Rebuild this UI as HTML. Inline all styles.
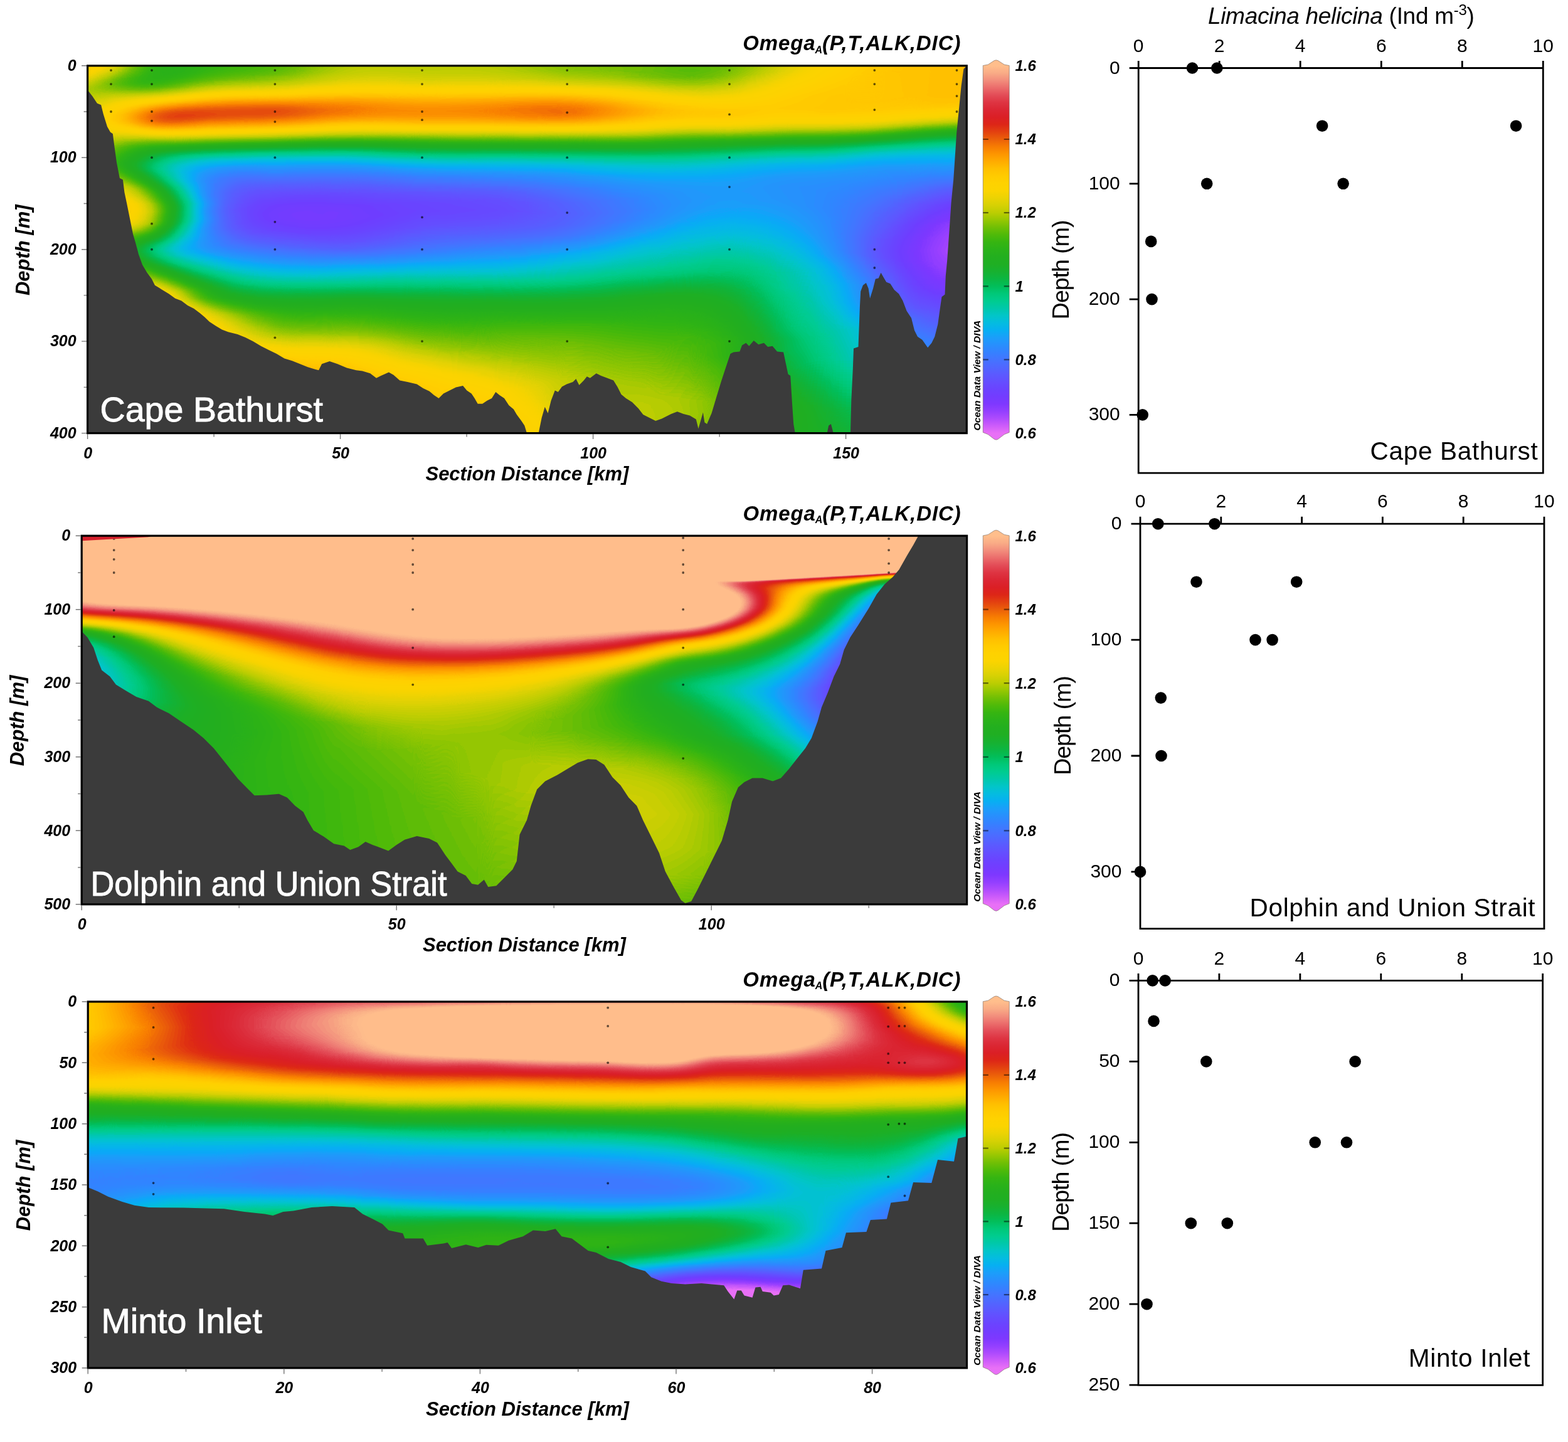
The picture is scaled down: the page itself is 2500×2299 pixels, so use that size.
<!DOCTYPE html>
<html lang="en"><head><meta charset="utf-8"><title>Aragonite saturation sections and Limacina helicina abundance</title>
<style>html,body{margin:0;padding:0;background:#fff}body{position:relative;width:2500px;height:2299px;overflow:hidden}.clip{position:absolute;overflow:hidden}.fld{position:absolute;display:flex;filter:url(#cm)}.fld i{display:block;flex:0 0 6px;height:100%}svg{position:absolute;left:0;top:0}text{font-family:'Liberation Sans', Arial, sans-serif}</style></head><body>
<svg width="0" height="0" style="position:absolute"><defs><filter id="cm" x="0" y="0" width="100%" height="100%" color-interpolation-filters="sRGB"><feGaussianBlur stdDeviation="5 1.2"/><feColorMatrix type="matrix" values=".93773 .058608 .003663 0 0 .93773 .058608 .003663 0 0 .93773 .058608 .003663 0 0 0 0 0 0 1"/><feComponentTransfer><feFuncR type="table" tableValues="0.910 0.910 0.910 0.910 0.910 0.910 0.857 0.804 0.742 0.681 0.620 0.578 0.536 0.494 0.473 0.452 0.431 0.418 0.405 0.392 0.374 0.356 0.337 0.314 0.290 0.267 0.238 0.209 0.180 0.158 0.136 0.106 0.049 0.028 0.022 0.017 0.012 0.008 0.004 0.000 0.000 0.000 0.000 0.000 0.004 0.008 0.028 0.049 0.069 0.088 0.108 0.122 0.129 0.137 0.149 0.163 0.178 0.211 0.256 0.308 0.374 0.439 0.514 0.588 0.663 0.737 0.789 0.841 0.889 0.923 0.957 0.982 0.989 0.995 1.000 1.000 1.000 1.000 1.000 1.000 0.997 0.991 0.984 0.971 0.946 0.922 0.905 0.890 0.877 0.868 0.862 0.857 0.856 0.859 0.862 0.869 0.880 0.891 0.905 0.921 0.936 0.950 0.963 0.976 0.988 1.000 1.000 1.000 1.000 1.000 1.000"/><feFuncG type="table" tableValues="0.439 0.439 0.439 0.439 0.439 0.439 0.400 0.361 0.327 0.293 0.259 0.246 0.233 0.220 0.227 0.235 0.243 0.264 0.285 0.306 0.329 0.353 0.376 0.403 0.429 0.455 0.481 0.507 0.533 0.561 0.589 0.619 0.656 0.685 0.712 0.738 0.757 0.773 0.778 0.784 0.793 0.799 0.791 0.784 0.765 0.745 0.729 0.714 0.703 0.696 0.690 0.686 0.686 0.686 0.690 0.696 0.703 0.711 0.720 0.729 0.739 0.749 0.765 0.780 0.792 0.804 0.811 0.818 0.824 0.827 0.829 0.831 0.828 0.825 0.817 0.797 0.777 0.749 0.710 0.671 0.629 0.583 0.537 0.487 0.430 0.373 0.315 0.255 0.190 0.150 0.137 0.123 0.129 0.149 0.169 0.205 0.252 0.300 0.359 0.425 0.490 0.551 0.610 0.669 0.710 0.745 0.745 0.745 0.745 0.745 0.745"/><feFuncB type="table" tableValues="0.965 0.965 0.965 0.965 0.965 0.965 0.973 0.980 0.987 0.993 1.000 1.000 1.000 1.000 1.000 1.000 1.000 1.000 1.000 1.000 1.000 1.000 1.000 1.000 1.000 1.000 1.000 1.000 1.000 0.993 0.986 0.979 0.974 0.949 0.914 0.880 0.834 0.784 0.725 0.667 0.612 0.560 0.515 0.471 0.412 0.353 0.306 0.259 0.220 0.188 0.157 0.137 0.129 0.122 0.111 0.097 0.084 0.068 0.050 0.036 0.028 0.020 0.014 0.008 0.008 0.008 0.012 0.016 0.018 0.011 0.005 0.000 0.000 0.000 0.000 0.000 0.000 0.000 0.000 0.000 0.000 0.000 0.000 0.007 0.023 0.039 0.051 0.062 0.073 0.092 0.119 0.146 0.173 0.199 0.225 0.260 0.300 0.341 0.380 0.420 0.459 0.484 0.504 0.524 0.537 0.549 0.549 0.549 0.549 0.549 0.549"/></feComponentTransfer></filter></defs></svg>
<div class="clip" style="left:139px;top:104px;width:1403px;height:587px">
<div class="fld" style="left:-26px;top:-5.2px;width:1458px;height:598px">
<i style="background:linear-gradient(#b50 0px,#b2a 8px,#ae7 16px,#9f5 34px,#9b2 40px,#997 44px,#987 50px,#99d 64px,#a0a 82px,#a2c 94px,#a21 110px,#9c7 144px,#9ce 158px,#a16 170px,#b00 192px,#b5a 202px,#bc9 220px,#be8 230px,#bdc 240px,#baa 252px,#b57 264px,#a7d 288px,#a50 298px,#a4f 306px,#a88 318px,#af3 330px,#b86 342px,#cef 366px,#d71 376px,#dfa 390px,#e54 404px,#ea4 426px,#f2e 494px,#ffe 572px,#fff 598px)"></i>
<i style="background:linear-gradient(#b39 0px,#b13 8px,#ae4 14px,#aa3 20px,#9b0 38px,#98f 42px,#97c 48px,#99d 64px,#a12 82px,#a33 94px,#a1e 110px,#9ae 144px,#9ae 158px,#9f5 170px,#ae6 192px,#b41 202px,#bb3 220px,#bd4 230px,#bc7 240px,#b88 254px,#b3d 264px,#a57 288px,#a26 298px,#a26 306px,#a61 318px,#acf 330px,#b65 342px,#cb8 364px,#d5a 376px,#de4 390px,#e3e 404px,#e8d 426px,#f19 494px,#ffe 578px,#fff 598px)"></i>
<i style="background:linear-gradient(#b20 0px,#afa 8px,#acb 14px,#a8a 20px,#9ae 36px,#97b 42px,#96f 46px,#99f 64px,#a1d 82px,#a3b 92px,#a24 108px,#98e 146px,#993 160px,#9e5 172px,#aca 192px,#b28 202px,#b9d 220px,#bc1 230px,#bb2 240px,#b71 254px,#b24 264px,#a65 282px,#a21 290px,#9fd 298px,#9fc 306px,#a39 318px,#aab 330px,#b43 342px,#c9f 364px,#d2b 374px,#dbd 388px,#e1d 402px,#e70 424px,#eff 492px,#ffe 584px,#fff 598px)"></i>
<i style="background:linear-gradient(#b06 0px,#ae1 8px,#ab0 14px,#a6f 20px,#9ab 34px,#974 40px,#962 44px,#96a 50px,#9a3 64px,#a2b 82px,#a47 92px,#a25 108px,#979 144px,#968 156px,#982 164px,#9af 170px,#ac4 194px,#b1d 204px,#b9c 224px,#bad 234px,#b83 246px,#b3f 258px,#af5 266px,#a40 282px,#9f9 290px,#9d2 298px,#9d2 306px,#a11 318px,#a86 330px,#b21 342px,#c86 364px,#d13 374px,#da6 388px,#e06 402px,#e59 424px,#edb 486px,#ffe 590px,#fff 598px)"></i>
<i style="background:linear-gradient(#aeb 0px,#ac5 8px,#a93 14px,#a50 20px,#9a6 32px,#96c 38px,#957 42px,#956 46px,#977 54px,#9b8 66px,#a3a 82px,#a55 92px,#a28 108px,#966 142px,#947 156px,#95e 164px,#98b 170px,#aa8 194px,#af4 202px,#b87 224px,#b99 234px,#b63 248px,#b28 258px,#adb 266px,#a06 284px,#9c2 292px,#9a7 298px,#9a7 306px,#9da 316px,#a62 330px,#aff 342px,#c6d 364px,#cfc 374px,#d7e 386px,#de4 400px,#e3c 422px,#ed0 490px,#fff 598px)"></i>
<i style="background:linear-gradient(#acf 0px,#a88 12px,#a47 18px,#988 32px,#94c 40px,#947 44px,#95f 50px,#9c6 66px,#a3f 80px,#a5d 86px,#a65 92px,#a2c 108px,#94b 142px,#92d 150px,#925 158px,#938 164px,#965 170px,#a8b 194px,#ad9 202px,#b72 224px,#b85 234px,#b43 250px,#b11 258px,#ac0 266px,#9df 284px,#998 292px,#97b 298px,#97b 306px,#9b1 316px,#a3d 330px,#add 342px,#c54 364px,#ce5 374px,#d67 386px,#dcc 400px,#e24 422px,#ebb 490px,#ff4 598px)"></i>
<i style="background:linear-gradient(#ab1 0px,#a97 6px,#a68 12px,#97e 30px,#949 36px,#939 40px,#93b 44px,#95b 50px,#a5f 82px,#a77 92px,#a3f 106px,#930 142px,#90d 150px,#901 158px,#912 164px,#93f 170px,#a6e 194px,#abe 202px,#b5d 224px,#b72 234px,#b2d 250px,#afa 258px,#aa6 266px,#9b8 284px,#96d 292px,#94f 298px,#94f 306px,#988 316px,#a18 330px,#abb 342px,#c3a 364px,#ccd 374px,#d50 386px,#db4 400px,#e06 420px,#ea0 488px,#fe5 598px)"></i>
<i style="background:linear-gradient(#a92 0px,#a78 6px,#a46 12px,#95c 30px,#928 38px,#929 42px,#949 48px,#a69 80px,#a86 86px,#a8b 92px,#a79 98px,#a47 106px,#980 128px,#915 142px,#8e7 152px,#8de 160px,#8f6 166px,#92c 172px,#a4f 194px,#aa3 202px,#b47 224px,#b5e 234px,#b0d 252px,#ae4 258px,#a8b 266px,#9c4 280px,#964 288px,#929 296px,#91e 304px,#94e 314px,#9dc 328px,#a99 342px,#bff 362px,#c9b 372px,#d25 384px,#d91 398px,#dee 420px,#e86 486px,#fd5 598px)"></i>
<i style="background:linear-gradient(#a70 0px,#a36 10px,#950 28px,#91d 34px,#912 38px,#91b 42px,#945 48px,#a80 80px,#aa2 88px,#a9d 94px,#a51 106px,#96f 128px,#907 140px,#8c5 152px,#8b7 160px,#8cd 166px,#903 172px,#a30 194px,#a86 202px,#ac9 212px,#b32 224px,#b46 228px,#b4b 234px,#af8 252px,#ace 258px,#a70 266px,#99f 280px,#93a 288px,#8fc 296px,#8f0 304px,#924 314px,#9b7 328px,#a76 342px,#be6 362px,#c83 372px,#d0d 384px,#d78 398px,#dd5 420px,#e6a 484px,#fc5 598px)"></i>
<i style="background:linear-gradient(#a4d 0px,#a32 6px,#9fd 12px,#919 30px,#900 34px,#8fc 38px,#92e 46px,#a8a 78px,#ab7 86px,#ab4 94px,#a92 100px,#a5c 106px,#973 126px,#8fc 138px,#8ad 150px,#890 160px,#8a3 166px,#8da 172px,#a0f 194px,#a6a 202px,#aab 212px,#b1c 224px,#b32 228px,#b37 234px,#ae3 252px,#ab8 258px,#a72 264px,#979 280px,#90f 288px,#8cd 296px,#8c2 304px,#8f9 314px,#992 328px,#a54 342px,#bcc 362px,#c6b 372px,#cf5 384px,#d5f 398px,#dbc 420px,#e4f 482px,#fb5 598px)"></i>
<i style="background:linear-gradient(#a28 0px,#a0c 6px,#9d6 12px,#90a 28px,#8e2 36px,#912 44px,#9f5 62px,#aa4 78px,#ad2 86px,#ad3 92px,#ab6 98px,#a7e 104px,#964 126px,#8e1 138px,#881 152px,#869 162px,#888 168px,#8c7 174px,#a38 200px,#a9f 214px,#b06 224px,#b1d 228px,#b22 234px,#acf 252px,#aa2 258px,#a58 264px,#953 280px,#8e4 288px,#89e 296px,#893 304px,#8ce 314px,#954 326px,#a32 342px,#bb2 362px,#c36 370px,#cc8 382px,#d39 396px,#d9c 418px,#e39 482px,#fa6 598px)"></i>
<i style="background:linear-gradient(#a00 0px,#9e2 6px,#9ac 12px,#8e9 28px,#8d0 32px,#8cc 36px,#908 44px,#a04 62px,#aac 76px,#ae7 84px,#aee 92px,#acd 98px,#a8d 104px,#955 126px,#8c7 138px,#85f 152px,#83f 162px,#85c 168px,#89c 174px,#9e6 196px,#a2d 202px,#a72 212px,#afc 226px,#b0d 234px,#abb 252px,#a8c 258px,#a3e 264px,#92d 280px,#8b8 288px,#86f 296px,#864 304px,#8a2 314px,#914 324px,#a10 342px,#b99 362px,#c1d 370px,#caf 382px,#d1f 396px,#d82 418px,#e1d 480px,#f96 598px)"></i>
<i style="background:linear-gradient(#9d7 0px,#994 10px,#8ca 28px,#8b5 32px,#8b6 36px,#8fe 44px,#a14 62px,#ac8 76px,#b05 84px,#b0a 92px,#af6 96px,#ab9 102px,#a29 112px,#946 126px,#8c2 136px,#83c 152px,#815 162px,#82f 168px,#86f 174px,#8de 182px,#9c1 196px,#a0c 202px,#a57 212px,#ae4 226px,#af6 234px,#a89 256px,#a23 264px,#907 280px,#872 290px,#835 298px,#833 304px,#853 310px,#8a1 318px,#9cf 340px,#a36 346px,#b7f 362px,#c20 372px,#ca8 384px,#d05 396px,#d68 418px,#e01 478px,#f87 598px)"></i>
<i style="background:linear-gradient(#9ac 0px,#955 12px,#8bb 26px,#89c 32px,#8a2 36px,#8f5 44px,#a23 62px,#ace 74px,#b24 84px,#b28 92px,#b12 96px,#acd 102px,#a30 112px,#938 126px,#8a9 136px,#858 144px,#80a 154px,#7ed 160px,#7ed 164px,#813 170px,#85a 176px,#8ce 184px,#9b9 198px,#9ea 202px,#a39 212px,#aca 226px,#add 234px,#a9d 250px,#a72 256px,#a07 264px,#8e0 280px,#844 290px,#804 298px,#803 304px,#825 310px,#877 318px,#9ae 340px,#a16 346px,#b65 362px,#c05 372px,#c8d 384px,#cea 396px,#d4d 418px,#de5 476px,#f77 598px)"></i>
<i style="background:linear-gradient(#981 0px,#929 12px,#89e 26px,#885 32px,#890 36px,#8ed 44px,#a54 64px,#aea 74px,#b3a 82px,#b4e 90px,#b30 96px,#ae4 102px,#a39 112px,#92b 126px,#891 136px,#83a 144px,#7e4 154px,#7c2 160px,#7bf 164px,#7e3 170px,#844 178px,#8be 186px,#990 198px,#9c5 202px,#a19 212px,#aad 226px,#abe 230px,#abf 236px,#a87 250px,#a5a 256px,#9ea 264px,#8dd 278px,#815 290px,#7d2 298px,#7d1 304px,#7f6 310px,#84c 318px,#9ac 342px,#b25 360px,#bcf 370px,#c5e 382px,#cc1 394px,#d2c 416px,#dc8 474px,#f68 598px)"></i>
<i style="background:linear-gradient(#956 0px,#883 26px,#870 32px,#87f 36px,#8e6 44px,#a65 64px,#b07 74px,#b5b 82px,#b70 90px,#b4f 96px,#afc 102px,#a43 112px,#920 126px,#879 136px,#81b 144px,#7be 154px,#796 160px,#791 164px,#7b1 170px,#82d 180px,#964 198px,#99b 202px,#9f5 212px,#a8c 226px,#aa1 236px,#a6e 250px,#a3f 256px,#9cb 264px,#8dd 276px,#7e6 290px,#79f 298px,#79f 304px,#7c7 310px,#821 318px,#98d 342px,#b0b 360px,#bb4 370px,#c41 382px,#ca4 394px,#d10 416px,#dab 472px,#f58 598px)"></i>
<i style="background:linear-gradient(#92c 0px,#86b 26px,#85e 32px,#871 36px,#8e1 44px,#a76 64px,#b24 74px,#b7e 82px,#b94 86px,#b94 90px,#b71 96px,#b17 102px,#a4e 112px,#916 126px,#881 134px,#7e7 146px,#76a 160px,#765 166px,#791 172px,#833 184px,#933 198px,#96d 202px,#9e1 214px,#a55 224px,#a71 228px,#a7f 234px,#a59 248px,#a20 256px,#9ed 260px,#987 266px,#8b8 276px,#7b7 290px,#776 296px,#766 302px,#776 306px,#7ab 312px,#832 322px,#993 344px,#af0 360px,#b98 370px,#c24 382px,#c87 394px,#cf4 416px,#d8e 470px,#f49 598px)"></i>
<i style="background:linear-gradient(#904 0px,#85e 24px,#84c 30px,#856 34px,#87c 38px,#8dd 44px,#ab0 66px,#b42 74px,#ba3 82px,#bb9 86px,#bba 90px,#b93 96px,#b33 102px,#a5b 112px,#90d 126px,#86f 134px,#7c6 146px,#76d 154px,#73d 160px,#733 166px,#75a 172px,#7fb 184px,#939 202px,#a3a 226px,#a58 236px,#a2b 250px,#9e6 258px,#93f 268px,#894 276px,#788 290px,#743 296px,#733 302px,#766 310px,#7e8 320px,#97a 344px,#ad4 360px,#b5e 368px,#bf1 380px,#c68 394px,#cd8 416px,#d70 468px,#e8d 546px,#f3a 598px)"></i>
<i style="background:linear-gradient(#8de 0px,#89f 8px,#849 24px,#83e 30px,#84c 34px,#876 38px,#8db 44px,#ac3 66px,#b61 74px,#bc8 82px,#bdf 86px,#be1 90px,#bb6 96px,#b50 102px,#a6a 112px,#906 126px,#83c 136px,#78b 148px,#710 160px,#700 166px,#721 172px,#7c0 184px,#8c0 198px,#919 204px,#a08 226px,#a25 232px,#a2b 238px,#a01 250px,#9bf 258px,#919 268px,#758 290px,#70f 296px,#6ff 302px,#735 310px,#7bd 320px,#8be 334px,#963 344px,#ab8 360px,#b40 368px,#bd1 380px,#c49 394px,#c90 406px,#cc3 418px,#d52 466px,#e75 544px,#f2b 598px)"></i>
<i style="background:linear-gradient(#8bb 0px,#87a 8px,#83d 22px,#831 28px,#844 34px,#871 38px,#8dc 44px,#b03 68px,#ba1 76px,#bed 82px,#c04 86px,#c06 90px,#bd8 96px,#b6c 102px,#a78 112px,#901 126px,#82b 136px,#74c 150px,#6e3 160px,#6cd 166px,#6e8 172px,#784 184px,#8a2 200px,#8f6 206px,#9d1 226px,#9fa 238px,#9cf 250px,#992 258px,#8f0 268px,#727 290px,#6db 296px,#6cb 302px,#704 310px,#791 320px,#89e 334px,#971 346px,#a9a 360px,#b03 366px,#baf 380px,#c29 394px,#c72 406px,#ca6 418px,#d33 464px,#e5d 542px,#f1b 598px)"></i>
<i style="background:linear-gradient(#89b 0px,#865 6px,#835 18px,#827 28px,#840 34px,#892 40px,#909 46px,#b18 68px,#bc0 76px,#c0f 82px,#c29 90px,#bf7 96px,#b87 102px,#a86 112px,#8fc 126px,#81b 136px,#727 150px,#6b7 160px,#69c 168px,#6c3 174px,#746 184px,#85e 200px,#8cf 208px,#994 226px,#9c1 238px,#98c 252px,#95e 258px,#89a 270px,#71b 288px,#6d4 292px,#69a 298px,#697 302px,#6d4 310px,#765 320px,#87d 334px,#97c 348px,#a7a 360px,#ae2 366px,#b8c 380px,#c08 394px,#c53 406px,#c89 418px,#d14 462px,#e45 540px,#f0c 598px)"></i>
<i style="background:linear-gradient(#87f 0px,#849 6px,#825 16px,#81e 26px,#83f 34px,#895 40px,#90f 46px,#b5d 70px,#bdd 76px,#c2f 82px,#c45 86px,#c47 90px,#c2e 94px,#c12 96px,#b9d 102px,#a93 112px,#8fa 126px,#7e3 138px,#703 150px,#6b4 156px,#67e 162px,#669 168px,#68a 174px,#707 184px,#838 202px,#88c 208px,#950 226px,#971 232px,#981 240px,#941 254px,#921 258px,#863 270px,#6e7 288px,#6a0 292px,#666 298px,#664 302px,#6a4 310px,#739 320px,#859 334px,#983 350px,#a58 360px,#ac0 366px,#b67 380px,#be5 394px,#c33 406px,#c6b 418px,#cf5 460px,#e2c 538px,#efd 598px)"></i>
<i style="background:linear-gradient(#867 0px,#833 6px,#815 16px,#819 26px,#843 34px,#89c 40px,#916 46px,#b72 70px,#bf6 76px,#c4a 82px,#c61 86px,#c61 90px,#c28 96px,#baf 102px,#ad7 110px,#8f8 126px,#85e 132px,#7a7 140px,#6c3 152px,#653 162px,#63b 170px,#667 176px,#6e4 186px,#7ee 202px,#843 208px,#907 226px,#938 238px,#903 252px,#8d9 258px,#81f 270px,#6b0 288px,#66b 292px,#633 298px,#633 302px,#676 310px,#70c 320px,#a33 360px,#a9b 366px,#b55 382px,#bc2 394px,#c13 406px,#c4d 418px,#cd5 458px,#e14 536px,#eef 598px)"></i>
<i style="background:linear-gradient(#854 0px,#822 6px,#809 16px,#817 26px,#84b 34px,#8a5 40px,#94e 48px,#b87 70px,#c0d 76px,#c61 82px,#c7a 88px,#c55 94px,#c13 98px,#bbb 102px,#ae0 110px,#8c0 128px,#73c 144px,#6a2 152px,#62b 162px,#60d 170px,#631 176px,#6be 188px,#7a2 202px,#80e 210px,#8b7 226px,#8da 232px,#8e8 238px,#8b3 252px,#889 258px,#7d3 270px,#636 292px,#601 298px,#603 302px,#649 310px,#6e0 320px,#a0b 360px,#a74 366px,#b42 384px,#bad 396px,#bfe 408px,#c37 420px,#cc4 460px,#e13 540px,#ee0 598px)"></i>
<i style="background:linear-gradient(#844 0px,#80d 8px,#802 16px,#819 26px,#855 34px,#8b1 40px,#95a 48px,#b9a 70px,#c21 76px,#c75 82px,#c8c 88px,#c62 94px,#bf3 100px,#ae6 110px,#8f7 126px,#786 140px,#6f9 146px,#683 152px,#605 162px,#5e1 170px,#60d 178px,#67b 188px,#78d 206px,#82a 220px,#87d 230px,#891 238px,#85d 252px,#832 258px,#781 270px,#61c 290px,#5da 296px,#5cf 300px,#606 308px,#6b4 320px,#9e0 360px,#a4b 366px,#b2e 386px,#b98 398px,#bde 408px,#c19 420px,#cac 460px,#df3 536px,#ed1 598px)"></i>
<i style="background:linear-gradient(#838 0px,#805 8px,#7fe 16px,#81d 26px,#862 34px,#8bf 40px,#968 48px,#bac 70px,#c33 76px,#c85 82px,#c9a 88px,#c6a 94px,#c24 98px,#bc8 102px,#aea 110px,#8bd 128px,#6e2 146px,#646 154px,#5d1 164px,#5b9 172px,#5e8 180px,#651 190px,#73b 206px,#7d4 220px,#825 230px,#835 238px,#80c 250px,#7d7 258px,#6d1 276px,#5e6 290px,#5ab 296px,#5a2 300px,#5dd 308px,#68a 320px,#9b4 360px,#a20 366px,#b04 386px,#b84 400px,#bf2 418px,#c8b 458px,#da1 520px,#ec2 598px)"></i>
<i style="background:linear-gradient(#830 0px,#801 8px,#7fe 16px,#824 26px,#870 34px,#8ce 40px,#976 48px,#b89 68px,#c1a 74px,#c63 78px,#c92 82px,#ca4 88px,#c6e 94px,#c27 98px,#bca 102px,#aaf 112px,#8bc 128px,#769 140px,#69f 148px,#60b 156px,#5ae 164px,#590 172px,#5c1 182px,#60d 190px,#6d0 204px,#768 218px,#7bd 228px,#7d6 236px,#7bf 246px,#77a 258px,#66a 278px,#5b0 290px,#57d 296px,#577 300px,#5b6 308px,#661 320px,#9f2 366px,#aee 388px,#b6f 402px,#bd3 418px,#c6a 456px,#d90 520px,#eb4 598px)"></i>
<i style="background:linear-gradient(#82a 0px,#800 8px,#805 18px,#82d 26px,#880 34px,#8de 40px,#986 48px,#b98 68px,#c28 74px,#c6f 78px,#c9c 82px,#caa 88px,#c6f 94px,#c26 98px,#bc8 102px,#aaf 112px,#87f 130px,#725 142px,#68b 148px,#5f0 156px,#58e 164px,#568 172px,#599 184px,#5cc 190px,#696 206px,#721 220px,#75f 228px,#774 236px,#75f 246px,#71b 258px,#623 278px,#57e 290px,#553 296px,#550 300px,#592 308px,#63b 320px,#9c0 366px,#ac0 388px,#b5c 404px,#bbd 420px,#c51 456px,#d76 518px,#ea5 598px)"></i>
<i style="background:linear-gradient(#827 0px,#801 8px,#804 16px,#829 24px,#875 32px,#8f0 40px,#997 48px,#ba6 68px,#c34 74px,#c78 78px,#ca2 82px,#cac 88px,#c89 92px,#c4b 96px,#b91 104px,#aad 112px,#78b 138px,#678 148px,#5d8 156px,#571 164px,#544 172px,#563 184px,#58e 190px,#643 206px,#6d7 222px,#707 230px,#70f 236px,#6fd 246px,#6cd 256px,#54e 290px,#52c 296px,#52d 300px,#571 308px,#618 320px,#741 336px,#922 360px,#98a 366px,#a0d 378px,#abf 392px,#b49 406px,#b9e 420px,#c2f 454px,#d65 518px,#e97 598px)"></i>
<i style="background:linear-gradient(#825 0px,#805 8px,#80b 16px,#833 24px,#885 32px,#901 40px,#9a8 48px,#bb4 68px,#c3d 74px,#c97 80px,#cb1 86px,#c86 92px,#c46 96px,#bf0 100px,#aa9 112px,#781 138px,#69b 146px,#60c 152px,#5c2 156px,#544 166px,#51f 174px,#539 186px,#565 192px,#5e0 204px,#67a 222px,#6a4 230px,#6a9 236px,#695 248px,#66f 256px,#532 288px,#50d 294px,#50d 300px,#553 308px,#61a 322px,#718 336px,#8ee 360px,#952 366px,#9d6 378px,#ac1 396px,#b26 406px,#b7e 420px,#c0d 452px,#d4c 516px,#de9 554px,#e88 598px)"></i>
<i style="background:linear-gradient(#826 0px,#80b 8px,#813 16px,#83e 24px,#894 32px,#913 40px,#98c 46px,#a4d 54px,#bc0 68px,#c45 74px,#c9a 80px,#cb0 86px,#c80 92px,#be9 100px,#aa5 112px,#73a 140px,#658 148px,#5ae 156px,#52a 166px,#4fa 176px,#507 186px,#52a 192px,#61e 222px,#63d 228px,#645 234px,#63a 246px,#61e 254px,#506 288px,#4e9 294px,#4e9 298px,#520 306px,#5db 320px,#6f0 336px,#8fd 364px,#99e 378px,#ab0 398px,#b13 408px,#b69 422px,#bea 450px,#d3b 516px,#dda 554px,#e7a 598px)"></i>
<i style="background:linear-gradient(#828 0px,#811 8px,#81c 16px,#84a 24px,#8a4 32px,#924 40px,#99d 46px,#a5d 54px,#bca 68px,#c4c 74px,#c9d 80px,#cad 86px,#c92 90px,#c5a 94px,#bb0 102px,#a64 114px,#730 140px,#64a 148px,#59b 156px,#513 166px,#4d8 176px,#4d7 186px,#4f2 192px,#5d0 224px,#5e2 230px,#5dc 244px,#5b8 256px,#4dd 288px,#4c8 294px,#4cc 298px,#507 306px,#5de 322px,#6a7 334px,#8c7 364px,#966 378px,#a89 398px,#af1 408px,#b4a 422px,#d21 514px,#dc3 552px,#e6c 598px)"></i>
<i style="background:linear-gradient(#82b 0px,#819 8px,#825 16px,#857 24px,#899 30px,#912 38px,#9ae 46px,#bd4 68px,#c52 74px,#c9e 80px,#caa 86px,#c8b 90px,#c51 94px,#ba7 102px,#a5f 114px,#727 140px,#63e 148px,#58b 156px,#4fd 166px,#4b9 176px,#4ae 188px,#57f 226px,#57f 246px,#56c 254px,#520 266px,#4b6 288px,#4ac 296px,#4db 304px,#589 318px,#684 334px,#875 362px,#913 376px,#a61 398px,#acf 408px,#b2b 422px,#d08 512px,#dac 550px,#e5e 598px)"></i>
<i style="background:linear-gradient(#82f 0px,#821 8px,#82f 16px,#863 24px,#8a8 30px,#923 38px,#9be 46px,#bae 66px,#c33 72px,#c75 76px,#c9e 80px,#ca5 86px,#c84 90px,#c23 96px,#b9e 102px,#b03 108px,#9df 118px,#6e0 142px,#5ff 150px,#559 158px,#4d5 168px,#494 178px,#482 188px,#4db 212px,#528 226px,#51d 238px,#528 248px,#519 254px,#4d9 266px,#497 286px,#491 296px,#4d9 306px,#58d 320px,#663 334px,#843 362px,#8dc 376px,#a3a 398px,#aac 408px,#b0b 422px,#cee 510px,#d95 548px,#e50 598px)"></i>
<i style="background:linear-gradient(#833 0px,#829 8px,#83a 16px,#86f 24px,#8b6 30px,#932 38px,#9cd 46px,#bb7 66px,#c38 72px,#c78 76px,#c9d 80px,#ca1 86px,#c7d 90px,#c19 96px,#b95 102px,#afb 108px,#a18 116px,#6d7 142px,#5f3 150px,#54b 158px,#4c3 168px,#478 178px,#45a 188px,#492 212px,#4cb 222px,#4d9 228px,#4c4 238px,#4d5 250px,#496 266px,#46f 288px,#472 294px,#4b0 304px,#590 322px,#644 334px,#7f6 360px,#845 366px,#8a8 376px,#a31 400px,#a9b 410px,#aec 422px,#cde 510px,#d86 548px,#e42 598px)"></i>
<i style="background:linear-gradient(#837 0px,#830 8px,#843 16px,#87b 24px,#8c3 30px,#940 38px,#9db 46px,#bbf 66px,#c3c 72px,#c8e 78px,#ca3 84px,#c8c 88px,#c59 92px,#b8e 102px,#a13 116px,#6cf 142px,#61e 148px,#5b9 152px,#53e 158px,#4b2 168px,#45e 178px,#434 190px,#450 212px,#48b 226px,#473 238px,#489 250px,#45a 264px,#454 292px,#46c 298px,#49c 304px,#57a 322px,#627 334px,#7ca 360px,#817 366px,#879 376px,#a0c 400px,#a79 410px,#acc 422px,#cc4 508px,#d6f 546px,#e34 598px)"></i>
<i style="background:linear-gradient(#83b 0px,#837 8px,#84c 16px,#873 22px,#8b3 28px,#92b 36px,#9bd 44px,#bc6 66px,#c40 72px,#c8e 78px,#c9f 84px,#c87 88px,#c53 92px,#b87 102px,#a0e 116px,#6c7 142px,#5e1 150px,#583 154px,#511 160px,#48d 170px,#43b 180px,#412 190px,#416 212px,#445 226px,#42c 238px,#442 252px,#420 264px,#435 290px,#44b 296px,#489 304px,#57e 324px,#7a1 360px,#86e 378px,#9e8 400px,#a57 410px,#c15 480px,#caa 506px,#d58 544px,#e26 598px)"></i>
<i style="background:linear-gradient(#83f 0px,#83d 8px,#854 16px,#87d 22px,#8be 28px,#936 36px,#9c9 44px,#bcd 66px,#c43 72px,#c8d 78px,#c9b 84px,#c81 88px,#c4d 92px,#b81 102px,#ab4 110px,#a08 116px,#6c0 142px,#5da 150px,#57b 154px,#507 160px,#47e 170px,#418 182px,#3ee 194px,#3e3 212px,#404 226px,#3ed 238px,#403 250px,#3ec 264px,#415 288px,#436 296px,#464 302px,#569 324px,#77a 360px,#84b 378px,#9c4 400px,#a46 412px,#bf6 478px,#c9b 506px,#d4a 544px,#e19 598px)"></i>
<i style="background:linear-gradient(#843 0px,#843 8px,#85c 16px,#886 22px,#8c8 28px,#940 36px,#9d3 44px,#ba6 64px,#c23 70px,#c63 74px,#c8c 78px,#c98 84px,#c7c 88px,#c48 92px,#bd7 98px,#b4c 104px,#a78 112px,#9c6 118px,#6f9 140px,#608 148px,#5a1 152px,#522 158px,#489 168px,#404 182px,#3cf 194px,#3b5 212px,#3ca 224px,#3b4 238px,#3c8 250px,#3bc 262px,#3c7 270px,#416 294px,#441 300px,#493 308px,#5a3 330px,#757 360px,#80e 376px,#9bd 402px,#a35 414px,#be5 478px,#c8b 506px,#d3b 544px,#e0b 598px)"></i>
<i style="background:linear-gradient(#846 0px,#848 8px,#863 16px,#88e 22px,#8d0 28px,#948 36px,#9dc 44px,#bac 64px,#c27 70px,#c64 74px,#c8b 78px,#c94 84px,#c78 88px,#c44 92px,#bd3 98px,#b48 104px,#a74 112px,#9c1 118px,#6f3 140px,#603 148px,#59b 152px,#51a 158px,#47e 168px,#425 176px,#3d7 186px,#397 206px,#395 226px,#381 238px,#395 266px,#3f6 292px,#46c 306px,#58f 330px,#737 360px,#7f2 376px,#99b 402px,#a15 414px,#bc6 476px,#c72 504px,#d25 542px,#dfe 598px)"></i>
<i style="background:linear-gradient(#84a 0px,#84d 8px,#86a 16px,#896 22px,#8d8 28px,#950 36px,#9e4 44px,#bb2 64px,#c2a 70px,#c65 74px,#c8a 78px,#c91 84px,#c74 88px,#c40 92px,#bd0 98px,#b45 104px,#a6f 112px,#9bd 118px,#6ee 140px,#5fd 148px,#514 158px,#475 168px,#419 176px,#3c6 186px,#370 208px,#353 238px,#370 266px,#3e3 292px,#420 300px,#473 308px,#562 328px,#71a 360px,#7d9 376px,#97b 402px,#9f5 414px,#b9a 472px,#c58 502px,#d0e 540px,#df0 598px)"></i>
<i style="background:linear-gradient(#84e 0px,#866 14px,#89d 22px,#8df 28px,#956 36px,#9eb 44px,#bb6 64px,#c2d 70px,#c67 74px,#c8a 78px,#c8f 84px,#c71 88px,#c3d 92px,#bcd 98px,#b42 104px,#aa4 110px,#9b9 118px,#6e8 140px,#5f8 148px,#50f 158px,#46e 168px,#40f 176px,#3b7 186px,#353 208px,#32a 238px,#348 264px,#3c3 290px,#400 298px,#465 308px,#56a 330px,#700 360px,#7c2 376px,#95c 402px,#9d6 414px,#b88 472px,#c4a 502px,#d00 540px,#de3 598px)"></i>
<i style="background:linear-gradient(#851 0px,#86b 14px,#8a3 22px,#8e6 28px,#95d 36px,#9f1 44px,#bbb 64px,#c2f 70px,#c68 74px,#c8a 78px,#c8d 84px,#c6f 88px,#c3a 92px,#bca 98px,#b3f 104px,#aa0 110px,#9b5 118px,#6e3 140px,#5f4 148px,#50a 158px,#468 168px,#407 176px,#3ab 186px,#339 208px,#305 238px,#323 262px,#349 272px,#3a4 288px,#3f2 298px,#457 308px,#559 330px,#7ae 376px,#93e 402px,#9b8 414px,#b69 470px,#c31 500px,#cea 538px,#dd6 598px)"></i>
<i style="background:linear-gradient(#855 0px,#870 14px,#8a9 22px,#8ec 28px,#962 36px,#9f6 44px,#bbe 64px,#c32 70px,#c69 74px,#c8a 78px,#c8b 84px,#c6c 88px,#c37 92px,#bc7 98px,#b3c 104px,#a9d 110px,#9b1 118px,#6de 140px,#5ef 148px,#506 158px,#463 168px,#401 176px,#3a1 186px,#35e 196px,#323 208px,#2e6 236px,#301 260px,#325 270px,#385 286px,#3d2 296px,#44b 308px,#563 332px,#781 374px,#922 402px,#99b 414px,#b4a 468px,#c23 500px,#cdc 538px,#dc9 598px)"></i>
<i style="background:linear-gradient(#859 0px,#875 14px,#8af 22px,#8f1 28px,#967 36px,#9fb 44px,#bc2 64px,#c34 70px,#c6b 74px,#c8a 78px,#c8a 84px,#c6a 88px,#c13 94px,#b39 104px,#a9a 110px,#9ad 118px,#6da 140px,#5eb 148px,#503 158px,#45f 168px,#3fc 176px,#39a 186px,#351 196px,#310 208px,#2ca 236px,#2e1 258px,#304 268px,#34a 280px,#400 302px,#4f5 324px,#5b9 340px,#78b 376px,#8b8 396px,#91f 404px,#96e 412px,#a28 436px,#b0b 462px,#bcb 488px,#c57 512px,#cf9 548px,#dbc 598px)"></i>
<i style="background:linear-gradient(#85e 0px,#87a 14px,#8a3 20px,#8f7 28px,#96b 36px,#9fe 44px,#bc5 64px,#c36 70px,#c6c 74px,#c8b 78px,#c89 84px,#c68 88px,#c11 94px,#b37 104px,#a97 110px,#9aa 118px,#6d5 140px,#61f 146px,#528 156px,#479 166px,#3f8 176px,#394 186px,#346 196px,#301 208px,#2b4 234px,#2c4 256px,#2e5 266px,#32b 278px,#385 290px,#3f5 302px,#4e9 324px,#5c4 342px,#77d 376px,#8a2 396px,#906 404px,#b0c 464px,#bcb 490px,#c4a 512px,#cec 548px,#daf 598px)"></i>
<i style="background:linear-gradient(#862 0px,#87f 14px,#8a8 20px,#8fc 28px,#970 36px,#a02 44px,#bc7 64px,#c39 70px,#c6e 74px,#c8c 78px,#c88 84px,#c67 88px,#c0e 94px,#b34 104px,#a94 110px,#9a6 118px,#6d1 140px,#61b 146px,#525 156px,#477 166px,#3f6 176px,#38f 186px,#33e 196px,#2f4 208px,#2c2 220px,#29e 234px,#2aa 254px,#2c9 264px,#300 274px,#368 288px,#3d7 300px,#4c7 322px,#5b6 342px,#771 376px,#8d8 402px,#93a 412px,#a0b 438px,#afd 464px,#bbe 490px,#c3d 512px,#cdf 548px,#da2 598px)"></i>
<i style="background:linear-gradient(#867 0px,#884 14px,#8ad 20px,#901 28px,#973 36px,#a04 44px,#bca 64px,#c3b 70px,#c70 74px,#c8d 78px,#c88 84px,#c65 88px,#c0c 94px,#b31 104px,#a91 110px,#9a3 118px,#6cd 140px,#617 146px,#523 156px,#476 166px,#3f4 176px,#38c 186px,#329 198px,#2e9 208px,#28f 232px,#286 242px,#296 254px,#2b8 264px,#2f1 274px,#34b 286px,#3ce 300px,#5aa 342px,#8c3 402px,#9e4 436px,#aff 466px,#bb2 490px,#c31 512px,#cd2 548px,#d95 598px)"></i>
<i style="background:linear-gradient(#86c 0px,#889 14px,#8b2 20px,#905 28px,#977 36px,#a07 44px,#bcc 64px,#c3d 70px,#c72 74px,#c8e 78px,#c87 84px,#c64 88px,#c09 94px,#b2d 104px,#a8e 110px,#99f 118px,#6c9 140px,#613 146px,#54a 154px,#494 164px,#425 172px,#3b2 182px,#344 194px,#2ec 206px,#2ae 218px,#284 230px,#276 242px,#281 252px,#29f 262px,#2d6 272px,#32f 284px,#3b1 298px,#487 318px,#59f 342px,#899 400px,#8fb 410px,#9cf 436px,#af2 466px,#ba7 490px,#c25 512px,#ccd 550px,#d89 598px)"></i>
<i style="background:linear-gradient(#872 0px,#88e 14px,#8b8 20px,#90a 28px,#97b 36px,#a09 44px,#bcd 64px,#c3f 70px,#c73 74px,#c8f 78px,#c87 84px,#c62 88px,#c29 92px,#bb6 98px,#b2a 104px,#a8a 110px,#99c 118px,#6c5 140px,#60f 146px,#548 154px,#493 164px,#3b2 182px,#330 196px,#2e6 206px,#29a 220px,#277 230px,#268 242px,#272 252px,#292 262px,#2ca 272px,#325 284px,#395 296px,#469 316px,#595 342px,#888 400px,#9bb 436px,#ae6 466px,#b9c 490px,#c0f 510px,#cb0 546px,#d7c 598px)"></i>
<i style="background:linear-gradient(#878 0px,#894 14px,#8bd 20px,#910 28px,#97f 36px,#a0c 44px,#a88 50px,#bcf 64px,#c40 70px,#c75 74px,#c91 78px,#c86 84px,#c60 88px,#c03 94px,#b86 100px,#af3 106px,#998 118px,#6c1 140px,#60b 146px,#545 154px,#4b2 162px,#426 172px,#3b2 182px,#32e 196px,#2e1 206px,#291 220px,#26c 230px,#25c 242px,#266 252px,#2b2 270px,#30a 282px,#37a 294px,#44b 314px,#58d 342px,#863 398px,#8b2 406px,#9a8 436px,#a6c 454px,#adb 466px,#b91 490px,#c04 510px,#ca4 546px,#d70 598px)"></i>
<i style="background:linear-gradient(#87f 0px,#89a 14px,#8c3 20px,#915 28px,#983 36px,#a0e 44px,#a89 50px,#bd0 64px,#c42 70px,#c76 74px,#c91 78px,#c85 84px,#c5e 88px,#bff 94px,#b82 100px,#aef 106px,#995 118px,#6be 140px,#608 146px,#543 154px,#4b2 162px,#3b2 182px,#2dd 206px,#28a 220px,#263 230px,#252 242px,#25b 252px,#27b 262px,#2a8 270px,#35e 292px,#444 314px,#585 342px,#714 372px,#840 396px,#8a2 406px,#997 436px,#a75 456px,#ae1 468px,#b87 490px,#bf9 510px,#d63 598px)"></i>
<i style="background:linear-gradient(#885 0px,#8a0 14px,#8ca 20px,#91b 28px,#988 36px,#a38 46px,#bd1 64px,#c42 70px,#c77 74px,#c92 78px,#c83 84px,#c5b 88px,#bfb 94px,#b7e 100px,#aeb 106px,#991 118px,#6ba 140px,#604 146px,#541 154px,#4b1 162px,#3b3 182px,#2da 206px,#284 220px,#25b 230px,#249 242px,#252 252px,#272 262px,#2a0 270px,#357 292px,#43e 314px,#57e 342px,#70f 372px,#835 396px,#893 406px,#975 434px,#a6b 456px,#ad8 468px,#b7e 490px,#bef 510px,#d57 598px)"></i>
<i style="background:linear-gradient(#88d 0px,#8a7 14px,#8d1 20px,#921 28px,#98d 36px,#a3b 46px,#bd2 64px,#c42 70px,#c77 74px,#c91 78px,#c80 84px,#c58 88px,#bf7 94px,#b79 100px,#ae6 106px,#98d 118px,#6b6 140px,#601 146px,#53f 154px,#4b1 162px,#3b4 182px,#2d8 206px,#25a 228px,#242 242px,#24a 252px,#28b 268px,#33c 290px,#422 312px,#579 342px,#60f 354px,#70c 372px,#816 394px,#876 404px,#8ec 420px,#967 434px,#a62 456px,#ad0 468px,#b68 488px,#bda 508px,#d4b 598px)"></i>
<i style="background:linear-gradient(#895 0px,#8af 14px,#8d9 20px,#928 28px,#992 36px,#a3f 46px,#bd2 64px,#c41 70px,#c75 74px,#c8e 78px,#c7d 84px,#c53 88px,#bf2 94px,#b74 100px,#ae1 106px,#988 118px,#6b3 140px,#5fe 146px,#53e 154px,#4b1 162px,#3b4 182px,#317 198px,#2c8 208px,#270 222px,#24f 230px,#23b 242px,#243 252px,#284 268px,#335 290px,#41d 312px,#58c 344px,#708 372px,#7f9 392px,#85b 402px,#8df 420px,#95b 434px,#a5a 456px,#ac8 468px,#b60 488px,#bd1 508px,#d3f 598px)"></i>
<i style="background:linear-gradient(#89e 0px,#8b9 14px,#8e1 20px,#930 28px,#999 36px,#a44 46px,#bd3 64px,#c40 70px,#c72 74px,#c8a 78px,#c78 84px,#c4e 88px,#bec 94px,#b6e 100px,#adc 106px,#983 118px,#6b0 140px,#5fc 146px,#53c 154px,#4b0 162px,#3b4 182px,#316 198px,#2c6 208px,#26c 222px,#24a 230px,#236 242px,#23d 252px,#27e 268px,#32f 290px,#418 312px,#588 344px,#705 372px,#7dd 390px,#852 402px,#8d5 420px,#951 434px,#a52 456px,#ac2 468px,#b59 488px,#bbd 506px,#d33 598px)"></i>
<i style="background:linear-gradient(#8a7 0px,#8c3 14px,#8eb 20px,#938 28px,#9a0 36px,#a24 44px,#a99 50px,#bd2 64px,#c3d 70px,#c6d 74px,#c84 78px,#c72 84px,#c48 88px,#be6 94px,#b69 100px,#ad6 106px,#97e 118px,#6ad 140px,#5fb 146px,#53c 154px,#4af 162px,#3b4 182px,#316 198px,#2c4 208px,#274 220px,#246 230px,#231 242px,#238 252px,#279 268px,#329 290px,#413 312px,#585 344px,#703 372px,#7c3 388px,#839 400px,#8cc 420px,#936 432px,#a4c 456px,#abd 468px,#b52 488px,#bb4 506px,#d27 598px)"></i>
<i style="background:linear-gradient(#8b0 0px,#8ce 14px,#8f4 20px,#940 28px,#9a7 36px,#a2b 44px,#a9f 50px,#bd2 64px,#c3a 70px,#c68 74px,#c7e 78px,#c6b 84px,#c04 92px,#b8f 98px,#b03 104px,#9b6 116px,#6ab 140px,#5f9 146px,#53b 154px,#4ae 162px,#3b4 182px,#315 198px,#2b4 210px,#266 222px,#243 230px,#22d 242px,#233 252px,#254 262px,#280 270px,#337 292px,#3f8 310px,#582 344px,#701 372px,#7bf 388px,#834 400px,#8c5 420px,#92f 432px,#a46 456px,#ac9 470px,#b4c 488px,#bab 506px,#d1c 598px)"></i>
<i style="background:linear-gradient(#8ba 0px,#8d9 14px,#8ff 20px,#949 28px,#9af 36px,#a31 44px,#bd2 64px,#c37 70px,#c63 74px,#c76 78px,#c63 84px,#bfd 92px,#b89 98px,#afd 104px,#9b0 116px,#6a8 140px,#5f8 146px,#53a 154px,#4ad 162px,#427 172px,#39e 184px,#302 200px,#2a4 212px,#263 222px,#23a 232px,#229 242px,#230 252px,#27c 270px,#331 292px,#3f3 310px,#581 344px,#6ff 372px,#7a7 386px,#82f 400px,#916 430px,#97e 440px,#a57 458px,#ac6 470px,#b3a 486px,#b9a 504px,#d10 598px)"></i>
<i style="background:linear-gradient(#8c4 0px,#8e4 14px,#909 20px,#953 28px,#9b7 36px,#a38 44px,#bd1 64px,#c33 70px,#c5d 74px,#c6f 78px,#c5b 84px,#c32 88px,#bd2 94px,#af6 104px,#9aa 116px,#62e 144px,#564 152px,#4ac 162px,#425 172px,#39d 184px,#301 200px,#2a2 212px,#261 222px,#237 232px,#226 242px,#22c 252px,#278 270px,#32b 292px,#3d8 308px,#57f 344px,#6fe 372px,#7a6 386px,#82b 400px,#912 430px,#97b 440px,#a54 458px,#ac3 470px,#b35 486px,#b89 502px,#d05 598px)"></i>
<i style="background:linear-gradient(#8cf 0px,#8f0 14px,#914 20px,#95c 28px,#9a4 34px,#a1d 42px,#bd1 64px,#c2f 70px,#c57 74px,#c68 78px,#c53 84px,#c2a 88px,#bcb 94px,#af0 104px,#9a4 116px,#62c 144px,#563 152px,#4ab 162px,#424 172px,#39c 184px,#300 200px,#2a0 212px,#260 222px,#235 232px,#224 242px,#22a 252px,#24a 262px,#282 272px,#33a 294px,#57f 344px,#6fe 372px,#78f 384px,#818 398px,#90f 430px,#a51 458px,#ac0 470px,#b24 484px,#b78 500px,#cf9 598px)"></i>
<i style="background:linear-gradient(#8da 0px,#8fc 14px,#966 28px,#9ad 34px,#a24 42px,#bab 62px,#c11 68px,#c41 72px,#c5c 76px,#c5f 80px,#c4b 84px,#c22 88px,#bc3 94px,#ae9 104px,#99e 116px,#62a 144px,#562 152px,#4aa 162px,#422 172px,#39a 184px,#2ff 200px,#29f 212px,#25e 222px,#234 232px,#222 242px,#228 252px,#248 262px,#27f 272px,#335 294px,#57e 344px,#6fd 372px,#78f 384px,#816 398px,#90c 430px,#a4f 458px,#abf 470px,#b21 484px,#b71 500px,#cee 598px)"></i>
<i style="background:linear-gradient(#8e5 0px,#912 16px,#96f 28px,#9b5 34px,#a2c 42px,#bac 62px,#c0e 68px,#c55 76px,#c57 80px,#c43 84px,#c1a 88px,#bbb 94px,#ae2 104px,#998 116px,#628 144px,#561 152px,#4a9 162px,#421 172px,#399 184px,#2fe 200px,#29e 212px,#25d 222px,#233 232px,#220 242px,#227 252px,#246 262px,#27c 272px,#330 294px,#57e 344px,#6fe 372px,#78f 384px,#815 398px,#90b 430px,#a4d 458px,#abd 470px,#b1d 484px,#b62 498px,#ce3 598px)"></i>
<i style="background:linear-gradient(#8f0 0px,#91e 16px,#979 28px,#9be 34px,#a33 42px,#bac 62px,#c0b 68px,#c4f 76px,#c50 80px,#c3b 84px,#c11 88px,#bb3 94px,#ada 104px,#992 116px,#6d7 138px,#626 144px,#560 152px,#4a8 162px,#41f 172px,#398 184px,#30f 198px,#29d 212px,#25d 222px,#232 232px,#220 242px,#226 252px,#245 262px,#27a 272px,#32b 294px,#3b0 306px,#598 346px,#6ff 372px,#790 384px,#815 398px,#90a 430px,#a4c 458px,#abc 470px,#b0f 482px,#b54 496px,#cd8 598px)"></i>
<i style="background:linear-gradient(#8fb 0px,#929 16px,#982 28px,#9c6 34px,#a3a 42px,#bad 62px,#c09 68px,#c49 76px,#c49 80px,#c33 84px,#c09 88px,#bab 94px,#ad3 104px,#98c 116px,#6d5 138px,#624 144px,#55f 152px,#4a7 162px,#41e 172px,#397 184px,#30e 198px,#29c 212px,#25c 222px,#231 232px,#223 250px,#23d 260px,#26d 270px,#2bf 282px,#327 294px,#394 304px,#599 346px,#700 372px,#791 384px,#815 398px,#909 430px,#a4b 458px,#abb 470px,#b0c 482px,#b46 494px,#ccd 598px)"></i>
<i style="background:linear-gradient(#906 0px,#934 16px,#98b 28px,#9cf 34px,#a41 42px,#bad 62px,#c06 68px,#c43 76px,#c42 80px,#c2b 84px,#c01 88px,#ba3 94px,#acc 104px,#986 116px,#6d2 138px,#622 144px,#55e 152px,#4a6 162px,#41d 172px,#396 184px,#30e 198px,#29c 212px,#25c 222px,#232 232px,#223 250px,#23d 260px,#278 272px,#2cc 284px,#337 296px,#59a 346px,#701 372px,#792 384px,#805 396px,#909 430px,#a4a 458px,#ab9 470px,#afe 480px,#b38 492px,#cc2 598px)"></i>
<i style="background:linear-gradient(#911 0px,#93f 16px,#994 28px,#9d7 34px,#a47 42px,#bad 62px,#c04 68px,#c3e 76px,#c32 82px,#c11 86px,#bbe 92px,#b4c 98px,#ac5 104px,#981 116px,#6cf 138px,#620 144px,#55c 152px,#4a6 162px,#41d 172px,#396 184px,#30e 198px,#29c 212px,#25d 222px,#232 232px,#224 250px,#23d 260px,#278 272px,#2ca 284px,#333 296px,#5b4 348px,#703 372px,#793 384px,#806 396px,#909 430px,#a49 458px,#ab8 470px,#afc 480px,#b34 492px,#cb8 598px)"></i>
<i style="background:linear-gradient(#91b 0px,#94a 16px,#99d 28px,#9de 34px,#a4d 42px,#bad 62px,#c02 68px,#c39 76px,#c2c 82px,#c0a 86px,#bb6 92px,#b45 98px,#abe 104px,#97c 116px,#61e 144px,#55c 152px,#4a5 162px,#41c 172px,#395 184px,#30d 198px,#29c 212px,#25d 222px,#233 232px,#225 250px,#23e 260px,#278 272px,#2c9 284px,#330 296px,#5b5 348px,#704 372px,#795 384px,#807 396px,#909 430px,#a49 458px,#ab7 470px,#af9 480px,#b27 490px,#bd7 542px,#cad 598px)"></i>
<i style="background:linear-gradient(#925 0px,#954 16px,#9a5 28px,#9e5 34px,#a53 42px,#b8c 60px,#bff 68px,#c34 76px,#c26 82px,#c03 86px,#bae 92px,#ab8 104px,#977 116px,#61d 144px,#55b 152px,#4a5 162px,#41c 172px,#395 184px,#2ab 210px,#23a 230px,#224 240px,#226 250px,#240 260px,#279 272px,#2c8 284px,#32e 296px,#5b7 348px,#706 372px,#797 384px,#809 396px,#909 430px,#970 440px,#a48 458px,#ab5 470px,#af7 480px,#b23 490px,#bcd 542px,#ca2 598px)"></i>
<i style="background:linear-gradient(#92f 0px,#95d 16px,#9ad 28px,#9ec 34px,#a58 42px,#b8d 60px,#bfd 68px,#c30 76px,#c20 82px,#bfc 86px,#ba7 92px,#ab2 104px,#973 116px,#61b 144px,#55a 152px,#4a6 162px,#41d 172px,#395 184px,#2ac 210px,#23b 230px,#225 240px,#228 250px,#242 260px,#27a 272px,#2c8 284px,#32c 296px,#386 304px,#496 324px,#5b8 348px,#708 372px,#798 384px,#80a 396px,#909 430px,#96f 440px,#a46 458px,#ab3 470px,#b17 488px,#bc4 542px,#c98 598px)"></i>
<i style="background:linear-gradient(#938 0px,#966 16px,#9b4 28px,#a5d 42px,#b8d 60px,#bfb 68px,#c2c 76px,#c1a 82px,#bf6 86px,#ba0 92px,#aac 104px,#96f 116px,#61a 144px,#55a 152px,#4a6 162px,#41d 172px,#395 184px,#2ac 210px,#23d 230px,#227 240px,#22b 250px,#244 260px,#27c 272px,#32a 296px,#385 304px,#498 324px,#5d3 350px,#6ef 370px,#79a 384px,#80b 396px,#91b 432px,#a45 458px,#ab0 470px,#ae6 478px,#b12 488px,#bba 542px,#c8e 598px)"></i>
<i style="background:linear-gradient(#941 0px,#96e 16px,#9ba 28px,#a61 42px,#b8d 60px,#be2 66px,#c23 74px,#c27 78px,#c15 82px,#bf0 86px,#b99 92px,#aa7 104px,#96b 116px,#61a 144px,#55b 152px,#4a8 162px,#41e 172px,#396 184px,#2ad 210px,#23f 230px,#22a 240px,#22e 250px,#247 260px,#27f 272px,#2d9 286px,#33d 298px,#49a 324px,#5ef 352px,#70c 372px,#79b 384px,#7fc 394px,#91b 432px,#a42 458px,#aac 470px,#ae2 478px,#b0d 488px,#bb1 542px,#c84 598px)"></i>
<i style="background:linear-gradient(#949 0px,#97e 18px,#9c0 28px,#a65 42px,#b8c 60px,#be0 66px,#c1f 74px,#c22 78px,#c10 82px,#bea 86px,#b93 92px,#aa3 104px,#968 116px,#61a 144px,#55c 152px,#4a9 162px,#420 172px,#397 184px,#2af 210px,#241 230px,#22c 240px,#231 250px,#24a 260px,#281 272px,#2da 286px,#33d 298px,#482 322px,#5f1 352px,#70d 372px,#79c 384px,#7fd 394px,#91a 432px,#a3f 458px,#aa7 470px,#b00 486px,#ba7 542px,#c79 598px)"></i>
<i style="background:linear-gradient(#94f 0px,#984 18px,#9c5 28px,#a68 42px,#b8b 60px,#bde 66px,#c1b 74px,#c1d 78px,#c0a 82px,#be5 86px,#b8e 92px,#a9f 104px,#965 116px,#61c 144px,#55f 152px,#4ab 162px,#421 172px,#398 184px,#311 198px,#2b0 210px,#243 230px,#231 238px,#231 248px,#24e 260px,#285 272px,#2dd 286px,#33f 298px,#484 322px,#5f3 352px,#70e 372px,#79c 384px,#7fd 394px,#918 432px,#a3a 458px,#aa2 470px,#ad8 478px,#b02 488px,#b9e 542px,#c70 598px)"></i>
<i style="background:linear-gradient(#955 0px,#989 18px,#9ca 28px,#a6b 42px,#b8a 60px,#bdb 66px,#c16 74px,#c18 78px,#c05 82px,#be0 86px,#b8a 92px,#a9b 104px,#963 116px,#61f 144px,#539 154px,#490 164px,#40b 174px,#385 186px,#2b1 210px,#246 230px,#235 248px,#252 260px,#289 272px,#2df 286px,#341 298px,#4a0 324px,#5f5 352px,#70f 372px,#79c 384px,#7fc 394px,#916 432px,#a34 458px,#a9b 470px,#ad1 478px,#afc 488px,#b95 542px,#c66 598px)"></i>
<i style="background:linear-gradient(#95a 0px,#98e 18px,#9cd 28px,#a52 40px,#b89 60px,#bd7 66px,#c11 74px,#c00 82px,#bdc 86px,#b87 92px,#a99 104px,#961 116px,#623 144px,#53d 154px,#493 164px,#40d 174px,#387 186px,#2b3 210px,#273 220px,#248 230px,#239 248px,#250 258px,#282 270px,#2d5 284px,#331 296px,#38b 304px,#4a2 324px,#5dd 350px,#70f 372px,#79c 384px,#80b 396px,#913 432px,#a2c 458px,#a93 470px,#ac9 478px,#afc 490px,#b8c 542px,#c5c 598px)"></i>
<i style="background:linear-gradient(#95d 0px,#992 18px,#9d0 28px,#a54 40px,#b87 60px,#bd4 66px,#c0c 74px,#bfc 82px,#bd8 86px,#b85 92px,#a97 104px,#95f 116px,#627 144px,#542 154px,#496 164px,#40f 174px,#39e 184px,#316 198px,#2b5 210px,#275 220px,#24b 230px,#23e 248px,#255 258px,#287 270px,#2d9 284px,#336 296px,#38f 304px,#4bd 326px,#5df 350px,#70e 372px,#79b 384px,#809 396px,#910 432px,#a24 458px,#a8b 470px,#acb 480px,#af5 490px,#b83 542px,#c52 598px)"></i>
<i style="background:linear-gradient(#960 0px,#995 18px,#9d3 28px,#a56 40px,#b85 60px,#bd0 66px,#c07 74px,#bf7 82px,#bd4 86px,#b83 92px,#a96 104px,#95e 116px,#62d 144px,#547 154px,#49a 164px,#412 174px,#3a0 184px,#318 198px,#2b7 210px,#278 220px,#24e 230px,#242 248px,#261 260px,#297 272px,#2eb 286px,#33b 296px,#393 304px,#4a5 324px,#5c8 348px,#70e 372px,#79a 384px,#807 396px,#90d 432px,#a1a 458px,#a90 472px,#af6 492px,#b7b 542px,#c49 598px)"></i>
<i style="background:linear-gradient(#963 0px,#997 18px,#9d5 28px,#a57 40px,#b83 60px,#bcc 66px,#c02 74px,#bf3 82px,#bd1 86px,#b81 92px,#b16 98px,#a95 104px,#95d 116px,#632 144px,#54c 154px,#49e 164px,#415 174px,#3a3 184px,#31a 198px,#2b9 210px,#257 228px,#244 246px,#25f 258px,#292 270px,#2e3 284px,#340 296px,#398 304px,#4a7 324px,#5e3 350px,#70d 372px,#798 384px,#805 396px,#909 432px,#a23 460px,#a86 472px,#ac3 482px,#af6 494px,#b72 542px,#c3f 598px)"></i>
<i style="background:linear-gradient(#965 0px,#998 18px,#9e7 30px,#a58 40px,#b81 60px,#bdb 68px,#c00 76px,#be1 84px,#bb8 88px,#b5f 94px,#a95 104px,#994 114px,#638 144px,#552 154px,#4a2 164px,#419 174px,#3a6 184px,#31c 198px,#2bb 210px,#25a 228px,#249 246px,#265 258px,#298 270px,#2e8 284px,#345 296px,#39d 304px,#4a9 324px,#5ff 352px,#70c 372px,#796 384px,#803 396px,#905 432px,#a19 460px,#a7b 472px,#ac4 484px,#af6 496px,#b6a 542px,#c36 598px)"></i>
<i style="background:linear-gradient(#967 0px,#999 18px,#9e8 30px,#a58 40px,#b7e 60px,#bd7 68px,#bfc 76px,#bde 84px,#bb6 88px,#b5f 94px,#a95 104px,#994 114px,#718 136px,#60c 146px,#531 156px,#489 166px,#404 176px,#394 186px,#2bd 210px,#25d 228px,#24e 246px,#26b 258px,#29e 270px,#2fc 286px,#34b 296px,#3a2 304px,#70b 372px,#795 384px,#800 396px,#900 432px,#a0e 460px,#a70 472px,#aba 484px,#af6 498px,#b61 542px,#c2d 598px)"></i>
<i style="background:linear-gradient(#968 0px,#99a 18px,#9e7 30px,#a58 40px,#b7c 60px,#bd4 68px,#bf8 76px,#bdc 84px,#bb5 88px,#b5f 94px,#a96 104px,#994 114px,#71c 136px,#612 146px,#537 156px,#48d 166px,#408 176px,#397 186px,#2bf 210px,#261 228px,#253 246px,#271 258px,#2a4 270px,#302 286px,#351 296px,#3a8 304px,#70a 372px,#793 384px,#7fd 396px,#8fb 432px,#a02 460px,#a72 474px,#abb 486px,#af7 500px,#b59 542px,#c23 598px)"></i>
<i style="background:linear-gradient(#969 0px,#99a 18px,#9e7 30px,#a57 40px,#b7a 60px,#bd0 68px,#bf5 76px,#bda 84px,#b80 92px,#ac4 102px,#9cb 112px,#721 136px,#619 146px,#53d 156px,#492 166px,#40c 176px,#39b 186px,#2c1 210px,#264 228px,#256 244px,#270 256px,#2a1 268px,#2fb 284px,#345 294px,#3ad 304px,#709 372px,#790 384px,#7fa 396px,#906 434px,#9f6 460px,#a66 474px,#abd 488px,#af1 500px,#b51 542px,#c1a 598px)"></i>
<i style="background:linear-gradient(#969 0px,#999 18px,#9e6 30px,#a56 40px,#b77 60px,#bcd 68px,#bf2 76px,#bd9 84px,#b80 92px,#ac6 102px,#9cc 112px,#75d 134px,#61f 146px,#543 156px,#497 166px,#410 176px,#39f 186px,#2c4 210px,#267 228px,#25b 244px,#276 256px,#2a7 268px,#302 284px,#34c 294px,#3cb 306px,#707 372px,#78e 384px,#806 398px,#900 434px,#9fc 462px,#a68 476px,#abe 490px,#af2 502px,#b49 542px,#c11 598px)"></i>
<i style="background:linear-gradient(#96a 0px,#998 18px,#9e4 30px,#a55 40px,#b75 60px,#bc9 68px,#bef 76px,#bd7 84px,#b81 92px,#ac7 102px,#a03 110px,#761 134px,#626 146px,#548 156px,#49c 166px,#414 176px,#3a2 186px,#2c6 210px,#26a 228px,#260 244px,#27c 256px,#2ae 268px,#308 284px,#352 294px,#3d0 306px,#706 372px,#78c 384px,#802 398px,#8fa 434px,#9ef 462px,#a6a 478px,#ab6 490px,#aec 502px,#b41 542px,#c08 598px)"></i>
<i style="background:linear-gradient(#96a 0px,#990 16px,#9c3 26px,#a39 38px,#b59 58px,#bb5 66px,#bec 76px,#bd7 84px,#b82 92px,#ac9 102px,#a04 110px,#79c 132px,#62c 146px,#54e 156px,#4a1 166px,#3bc 184px,#2d8 208px,#273 226px,#262 242px,#27b 254px,#2ab 266px,#303 282px,#358 294px,#3d5 306px,#705 372px,#78a 384px,#7ff 398px,#8f4 434px,#a6d 480px,#ab8 492px,#aed 504px,#b3a 542px,#bff 598px)"></i>
<i style="background:linear-gradient(#96a 0px,#98e 16px,#9d0 28px,#a36 38px,#b57 58px,#bb3 66px,#bea 76px,#bd6 84px,#b84 92px,#acb 102px,#a05 110px,#7d5 130px,#633 146px,#554 156px,#4a5 166px,#3c0 184px,#2da 208px,#298 218px,#276 226px,#267 242px,#281 254px,#2b2 266px,#316 284px,#35e 294px,#3db 306px,#703 372px,#788 384px,#7fb 398px,#8fc 436px,#9f7 466px,#a7d 484px,#ac6 496px,#aee 506px,#b32 542px,#bf6 598px)"></i>
<i style="background:linear-gradient(#96a 0px,#995 18px,#9de 30px,#a4f 40px,#b6f 60px,#bd0 70px,#bea 78px,#bc8 86px,#b67 94px,#ace 102px,#a07 110px,#80e 128px,#639 146px,#559 156px,#4aa 166px,#3c4 184px,#334 198px,#2cd 210px,#279 226px,#26b 242px,#2af 264px,#311 282px,#365 294px,#3c8 304px,#702 372px,#798 386px,#7f8 398px,#8f6 436px,#a8e 488px,#ae8 506px,#b2b 542px,#bee 598px)"></i>
<i style="background:linear-gradient(#96a 0px,#993 18px,#9db 30px,#a31 38px,#b6d 60px,#bce 70px,#be9 78px,#bc8 86px,#b69 94px,#ad0 102px,#a3e 108px,#810 128px,#63f 146px,#55e 156px,#4af 166px,#3c8 184px,#2df 208px,#282 224px,#26d 240px,#286 252px,#2b5 264px,#36b 294px,#3ce 304px,#701 372px,#796 386px,#7f5 398px,#8fe 438px,#a93 490px,#ae9 508px,#b24 542px,#b9d 574px,#be5 598px)"></i>
<i style="background:linear-gradient(#969 0px,#991 18px,#9d9 30px,#a2f 38px,#b6b 60px,#bcc 70px,#be8 78px,#bc9 86px,#b6b 94px,#ad3 102px,#a0a 110px,#812 128px,#644 146px,#563 156px,#4b3 166px,#3cc 184px,#2e1 208px,#285 224px,#271 240px,#28c 252px,#2bb 264px,#370 294px,#3d3 304px,#717 374px,#794 386px,#7f2 398px,#905 440px,#a98 492px,#ae3 508px,#b18 540px,#b96 574px,#bdc 598px)"></i>
<i style="background:linear-gradient(#969 0px,#990 18px,#9d6 30px,#a2c 38px,#b6a 60px,#bca 70px,#be7 78px,#bca 86px,#b6d 94px,#ad5 102px,#a0c 110px,#814 128px,#619 148px,#567 156px,#4b8 166px,#3e6 182px,#2e4 208px,#287 224px,#275 240px,#2c1 264px,#376 294px,#3d8 304px,#716 374px,#792 386px,#7ef 398px,#90c 442px,#a90 492px,#ae4 510px,#b11 540px,#b8f 574px,#bd4 598px)"></i>
<i style="background:linear-gradient(#969 0px,#98e 18px,#9d4 30px,#a2a 38px,#b50 58px,#bc9 70px,#be7 78px,#bcb 86px,#b6f 94px,#ad7 102px,#a0e 110px,#84a 126px,#61d 148px,#56c 156px,#4bc 166px,#3e9 182px,#2e6 208px,#289 224px,#277 238px,#2bc 262px,#37c 294px,#3dd 304px,#5f0 350px,#714 374px,#790 386px,#7ec 398px,#913 444px,#a95 494px,#ade 510px,#b0b 540px,#b82 572px,#bcb 598px)"></i>
<i style="background:linear-gradient(#969 0px,#98d 18px,#9e3 32px,#a28 38px,#b4e 58px,#bc8 70px,#be7 78px,#bcb 86px,#b71 94px,#ad9 102px,#a46 108px,#84b 126px,#621 148px,#570 156px,#4c0 166px,#3ed 182px,#2e8 208px,#28c 224px,#27a 238px,#2c2 262px,#382 294px,#3e2 304px,#5d8 348px,#713 374px,#78f 386px,#7e9 398px,#91a 446px,#a8d 494px,#ade 512px,#b06 540px,#b7b 572px,#bc2 598px)"></i>
<i style="background:linear-gradient(#968 0px,#985 16px,#9c2 28px,#a0c 36px,#b33 56px,#ba6 66px,#be3 76px,#be5 80px,#bcc 86px,#b72 94px,#ada 102px,#a47 108px,#84d 126px,#625 148px,#573 156px,#4c3 166px,#3f0 182px,#2ea 208px,#28e 224px,#27d 238px,#2c6 262px,#387 294px,#3e7 304px,#5d9 348px,#712 374px,#78d 386px,#7e7 398px,#912 446px,#a92 496px,#ad9 512px,#b01 540px,#b75 572px,#bba 598px)"></i>
<i style="background:linear-gradient(#968 0px,#984 16px,#9c1 28px,#a0c 36px,#b33 56px,#ba6 66px,#be3 76px,#be5 80px,#bcc 86px,#b73 94px,#adb 102px,#a48 108px,#84f 126px,#629 148px,#577 156px,#4c7 166px,#3f3 182px,#2ec 208px,#290 224px,#280 238px,#2cb 262px,#38d 294px,#3ec 304px,#5d9 348px,#711 374px,#78b 386px,#7e5 398px,#91a 448px,#a8a 496px,#ad8 514px,#afd 540px,#b6f 572px,#bb1 598px)"></i>
<i style="background:linear-gradient(#967 0px,#984 16px,#9c1 28px,#a0d 36px,#b32 56px,#ba6 66px,#be3 76px,#be1 82px,#bcc 86px,#b73 94px,#adc 102px,#a49 108px,#852 126px,#62c 148px,#57a 156px,#4ca 166px,#3f5 182px,#2ee 208px,#292 224px,#282 238px,#2cf 262px,#392 294px,#3f0 304px,#5d9 348px,#710 374px,#78a 386px,#7f0 400px,#922 450px,#a81 496px,#ad2 514px,#afb 540px,#b68 572px,#ba9 598px)"></i>
<i style="background:linear-gradient(#967 0px,#984 16px,#9c1 28px,#a0e 36px,#b32 56px,#ba6 66px,#be3 76px,#be0 82px,#bcc 86px,#b73 94px,#adc 102px,#a13 110px,#855 126px,#62f 148px,#57e 156px,#4cc 166px,#3f8 182px,#2f0 208px,#294 224px,#285 238px,#2d2 262px,#398 294px,#40b 306px,#5c2 346px,#70f 374px,#788 386px,#7ef 400px,#929 452px,#a78 496px,#acc 514px,#af8 540px,#b62 572px,#ba0 598px)"></i>
<i style="background:linear-gradient(#967 0px,#984 16px,#9c1 28px,#a28 38px,#b31 56px,#ba6 66px,#be3 76px,#be0 82px,#bcc 86px,#b72 94px,#adc 102px,#a14 110px,#858 126px,#661 146px,#580 156px,#4cf 166px,#3e3 184px,#2f2 208px,#296 224px,#287 238px,#2d6 262px,#39d 294px,#3fa 304px,#580 340px,#70e 374px,#787 386px,#7fb 402px,#94c 458px,#a7c 498px,#acc 516px,#af6 540px,#b57 570px,#b97 598px)"></i>
<i style="background:linear-gradient(#966 0px,#98b 18px,#9d2 30px,#a29 38px,#b65 60px,#bc7 70px,#be6 78px,#bcc 86px,#b72 94px,#adc 102px,#a15 110px,#826 128px,#663 146px,#583 156px,#4d1 166px,#3e5 184px,#2f4 208px,#298 224px,#289 238px,#2a0 248px,#2d9 262px,#392 292px,#3ff 304px,#56b 338px,#70d 374px,#786 386px,#807 404px,#953 460px,#a73 498px,#ac6 516px,#af4 540px,#b51 570px,#b8f 598px)"></i>
<i style="background:linear-gradient(#966 0px,#98b 18px,#9d3 30px,#a2a 38px,#b66 60px,#bc8 70px,#be6 78px,#bcc 86px,#b72 94px,#adb 102px,#a15 110px,#828 128px,#664 146px,#585 156px,#4d3 166px,#3e7 184px,#2f5 208px,#299 224px,#28b 238px,#2a2 248px,#2dc 262px,#397 292px,#403 304px,#556 336px,#70d 374px,#796 388px,#812 406px,#94c 460px,#a6a 498px,#ac6 518px,#b86 598px)"></i>
<i style="background:linear-gradient(#966 0px,#98b 18px,#9d4 30px,#a2c 38px,#b66 60px,#bc9 70px,#be7 78px,#bcc 86px,#b72 94px,#adb 102px,#a15 110px,#82a 128px,#665 146px,#586 156px,#4d5 166px,#3e9 184px,#2f7 208px,#29b 224px,#28d 238px,#2a4 248px,#2df 262px,#39c 292px,#407 304px,#556 336px,#70c 374px,#795 388px,#81e 408px,#954 462px,#a6e 500px,#ac6 520px,#b7d 598px)"></i>
<i style="background:linear-gradient(#965 0px,#98b 18px,#9d5 30px,#a47 40px,#b67 60px,#bca 70px,#be8 78px,#bcd 86px,#b72 94px,#adb 102px,#a16 110px,#7f7 130px,#666 146px,#588 156px,#4d7 166px,#3ea 184px,#2f9 208px,#29d 224px,#28f 238px,#2a6 248px,#2e1 262px,#391 290px,#40c 304px,#556 336px,#70c 374px,#795 388px,#81e 408px,#94e 462px,#a65 500px,#ac1 520px,#b3f 570px,#b75 598px)"></i>
<i style="background:linear-gradient(#965 0px,#98b 18px,#9d5 30px,#a48 40px,#b68 60px,#bcb 70px,#be9 78px,#bce 86px,#b72 94px,#adb 102px,#a16 110px,#7f8 130px,#666 146px,#589 156px,#4d8 166px,#3ec 184px,#30b 206px,#2a6 222px,#28f 236px,#2a8 248px,#2e4 262px,#340 278px,#3b5 294px,#56b 338px,#74b 380px,#7a5 390px,#7f9 402px,#93c 460px,#a4f 498px,#a9d 512px,#b30 566px,#b6c 598px)"></i>
<i style="background:linear-gradient(#965 0px,#98b 18px,#9d6 30px,#a49 40px,#b69 60px,#bcd 70px,#beb 78px,#bcf 86px,#b73 94px,#adb 102px,#a16 110px,#7f9 130px,#666 146px,#589 156px,#4d9 166px,#3ee 184px,#30d 206px,#2a8 222px,#291 236px,#2aa 248px,#2e6 262px,#343 278px,#3b9 294px,#56b 338px,#74b 380px,#7a5 390px,#805 404px,#944 462px,#a46 498px,#a96 512px,#ac2 524px,#b26 564px,#b63 598px)"></i>
<i style="background:linear-gradient(#964 0px,#98b 18px,#9d6 30px,#a49 40px,#b6b 60px,#bcf 70px,#bed 78px,#bd0 86px,#b73 94px,#adb 102px,#a16 110px,#7fa 130px,#666 146px,#589 156px,#4da 166px,#3f0 184px,#30f 206px,#2a9 222px,#293 236px,#2ac 248px,#2e8 262px,#345 278px,#3ad 292px,#56b 338px,#74b 380px,#7a5 390px,#805 404px,#93f 462px,#a4b 500px,#a98 514px,#b20 564px,#b5a 598px)"></i>
<i style="background:linear-gradient(#964 0px,#98b 18px,#9d6 30px,#a4a 40px,#b6c 60px,#bd1 70px,#bef 78px,#bd2 86px,#b74 94px,#adc 102px,#a17 110px,#7fa 130px,#666 146px,#589 156px,#4fb 164px,#408 182px,#311 206px,#2ab 222px,#294 236px,#2ae 248px,#2eb 262px,#348 278px,#3b1 292px,#56b 338px,#74b 380px,#7a5 390px,#806 404px,#946 464px,#a42 500px,#a9a 516px,#b16 562px,#b51 598px)"></i>
<i style="background:linear-gradient(#964 0px,#98a 18px,#9d6 30px,#a4a 40px,#b6e 60px,#bd4 70px,#bf2 78px,#bd4 86px,#b76 94px,#add 102px,#a17 110px,#7fb 130px,#666 146px,#589 156px,#4fb 164px,#40a 182px,#313 206px,#2ad 222px,#296 236px,#2b1 248px,#2ed 262px,#33d 276px,#3a4 290px,#556 336px,#75f 382px,#7b5 392px,#812 406px,#942 464px,#a46 502px,#a9b 518px,#b10 562px,#b47 598px)"></i>
<i style="background:linear-gradient(#963 0px,#98a 18px,#9d5 30px,#a4a 40px,#b70 60px,#bd6 70px,#bf4 78px,#bd6 86px,#b77 94px,#add 102px,#a17 110px,#7fb 130px,#665 146px,#5b1 154px,#4fc 164px,#40c 182px,#315 206px,#2b0 222px,#298 236px,#2ac 246px,#2ef 262px,#33f 276px,#3a7 290px,#556 336px,#75f 382px,#7b5 392px,#813 406px,#949 466px,#a3d 502px,#a95 518px,#acf 536px,#b0a 562px,#b3e 598px)"></i>
<i style="background:linear-gradient(#962 0px,#989 18px,#9d4 30px,#a4a 40px,#b72 60px,#bd9 70px,#bf7 78px,#bd9 86px,#b79 94px,#adf 102px,#a4c 108px,#82f 128px,#665 146px,#5b0 154px,#4fc 164px,#40e 182px,#317 206px,#2b2 222px,#29a 236px,#2ae 246px,#2f1 262px,#341 276px,#39a 288px,#556 336px,#760 382px,#7b6 392px,#81f 408px,#945 466px,#a41 504px,#a96 520px,#acf 538px,#b03 562px,#b35 598px)"></i>
<i style="background:linear-gradient(#961 0px,#987 18px,#9d3 30px,#a4a 40px,#b74 60px,#bdc 70px,#bfb 78px,#bdb 86px,#b7b 94px,#ae0 102px,#a4c 108px,#82f 128px,#665 146px,#5af 154px,#4fd 164px,#410 182px,#31a 206px,#2bd 220px,#29d 236px,#2b1 246px,#2f4 262px,#38d 286px,#556 336px,#760 382px,#7b6 392px,#820 408px,#884 426px,#940 466px,#a38 504px,#a8f 520px,#ac9 538px,#afc 562px,#b2b 598px)"></i>
<i style="background:linear-gradient(#960 0px,#986 18px,#9d2 30px,#a4a 40px,#b77 60px,#bdf 70px,#bfe 78px,#bde 86px,#b7d 94px,#ae1 102px,#a4d 108px,#82f 128px,#664 146px,#5ae 154px,#4fd 164px,#412 182px,#31d 206px,#2c0 220px,#29f 236px,#2b4 246px,#2f6 262px,#338 274px,#390 286px,#557 336px,#774 384px,#7c5 394px,#82c 410px,#947 468px,#a3c 506px,#a8f 522px,#ac8 540px,#af8 564px,#b21 598px)"></i>
<i style="background:linear-gradient(#95e 0px,#984 18px,#9d0 30px,#a2d 38px,#b79 60px,#be2 70px,#c02 78px,#be2 86px,#b80 94px,#ae3 102px,#a4e 108px,#863 126px,#664 146px,#5ad 154px,#51d 162px,#42b 180px,#320 206px,#2c4 220px,#2a2 236px,#2b7 246px,#2f9 262px,#383 284px,#558 336px,#774 384px,#7c6 394px,#839 412px,#943 468px,#a3f 508px,#a87 522px,#ac0 540px,#af0 564px,#b17 598px)"></i>
<i style="background:linear-gradient(#95c 0px,#982 18px,#9cf 30px,#a2d 38px,#b7b 60px,#be6 70px,#c06 78px,#be5 86px,#b82 94px,#ae4 102px,#a4e 108px,#863 126px,#664 146px,#5ac 154px,#51e 162px,#42d 180px,#324 206px,#2c8 220px,#2a5 236px,#2ba 246px,#2fb 262px,#386 284px,#559 336px,#775 384px,#7c6 394px,#83a 412px,#899 430px,#93f 468px,#a36 508px,#a7e 522px,#ab8 540px,#ae7 564px,#b0d 598px)"></i>
<i style="background:linear-gradient(#959 0px,#978 16px,#9bb 28px,#a2c 38px,#b45 56px,#bc6 66px,#c07 76px,#bf7 84px,#ba4 92px,#b62 96px,#ae6 102px,#a4f 108px,#863 126px,#663 146px,#5ac 154px,#51e 162px,#42f 180px,#328 206px,#2cc 220px,#2a9 236px,#2bd 246px,#2f5 260px,#379 282px,#55a 336px,#775 384px,#7d4 396px,#846 414px,#8a3 432px,#93b 468px,#a74 522px,#aae 540px,#add 564px,#b03 598px)"></i>
<i style="background:linear-gradient(#956 0px,#975 16px,#9b9 28px,#a2b 38px,#b47 56px,#bc9 66px,#c0b 76px,#bfb 84px,#ba6 92px,#b64 96px,#ae7 102px,#863 126px,#664 146px,#5ad 154px,#51f 162px,#431 180px,#32c 206px,#2d1 220px,#2ad 236px,#2c1 246px,#2f8 260px,#37c 282px,#570 338px,#775 384px,#7d5 396px,#847 414px,#8a3 432px,#942 470px,#a6a 522px,#aa3 540px,#ad3 564px,#af9 598px)"></i>
<i style="background:linear-gradient(#952 0px,#972 16px,#9b8 28px,#a2b 38px,#b67 58px,#bcc 66px,#c0f 76px,#bfe 84px,#ba9 92px,#b66 96px,#ae8 102px,#863 126px,#664 146px,#5ae 154px,#520 162px,#433 180px,#320 208px,#2c7 224px,#2b4 238px,#303 262px,#37f 282px,#572 338px,#775 384px,#7d5 396px,#847 414px,#8ad 434px,#93f 470px,#a5e 522px,#a96 540px,#ac8 564px,#aef 598px)"></i>
<i style="background:linear-gradient(#94d 0px,#96e 16px,#9a5 26px,#a0e 36px,#b69 58px,#bd0 66px,#c13 76px,#c02 84px,#bac 92px,#b17 100px,#a87 106px,#863 126px,#664 146px,#5af 154px,#521 162px,#435 180px,#336 206px,#2d4 222px,#2b9 238px,#306 262px,#383 282px,#574 338px,#774 384px,#7d5 396px,#848 414px,#8ad 434px,#945 472px,#a52 522px,#abc 564px,#ae4 598px)"></i>
<i style="background:linear-gradient(#948 0px,#96a 16px,#9a2 26px,#a0d 36px,#b6b 58px,#bd3 66px,#c06 72px,#c16 76px,#c05 84px,#bae 92px,#b18 100px,#a52 108px,#82f 128px,#665 146px,#5b1 154px,#523 162px,#4b0 170px,#438 180px,#33b 206px,#2da 222px,#2bf 238px,#2d4 248px,#30a 262px,#387 282px,#58a 340px,#786 386px,#7e3 398px,#854 416px,#8b6 436px,#941 472px,#a46 522px,#ab0 564px,#ada 598px)"></i>
<i style="background:linear-gradient(#943 0px,#966 16px,#99f 26px,#a0c 36px,#b6e 58px,#bd6 66px,#c0a 72px,#c1a 76px,#c09 84px,#bb1 92px,#b1a 100px,#a53 108px,#82f 128px,#665 146px,#5b3 154px,#505 164px,#424 182px,#341 206px,#2e1 222px,#2c5 238px,#304 260px,#37a 280px,#58c 340px,#786 386px,#7e3 398px,#854 416px,#8b6 436px,#93e 472px,#a32 520px,#aa3 564px,#acf 598px)"></i>
<i style="background:linear-gradient(#93e 0px,#961 16px,#99c 26px,#a28 38px,#b70 58px,#bda 66px,#c0d 72px,#c1e 76px,#c0d 84px,#bb4 92px,#b1c 100px,#a54 108px,#82f 128px,#697 144px,#5b5 154px,#507 164px,#427 182px,#347 206px,#2e8 222px,#2cc 238px,#308 260px,#37e 280px,#58f 340px,#785 386px,#7e3 398px,#854 416px,#8b7 436px,#944 474px,#a25 520px,#a9a 566px,#ac5 598px)"></i>
<i style="background:linear-gradient(#939 0px,#95c 16px,#999 26px,#a26 38px,#b71 58px,#bdd 66px,#c11 72px,#c22 76px,#c10 84px,#bb7 92px,#b1d 100px,#a55 108px,#82f 128px,#697 144px,#5b7 154px,#509 164px,#42a 182px,#34d 206px,#2ef 222px,#2d3 238px,#30c 260px,#382 280px,#592 340px,#785 386px,#7e3 398px,#860 418px,#8bf 438px,#940 474px,#a12 518px,#a8d 566px,#aba 598px)"></i>
<i style="background:linear-gradient(#933 0px,#94f 14px,#995 26px,#a25 38px,#b73 58px,#bdf 66px,#c14 72px,#c26 76px,#c14 84px,#bb9 92px,#b1f 100px,#a56 108px,#82f 128px,#698 144px,#5b8 154px,#50b 164px,#42d 182px,#353 206px,#2f0 224px,#2db 240px,#319 262px,#386 280px,#488 308px,#5a8 342px,#785 386px,#7f1 400px,#860 418px,#8bf 438px,#93d 474px,#a05 518px,#a85 568px,#aaf 598px)"></i>
<i style="background:linear-gradient(#92e 0px,#949 14px,#991 26px,#a22 38px,#b75 58px,#be2 66px,#c18 72px,#c29 76px,#c18 84px,#bbc 92px,#b20 100px,#a56 108px,#82f 128px,#699 144px,#5ba 154px,#50d 164px,#4a0 172px,#430 182px,#35a 206px,#2f7 224px,#2e2 240px,#31d 262px,#38b 280px,#48d 308px,#5ab 342px,#785 386px,#7f1 400px,#860 418px,#8b7 436px,#932 472px,#9f3 516px,#a78 568px,#aa4 598px)"></i>
<i style="background:linear-gradient(#928 0px,#944 14px,#98d 26px,#a20 38px,#b76 58px,#be4 66px,#c1b 72px,#c2d 76px,#c1b 84px,#bbe 92px,#b21 100px,#a57 108px,#82f 128px,#699 144px,#5bc 154px,#50f 164px,#4a3 172px,#433 182px,#361 206px,#300 224px,#2ea 240px,#31a 260px,#37f 278px,#494 308px,#5ae 342px,#785 386px,#7f1 400px,#860 418px,#8bf 438px,#92f 472px,#9e1 514px,#a6f 570px,#a99 598px)"></i>
<i style="background:linear-gradient(#923 0px,#93e 14px,#989 26px,#a1d 38px,#b77 58px,#be6 66px,#c1e 72px,#c30 76px,#c1e 84px,#bc1 92px,#b22 100px,#a57 108px,#82f 128px,#69a 144px,#5bd 154px,#511 164px,#4a5 172px,#437 182px,#368 206px,#308 224px,#2f1 240px,#31f 260px,#384 278px,#49a 308px,#5c4 344px,#785 386px,#7f1 400px,#86b 420px,#8c7 440px,#92c 472px,#9d6 514px,#a09 540px,#a63 570px,#a8e 598px)"></i>
<i style="background:linear-gradient(#91e 0px,#938 14px,#984 26px,#a1a 38px,#b77 58px,#be8 66px,#c20 72px,#c33 76px,#c21 84px,#bc3 92px,#b23 100px,#a57 108px,#864 126px,#6cc 142px,#5bf 154px,#513 164px,#44f 180px,#37d 204px,#318 222px,#2f9 240px,#325 260px,#389 278px,#4a1 308px,#5c7 344px,#785 386px,#7f1 400px,#86b 420px,#8c7 440px,#92a 472px,#9c6 512px,#9f8 540px,#a5b 572px,#a83 598px)"></i>
<i style="background:linear-gradient(#919 0px,#933 14px,#980 26px,#9f8 36px,#b77 58px,#be9 66px,#c22 72px,#c35 76px,#c24 84px,#be3 90px,#b51 98px,#a8d 106px,#82f 128px,#69d 144px,#5c0 154px,#515 164px,#4ab 172px,#43f 182px,#377 206px,#319 224px,#302 242px,#333 262px,#38f 278px,#4a8 308px,#5ca 344px,#786 386px,#7f1 400px,#86b 420px,#8ce 442px,#927 472px,#9b6 510px,#9e4 538px,#a4a 570px,#a78 598px)"></i>
<i style="background:linear-gradient(#914 0px,#92d 14px,#97b 26px,#9f4 36px,#b55 56px,#be9 66px,#c23 72px,#c37 76px,#c39 80px,#c26 84px,#be5 90px,#b52 98px,#a8d 106px,#82f 128px,#69e 144px,#5c1 154px,#518 164px,#4ae 172px,#443 182px,#37e 206px,#322 224px,#30a 242px,#332 260px,#395 278px,#4af 308px,#5ce 344px,#798 388px,#7fe 402px,#876 422px,#8ce 442px,#924 472px,#9ad 510px,#9d8 540px,#a38 568px,#a6d 598px)"></i>
<i style="background:linear-gradient(#90f 0px,#928 14px,#977 26px,#9f0 36px,#b54 56px,#be9 66px,#c23 72px,#c38 76px,#c3a 80px,#c28 84px,#be5 90px,#b52 98px,#a8c 106px,#82f 128px,#69f 144px,#5c3 154px,#51a 164px,#4b1 172px,#447 182px,#393 204px,#32b 224px,#313 242px,#339 260px,#39b 278px,#4b6 308px,#5e4 346px,#798 388px,#7fe 402px,#875 422px,#8d5 444px,#921 472px,#99f 508px,#9c9 540px,#a2c 568px,#a62 598px)"></i>
<i style="background:linear-gradient(#90b 0px,#923 14px,#972 26px,#9eb 36px,#b52 56px,#be8 66px,#c23 72px,#c38 76px,#c3b 80px,#c28 84px,#be5 90px,#b51 98px,#a8c 106px,#864 126px,#6a1 144px,#5c4 154px,#51d 164px,#4b4 172px,#44b 182px,#39a 204px,#334 224px,#31b 242px,#340 260px,#3a2 278px,#4bd 308px,#5e8 346px,#799 388px,#875 422px,#8d4 444px,#91f 472px,#997 508px,#9bb 540px,#a20 568px,#a57 598px)"></i>
<i style="background:linear-gradient(#907 0px,#91e 14px,#94c 22px,#982 28px,#a07 38px,#b50 56px,#be6 66px,#c2e 74px,#c34 82px,#be5 90px,#b50 98px,#a8b 106px,#864 126px,#6a2 144px,#5c6 154px,#520 164px,#4b8 172px,#450 182px,#3a2 204px,#33d 224px,#324 242px,#348 260px,#3a9 278px,#4c4 308px,#5ec 346px,#789 386px,#7f1 400px,#874 422px,#8d3 444px,#98a 506px,#9a1 518px,#9ae 540px,#a15 568px,#a4d 598px)"></i>
<i style="background:linear-gradient(#903 0px,#919 14px,#948 22px,#97e 28px,#9e3 36px,#b4d 56px,#be3 66px,#c2b 74px,#c32 82px,#be3 90px,#b4f 98px,#a8a 106px,#864 126px,#6a4 144px,#5c8 154px,#523 164px,#4bc 172px,#454 182px,#3a9 204px,#346 224px,#32d 242px,#350 260px,#3b1 278px,#4cc 308px,#5f0 346px,#78a 386px,#7f1 400px,#873 422px,#8d2 444px,#983 506px,#999 518px,#9a2 540px,#a0a 568px,#a42 598px)"></i>
<i style="background:linear-gradient(#900 0px,#916 14px,#944 22px,#97a 28px,#9e0 36px,#b49 56px,#bdf 66px,#c27 74px,#c2f 82px,#bdf 90px,#b4c 98px,#a89 106px,#865 126px,#6a5 144px,#5ca 154px,#526 164px,#4bf 172px,#459 182px,#3b1 204px,#34f 224px,#336 242px,#359 260px,#3bb 278px,#4d3 308px,#5f5 346px,#78c 386px,#7f1 400px,#873 422px,#8d7 446px,#978 504px,#991 518px,#998 540px,#9ff 568px,#a37 598px)"></i>
<i style="background:linear-gradient(#8fd 0px,#912 14px,#963 26px,#9dd 36px,#b44 56px,#bda 66px,#c22 74px,#c29 82px,#bdb 90px,#b49 98px,#a87 106px,#832 128px,#6a7 144px,#5cd 154px,#529 164px,#470 180px,#3c5 202px,#358 224px,#33f 242px,#363 260px,#3b6 276px,#4db 308px,#5fa 346px,#78d 386px,#7f1 400px,#871 422px,#8d5 446px,#972 504px,#989 518px,#990 540px,#9f5 568px,#a2c 598px)"></i>
<i style="background:linear-gradient(#8fa 0px,#910 14px,#960 26px,#9da 36px,#b3f 56px,#bd5 66px,#c0f 72px,#c24 76px,#c28 80px,#c16 84px,#bd5 90px,#b45 98px,#a85 106px,#833 128px,#6a9 144px,#5d0 154px,#52d 164px,#475 180px,#3cc 202px,#361 224px,#348 242px,#36c 260px,#3c1 276px,#4d2 306px,#5ff 346px,#78e 386px,#7f2 400px,#870 422px,#8d3 446px,#96c 504px,#983 518px,#98a 540px,#9f0 570px,#a22 598px)"></i>
<i style="background:linear-gradient(#8f8 0px,#90d 14px,#95d 26px,#9d7 36px,#b3a 56px,#bce 66px,#c08 72px,#c1c 76px,#c1f 80px,#c0e 84px,#bb0 92px,#b15 100px,#a4e 108px,#834 128px,#6aa 144px,#5d4 154px,#530 164px,#47a 180px,#3d3 202px,#36a 224px,#352 242px,#377 260px,#3cd 276px,#4da 306px,#5f3 344px,#78f 386px,#7f2 400px,#86f 422px,#8d0 446px,#962 502px,#97b 516px,#984 540px,#9e7 570px,#a18 598px)"></i>
<i style="background:linear-gradient(#8f6 0px,#90b 14px,#95a 26px,#9d4 36px,#b33 56px,#bc6 66px,#c00 72px,#c14 76px,#c05 84px,#ba9 92px,#b10 100px,#a4d 108px,#835 128px,#6ac 144px,#5d7 154px,#534 164px,#47f 180px,#3da 202px,#373 224px,#35b 242px,#381 260px,#3d9 276px,#4e2 306px,#5f8 344px,#791 386px,#7f3 400px,#86d 422px,#8ce 446px,#95d 502px,#976 516px,#980 540px,#9de 570px,#a0d 598px)"></i>
<i style="background:linear-gradient(#8f5 0px,#909 14px,#957 26px,#9d1 36px,#b2d 56px,#bbe 66px,#bf7 72px,#c0a 76px,#bfb 84px,#ba2 92px,#b0b 100px,#a4b 108px,#803 130px,#6ad 144px,#5da 154px,#538 164px,#484 180px,#3e1 202px,#37c 224px,#365 242px,#38c 260px,#3e6 276px,#4e9 306px,#5fe 344px,#793 386px,#7f3 400px,#86c 422px,#8cb 446px,#959 502px,#971 516px,#97c 540px,#9d5 570px,#a03 598px)"></i>
<i style="background:linear-gradient(#8f3 0px,#907 14px,#954 26px,#9ce 36px,#b46 58px,#bb6 66px,#bed 72px,#c00 76px,#bf1 84px,#b9a 92px,#b06 100px,#a49 108px,#804 130px,#6af 144px,#5dd 154px,#53b 164px,#489 180px,#3e8 202px,#385 224px,#36f 242px,#390 258px,#3e4 274px,#4f1 306px,#5f3 342px,#794 386px,#7f3 400px,#86a 422px,#8ce 448px,#955 502px,#979 540px,#9cc 570px,#9f9 598px)"></i>
<i style="background:linear-gradient(#8f2 0px,#905 14px,#951 26px,#9cb 36px,#b3e 58px,#bac 66px,#be3 72px,#bf5 76px,#be7 84px,#b91 92px,#b01 100px,#a46 108px,#805 130px,#6b0 144px,#5e0 154px,#53f 164px,#48d 180px,#3ef 202px,#38e 224px,#378 242px,#39b 258px,#3f1 274px,#4ea 304px,#5f8 342px,#796 386px,#7f4 400px,#868 422px,#8cb 448px,#951 502px,#977 540px,#9c5 570px,#9ef 598px)"></i>
<i style="background:linear-gradient(#8f1 0px,#903 14px,#94d 26px,#9c7 36px,#b36 58px,#ba3 66px,#bd8 72px,#beb 76px,#bdc 84px,#b88 92px,#afb 100px,#a43 108px,#806 130px,#6b2 144px,#5e2 154px,#542 164px,#492 180px,#402 200px,#39d 222px,#382 240px,#3a6 258px,#3fe 274px,#4f3 304px,#5ee 340px,#798 386px,#7f4 400px,#866 422px,#8ce 450px,#951 504px,#975 540px,#9bd 570px,#9e6 598px)"></i>
<i style="background:linear-gradient(#8f0 0px,#900 14px,#938 24px,#9c2 36px,#b2d 58px,#b99 66px,#bce 72px,#bdf 76px,#bd1 84px,#b7f 92px,#acb 102px,#a0f 110px,#7d4 132px,#6b3 144px,#5e5 154px,#546 164px,#497 180px,#408 200px,#3a6 222px,#38c 240px,#3aa 256px,#3fd 272px,#4ed 302px,#5f4 340px,#79b 386px,#7f5 400px,#865 422px,#8d1 452px,#94e 504px,#974 540px,#9b6 570px,#9dc 598px)"></i>
<i style="background:linear-gradient(#8ef 0px,#8fe 14px,#935 24px,#9be 36px,#b24 58px,#b8e 66px,#bc3 72px,#bd4 76px,#bc6 84px,#b75 92px,#ac5 102px,#a0c 110px,#7d4 132px,#6b4 144px,#5e7 154px,#549 164px,#49c 180px,#40f 200px,#3ae 222px,#395 240px,#3b6 256px,#40a 272px,#4f6 302px,#5e9 338px,#79d 386px,#7f5 400px,#863 422px,#8d4 454px,#94f 506px,#973 540px,#9b3 572px,#9d3 598px)"></i>
<i style="background:linear-gradient(#8ef 0px,#8fc 14px,#931 24px,#9b9 36px,#b1b 58px,#b84 66px,#bb8 72px,#bc9 76px,#bbb 84px,#b6c 92px,#abf 102px,#a09 110px,#7d4 132px,#6b5 144px,#5e9 154px,#54c 164px,#4a1 180px,#415 200px,#3b7 222px,#3a0 240px,#3ba 254px,#40a 270px,#4f0 300px,#5ef 338px,#791 384px,#7eb 398px,#858 420px,#8d1 454px,#94c 506px,#9ca 598px)"></i>
<i style="background:linear-gradient(#8ee 0px,#8f9 14px,#92c 24px,#9b4 36px,#b11 58px,#b79 66px,#bac 72px,#bbd 76px,#baf 84px,#b62 92px,#ab9 102px,#a06 110px,#7d4 132px,#6b6 144px,#5ea 154px,#54f 164px,#4a5 180px,#41c 200px,#3c0 222px,#3aa 240px,#3c5 254px,#417 270px,#4fa 300px,#5f5 338px,#794 384px,#7ec 398px,#856 420px,#8da 458px,#94d 508px,#9c1 598px)"></i>
<i style="background:linear-gradient(#8ed 0px,#8f6 14px,#928 24px,#9ae 36px,#b07 58px,#b6f 66px,#bb2 76px,#ba4 84px,#b58 92px,#ab2 102px,#9d2 112px,#7d4 132px,#6b6 144px,#5ec 154px,#551 164px,#4a9 180px,#422 200px,#3ce 220px,#3b4 240px,#3d1 254px,#424 270px,#503 300px,#5eb 336px,#797 384px,#7ec 398px,#855 420px,#8dd 460px,#94a 508px,#9b8 598px)"></i>
<i style="background:linear-gradient(#8ed 0px,#8f3 14px,#923 24px,#9a9 36px,#afd 58px,#b64 66px,#ba7 76px,#b99 84px,#b4e 92px,#aac 102px,#9ce 112px,#7d3 132px,#6b7 144px,#5ed 154px,#554 164px,#4ae 180px,#428 200px,#3d7 220px,#3bd 238px,#3d6 252px,#423 268px,#4ff 298px,#5f0 336px,#73a 372px,#79a 384px,#7e3 396px,#84b 418px,#8da 460px,#94c 510px,#9af 598px)"></i>
<i style="background:linear-gradient(#8ec 0px,#8ef 14px,#91d 24px,#9a3 36px,#af3 58px,#b59 66px,#b9b 76px,#b8e 84px,#b2a 94px,#a7e 104px,#9cb 112px,#7d2 132px,#6b7 144px,#5ed 154px,#556 164px,#4b2 180px,#42e 200px,#3df 220px,#3c7 238px,#3e1 252px,#430 268px,#508 298px,#5e6 334px,#73f 372px,#79d 384px,#7e4 396px,#849 418px,#8dd 462px,#94e 512px,#9a7 598px)"></i>
<i style="background:linear-gradient(#8eb 0px,#8ec 14px,#918 24px,#99c 36px,#ae9 58px,#b4e 66px,#b90 76px,#b83 84px,#b20 94px,#a77 104px,#9c6 112px,#7d1 132px,#68b 146px,#5ee 154px,#558 164px,#4b5 180px,#434 200px,#3e7 220px,#3d2 238px,#3ed 252px,#43c 268px,#512 298px,#5eb 334px,#792 382px,#7db 394px,#83f 416px,#8da 462px,#94b 512px,#98f 570px,#99f 598px)"></i>
<i style="background:linear-gradient(#8ea 0px,#8eb 16px,#912 24px,#996 36px,#adf 58px,#b43 66px,#b85 76px,#b79 84px,#b17 94px,#a71 104px,#9c2 112px,#7cf 132px,#68b 146px,#5ee 154px,#55a 164px,#4b9 180px,#43a 200px,#3f0 220px,#3dc 238px,#3f9 252px,#43c 266px,#51a 298px,#5f1 334px,#737 370px,#795 382px,#7dd 394px,#836 414px,#8d8 462px,#94d 514px,#974 544px,#998 598px)"></i>
<i style="background:linear-gradient(#8e8 0px,#8e6 16px,#90c 24px,#98f 36px,#ad5 58px,#b38 66px,#b7b 76px,#b6e 84px,#b0d 94px,#a6a 104px,#9bd 112px,#7cd 132px,#68b 146px,#5ee 154px,#55c 164px,#4bc 180px,#43f 200px,#3f8 220px,#3e6 238px,#3fe 250px,#431 262px,#523 298px,#5bf 326px,#636 342px,#72a 368px,#78b 380px,#7de 394px,#835 414px,#8d5 462px,#94b 514px,#972 542px,#991 598px)"></i>
<i style="background:linear-gradient(#8e5 0px,#8e1 16px,#906 24px,#988 36px,#aca 58px,#b2d 66px,#b70 76px,#b64 84px,#b04 94px,#a63 104px,#9b7 112px,#7ca 132px,#68a 146px,#5ef 154px,#55d 164px,#4be 180px,#44e 198px,#404 218px,#3f0 236px,#403 248px,#43d 262px,#52b 298px,#5b8 324px,#62a 340px,#780 378px,#7d6 392px,#82d 412px,#8d2 462px,#94d 516px,#973 544px,#98a 598px)"></i>
<i style="background:linear-gradient(#8e2 0px,#8db 16px,#900 24px,#981 36px,#ac0 58px,#b23 66px,#b65 76px,#b5a 84px,#afb 94px,#a5b 104px,#9b0 112px,#7c8 132px,#68a 146px,#5ef 154px,#55f 164px,#4c1 180px,#452 198px,#40c 218px,#3fa 236px,#409 246px,#43f 260px,#532 298px,#5bd 324px,#62f 340px,#722 366px,#783 378px,#7d7 392px,#82c 412px,#8cf 462px,#94a 516px,#972 544px,#983 598px)"></i>
<i style="background:linear-gradient(#8df 0px,#8d6 16px,#8fa 24px,#979 36px,#ab6 58px,#b18 66px,#b5a 76px,#b50 84px,#af3 94px,#a53 104px,#9a9 112px,#7c4 132px,#689 146px,#5f0 154px,#560 164px,#4d3 178px,#460 196px,#41d 214px,#404 234px,#415 246px,#44b 260px,#52d 296px,#5c3 324px,#633 340px,#726 366px,#786 378px,#7d9 392px,#824 410px,#8cc 462px,#94e 520px,#971 544px,#97d 598px)"></i>
<i style="background:linear-gradient(#8db 0px,#8d1 16px,#8f4 24px,#972 36px,#aac 58px,#b0e 66px,#b50 76px,#b46 84px,#aeb 94px,#a4b 104px,#9a2 112px,#7c1 132px,#688 146px,#5f0 154px,#560 164px,#4d4 178px,#463 196px,#423 214px,#40e 234px,#420 246px,#457 260px,#533 296px,#5c8 324px,#638 340px,#77b 376px,#7d1 390px,#81c 408px,#8c8 462px,#953 524px,#970 546px,#978 598px)"></i>
<i style="background:linear-gradient(#8d7 0px,#8c9 14px,#8ee 24px,#96b 36px,#aa2 58px,#b03 66px,#b46 76px,#b3d 84px,#ae3 94px,#a43 104px,#99a 112px,#7bd 132px,#687 146px,#5f0 154px,#561 164px,#4d5 178px,#470 194px,#42f 212px,#418 232px,#427 244px,#459 258px,#5cd 324px,#63c 340px,#77e 376px,#7c8 388px,#80d 404px,#8c4 462px,#957 528px,#96f 548px,#972 598px)"></i>
<i style="background:linear-gradient(#8d3 0px,#8c4 14px,#8e8 24px,#964 36px,#a99 58px,#afa 66px,#b3c 76px,#b35 84px,#adc 94px,#a3b 104px,#993 112px,#7b9 132px,#686 146px,#5f0 154px,#561 164px,#4d6 178px,#472 194px,#434 212px,#421 232px,#437 246px,#46e 260px,#5de 326px,#640 340px,#772 374px,#7c9 388px,#806 402px,#8bb 460px,#95c 532px,#96d 550px,#96c 598px)"></i>
<i style="background:linear-gradient(#8cf 0px,#8bf 14px,#8e2 24px,#95d 36px,#a90 58px,#af0 66px,#b33 76px,#b2c 84px,#aec 92px,#a59 102px,#9b8 110px,#7b5 132px,#684 146px,#5f0 154px,#561 164px,#4d7 178px,#474 194px,#43a 212px,#42a 230px,#43d 244px,#470 258px,#5e3 326px,#644 340px,#774 374px,#7ca 388px,#806 402px,#8b2 458px,#95c 534px,#96b 550px,#967 598px)"></i>
<i style="background:linear-gradient(#8cb 0px,#8ba 14px,#8dd 24px,#957 36px,#a87 58px,#ae7 66px,#b2b 76px,#b25 84px,#ae6 92px,#a52 102px,#9b0 110px,#7de 130px,#6ab 144px,#5ef 154px,#561 164px,#4d7 178px,#47f 192px,#444 210px,#432 228px,#443 242px,#47b 258px,#5dc 324px,#648 340px,#776 374px,#7ca 388px,#805 402px,#8a4 454px,#959 534px,#968 552px,#961 598px)"></i>
<i style="background:linear-gradient(#8c8 0px,#8b5 14px,#8d8 24px,#951 36px,#adf 66px,#b23 76px,#b1e 84px,#adf 92px,#a4b 102px,#9a9 110px,#7d9 130px,#6a9 144px,#5ee 154px,#560 164px,#4d7 178px,#480 192px,#449 210px,#43a 228px,#44d 242px,#486 258px,#5ec 326px,#64c 340px,#777 374px,#7ca 388px,#805 402px,#896 450px,#958 536px,#964 556px,#95b 598px)"></i>
<i style="background:linear-gradient(#8c5 0px,#8b1 14px,#8d4 24px,#94d 36px,#a91 60px,#aea 68px,#b20 78px,#b0d 86px,#ac2 94px,#a45 102px,#9a2 110px,#7d5 130px,#6a7 144px,#5ec 154px,#578 162px,#4e7 176px,#48b 190px,#451 208px,#441 226px,#453 240px,#488 256px,#5f1 326px,#64f 340px,#76a 372px,#7c0 386px,#803 402px,#87f 442px,#954 536px,#960 556px,#954 598px)"></i>
<i style="background:linear-gradient(#8c2 0px,#8ae 14px,#8d0 24px,#949 36px,#a8a 60px,#ae3 68px,#b19 78px,#b08 86px,#abd 94px,#a40 102px,#99c 110px,#7d0 130px,#6a4 144px,#5ea 154px,#576 162px,#4e6 176px,#48b 190px,#459 206px,#447 224px,#457 238px,#481 252px,#56b 300px,#634 336px,#72d 364px,#786 376px,#802 402px,#877 440px,#952 538px,#95a 560px,#94d 598px)"></i>
<i style="background:linear-gradient(#8c0 0px,#8ab 14px,#8cd 24px,#946 36px,#a84 60px,#adc 68px,#b13 78px,#b03 86px,#ab9 94px,#a3b 102px,#997 110px,#7f7 128px,#6a1 144px,#5e8 154px,#574 162px,#4e6 176px,#48c 190px,#45d 206px,#44e 224px,#45c 236px,#48b 252px,#564 298px,#629 334px,#778 374px,#7c7 388px,#7ff 402px,#874 440px,#94c 538px,#954 560px,#946 598px)"></i>
<i style="background:linear-gradient(#8bf 0px,#8a9 14px,#8cb 24px,#944 36px,#a7e 60px,#ad6 68px,#b0e 78px,#aff 86px,#ab5 94px,#a37 102px,#992 110px,#7f3 128px,#69e 144px,#5e5 154px,#572 162px,#4f5 174px,#495 188px,#463 204px,#453 222px,#45f 234px,#48c 250px,#569 298px,#62d 334px,#72f 364px,#777 374px,#7c5 388px,#7fc 402px,#871 440px,#945 538px,#94e 560px,#93d 598px)"></i>
<i style="background:linear-gradient(#8bf 0px,#8a9 14px,#8be 22px,#943 36px,#a79 60px,#ad1 68px,#b0a 78px,#afb 86px,#ab2 94px,#a34 102px,#98e 110px,#7c2 130px,#69a 144px,#5e2 154px,#56f 162px,#4f4 174px,#495 188px,#466 204px,#459 222px,#466 234px,#494 250px,#56d 298px,#631 334px,#72f 364px,#775 374px,#7c1 388px,#7f8 402px,#86d 440px,#940 540px,#934 598px)"></i>
<i style="background:linear-gradient(#8bf 0px,#8aa 14px,#8c0 22px,#943 36px,#a75 60px,#acc 68px,#b05 78px,#af8 86px,#ab0 94px,#a32 102px,#98c 110px,#7be 130px,#696 144px,#5de 154px,#56c 162px,#4f2 174px,#495 188px,#46c 202px,#45d 220px,#46d 234px,#49c 250px,#572 298px,#643 336px,#766 372px,#7b4 386px,#7ed 400px,#868 440px,#898 468px,#937 540px,#93d 562px,#92b 598px)"></i>
<i style="background:linear-gradient(#8c0 0px,#8ac 14px,#8d0 24px,#944 36px,#a71 60px,#ac7 68px,#b02 78px,#af6 86px,#aae 94px,#a31 102px,#98a 110px,#7ba 130px,#692 144px,#5da 154px,#568 162px,#4f0 174px,#495 188px,#46e 202px,#461 220px,#46e 232px,#49b 248px,#56d 296px,#647 336px,#763 372px,#7e8 400px,#864 440px,#88f 468px,#92d 540px,#934 560px,#920 598px)"></i>
<i style="background:linear-gradient(#8c1 0px,#8af 14px,#8d5 24px,#947 36px,#ac4 68px,#aff 78px,#af4 86px,#aad 94px,#a30 102px,#98a 110px,#7e3 128px,#6b6 142px,#5f6 152px,#57e 160px,#4fe 172px,#49e 186px,#473 200px,#464 218px,#470 230px,#494 244px,#52d 282px,#63e 334px,#72a 364px,#78c 380px,#7d4 396px,#842 430px,#922 540px,#929 560px,#915 598px)"></i>
<i style="background:linear-gradient(#8c4 0px,#8b4 14px,#8db 24px,#94b 36px,#ac0 68px,#afc 78px,#af2 86px,#aad 94px,#a30 102px,#989 110px,#7e0 128px,#6b2 142px,#5f1 152px,#579 160px,#4fb 172px,#49e 186px,#478 198px,#467 216px,#471 228px,#493 242px,#532 282px,#64e 336px,#727 364px,#785 380px,#7c6 394px,#841 432px,#868 448px,#87e 470px,#8b4 490px,#919 542px,#91e 560px,#908 598px)"></i>
<i style="background:linear-gradient(#8c7 0px,#8ba 14px,#8e2 24px,#950 36px,#abe 68px,#afa 78px,#af1 86px,#aac 94px,#a30 102px,#98a 110px,#7dc 128px,#6ad 142px,#5ec 152px,#575 160px,#4f8 172px,#49d 186px,#479 198px,#46a 216px,#491 240px,#52c 280px,#651 336px,#722 364px,#77e 380px,#7be 394px,#83a 432px,#861 448px,#873 470px,#8a8 490px,#90c 542px,#912 560px,#8fb 598px)"></i>
<i style="background:linear-gradient(#8cb 0px,#8c1 14px,#8eb 24px,#956 36px,#abc 68px,#af8 78px,#af1 86px,#aac 94px,#a31 102px,#98a 110px,#7d9 128px,#6a8 142px,#5e6 152px,#570 160px,#4f4 172px,#4a5 184px,#47e 196px,#46c 214px,#474 226px,#495 240px,#530 280px,#653 336px,#71d 364px,#775 380px,#7b5 394px,#831 432px,#858 448px,#866 470px,#89c 490px,#8ff 542px,#905 560px,#8ee 598px)"></i>
<i style="background:linear-gradient(#8d1 0px,#8c5 12px,#8e7 22px,#94a 34px,#a6c 60px,#aca 70px,#af6 78px,#af0 86px,#aac 94px,#a31 102px,#98a 110px,#7d5 128px,#6a3 142px,#5e0 152px,#56a 160px,#4f1 172px,#4a3 184px,#47e 196px,#46e 214px,#492 238px,#52a 278px,#660 338px,#70b 362px,#76c 380px,#7a3 392px,#821 430px,#84f 448px,#858 470px,#88f 490px,#8f1 542px,#8f8 560px,#8df 598px)"></i>
<i style="background:linear-gradient(#8d7 0px,#8ce 12px,#8f2 22px,#953 34px,#a6e 60px,#ac9 70px,#af5 78px,#aef 86px,#aac 94px,#a0b 104px,#95c 112px,#7d1 128px,#6c9 140px,#5fe 150px,#57f 158px,#4fe 170px,#4ab 182px,#481 194px,#46f 212px,#494 238px,#523 276px,#65f 338px,#704 362px,#76b 382px,#815 430px,#844 448px,#84a 470px,#880 490px,#8e5 544px,#8ea 560px,#8d0 598px)"></i>
<i style="background:linear-gradient(#8de 0px,#8d7 12px,#8fe 22px,#95d 34px,#a70 60px,#ac8 70px,#af4 78px,#aef 86px,#ad4 90px,#a91 96px,#a0a 104px,#95b 112px,#7cd 128px,#6c4 140px,#5f8 150px,#579 158px,#4f9 170px,#4a9 182px,#480 194px,#46f 212px,#491 236px,#51d 274px,#65e 338px,#6fc 362px,#771 386px,#82b 442px,#83a 470px,#871 490px,#8d6 544px,#8db 560px,#8c1 598px)"></i>
<i style="background:linear-gradient(#8e6 0px,#8e2 12px,#90a 22px,#968 34px,#a5f 58px,#ac8 70px,#af3 78px,#aed 86px,#a90 96px,#a09 104px,#95a 112px,#7c9 128px,#6bf 140px,#5f2 150px,#574 158px,#4f5 170px,#4a6 182px,#47f 194px,#46f 212px,#492 236px,#51e 274px,#666 340px,#6f3 362px,#76c 388px,#81c 442px,#829 448px,#829 470px,#860 490px,#8c9 546px,#8b1 598px)"></i>
<i style="background:linear-gradient(#8ef 0px,#8ed 12px,#917 22px,#974 34px,#a64 58px,#ac9 70px,#af1 78px,#aeb 86px,#a8e 96px,#a07 104px,#958 112px,#7c5 128px,#6b9 140px,#5ec 150px,#56e 158px,#4f1 170px,#4a3 182px,#47d 194px,#46f 210px,#48e 234px,#50e 270px,#662 340px,#6e7 362px,#75d 388px,#80b 442px,#818 448px,#817 470px,#84e 490px,#8b9 546px,#8a0 598px)"></i>
<i style="background:linear-gradient(#8f9 0px,#8f7 10px,#91a 20px,#970 32px,#abc 68px,#af0 78px,#ae8 86px,#a8b 96px,#a05 104px,#954 112px,#7c0 128px,#6b3 140px,#5e6 150px,#569 158px,#4fd 168px,#4a9 180px,#47f 192px,#46e 208px,#48e 234px,#506 268px,#667 342px,#6ed 366px,#75b 392px,#7f8 442px,#804 470px,#83a 490px,#8a9 546px,#8ab 562px,#88f 598px)"></i>
<i style="background:linear-gradient(#904 0px,#904 10px,#929 20px,#97f 32px,#a70 58px,#abe 68px,#aee 78px,#ae5 86px,#aa1 94px,#a01 104px,#950 112px,#7bc 128px,#6ad 140px,#5e1 150px,#564 158px,#4f8 168px,#4a6 180px,#47c 192px,#46d 208px,#484 230px,#4d7 256px,#549 284px,#6de 366px,#748 392px,#7e3 442px,#7f3 472px,#898 546px,#89b 562px,#87d 598px)"></i>
<i style="background:linear-gradient(#910 0px,#912 10px,#939 20px,#97e 30px,#a66 56px,#ac1 68px,#aed 78px,#ae1 86px,#a9d 94px,#9fd 104px,#94b 112px,#7e8 126px,#6ff 136px,#601 148px,#57a 156px,#505 166px,#4ac 178px,#47d 190px,#46b 206px,#47f 228px,#4ce 254px,#53d 282px,#6ce 366px,#72c 390px,#7cd 442px,#7df 472px,#887 546px,#88a 562px,#86b 598px)"></i>
<i style="background:linear-gradient(#91c 0px,#926 12px,#955 22px,#a7e 58px,#acf 70px,#aeb 78px,#ade 86px,#a99 94px,#9f8 104px,#946 112px,#7b2 128px,#6cc 138px,#5fb 148px,#575 156px,#500 166px,#4a8 178px,#47a 190px,#469 204px,#47a 226px,#4c5 252px,#531 280px,#607 324px,#6c5 368px,#7b1 440px,#7c9 472px,#876 546px,#87a 562px,#859 598px)"></i>
<i style="background:linear-gradient(#929 0px,#931 10px,#95a 20px,#a86 58px,#ad1 70px,#ae9 78px,#ada 86px,#a95 94px,#9f3 104px,#941 112px,#7ad 128px,#6c5 138px,#5f5 148px,#570 156px,#4fb 166px,#4af 176px,#47b 188px,#467 202px,#475 224px,#4bb 250px,#525 278px,#600 324px,#6b3 368px,#799 440px,#7b3 472px,#865 546px,#869 562px,#846 598px)"></i>
<i style="background:linear-gradient(#937 0px,#941 10px,#96b 20px,#a71 54px,#aca 68px,#ae8 78px,#ad6 86px,#a90 94px,#9ee 104px,#93b 112px,#7a8 128px,#6bf 138px,#5f0 148px,#56b 156px,#4f6 166px,#4ab 176px,#478 188px,#463 202px,#473 224px,#4b9 250px,#52a 280px,#5ff 326px,#6a8 370px,#780 440px,#79c 472px,#853 546px,#857 562px,#834 598px)"></i>
<i style="background:linear-gradient(#945 0px,#951 10px,#97d 20px,#a7b 54px,#acd 68px,#ae6 78px,#ad2 86px,#a8b 94px,#9e9 104px,#936 112px,#7a2 128px,#6b9 138px,#5ea 148px,#566 156px,#4f2 166px,#4a7 176px,#474 188px,#460 200px,#46d 222px,#4af 248px,#51c 278px,#60c 332px,#6b0 378px,#766 440px,#789 474px,#841 546px,#846 562px,#822 598px)"></i>
<i style="background:linear-gradient(#953 0px,#962 10px,#983 18px,#a78 52px,#ac8 66px,#ae5 76px,#ace 86px,#a87 94px,#9e4 104px,#930 112px,#79d 128px,#6b3 138px,#5e5 148px,#561 156px,#4ed 166px,#4a3 176px,#470 188px,#45c 200px,#46b 222px,#4ab 248px,#517 278px,#602 332px,#69b 378px,#74d 440px,#776 476px,#82f 546px,#835 562px,#810 598px)"></i>
<i style="background:linear-gradient(#962 0px,#973 10px,#995 18px,#a76 50px,#acd 66px,#ae4 76px,#acb 86px,#a83 94px,#9de 104px,#92a 112px,#797 128px,#6ad 138px,#5df 148px,#55c 156px,#4e9 166px,#49f 176px,#46c 188px,#458 200px,#468 222px,#4a1 246px,#508 276px,#5f6 332px,#733 440px,#748 464px,#76c 482px,#7f6 528px,#81d 546px,#824 562px,#7fe 598px)"></i>
<i style="background:linear-gradient(#972 0px,#984 10px,#9a7 18px,#a76 48px,#aca 64px,#ae4 76px,#ac8 86px,#a7f 94px,#9da 104px,#925 112px,#6d5 136px,#600 146px,#574 154px,#4f8 164px,#4a7 174px,#46f 186px,#456 198px,#45e 218px,#491 242px,#4fa 274px,#5af 316px,#5fd 338px,#719 440px,#72d 462px,#762 488px,#7f8 536px,#813 560px,#7ea 590px,#7ed 598px)"></i>
<i style="background:linear-gradient(#981 0px,#9ae 16px,#a76 46px,#ac7 62px,#ae4 76px,#ac5 86px,#a61 96px,#9d5 104px,#920 112px,#6cf 136px,#5fb 146px,#570 154px,#4f4 164px,#4a3 174px,#46b 186px,#451 198px,#45b 218px,#48c 242px,#4f2 274px,#5a3 316px,#5f0 338px,#6ca 424px,#700 440px,#714 462px,#749 488px,#7e9 538px,#802 560px,#7d8 590px,#7dc 598px)"></i>
<i style="background:linear-gradient(#991 0px,#9c0 16px,#a83 46px,#acd 62px,#ae4 76px,#ac2 86px,#a5d 96px,#9d1 104px,#91b 112px,#6cb 136px,#5f6 146px,#56b 154px,#4f0 164px,#4a0 174px,#468 186px,#44d 198px,#45a 220px,#48c 244px,#4ea 274px,#5dd 336px,#6b0 424px,#6e7 440px,#6f8 460px,#732 488px,#7db 540px,#7f0 562px,#7c6 590px,#7cc 598px)"></i>
<i style="background:linear-gradient(#9a1 0px,#9d2 16px,#a78 42px,#acc 60px,#ae6 74px,#ac0 86px,#a5b 96px,#9ce 104px,#916 112px,#6c6 136px,#5f2 146px,#567 154px,#4ec 164px,#49d 174px,#464 186px,#44a 198px,#456 220px,#48b 246px,#4e8 276px,#5cf 336px,#5fb 360px,#630 376px,#697 424px,#6d3 442px,#6e0 460px,#71b 488px,#7c8 540px,#7e0 562px,#7b6 590px,#7bd 598px)"></i>
<i style="background:linear-gradient(#9b2 0px,#9e3 16px,#a85 42px,#ad2 60px,#ae7 74px,#abf 86px,#a58 96px,#9ca 104px,#6c2 136px,#5ee 146px,#563 154px,#4fe 162px,#4a7 172px,#469 184px,#446 198px,#451 220px,#485 246px,#4de 276px,#5c1 336px,#5e8 360px,#61d 376px,#67f 424px,#6bb 442px,#6c5 458px,#704 488px,#774 518px,#7ba 542px,#7cf 562px,#7a7 590px,#7af 598px)"></i>
<i style="background:linear-gradient(#9c2 0px,#9f5 16px,#a7c 38px,#ad2 58px,#ae9 74px,#abe 86px,#a71 94px,#9f0 102px,#940 110px,#7ac 126px,#692 138px,#5eb 146px,#560 154px,#4fb 162px,#4a4 172px,#466 184px,#443 198px,#44f 222px,#487 250px,#4da 278px,#5b3 336px,#5d7 360px,#60a 376px,#669 424px,#6a5 442px,#6af 458px,#6ef 488px,#759 516px,#7a8 542px,#7bf 562px,#79a 590px,#7a3 598px)"></i>
<i style="background:linear-gradient(#9d3 0px,#9fd 14px,#a88 38px,#ad2 56px,#aea 74px,#abd 86px,#a70 94px,#9ee 102px,#93d 110px,#6bc 136px,#5e8 146px,#55d 154px,#4f9 162px,#4a2 172px,#464 184px,#440 198px,#44a 222px,#484 252px,#4d5 280px,#5a4 336px,#5c8 360px,#5f7 376px,#655 424px,#68f 442px,#69b 458px,#6dc 488px,#753 520px,#79a 544px,#7ae 564px,#78e 590px,#797 598px)"></i>
<i style="background:linear-gradient(#9e4 0px,#a0e 14px,#a93 38px,#ad7 56px,#aeb 74px,#abe 86px,#a6f 94px,#9ed 102px,#93c 110px,#6ba 136px,#5e6 146px,#55b 154px,#4f6 162px,#4a0 172px,#462 184px,#43e 198px,#447 224px,#48a 258px,#4cf 282px,#590 334px,#642 424px,#67a 442px,#68c 460px,#6c9 488px,#753 526px,#78c 546px,#79f 564px,#785 590px,#78d 598px)"></i>
<i style="background:linear-gradient(#9f5 0px,#a1f 14px,#a9d 38px,#adc 56px,#aed 74px,#abe 86px,#a6f 94px,#9eb 102px,#93a 110px,#6b8 136px,#5e3 146px,#559 154px,#4e0 164px,#491 174px,#458 186px,#43c 198px,#444 226px,#489 262px,#4c8 284px,#580 334px,#631 424px,#666 442px,#67a 460px,#6b3 486px,#77a 546px,#78f 564px,#77d 590px,#784 598px)"></i>
<i style="background:linear-gradient(#a06 0px,#a2f 14px,#aa6 38px,#adc 54px,#aee 74px,#abf 86px,#a6e 94px,#9ea 102px,#939 110px,#6b6 136px,#5e1 146px,#558 154px,#4de 164px,#490 174px,#457 186px,#438 200px,#442 230px,#48c 268px,#4c6 288px,#56b 332px,#620 424px,#652 442px,#698 482px,#76d 548px,#780 564px,#77c 598px)"></i>
<i style="background:linear-gradient(#a16 0px,#a3f 14px,#aaf 38px,#ae0 54px,#af0 74px,#ac0 86px,#a6e 94px,#9ea 102px,#938 110px,#6b3 136px,#5df 146px,#556 154px,#4dc 164px,#48e 174px,#455 186px,#436 200px,#43b 230px,#488 272px,#4e5 302px,#55a 332px,#60c 422px,#640 442px,#67c 478px,#75c 548px,#771 564px,#774 598px)"></i>
<i style="background:linear-gradient(#a26 0px,#a56 16px,#abe 40px,#ae4 54px,#af1 74px,#ac2 86px,#a6f 94px,#9e9 102px,#937 110px,#6b1 136px,#5dd 146px,#553 154px,#4da 164px,#48d 174px,#453 186px,#434 200px,#434 230px,#475 270px,#4d9 304px,#549 332px,#62e 442px,#665 476px,#74b 548px,#762 564px,#76d 598px)"></i>
<i style="background:linear-gradient(#a36 0px,#a64 16px,#ac5 40px,#ae7 54px,#af3 74px,#ac3 86px,#a6f 94px,#9e9 102px,#936 110px,#6af 136px,#5da 146px,#551 154px,#4d8 164px,#48b 174px,#451 186px,#42f 202px,#42c 230px,#46e 274px,#4cb 306px,#531 330px,#618 440px,#653 476px,#73a 548px,#753 564px,#765 598px)"></i>
<i style="background:linear-gradient(#a45 0px,#acb 40px,#aea 54px,#af4 74px,#ae6 80px,#ac4 86px,#a6f 94px,#9e8 102px,#935 110px,#6ac 136px,#5d6 146px,#54e 154px,#4d6 164px,#47d 176px,#449 188px,#429 204px,#425 232px,#466 278px,#4b5 306px,#51e 330px,#579 378px,#603 438px,#63d 474px,#72e 550px,#75e 598px)"></i>
<i style="background:linear-gradient(#a54 0px,#ad1 40px,#aed 54px,#af5 74px,#ae7 80px,#ac5 86px,#a6f 94px,#9e7 102px,#933 110px,#6a8 136px,#5d2 146px,#54b 154px,#4d3 164px,#47b 176px,#447 188px,#426 204px,#41d 232px,#458 280px,#49d 306px,#508 330px,#54d 360px,#565 378px,#5ee 436px,#62b 474px,#71d 550px,#756 598px)"></i>
<i style="background:linear-gradient(#a62 0px,#ad1 38px,#af0 54px,#af6 74px,#ae8 80px,#ac6 86px,#a6f 94px,#9e6 102px,#931 110px,#6a3 136px,#5cd 146px,#547 154px,#4d0 164px,#479 176px,#445 188px,#420 206px,#415 234px,#448 282px,#485 306px,#4eb 328px,#535 358px,#54f 378px,#5da 434px,#61d 476px,#712 552px,#74e 598px)"></i>
<i style="background:linear-gradient(#a6f 0px,#ad6 38px,#af2 54px,#af7 74px,#ae9 80px,#ac6 86px,#a6e 94px,#9e5 102px,#92f 110px,#69c 136px,#5c8 146px,#542 154px,#4cc 164px,#476 176px,#43d 190px,#419 208px,#40c 236px,#43b 286px,#472 308px,#4d1 328px,#520 358px,#53d 380px,#5c6 432px,#60b 476px,#707 554px,#745 598px)"></i>
<i style="background:linear-gradient(#a7b 0px,#adb 38px,#af6 56px,#af5 76px,#ac6 86px,#a6e 94px,#9e3 102px,#92c 110px,#695 136px,#5c1 146px,#53c 154px,#4c8 164px,#473 176px,#43a 190px,#412 210px,#402 232px,#412 270px,#441 300px,#45f 310px,#4b6 328px,#509 358px,#526 380px,#5b2 430px,#5f4 474px,#6f2 552px,#73b 598px)"></i>
<i style="background:linear-gradient(#a87 0px,#adf 38px,#af8 56px,#af9 74px,#ae9 80px,#ac5 86px,#a6c 94px,#9e1 102px,#929 110px,#750 128px,#68d 136px,#5ba 146px,#536 154px,#4c3 164px,#465 178px,#432 192px,#409 212px,#3f8 234px,#400 272px,#426 300px,#443 310px,#4a0 330px,#4eb 356px,#512 382px,#5a2 430px,#5e1 474px,#6e2 552px,#732 598px)"></i>
<i style="background:linear-gradient(#a92 0px,#ae0 36px,#afb 58px,#af6 76px,#ac4 86px,#a6b 94px,#9de 102px,#925 110px,#749 128px,#685 136px,#5b2 146px,#530 154px,#4be 164px,#462 178px,#42e 192px,#401 214px,#3ee 234px,#3ed 274px,#40e 302px,#483 330px,#4d2 356px,#4f8 382px,#58d 428px,#5ce 474px,#6d3 552px,#727 598px)"></i>
<i style="background:linear-gradient(#a9c 0px,#ae4 36px,#afd 60px,#af6 76px,#ac4 86px,#a69 94px,#9db 102px,#921 110px,#741 128px,#64e 138px,#586 148px,#50f 156px,#4a8 166px,#455 180px,#420 196px,#3f4 218px,#3d8 274px,#3f1 302px,#464 330px,#4ab 352px,#4e3 384px,#51f 404px,#577 426px,#5bb 474px,#6c3 552px,#71d 598px)"></i>
<i style="background:linear-gradient(#aa6 0px,#ae8 36px,#aff 62px,#af6 76px,#ac2 86px,#a67 94px,#9d8 102px,#91c 110px,#738 128px,#644 138px,#57e 148px,#508 156px,#4a3 166px,#452 180px,#417 198px,#3e6 222px,#3c2 276px,#3d3 302px,#496 354px,#4be 380px,#4f1 398px,#566 426px,#5a8 474px,#6ba 554px,#712 598px)"></i>
<i style="background:linear-gradient(#aaf 0px,#ae4 30px,#b01 62px,#af5 76px,#ac1 86px,#a65 94px,#9d4 102px,#917 110px,#72f 128px,#63a 138px,#598 146px,#501 156px,#49e 166px,#44e 180px,#40d 200px,#3d7 226px,#3aa 278px,#3b9 304px,#479 354px,#4a1 380px,#4cf 396px,#554 426px,#594 474px,#6ab 554px,#706 598px)"></i>
<i style="background:linear-gradient(#ab8 0px,#adf 22px,#b02 62px,#afa 74px,#acf 84px,#a62 94px,#9d0 102px,#911 110px,#726 128px,#65d 136px,#58e 146px,#4fa 156px,#499 166px,#44b 180px,#3fd 204px,#3c6 230px,#391 280px,#39b 304px,#462 356px,#484 380px,#4ab 394px,#542 426px,#581 474px,#69c 554px,#6fb 598px)"></i>
<i style="background:linear-gradient(#ac1 0px,#ae3 20px,#b03 62px,#af9 74px,#acd 84px,#a7c 92px,#9f5 100px,#93e 108px,#71c 128px,#653 136px,#585 146px,#4f3 156px,#494 166px,#447 180px,#3f2 206px,#3b4 234px,#377 282px,#381 306px,#444 356px,#467 380px,#48e 394px,#52f 426px,#56d 474px,#68d 554px,#6ef 598px)"></i>
<i style="background:linear-gradient(#ac8 0px,#ae8 18px,#b03 64px,#af3 76px,#acb 84px,#a79 92px,#9f0 100px,#937 108px,#711 128px,#648 136px,#57b 146px,#4ed 156px,#48f 166px,#444 180px,#3ec 206px,#3a4 236px,#35e 282px,#362 306px,#426 356px,#469 392px,#51b 426px,#559 474px,#67e 554px,#6c5 580px,#6e4 598px)"></i>
<i style="background:linear-gradient(#ad0 0px,#aed 18px,#b04 64px,#af2 76px,#ac9 84px,#a75 92px,#9c0 102px,#8fb 110px,#6d2 130px,#5bc 142px,#534 150px,#4bc 160px,#47d 168px,#452 176px,#3eb 204px,#39f 232px,#34e 276px,#33a 298px,#34e 310px,#40d 358px,#42a 380px,#44b 392px,#482 404px,#506 426px,#545 474px,#670 554px,#6b8 580px,#6d8 598px)"></i>
<i style="background:linear-gradient(#ad7 0px,#af3 18px,#b05 64px,#af1 76px,#ac6 84px,#a71 92px,#9e4 100px,#928 108px,#6fc 128px,#606 138px,#54a 148px,#4cb 158px,#462 172px,#3eb 202px,#392 232px,#332 278px,#31d 298px,#32f 310px,#3ed 358px,#40c 380px,#42c 392px,#467 404px,#4f0 426px,#531 474px,#661 554px,#6a6 578px,#6cc 598px)"></i>
<i style="background:linear-gradient(#ade 0px,#af7 16px,#b06 62px,#af6 74px,#ad2 82px,#a6d 92px,#9dd 100px,#91f 108px,#6f1 128px,#62a 136px,#561 146px,#4c6 158px,#45f 172px,#3e5 202px,#37f 234px,#316 280px,#300 300px,#316 312px,#3cc 358px,#40e 392px,#44b 404px,#4d7 426px,#51d 474px,#653 554px,#699 578px,#6c0 598px)"></i>
<i style="background:linear-gradient(#ae4 0px,#afc 16px,#b06 62px,#af5 74px,#acf 82px,#a82 90px,#9fe 98px,#949 106px,#6e6 128px,#620 136px,#55a 146px,#4c2 158px,#45c 172px,#3cf 206px,#370 234px,#2fa 282px,#2e5 300px,#2fe 314px,#3ab 358px,#3f0 392px,#4bc 426px,#509 474px,#644 554px,#68c 578px,#6b3 598px)"></i>
<i style="background:linear-gradient(#aea 0px,#b00 16px,#b07 62px,#af4 74px,#acc 82px,#a7d 90px,#9f6 98px,#93e 106px,#711 126px,#617 136px,#554 146px,#4be 158px,#459 172px,#3b8 210px,#35b 236px,#2e2 282px,#2ca 300px,#2e0 314px,#388 358px,#3d2 392px,#49e 426px,#4f6 474px,#636 554px,#67f 578px,#6a7 598px)"></i>
<i style="background:linear-gradient(#af0 0px,#b04 16px,#b08 62px,#af3 74px,#ac9 82px,#a76 90px,#9ed 98px,#932 106px,#706 126px,#60f 136px,#54f 146px,#4cf 156px,#488 164px,#457 172px,#396 216px,#33f 240px,#2c5 284px,#2b0 300px,#2be 312px,#360 356px,#3a7 388px,#3d3 398px,#47f 426px,#4e2 474px,#628 554px,#671 578px,#69b 598px)"></i>
<i style="background:linear-gradient(#af5 0px,#b08 16px,#b0a 60px,#af9 72px,#ac6 82px,#a70 90px,#9e3 98px,#925 106px,#731 124px,#634 134px,#56a 144px,#4cc 156px,#486 164px,#455 172px,#371 222px,#321 244px,#2ad 284px,#297 300px,#2a3 312px,#332 352px,#38a 388px,#3ac 396px,#468 428px,#497 444px,#4cf 474px,#612 552px,#65f 576px,#68e 598px)"></i>
<i style="background:linear-gradient(#afa 0px,#b0c 16px,#b0c 60px,#af8 72px,#ac2 82px,#a4a 92px,#9ad 100px,#8e3 108px,#6f0 126px,#5d5 138px,#546 146px,#4c9 156px,#453 172px,#35b 224px,#2c6 266px,#295 284px,#27f 300px,#28c 314px,#305 348px,#36e 388px,#391 396px,#41a 418px,#462 434px,#4bc 474px,#604 552px,#651 576px,#682 598px)"></i>
<i style="background:linear-gradient(#aff 0px,#b10 16px,#b0f 58px,#afd 70px,#acf 80px,#a7e 88px,#9f9 96px,#940 104px,#719 124px,#623 134px,#561 144px,#4db 154px,#45d 170px,#34d 224px,#2b6 264px,#27d 284px,#266 302px,#271 314px,#2e0 346px,#35a 390px,#3e9 414px,#451 436px,#4aa 474px,#5f6 552px,#644 576px,#675 598px)"></i>
<i style="background:linear-gradient(#b03 0px,#b13 16px,#b10 58px,#af6 72px,#acc 80px,#a78 88px,#9ef 96px,#934 104px,#70e 124px,#61b 134px,#55c 144px,#4d9 154px,#45c 170px,#33f 224px,#2a6 262px,#266 284px,#24e 302px,#25c 316px,#341 390px,#3cf 414px,#44a 440px,#498 474px,#5e0 550px,#637 576px,#669 598px)"></i>
<i style="background:linear-gradient(#b08 0px,#b17 16px,#b12 58px,#af6 72px,#ac9 80px,#a72 88px,#9e5 96px,#927 104px,#737 122px,#63f 132px,#579 142px,#4d7 154px,#45b 170px,#326 226px,#297 260px,#24f 284px,#237 302px,#247 318px,#32a 390px,#3ae 412px,#435 440px,#486 474px,#5d2 550px,#629 576px,#65c 598px)"></i>
<i style="background:linear-gradient(#b0c 0px,#b1a 16px,#b16 56px,#afc 70px,#ac6 80px,#a6c 88px,#9db 96px,#91a 104px,#72b 122px,#637 132px,#574 142px,#4eb 152px,#466 168px,#316 226px,#281 260px,#238 284px,#221 302px,#227 314px,#2ac 360px,#31c 392px,#38d 410px,#3c7 424px,#429 442px,#476 474px,#516 508px,#5c4 550px,#61c 576px,#64f 598px)"></i>
<i style="background:linear-gradient(#b10 0px,#b1d 16px,#b19 56px,#afc 70px,#ac3 80px,#a65 88px,#9fb 94px,#943 102px,#754 120px,#65c 130px,#570 142px,#4e9 152px,#466 168px,#307 226px,#26b 260px,#222 284px,#20a 302px,#214 316px,#293 360px,#30a 392px,#37a 410px,#3b1 424px,#416 442px,#466 474px,#508 508px,#5af 548px,#609 574px,#643 598px)"></i>
<i style="background:linear-gradient(#b14 0px,#b1b 56px,#afc 70px,#ad0 78px,#a7c 86px,#9f2 94px,#937 102px,#748 120px,#653 130px,#56c 142px,#4e8 152px,#472 166px,#2f7 226px,#255 260px,#20c 284px,#1f5 302px,#1fe 316px,#27d 360px,#2fb 392px,#368 410px,#39f 424px,#40d 444px,#458 474px,#4fa 508px,#5a1 548px,#5fb 574px,#636 598px)"></i>
<i style="background:linear-gradient(#b18 0px,#b1e 56px,#b04 68px,#ace 78px,#a76 86px,#9e9 94px,#92b 102px,#771 118px,#677 128px,#588 140px,#4fc 150px,#480 164px,#2e7 226px,#23f 260px,#1f6 284px,#1e1 300px,#1e9 316px,#268 360px,#2ee 392px,#34e 408px,#390 424px,#3fc 444px,#452 476px,#4fd 512px,#5b9 558px,#629 598px)"></i>
<i style="background:linear-gradient(#b1c 0px,#b20 56px,#b05 68px,#acb 78px,#a71 86px,#9e1 94px,#954 100px,#766 118px,#66f 128px,#584 140px,#4fb 150px,#480 164px,#2cb 228px,#221 262px,#1e2 284px,#1cc 300px,#1d5 316px,#24f 358px,#2e2 392px,#340 408px,#382 424px,#3ed 444px,#445 476px,#4f0 512px,#5a4 556px,#61c 598px)"></i>
<i style="background:linear-gradient(#b1f 0px,#b22 56px,#b06 68px,#ac9 78px,#a6b 86px,#9d8 94px,#915 102px,#727 120px,#611 132px,#580 140px,#4f9 150px,#48e 162px,#2bb 228px,#20c 262px,#1cd 284px,#1b8 300px,#1c6 318px,#23e 358px,#3de 444px,#438 476px,#4eb 514px,#597 556px,#610 598px)"></i>
<i style="background:linear-gradient(#b22 0px,#b26 54px,#b0e 66px,#ad8 76px,#a83 84px,#9fa 92px,#940 100px,#751 118px,#65e 128px,#57c 140px,#4f8 150px,#49d 160px,#2ab 228px,#1f8 262px,#1ba 284px,#1a5 300px,#1b4 318px,#22f 358px,#3d0 444px,#42c 476px,#4dd 514px,#589 556px,#603 598px)"></i>
<i style="background:linear-gradient(#b25 0px,#b28 54px,#b0f 66px,#ad6 76px,#a7e 84px,#9f3 92px,#936 100px,#77c 116px,#683 126px,#598 138px,#50d 148px,#49d 160px,#29c 228px,#1e4 262px,#1ac 282px,#194 296px,#1a1 316px,#1bb 328px,#222 358px,#3bb 442px,#420 476px,#4d9 516px,#57c 556px,#5f6 598px)"></i>
<i style="background:linear-gradient(#b28 0px,#b2a 54px,#b0f 66px,#ad3 76px,#a79 84px,#9eb 92px,#92d 100px,#773 116px,#67c 126px,#594 138px,#50b 148px,#4ac 158px,#3fd 182px,#33e 204px,#28d 228px,#1d2 262px,#19a 282px,#183 302px,#1ac 328px,#21e 360px,#316 408px,#3b0 442px,#414 476px,#56f 556px,#5ea 598px)"></i>
<i style="background:linear-gradient(#b2a 0px,#b2b 54px,#b0f 66px,#ad1 76px,#a74 84px,#9e4 92px,#958 98px,#76b 116px,#676 126px,#5b2 136px,#521 146px,#4bd 156px,#3fb 182px,#335 204px,#27f 228px,#1ca 260px,#18d 280px,#172 300px,#19f 328px,#215 360px,#305 406px,#39d 440px,#409 476px,#569 558px,#5dd 598px)"></i>
<i style="background:linear-gradient(#b2c 0px,#b2c 54px,#b0f 66px,#ace 76px,#a6f 84px,#9dd 92px,#950 98px,#798 114px,#69d 124px,#5ae 136px,#51f 146px,#4bc 156px,#3f8 182px,#32c 204px,#272 228px,#1bb 260px,#17d 280px,#164 302px,#19b 330px,#20d 360px,#2e1 400px,#383 436px,#3fe 476px,#55b 558px,#5d0 598px)"></i>
<i style="background:linear-gradient(#b2e 0px,#b2d 54px,#b0e 66px,#acb 76px,#a6a 84px,#9ff 90px,#948 98px,#791 114px,#697 124px,#5ab 136px,#51e 146px,#4bc 156px,#3e4 184px,#313 206px,#265 228px,#1b6 258px,#172 278px,#157 302px,#190 330px,#207 360px,#2bf 394px,#35b 428px,#3f3 476px,#54e 558px,#5c4 598px)"></i>
<i style="background:linear-gradient(#b2f 0px,#b2d 54px,#b0d 66px,#ac7 76px,#a64 84px,#9a2 94px,#723 118px,#63c 128px,#588 138px,#51d 146px,#4bb 156px,#3f3 182px,#30b 206px,#259 228px,#1a7 258px,#163 278px,#14b 292px,#14b 304px,#18d 332px,#201 360px,#2bc 394px,#34e 426px,#3e8 476px,#548 560px,#5b7 598px)"></i>
<i style="background:linear-gradient(#b31 0px,#b2f 52px,#b13 64px,#ad5 74px,#a7c 82px,#9f1 90px,#939 98px,#785 114px,#68e 124px,#5c8 134px,#534 144px,#4cc 154px,#3f0 182px,#303 206px,#24e 228px,#19a 258px,#155 278px,#13e 292px,#13f 304px,#158 318px,#18a 334px,#1de 354px,#2b8 394px,#34a 426px,#3d7 474px,#51e 552px,#5aa 598px)"></i>
<i style="background:linear-gradient(#b32 0px,#b2e 52px,#b11 64px,#ad0 74px,#a75 82px,#9ea 90px,#931 98px,#780 114px,#68b 124px,#5c6 134px,#533 144px,#4ba 156px,#3ed 182px,#2fb 206px,#243 228px,#197 256px,#148 278px,#132 292px,#133 304px,#181 334px,#1cd 352px,#2aa 392px,#33d 424px,#3cc 474px,#511 552px,#59e 598px)"></i>
<i style="background:linear-gradient(#b33 0px,#b3a 26px,#b2d 52px,#b0e 64px,#aca 74px,#a6e 82px,#9e2 90px,#92a 98px,#77b 114px,#688 124px,#5c5 134px,#532 144px,#4cb 154px,#3ea 182px,#2f4 206px,#248 226px,#195 254px,#140 276px,#128 290px,#128 304px,#179 334px,#222 370px,#2b0 394px,#338 424px,#3c2 474px,#504 552px,#591 598px)"></i>
<i style="background:linear-gradient(#b33 0px,#b3a 28px,#b2b 52px,#b09 64px,#ac4 74px,#a66 82px,#9d9 90px,#921 98px,#777 114px,#686 124px,#5c4 134px,#532 144px,#4ca 154px,#3e6 182px,#2ed 206px,#23e 226px,#18a 254px,#134 276px,#11c 290px,#11e 304px,#170 334px,#21c 370px,#2ab 394px,#332 424px,#3b8 474px,#4ff 554px,#585 598px)"></i>
<i style="background:linear-gradient(#b34 0px,#b3b 26px,#b2c 50px,#b04 64px,#abd 74px,#a5d 82px,#9d0 90px,#919 98px,#773 114px,#685 124px,#5c4 134px,#532 144px,#4ca 154px,#3e1 182px,#2d3 208px,#235 226px,#17f 254px,#129 276px,#110 300px,#13e 322px,#19a 346px,#29b 392px,#32b 424px,#3ae 474px,#4f3 554px,#578 598px)"></i>
<i style="background:linear-gradient(#b34 0px,#b3a 28px,#b2a 50px,#aff 64px,#ab5 74px,#a53 82px,#9c6 90px,#911 98px,#770 114px,#684 124px,#5c4 134px,#533 144px,#4c9 154px,#3dc 182px,#2cc 208px,#22c 226px,#17f 252px,#11e 276px,#106 300px,#136 322px,#193 346px,#29f 394px,#324 424px,#3a4 474px,#4e6 554px,#56c 598px)"></i>
<i style="background:linear-gradient(#b34 0px,#b3a 26px,#b2a 48px,#b02 62px,#abf 72px,#a49 82px,#9bc 90px,#908 98px,#76d 114px,#683 124px,#5c5 134px,#533 144px,#4c9 154px,#3d7 182px,#2c6 208px,#223 226px,#175 252px,#114 276px,#0fd 300px,#12d 322px,#18c 346px,#299 394px,#314 422px,#39b 474px,#4d9 554px,#55f 598px)"></i>
<i style="background:linear-gradient(#b34 0px,#b39 26px,#b27 48px,#afc 62px,#ab7 72px,#a3f 82px,#9b1 90px,#8ff 98px,#76a 114px,#683 124px,#5c5 134px,#534 144px,#4c8 154px,#3d2 182px,#2bf 208px,#21b 226px,#16b 252px,#10a 276px,#0f4 300px,#125 322px,#185 346px,#292 394px,#30d 422px,#391 474px,#4d4 556px,#553 598px)"></i>
</div></div>
<div class="clip" style="left:130px;top:854px;width:1412px;height:588px">
<div class="fld" style="left:-27px;top:-5.8px;width:1470px;height:600px">
<i style="background:linear-gradient(#fd6 0px,#fc6 80px,#f94 94px,#f66 100px,#f21 106px,#e90 114px,#e28 118px,#da9 122px,#c6b 130px,#997 146px,#83f 154px,#75c 160px,#6a6 166px,#5ec 174px,#546 184px,#4c9 196px,#485 208px,#460 228px,#47f 246px,#4d0 262px,#5c6 296px,#615 310px,#660 332px,#6ae 370px,#6e7 412px,#710 472px,#727 538px,#726 600px)"></i>
<i style="background:linear-gradient(#fd7 0px,#fd0 80px,#fa4 94px,#f79 100px,#f36 106px,#eaa 114px,#e44 118px,#dc4 122px,#c83 130px,#9a9 146px,#84f 154px,#76b 160px,#6b5 166px,#5d7 176px,#540 186px,#4cf 198px,#492 210px,#473 228px,#490 246px,#4df 262px,#5d6 296px,#624 310px,#66c 332px,#6b4 368px,#6ed 410px,#715 470px,#72d 538px,#72c 600px)"></i>
<i style="background:linear-gradient(#fd9 0px,#fd7 82px,#fa7 96px,#f4b 106px,#ec2 114px,#e5e 118px,#dde 122px,#c9a 130px,#9bd 146px,#861 154px,#77c 160px,#6c7 166px,#5eb 176px,#555 186px,#4e5 198px,#4a8 210px,#488 228px,#4a2 246px,#4f0 262px,#5e5 296px,#632 310px,#677 332px,#6bd 368px,#6f5 410px,#71c 470px,#733 538px,#731 600px)"></i>
<i style="background:linear-gradient(#fda 0px,#fde 84px,#fa9 98px,#f43 108px,#f02 112px,#eab 116px,#e3a 120px,#dac 124px,#cb0 130px,#a2b 144px,#875 154px,#78e 160px,#6db 166px,#602 176px,#56c 186px,#4fc 198px,#4bf 210px,#49d 228px,#4b4 246px,#50d 264px,#5f5 296px,#638 308px,#67f 330px,#6c7 368px,#6fd 410px,#722 470px,#739 538px,#736 600px)"></i>
<i style="background:linear-gradient(#fdc 0px,#fe7 84px,#fb6 98px,#f56 108px,#f16 112px,#ec2 116px,#e0e 122px,#d1e 128px,#a40 144px,#88b 154px,#7a4 160px,#6f2 166px,#61a 176px,#585 186px,#524 196px,#4d8 210px,#4b2 228px,#4c7 246px,#51d 264px,#604 296px,#647 308px,#68a 330px,#6d0 368px,#705 410px,#72a 472px,#73e 538px,#73b 600px)"></i>
<i style="background:linear-gradient(#fdd 0px,#fef 84px,#fc3 98px,#f66 108px,#f28 112px,#ed5 116px,#e22 122px,#d33 128px,#a55 144px,#8a3 154px,#7be 160px,#70c 166px,#634 176px,#59f 186px,#53e 196px,#4f1 210px,#4c9 228px,#4da 246px,#52e 264px,#614 296px,#656 308px,#696 330px,#6dc 370px,#70d 410px,#732 476px,#744 540px,#741 600px)"></i>
<i style="background:linear-gradient(#fde 0px,#ff6 84px,#fcf 98px,#f76 108px,#f39 112px,#ee7 116px,#e35 122px,#d46 128px,#a6b 144px,#8be 154px,#7db 160px,#729 166px,#651 176px,#5bc 186px,#54c 198px,#504 212px,#4de 232px,#4f3 248px,#53f 264px,#623 296px,#664 308px,#69d 328px,#6e2 368px,#713 408px,#737 474px,#74a 540px,#746 600px)"></i>
<i style="background:linear-gradient(#fdf 0px,#fdd 28px,#ffb 86px,#fd9 98px,#f83 108px,#f48 112px,#ef6 116px,#e46 122px,#d58 128px,#a82 144px,#92b 152px,#7fb 160px,#748 166px,#66f 176px,#5da 186px,#569 198px,#520 212px,#4f5 232px,#507 248px,#551 264px,#632 296px,#672 308px,#6a9 328px,#6ee 370px,#71c 410px,#73f 478px,#74b 600px)"></i>
<i style="background:linear-gradient(#fdf 0px,#fde 28px,#fff 88px,#fd7 100px,#f8f 108px,#f55 112px,#f04 116px,#e55 122px,#d69 128px,#a99 144px,#8f8 154px,#7dc 162px,#737 168px,#66e 178px,#5e3 188px,#57b 200px,#535 214px,#50e 232px,#51b 248px,#56e 266px,#641 296px,#680 308px,#6b4 328px,#6f7 370px,#722 408px,#746 478px,#750 600px)"></i>
<i style="background:linear-gradient(#fe0 0px,#ffe 92px,#fdf 100px,#f9a 108px,#f60 112px,#f10 116px,#e63 122px,#d79 128px,#ab0 144px,#964 152px,#840 160px,#75c 168px,#691 178px,#605 188px,#59b 200px,#552 214px,#527 232px,#530 248px,#580 266px,#65d 298px,#68e 308px,#6bf 328px,#705 374px,#72d 412px,#74e 484px,#755 600px)"></i>
<i style="background:linear-gradient(#fe1 0px,#fff 94px,#fda 102px,#fa3 108px,#f6a 112px,#f1b 116px,#e6f 122px,#d88 128px,#ac8 144px,#982 152px,#864 160px,#781 168px,#6b6 178px,#629 188px,#5bc 200px,#569 216px,#53e 234px,#54b 250px,#59e 268px,#65f 296px,#694 306px,#6c6 326px,#70e 374px,#733 410px,#755 486px,#75a 600px)"></i>
<i style="background:linear-gradient(#fe1 0px,#ffe 96px,#fe1 102px,#fab 108px,#f73 112px,#f24 116px,#e7a 122px,#d96 128px,#adf 144px,#9a0 152px,#888 160px,#7a9 168px,#6dd 178px,#638 190px,#5d1 202px,#580 218px,#556 236px,#561 250px,#5b0 268px,#679 298px,#6a1 306px,#6d1 326px,#716 374px,#73a 410px,#75b 488px,#760 600px)"></i>
<i style="background:linear-gradient(#fe1 0px,#fff 96px,#fe7 102px,#fb2 108px,#f7a 112px,#f2d 116px,#e85 122px,#da4 128px,#af7 144px,#9be 152px,#871 162px,#7a2 170px,#6e4 180px,#649 192px,#5e6 204px,#597 220px,#570 236px,#577 250px,#5c2 268px,#687 298px,#6ad 306px,#6dc 326px,#721 376px,#742 412px,#762 490px,#765 600px)"></i>
<i style="background:linear-gradient(#fe2 0px,#fff 98px,#fb8 108px,#f81 112px,#f34 116px,#e8f 122px,#db2 128px,#b0f 144px,#9dd 152px,#898 162px,#7cc 170px,#70d 180px,#66f 192px,#5fd 206px,#5af 222px,#588 238px,#593 252px,#5d4 268px,#693 298px,#6bf 308px,#6e6 326px,#729 376px,#749 412px,#768 492px,#76a 600px)"></i>
<i style="background:linear-gradient(#fe2 0px,#fe2 28px,#fff 62px,#fff 98px,#ff0 102px,#fbd 108px,#f87 112px,#f3b 116px,#e98 122px,#dbf 128px,#b28 144px,#9fb 152px,#8bf 162px,#7f6 170px,#737 180px,#697 192px,#620 206px,#5c7 224px,#5a1 240px,#5aa 252px,#5f1 270px,#6a0 298px,#6cb 308px,#733 378px,#750 412px,#76f 494px,#76f 600px)"></i>
<i style="background:linear-gradient(#fe2 0px,#fe2 28px,#fff 62px,#fff 98px,#ff3 102px,#fc1 108px,#f8c 112px,#f41 116px,#ea1 122px,#dcb 128px,#b40 144px,#a1a 152px,#8e6 162px,#820 170px,#742 182px,#6aa 194px,#637 208px,#5df 226px,#5bc 240px,#5c6 254px,#604 270px,#6ab 298px,#6d6 308px,#73b 378px,#758 414px,#775 496px,#774 600px)"></i>
<i style="background:linear-gradient(#fe2 0px,#fe2 28px,#fff 62px,#fff 100px,#fc5 108px,#f91 112px,#f47 116px,#eaa 122px,#dd8 128px,#b58 144px,#a38 152px,#90c 162px,#820 172px,#74f 184px,#6be 196px,#64e 210px,#5f7 228px,#5d6 242px,#5dd 254px,#61f 272px,#6b7 298px,#6e0 308px,#745 380px,#77b 498px,#779 600px)"></i>
<i style="background:linear-gradient(#fe2 0px,#fe2 28px,#fff 62px,#fff 100px,#fc8 108px,#f4d 116px,#eb3 122px,#de5 128px,#b70 144px,#a56 152px,#932 162px,#84b 172px,#77a 184px,#6e6 196px,#666 212px,#60f 230px,#5f0 244px,#5fa 256px,#631 272px,#6c2 298px,#6f0 310px,#74d 380px,#781 498px,#77e 600px)"></i>
<i style="background:linear-gradient(#fe2 0px,#fe2 28px,#fff 62px,#fff 100px,#fcb 108px,#f52 116px,#ebb 122px,#df2 128px,#b89 144px,#a74 152px,#957 162px,#874 172px,#7a5 184px,#6fa 198px,#67d 214px,#62e 230px,#60c 244px,#612 256px,#643 272px,#6cd 298px,#6fa 310px,#758 384px,#787 502px,#782 600px)"></i>
<i style="background:linear-gradient(#fe2 0px,#fe2 30px,#fff 62px,#fff 100px,#fce 108px,#f57 116px,#ec4 122px,#dff 128px,#ba2 144px,#a92 152px,#97b 162px,#89e 172px,#7cf 184px,#722 198px,#6a0 214px,#646 232px,#627 246px,#62e 258px,#65d 274px,#6d8 298px,#703 310px,#75f 384px,#78d 502px,#787 600px)"></i>
<i style="background:linear-gradient(#fe2 0px,#fe2 30px,#fff 62px,#fff 100px,#fd0 108px,#f5c 116px,#ecd 122px,#e0c 128px,#bbb 144px,#ab0 152px,#99f 162px,#8c6 172px,#7dd 186px,#736 200px,#6b7 216px,#65e 234px,#641 248px,#649 260px,#677 276px,#6e3 298px,#70d 310px,#768 386px,#792 504px,#78c 600px)"></i>
<i style="background:linear-gradient(#fe2 0px,#fe2 30px,#fff 64px,#fff 100px,#fd2 108px,#f61 116px,#ed6 122px,#e1a 128px,#bd4 144px,#ace 152px,#9c2 162px,#8ee 172px,#806 186px,#75e 200px,#6da 216px,#67d 234px,#65d 248px,#663 262px,#688 276px,#6f7 300px,#71a 312px,#771 388px,#798 506px,#791 600px)"></i>
<i style="background:linear-gradient(#fe2 0px,#fe2 30px,#fff 64px,#fff 100px,#fd4 108px,#f66 116px,#edf 122px,#e28 128px,#bed 144px,#aec 152px,#9e5 162px,#915 172px,#830 186px,#771 202px,#6f0 218px,#695 236px,#677 250px,#67c 264px,#69f 278px,#701 300px,#723 312px,#777 388px,#79e 506px,#796 600px)"></i>
<i style="background:linear-gradient(#fe2 0px,#fe1 30px,#fff 64px,#fff 102px,#fd5 108px,#f6b 116px,#ee8 122px,#e37 128px,#c07 144px,#b09 152px,#a06 162px,#93a 172px,#858 186px,#798 202px,#712 218px,#6b4 236px,#692 250px,#694 266px,#6b0 278px,#70c 300px,#72c 312px,#780 390px,#7a3 508px,#79b 600px)"></i>
<i style="background:linear-gradient(#fe2 0px,#fe1 30px,#fff 66px,#fff 102px,#fd7 108px,#f70 116px,#ef2 122px,#e45 128px,#c20 144px,#b27 152px,#a27 162px,#95e 172px,#87f 186px,#7be 202px,#727 220px,#6cb 238px,#6ab 252px,#6ab 268px,#6c6 280px,#716 300px,#735 312px,#787 392px,#7a9 510px,#79f 600px)"></i>
<i style="background:linear-gradient(#fe1 0px,#fe0 30px,#fff 66px,#fff 102px,#fc6 110px,#f52 118px,#ec8 124px,#e15 130px,#c3a 144px,#b44 152px,#a48 162px,#982 172px,#88a 188px,#7cf 204px,#73b 222px,#6e9 238px,#6c4 254px,#6c2 270px,#73d 312px,#78f 394px,#7ae 510px,#7a4 600px)"></i>
<i style="background:linear-gradient(#fe1 0px,#fe0 30px,#fff 66px,#fff 102px,#fc8 110px,#f58 118px,#ed3 124px,#e25 130px,#c54 144px,#b61 152px,#a67 162px,#9a4 172px,#8af 188px,#7df 206px,#74e 224px,#6ff 240px,#6db 256px,#6d7 272px,#746 312px,#796 396px,#7b3 510px,#7a9 600px)"></i>
<i style="background:linear-gradient(#fe1 0px,#fde 26px,#fff 68px,#fff 102px,#fca 110px,#f5e 118px,#ede 124px,#e36 130px,#c6d 144px,#b7d 152px,#a86 162px,#9c5 172px,#8d4 188px,#803 206px,#76e 224px,#71c 240px,#6f1 258px,#6ea 272px,#74e 312px,#79d 398px,#7b8 512px,#7ad 600px)"></i>
<i style="background:linear-gradient(#fe1 0px,#fdd 26px,#fff 68px,#fff 102px,#fcc 110px,#f65 118px,#ee9 124px,#e46 130px,#c48 146px,#b64 154px,#a7b 164px,#9c4 174px,#8dd 190px,#811 208px,#780 226px,#731 242px,#709 258px,#6fd 272px,#754 310px,#79d 384px,#7bd 508px,#7b2 600px)"></i>
<i style="background:linear-gradient(#fe0 0px,#fde 28px,#ffe 68px,#fff 102px,#fce 110px,#f6b 118px,#ef4 124px,#e56 130px,#c62 146px,#b80 154px,#a99 164px,#9e3 174px,#8ff 190px,#833 208px,#79e 226px,#74d 242px,#71c 260px,#710 274px,#75a 308px,#7a5 386px,#7c2 508px,#7b7 600px)"></i>
<i style="background:linear-gradient(#fe0 0px,#fdd 28px,#fff 70px,#fff 102px,#fd1 110px,#f71 118px,#eff 124px,#e66 130px,#c7b 146px,#b9c 154px,#ab6 164px,#a02 174px,#907 192px,#840 210px,#7ae 228px,#760 244px,#72e 262px,#722 274px,#763 308px,#7ab 386px,#7c7 508px,#7bb 600px)"></i>
<i style="background:linear-gradient(#fe0 0px,#fdd 28px,#fff 70px,#fff 102px,#fd3 110px,#f77 118px,#edc 126px,#e3d 132px,#c95 146px,#bb7 154px,#ad3 164px,#a20 174px,#926 192px,#84c 212px,#7be 230px,#773 246px,#73f 264px,#734 276px,#769 306px,#7b1 386px,#7cc 508px,#7c0 600px)"></i>
<i style="background:linear-gradient(#fe0 0px,#fdc 28px,#fff 72px,#fff 102px,#fc4 112px,#f5e 120px,#ee8 126px,#e4e 132px,#c74 148px,#ba1 156px,#ac9 166px,#a1d 176px,#92d 194px,#858 214px,#7da 230px,#784 248px,#753 264px,#745 278px,#770 304px,#7b8 386px,#7d1 510px,#7c4 600px)"></i>
<i style="background:linear-gradient(#fe0 0px,#fdc 30px,#fff 72px,#fff 102px,#fc6 112px,#f65 120px,#ef3 126px,#e5f 132px,#c8d 148px,#bbc 156px,#ae5 166px,#a1c 178px,#91c 198px,#840 220px,#7d1 236px,#778 258px,#75a 270px,#755 280px,#779 304px,#7be 386px,#7d6 510px,#7c9 600px)"></i>
<i style="background:linear-gradient(#fdf 0px,#fdc 30px,#fff 72px,#fff 102px,#fc9 112px,#f6c 120px,#eff 126px,#e6f 132px,#ca6 148px,#ba8 158px,#adb 168px,#a1a 180px,#90c 202px,#84b 222px,#7df 238px,#785 260px,#764 280px,#7c4 386px,#7da 510px,#7cd 600px)"></i>
<i style="background:linear-gradient(#fdf 0px,#fdb 30px,#fff 74px,#fff 102px,#fcc 112px,#f72 120px,#f09 126px,#e7e 132px,#cbe 148px,#bc2 158px,#af7 168px,#a36 180px,#93f 200px,#866 222px,#7f7 238px,#799 260px,#779 272px,#772 282px,#7ca 386px,#7df 510px,#7d2 600px)"></i>
<i style="background:linear-gradient(#fdf 0px,#fdc 32px,#fff 74px,#fff 102px,#fce 112px,#f78 120px,#f14 126px,#e5a 134px,#ca1 150px,#bdd 158px,#aee 170px,#a34 182px,#944 202px,#870 224px,#804 240px,#7a4 262px,#780 282px,#7d0 386px,#7e4 510px,#7d6 600px)"></i>
<i style="background:linear-gradient(#fdf 0px,#fdb 32px,#fff 74px,#fff 102px,#fd1 112px,#f7f 120px,#ef6 128px,#e6b 134px,#cba 150px,#bf7 158px,#b09 170px,#a4e 182px,#95e 202px,#88a 224px,#81b 240px,#7af 264px,#78e 284px,#7d6 386px,#7e8 510px,#7db 600px)"></i>
<i style="background:linear-gradient(#fdf 0px,#fdb 32px,#fff 76px,#fff 102px,#fec 108px,#fc4 114px,#f69 122px,#f02 128px,#e7b 134px,#cd3 150px,#be6 160px,#b01 172px,#a4c 184px,#962 204px,#892 226px,#825 242px,#7b9 266px,#79a 286px,#7ac 330px,#7d0 360px,#7dc 386px,#7ed 510px,#7df 600px)"></i>
<i style="background:linear-gradient(#fde 0px,#fdb 34px,#fff 76px,#fff 102px,#fc7 114px,#f70 122px,#f0d 128px,#e8a 134px,#ceb 150px,#c00 160px,#b1b 172px,#a65 184px,#97a 204px,#8aa 226px,#82f 244px,#7c9 266px,#7af 276px,#7a7 288px,#7b3 330px,#7d7 360px,#7e2 386px,#7f2 510px,#7e3 600px)"></i>
<i style="background:linear-gradient(#fde 0px,#fda 34px,#fff 76px,#fff 102px,#fca 114px,#f77 122px,#f17 128px,#e9a 134px,#cd1 152px,#bf0 162px,#b13 174px,#a63 186px,#97d 206px,#8b2 228px,#838 246px,#7d2 268px,#7b2 290px,#7ba 330px,#7dc 358px,#7e8 386px,#7f6 510px,#7e8 600px)"></i>
<i style="background:linear-gradient(#fde 0px,#fdb 36px,#ffe 76px,#fff 104px,#fcd 114px,#f7d 122px,#efc 130px,#e7a 136px,#cba 154px,#c0a 162px,#b2d 174px,#a7b 186px,#994 206px,#8c9 228px,#84c 246px,#7e1 268px,#7bd 290px,#7c2 330px,#7e3 358px,#7ee 384px,#7fb 510px,#7ec 600px)"></i>
<i style="background:linear-gradient(#fde 0px,#fda 36px,#fff 78px,#fff 104px,#fcf 114px,#f83 122px,#f07 130px,#e5b 138px,#cd2 154px,#bfb 164px,#b25 176px,#a78 188px,#997 208px,#8cf 230px,#848 250px,#7e9 270px,#7ca 286px,#7c7 320px,#7f3 382px,#7ff 508px,#7f0 600px)"></i>
<i style="background:linear-gradient(#fde 0px,#fda 36px,#fff 78px,#fff 104px,#fc3 116px,#f70 124px,#f12 130px,#e99 136px,#cea 154px,#c15 164px,#b3e 176px,#a76 190px,#998 210px,#8d5 232px,#844 254px,#7f1 272px,#7d6 286px,#7cf 320px,#7f8 380px,#803 508px,#7f4 600px)"></i>
<i style="background:linear-gradient(#fde 0px,#fda 38px,#fff 78px,#fff 104px,#fc7 116px,#f77 124px,#f1d 130px,#e7c 138px,#d02 154px,#c2e 164px,#b57 176px,#a8c 190px,#9c2 208px,#8fa 230px,#861 252px,#7ff 272px,#7df 288px,#7d7 320px,#7fe 378px,#808 508px,#7f9 600px)"></i>
<i style="background:linear-gradient(#fde 0px,#fda 38px,#ffe 78px,#fff 104px,#fca 116px,#f7d 124px,#f04 132px,#e5f 140px,#ced 156px,#c21 166px,#b4f 178px,#a89 192px,#9c2 210px,#8ff 232px,#85b 256px,#806 274px,#7ea 288px,#7df 320px,#803 376px,#80c 508px,#7fd 600px)"></i>
<i style="background:linear-gradient(#fde 0px,#fda 40px,#fff 80px,#fff 104px,#fcd 116px,#f83 124px,#f0f 132px,#e9b 138px,#d04 156px,#c3a 166px,#b68 178px,#a9f 192px,#9d7 210px,#913 232px,#860 258px,#813 274px,#7f5 288px,#7e7 320px,#809 372px,#810 508px,#801 600px)"></i>
<i style="background:linear-gradient(#fdd 0px,#fd9 40px,#fff 80px,#fff 104px,#ff0 110px,#fc1 118px,#f72 126px,#f1a 132px,#eaa 138px,#d1b 156px,#c2d 168px,#b60 180px,#a9c 194px,#9d7 212px,#917 234px,#865 260px,#81a 276px,#7fd 290px,#7ef 320px,#80e 370px,#814 508px,#805 600px)"></i>
<i style="background:linear-gradient(#fdd 0px,#fd9 40px,#fff 80px,#fff 106px,#fc5 118px,#f78 126px,#f02 134px,#e8f 140px,#d08 158px,#c45 168px,#b59 182px,#a98 196px,#9ea 212px,#92b 234px,#875 260px,#827 276px,#808 290px,#7f8 320px,#814 368px,#818 508px,#809 600px)"></i>
<i style="background:linear-gradient(#fdd 0px,#fd9 42px,#ffe 80px,#fff 106px,#fc8 118px,#f7f 126px,#f0e 134px,#e75 142px,#cf6 160px,#c39 170px,#b52 184px,#a95 198px,#9ea 214px,#92e 236px,#879 262px,#82d 278px,#810 292px,#800 320px,#81a 366px,#80d 600px)"></i>
<i style="background:linear-gradient(#fdd 0px,#fd9 42px,#ffe 80px,#fff 106px,#fcb 118px,#f85 126px,#f18 134px,#e85 142px,#d0d 160px,#c2d 172px,#b4b 186px,#a91 200px,#9e9 216px,#932 238px,#87c 264px,#832 280px,#819 292px,#808 320px,#820 366px,#811 600px)"></i>
<i style="background:linear-gradient(#fdd 0px,#fd9 44px,#fff 82px,#fff 106px,#fc0 120px,#f75 128px,#f02 136px,#d23 160px,#c45 172px,#b62 186px,#aa5 200px,#9fc 216px,#944 238px,#88c 264px,#83f 280px,#821 294px,#810 320px,#825 364px,#815 600px)"></i>
<i style="background:linear-gradient(#fdd 0px,#fd9 44px,#fff 82px,#fff 106px,#fc4 120px,#f7b 128px,#f0e 136px,#e7c 144px,#d12 162px,#c3a 174px,#b5b 188px,#aa1 202px,#9fb 218px,#946 240px,#88f 266px,#844 282px,#82a 294px,#817 320px,#82b 362px,#819 600px)"></i>
<i style="background:linear-gradient(#fdd 0px,#fd9 44px,#fff 82px,#fff 106px,#fc7 120px,#f82 128px,#f18 136px,#e8c 144px,#d02 164px,#c2f 176px,#b54 190px,#a9d 204px,#9fa 220px,#949 242px,#89f 266px,#850 282px,#830 296px,#81f 320px,#830 362px,#81d 600px)"></i>
<i style="background:linear-gradient(#fdd 0px,#fd8 44px,#fff 82px,#fff 108px,#fcb 120px,#f72 130px,#f04 138px,#d18 164px,#c46 176px,#b6a 190px,#ab0 204px,#a0c 220px,#95a 242px,#8af 266px,#855 284px,#837 298px,#827 320px,#836 360px,#821 600px)"></i>
<i style="background:linear-gradient(#fdd 0px,#fd8 44px,#fff 82px,#fff 108px,#fc1 122px,#f79 130px,#f0f 138px,#e86 146px,#d2d 164px,#c3c 178px,#b63 192px,#aac 206px,#a0b 222px,#93d 248px,#8a6 270px,#85a 286px,#83d 300px,#82f 320px,#83c 360px,#82a 430px,#833 506px,#825 600px)"></i>
<i style="background:linear-gradient(#fdd 0px,#fd8 46px,#ffe 82px,#fff 108px,#fc5 122px,#f80 130px,#f1a 138px,#c52 178px,#b5c 194px,#aa7 208px,#9f9 226px,#922 254px,#8a9 272px,#860 288px,#845 300px,#837 318px,#841 360px,#82e 430px,#836 506px,#829 600px)"></i>
<i style="background:linear-gradient(#fdd 0px,#fd8 46px,#fff 84px,#fff 108px,#fc8 122px,#f71 132px,#f08 140px,#d33 166px,#c48 180px,#b55 196px,#aa3 210px,#a09 226px,#923 256px,#8ad 274px,#864 290px,#83f 318px,#82c 600px)"></i>
<i style="background:linear-gradient(#fdd 0px,#fd8 46px,#fff 84px,#fff 110px,#fcc 122px,#f78 132px,#f13 140px,#c5e 180px,#b6a 196px,#ab5 210px,#a19 226px,#941 254px,#8bc 274px,#870 290px,#853 302px,#847 318px,#830 600px)"></i>
<i style="background:linear-gradient(#fdd 0px,#fd8 46px,#fff 84px,#fff 110px,#fc2 124px,#f6a 134px,#f01 142px,#c54 182px,#b62 198px,#ab0 212px,#a18 228px,#943 256px,#8c0 276px,#874 292px,#858 304px,#84f 318px,#839 432px,#834 600px)"></i>
<i style="background:linear-gradient(#fdd 0px,#fd7 46px,#fff 84px,#fff 110px,#fc6 124px,#f72 134px,#f0d 142px,#d2c 170px,#c2a 186px,#b3f 202px,#aab 214px,#a17 230px,#944 258px,#8c4 278px,#878 294px,#858 314px,#83f 418px,#838 600px)"></i>
<i style="background:linear-gradient(#fdd 0px,#fd7 46px,#fff 84px,#fff 110px,#fca 124px,#f79 134px,#efc 144px,#d40 170px,#c40 186px,#b52 202px,#abc 214px,#a26 230px,#953 258px,#8d3 278px,#87d 296px,#860 314px,#843 418px,#83b 600px)"></i>
<i style="background:linear-gradient(#fdd 0px,#fd7 46px,#fff 84px,#fff 112px,#fc1 126px,#f6c 136px,#f08 144px,#d32 172px,#c17 190px,#b4a 204px,#ab6 216px,#a25 232px,#954 260px,#8cc 282px,#881 298px,#868 314px,#847 418px,#83f 600px)"></i>
<i style="background:linear-gradient(#fdd 0px,#fd7 48px,#fff 84px,#fff 112px,#fc6 126px,#f74 136px,#ef8 146px,#d46 172px,#c0d 192px,#b41 206px,#ac7 216px,#a43 230px,#971 258px,#8f1 278px,#88b 298px,#870 314px,#84b 414px,#843 600px)"></i>
<i style="background:linear-gradient(#fdd 0px,#fd7 48px,#fff 84px,#fff 112px,#fca 126px,#f7b 136px,#f04 146px,#d39 174px,#be4 196px,#b38 208px,#ac1 218px,#a41 232px,#97f 258px,#900 278px,#890 300px,#877 316px,#84f 414px,#846 600px)"></i>
<i style="background:linear-gradient(#fdd 0px,#fd7 48px,#fff 84px,#fff 114px,#fc2 128px,#f6f 138px,#ef4 148px,#d4c 174px,#bda 198px,#b4a 208px,#ad0 218px,#a4f 232px,#98d 258px,#8ca 290px,#894 302px,#87f 316px,#853 414px,#84a 600px)"></i>
<i style="background:linear-gradient(#fdd 0px,#fd7 48px,#fff 84px,#fff 114px,#fc6 128px,#f77 138px,#f01 148px,#bce 200px,#b40 210px,#aca 220px,#a4c 234px,#99a 258px,#928 276px,#89e 302px,#887 316px,#857 412px,#84d 600px)"></i>
<i style="background:linear-gradient(#fdd 0px,#fd7 48px,#ffe 84px,#fff 114px,#fcb 128px,#f6b 140px,#ef1 150px,#bc2 202px,#b36 212px,#ac3 222px,#a48 236px,#99a 260px,#8ce 294px,#8a2 304px,#88f 316px,#85b 414px,#851 600px)"></i>
<i style="background:linear-gradient(#fdd 0px,#fd7 48px,#ffe 84px,#fff 116px,#fc3 130px,#f73 140px,#efe 150px,#bb6 204px,#ad1 222px,#a54 236px,#9a6 260px,#8ac 304px,#897 316px,#85f 412px,#854 600px)"></i>
<i style="background:linear-gradient(#fdd 0px,#fd6 48px,#ffe 84px,#fff 116px,#fc8 130px,#f68 142px,#eef 152px,#ba9 206px,#b23 216px,#aca 224px,#a50 238px,#9a4 262px,#8dc 296px,#8b0 306px,#863 412px,#858 600px)"></i>
<i style="background:linear-gradient(#fdd 0px,#fd6 48px,#ffe 84px,#fff 118px,#fcd 130px,#f70 142px,#efc 152px,#bb9 206px,#b31 216px,#ad6 224px,#a5a 238px,#9bc 260px,#8ba 306px,#8a5 318px,#867 412px,#85b 600px)"></i>
<i style="background:linear-gradient(#fdd 0px,#fd6 48px,#ffe 84px,#fff 118px,#fc6 132px,#f65 144px,#eee 154px,#bab 208px,#b26 218px,#ace 226px,#a54 240px,#9b9 262px,#8e9 298px,#8be 308px,#86b 412px,#85e 600px)"></i>
<i style="background:linear-gradient(#fdd 0px,#fd6 48px,#ffe 84px,#fff 120px,#fcb 132px,#f6e 144px,#efb 154px,#bba 208px,#b33 218px,#ad9 226px,#a6d 238px,#9d0 260px,#8f4 298px,#8c8 308px,#89d 344px,#86f 412px,#862 600px)"></i>
<i style="background:linear-gradient(#fdd 0px,#fd6 48px,#ffe 84px,#fff 120px,#fd0 132px,#f77 144px,#eee 156px,#bab 210px,#b3f 218px,#acf 228px,#a66 240px,#9d8 260px,#8d2 308px,#8a2 344px,#873 410px,#865 600px)"></i>
<i style="background:linear-gradient(#fdd 0px,#fd6 48px,#fff 86px,#fff 122px,#fca 134px,#f6d 146px,#ee0 158px,#bb9 210px,#b4b 218px,#ad9 228px,#a5f 242px,#9d4 262px,#8ff 300px,#8d5 310px,#8a4 348px,#877 412px,#868 600px)"></i>
<i style="background:linear-gradient(#fdd 0px,#fd6 48px,#fff 86px,#fff 122px,#fd0 134px,#f76 146px,#eee 158px,#ba9 212px,#ace 230px,#a57 244px,#9db 262px,#909 300px,#8df 310px,#8ab 346px,#87b 410px,#86b 600px)"></i>
<i style="background:linear-gradient(#fdd 0px,#fd6 48px,#fff 86px,#fff 124px,#fc9 136px,#f6c 148px,#ee0 160px,#bb5 212px,#ad7 230px,#a5e 244px,#9e2 262px,#8e8 310px,#8b0 346px,#87f 410px,#86f 600px)"></i>
<i style="background:linear-gradient(#fdd 0px,#fd6 48px,#fff 86px,#fff 124px,#fcf 136px,#f75 148px,#eee 160px,#e3e 172px,#bc1 212px,#adf 230px,#a73 242px,#9f5 260px,#8f0 310px,#8b5 346px,#883 410px,#872 600px)"></i>
<i style="background:linear-gradient(#fdd 0px,#fd5 48px,#fff 86px,#fff 126px,#fd5 136px,#f6c 150px,#ee1 162px,#e2f 174px,#bcc 212px,#b43 222px,#ad2 232px,#a69 244px,#9ee 262px,#924 300px,#8f2 312px,#8b8 348px,#888 410px,#875 600px)"></i>
<i style="background:linear-gradient(#fdd 0px,#fd6 50px,#fff 86px,#fff 126px,#fcf 138px,#f62 152px,#ed4 164px,#bb9 214px,#ad9 232px,#a5f 246px,#9f3 262px,#8fa 312px,#8bc 348px,#88c 410px,#878 600px)"></i>
<i style="background:linear-gradient(#fdd 0px,#fd6 50px,#fff 86px,#fff 128px,#fd5 138px,#f6c 152px,#ee1 164px,#e2e 176px,#bc3 214px,#b3b 224px,#acc 234px,#a55 248px,#9ec 264px,#901 312px,#8c3 346px,#890 410px,#87b 600px)"></i>
<i style="background:linear-gradient(#fdd 0px,#fd6 50px,#fff 86px,#fff 128px,#fda 138px,#f75 152px,#eee 164px,#e3e 176px,#bcc 214px,#b42 224px,#ad1 234px,#a59 248px,#9f0 264px,#956 294px,#902 314px,#8c6 348px,#894 410px,#87e 600px)"></i>
<i style="background:linear-gradient(#fdd 0px,#fd6 50px,#fff 86px,#fff 130px,#fd5 140px,#f6b 154px,#ee1 166px,#e2c 178px,#bd6 214px,#b49 224px,#ad7 234px,#a5d 248px,#9f4 264px,#96e 290px,#908 314px,#8ca 348px,#898 410px,#880 600px)"></i>
<i style="background:linear-gradient(#fdd 0px,#fd5 50px,#fff 86px,#fff 130px,#fda 140px,#f74 154px,#eed 166px,#e3a 178px,#bbf 216px,#b36 226px,#ac8 236px,#a51 250px,#9eb 266px,#969 292px,#90e 314px,#8cf 348px,#89d 410px,#883 600px)"></i>
<i style="background:linear-gradient(#fdd 0px,#fd5 50px,#fff 86px,#fff 132px,#fd4 142px,#f6a 156px,#edf 168px,#e48 178px,#bc7 216px,#b3c 226px,#acc 236px,#a54 250px,#9ee 266px,#976 290px,#914 314px,#8d4 348px,#8a0 412px,#886 600px)"></i>
<i style="background:linear-gradient(#fdd 0px,#fd5 50px,#ffe 84px,#fff 132px,#fda 142px,#f73 156px,#eea 168px,#e34 180px,#bce 216px,#b41 226px,#ad0 236px,#a57 250px,#9f0 266px,#983 288px,#919 314px,#8d8 348px,#8a4 412px,#889 600px)"></i>
<i style="background:linear-gradient(#fdd 0px,#fd6 52px,#fff 86px,#fff 134px,#fdf 142px,#f7b 156px,#eda 170px,#e40 180px,#bd4 216px,#b46 226px,#ad3 236px,#a59 250px,#9f2 266px,#986 288px,#91e 314px,#8df 346px,#8a9 412px,#88b 600px)"></i>
<i style="background:linear-gradient(#fdc 0px,#fd5 50px,#ffe 84px,#fff 134px,#fd9 144px,#f71 158px,#ee5 170px,#e4c 180px,#bda 216px,#b4a 226px,#ad6 236px,#a5b 250px,#9f4 266px,#988 288px,#922 314px,#8e3 346px,#8ac 414px,#88e 600px)"></i>
<i style="background:linear-gradient(#fdc 0px,#fd6 54px,#fff 86px,#fff 136px,#fde 144px,#f78 158px,#eef 170px,#e57 180px,#bc0 218px,#b35 228px,#ac5 238px,#a4e 252px,#9ea 268px,#982 290px,#926 314px,#8e7 346px,#8b0 414px,#890 600px)"></i>
<i style="background:linear-gradient(#fdc 0px,#fd6 54px,#fff 86px,#fff 136px,#fe2 144px,#f80 158px,#edd 172px,#e3f 182px,#bc5 218px,#b38 228px,#ac7 238px,#a4f 252px,#9eb 268px,#98c 288px,#92a 314px,#8eb 346px,#8b4 416px,#893 600px)"></i>
<i style="background:linear-gradient(#fdc 0px,#fd5 50px,#ffe 84px,#fff 138px,#fdc 146px,#f74 160px,#ee6 172px,#e49 182px,#bc8 218px,#b3a 228px,#ac9 238px,#a50 252px,#9eb 268px,#98e 288px,#92d 314px,#8ef 346px,#8b7 418px,#895 600px)"></i>
<i style="background:linear-gradient(#fdc 0px,#fd6 54px,#fff 86px,#fff 138px,#fe0 146px,#f7a 160px,#eef 172px,#e52 182px,#bcc 218px,#b3d 228px,#aca 238px,#a51 252px,#9ec 268px,#98f 288px,#936 312px,#8f6 344px,#8bc 418px,#898 600px)"></i>
<i style="background:linear-gradient(#fdc 0px,#fd6 54px,#fff 86px,#fff 140px,#fe4 146px,#f80 160px,#ef6 172px,#e5a 182px,#bcf 218px,#b3f 228px,#acb 238px,#a51 252px,#9ec 268px,#997 286px,#939 312px,#8f7 346px,#8bd 424px,#89a 600px)"></i>
<i style="background:linear-gradient(#fdc 0px,#fd4 50px,#ffe 84px,#fff 140px,#fdc 148px,#f73 162px,#ee1 174px,#e3e 184px,#bd1 218px,#b40 228px,#acc 238px,#a51 252px,#9ec 268px,#998 286px,#941 310px,#8fd 344px,#8bf 428px,#89c 600px)"></i>
<i style="background:linear-gradient(#fdc 0px,#fd6 54px,#fff 86px,#fff 140px,#fe0 148px,#f78 162px,#ee8 174px,#e45 184px,#bd3 218px,#b41 228px,#acc 238px,#a51 252px,#9eb 268px,#998 286px,#943 310px,#900 344px,#8bf 436px,#89f 600px)"></i>
<i style="background:linear-gradient(#fdc 0px,#fd6 54px,#fff 86px,#fff 142px,#fe3 148px,#f7d 162px,#eee 174px,#e4b 184px,#bd4 218px,#b42 228px,#acc 238px,#a51 252px,#9eb 268px,#998 286px,#94a 308px,#904 344px,#8c2 438px,#8a1 600px)"></i>
<i style="background:linear-gradient(#fdc 0px,#fd5 54px,#fff 86px,#fff 142px,#fe6 148px,#f81 162px,#ef3 174px,#e51 184px,#bd5 218px,#b42 228px,#acc 238px,#a50 252px,#9f5 266px,#99f 284px,#951 306px,#909 342px,#8c4 442px,#8a3 600px)"></i>
<i style="background:linear-gradient(#fdc 0px,#fd5 54px,#fff 86px,#fff 142px,#fdd 150px,#f72 164px,#edb 176px,#e56 184px,#bf8 216px,#b5d 226px,#ae1 236px,#a5e 250px,#9f4 266px,#99e 284px,#951 306px,#90e 340px,#8c7 444px,#8a5 600px)"></i>
<i style="background:linear-gradient(#fdc 0px,#fd5 54px,#fff 86px,#fff 142px,#fe0 150px,#f75 164px,#edf 176px,#e5a 184px,#bf8 216px,#b5c 226px,#ae0 236px,#a6d 248px,#9fe 264px,#9a5 282px,#958 304px,#911 340px,#8ca 446px,#8a7 600px)"></i>
<i style="background:linear-gradient(#fdc 0px,#fd5 54px,#fff 86px,#fff 144px,#fe2 150px,#f78 164px,#ee3 176px,#e38 186px,#bf8 216px,#b5b 226px,#adf 236px,#a6c 248px,#9fc 264px,#9ac 280px,#95e 302px,#915 338px,#8ce 446px,#8a9 600px)"></i>
<i style="background:linear-gradient(#fdc 0px,#fd5 54px,#fff 84px,#fff 144px,#fe3 150px,#f7b 164px,#ee7 176px,#e3c 186px,#bf8 216px,#b5a 226px,#add 236px,#a6a 248px,#9fa 264px,#9ab 280px,#963 300px,#919 336px,#8d2 446px,#8ab 600px)"></i>
<i style="background:linear-gradient(#fdc 0px,#fd5 54px,#fff 84px,#fff 144px,#fe5 150px,#f7e 164px,#ee9 176px,#e3e 186px,#bf7 216px,#b59 226px,#adb 236px,#a68 248px,#9f8 264px,#9a9 280px,#962 300px,#91d 334px,#8d5 448px,#8ac 600px)"></i>
<i style="background:linear-gradient(#fdc 0px,#fd5 54px,#fff 84px,#fff 144px,#fe6 150px,#f80 164px,#eec 176px,#e40 186px,#bf5 216px,#b57 226px,#ad9 236px,#a66 248px,#9f6 264px,#9a7 280px,#967 298px,#931 320px,#91a 340px,#8d6 456px,#8ae 600px)"></i>
<i style="background:linear-gradient(#fdc 0px,#fd5 54px,#fff 84px,#fff 144px,#fe8 150px,#f81 164px,#eee 176px,#e42 186px,#bf4 216px,#b54 226px,#ad7 236px,#a63 248px,#a00 262px,#9ad 278px,#96b 296px,#935 318px,#91d 338px,#8da 456px,#8b0 600px)"></i>
<i style="background:linear-gradient(#fdc 0px,#fd5 54px,#fff 84px,#fff 144px,#fdd 152px,#f6f 166px,#ed1 178px,#e43 186px,#bf2 216px,#b6f 224px,#aea 234px,#a71 246px,#9fd 262px,#9ab 278px,#969 296px,#938 316px,#920 336px,#911 384px,#8de 458px,#8b1 600px)"></i>
<i style="background:linear-gradient(#fdc 0px,#fd5 54px,#fff 84px,#fff 144px,#fde 152px,#f70 166px,#ed2 178px,#e44 186px,#bef 216px,#b6c 224px,#ae7 234px,#a6e 246px,#9fa 262px,#9a8 278px,#967 296px,#937 316px,#922 334px,#915 384px,#8e2 458px,#8b3 600px)"></i>
<i style="background:linear-gradient(#fdc 0px,#fd5 54px,#fff 84px,#fff 144px,#fdf 152px,#f70 166px,#ed2 178px,#e44 186px,#bec 216px,#b69 224px,#ae4 234px,#a6b 246px,#a03 260px,#9ae 276px,#96b 294px,#93a 314px,#924 332px,#91b 382px,#8e8 456px,#8b4 600px)"></i>
<i style="background:linear-gradient(#fdc 0px,#fd5 54px,#fff 84px,#fff 144px,#fdf 152px,#f71 166px,#ed2 178px,#e44 186px,#be9 216px,#b65 224px,#ae0 234px,#a67 246px,#a00 260px,#9ab 276px,#969 294px,#93c 312px,#925 330px,#91f 384px,#8ec 456px,#8b6 600px)"></i>
<i style="background:linear-gradient(#fdc 0px,#fd5 54px,#fff 84px,#fff 144px,#fdf 152px,#f71 166px,#ed2 178px,#e43 186px,#be5 216px,#b61 224px,#adb 234px,#a63 246px,#9fc 260px,#9b0 274px,#96c 292px,#93f 310px,#926 328px,#922 386px,#8f1 456px,#8b7 600px)"></i>
<i style="background:linear-gradient(#fdc 0px,#fd5 54px,#fff 84px,#fff 144px,#fdf 152px,#f71 166px,#ed1 178px,#e41 186px,#be0 216px,#b5c 224px,#ad7 234px,#a5f 246px,#9f8 260px,#9a4 276px,#969 292px,#939 312px,#926 328px,#926 388px,#8f6 456px,#8b9 600px)"></i>
<i style="background:linear-gradient(#fdb 0px,#fd5 54px,#fff 84px,#fff 144px,#fdf 152px,#f70 166px,#ed0 178px,#e3f 186px,#bdb 216px,#b57 224px,#ad2 234px,#a5a 246px,#9f4 260px,#9a0 276px,#966 292px,#926 326px,#92a 390px,#8fb 456px,#8ba 600px)"></i>
<i style="background:linear-gradient(#fdb 0px,#fd5 54px,#fff 84px,#fff 144px,#fdf 152px,#f84 164px,#eee 176px,#e3d 186px,#bd6 216px,#b52 224px,#acd 234px,#a55 246px,#9fc 258px,#9a5 274px,#968 290px,#938 310px,#925 326px,#92e 392px,#900 456px,#8bc 600px)"></i>
<i style="background:linear-gradient(#fdb 0px,#fd5 54px,#fff 84px,#fff 144px,#fde 152px,#f6f 166px,#ecc 178px,#e3a 186px,#bf6 214px,#b6b 222px,#adf 232px,#a61 244px,#9f8 258px,#9a1 274px,#965 290px,#925 324px,#932 394px,#906 454px,#8bd 600px)"></i>
<i style="background:linear-gradient(#fdb 0px,#fd5 54px,#fff 84px,#fff 144px,#fdd 152px,#f82 164px,#eea 176px,#e36 186px,#bef 214px,#b65 222px,#ad9 232px,#a5c 244px,#9f3 258px,#99d 274px,#961 290px,#923 324px,#936 396px,#8bf 600px)"></i>
<i style="background:linear-gradient(#fdb 0px,#fd4 52px,#fff 84px,#fff 144px,#fdc 152px,#f81 164px,#ee7 176px,#e32 186px,#be9 214px,#b5e 222px,#ad3 232px,#a56 244px,#9ee 258px,#998 274px,#95d 290px,#922 322px,#93b 396px,#8c0 600px)"></i>
<i style="background:linear-gradient(#fdb 0px,#fd4 52px,#fff 82px,#fff 144px,#fdb 152px,#f7f 164px,#ee4 176px,#e2d 186px,#be2 214px,#b58 222px,#acc 232px,#a50 244px,#9f5 256px,#99c 272px,#95e 288px,#91f 322px,#93e 368px,#93f 398px,#8c2 600px)"></i>
<i style="background:linear-gradient(#fdb 0px,#fd3 48px,#fe0 66px,#fff 82px,#fff 144px,#fda 152px,#f7d 164px,#ee1 176px,#e28 186px,#bda 214px,#b50 222px,#ac5 232px,#a49 244px,#9ef 256px,#997 272px,#959 288px,#91e 320px,#942 370px,#943 400px,#8c3 600px)"></i>
<i style="background:linear-gradient(#fdb 0px,#fd3 48px,#fe0 66px,#fff 82px,#fff 144px,#fd9 152px,#f7b 164px,#edd 176px,#e22 186px,#bd2 214px,#b48 222px,#abe 232px,#a43 244px,#9e9 256px,#992 272px,#954 288px,#91b 320px,#945 370px,#948 400px,#8c5 600px)"></i>
<i style="background:linear-gradient(#fdb 0px,#fd3 48px,#fff 82px,#fff 144px,#fd8 152px,#f78 164px,#ed8 176px,#e45 184px,#bca 214px,#b40 222px,#ab6 232px,#a3c 244px,#9e3 256px,#98c 272px,#94f 288px,#924 308px,#917 324px,#948 370px,#94a 408px,#8c6 600px)"></i>
<i style="background:linear-gradient(#fdb 0px,#fd3 48px,#fff 82px,#fff 144px,#fd6 152px,#f76 164px,#ed3 176px,#e3f 184px,#bc1 214px,#b38 222px,#aae 232px,#a34 244px,#9dc 256px,#987 272px,#94a 288px,#91f 308px,#914 322px,#94a 370px,#94e 408px,#8c8 600px)"></i>
<i style="background:linear-gradient(#fdb 0px,#fd5 52px,#fff 82px,#fff 144px,#fe0 150px,#f87 162px,#eef 174px,#e38 184px,#c83 204px,#bb8 214px,#b2f 222px,#aa5 232px,#a2d 244px,#9d5 256px,#980 272px,#944 288px,#91e 306px,#910 322px,#94d 370px,#953 408px,#8c9 600px)"></i>
<i style="background:linear-gradient(#fda 0px,#fd5 52px,#fff 82px,#fff 142px,#fdf 150px,#f84 162px,#eea 174px,#e30 184px,#bd4 212px,#b25 222px,#ab5 230px,#a36 242px,#9db 254px,#983 270px,#93e 288px,#918 306px,#90d 322px,#951 372px,#957 410px,#8cb 600px)"></i>
<i style="background:linear-gradient(#fda 0px,#fd5 52px,#fff 80px,#fff 142px,#fdd 150px,#f81 162px,#ee4 174px,#e28 184px,#bca 212px,#b1c 222px,#aab 230px,#a2d 242px,#9d3 254px,#97c 270px,#93d 286px,#913 306px,#909 322px,#951 370px,#95c 410px,#8cc 600px)"></i>
<i style="background:linear-gradient(#fda 0px,#fd6 52px,#fff 80px,#fff 142px,#fdc 150px,#f7e 162px,#ede 174px,#e1f 184px,#bbf 212px,#b11 222px,#aa1 230px,#a24 242px,#9cb 254px,#975 270px,#936 286px,#90e 306px,#905 322px,#954 370px,#961 410px,#8ce 600px)"></i>
<i style="background:linear-gradient(#fda 0px,#fd4 48px,#fff 80px,#fff 142px,#fda 150px,#f7b 162px,#ed8 174px,#e40 182px,#bb4 212px,#b07 222px,#a97 230px,#a1a 242px,#9c2 254px,#977 268px,#92f 286px,#90b 304px,#901 320px,#955 370px,#966 410px,#8cf 600px)"></i>
<i style="background:linear-gradient(#fda 0px,#fd4 46px,#fff 80px,#fff 142px,#fd8 150px,#f77 162px,#ed1 174px,#e37 182px,#bd0 210px,#b1b 220px,#a8c 230px,#a10 242px,#9b9 254px,#96f 268px,#928 286px,#905 304px,#8fd 320px,#95a 372px,#96a 412px,#924 512px,#8d1 600px)"></i>
<i style="background:linear-gradient(#fda 0px,#fd4 46px,#fe2 64px,#fff 78px,#fff 142px,#fd7 150px,#f74 162px,#eca 174px,#e2e 182px,#bc4 210px,#b0f 220px,#a81 230px,#a06 242px,#9af 254px,#966 268px,#921 286px,#8ff 304px,#8f9 320px,#95c 372px,#96e 412px,#92a 510px,#8d2 600px)"></i>
<i style="background:linear-gradient(#fda 0px,#fd5 46px,#fff 78px,#fff 142px,#fd5 150px,#f70 162px,#f24 168px,#ec3 174px,#e24 182px,#bb7 210px,#b03 220px,#a8f 228px,#a1f 238px,#9be 250px,#96f 264px,#91f 284px,#8fe 300px,#8f5 320px,#95d 372px,#972 412px,#931 508px,#8d4 600px)"></i>
<i style="background:linear-gradient(#fda 0px,#fd7 50px,#fff 78px,#fff 142px,#fe0 148px,#f82 160px,#f3b 166px,#edf 172px,#e1a 182px,#bab 210px,#af7 220px,#a82 228px,#a12 238px,#9b3 250px,#966 264px,#916 284px,#8f7 300px,#8ef 318px,#95f 372px,#976 414px,#936 508px,#8d5 600px)"></i>
<i style="background:linear-gradient(#fda 0px,#fd7 50px,#fff 78px,#fff 142px,#fde 148px,#f7e 160px,#f36 166px,#ed8 172px,#e3c 180px,#b9e 210px,#aea 220px,#a75 228px,#a06 238px,#9a7 250px,#95b 264px,#90e 284px,#8f1 300px,#8eb 318px,#960 372px,#97a 414px,#93b 508px,#8d6 600px)"></i>
<i style="background:linear-gradient(#fd9 0px,#fd8 50px,#fff 78px,#fff 142px,#fdd 148px,#f7b 160px,#f30 166px,#ed1 172px,#e32 180px,#bb9 208px,#afd 218px,#a68 228px,#9f8 238px,#99a 250px,#950 264px,#90b 282px,#8ec 298px,#8e7 318px,#961 372px,#97f 414px,#941 506px,#8d7 600px)"></i>
<i style="background:linear-gradient(#fd9 0px,#fd8 50px,#fff 76px,#fff 142px,#fdc 148px,#f77 160px,#f2b 166px,#ec9 172px,#e28 180px,#bab 208px,#aef 218px,#a5a 228px,#9ea 238px,#98d 250px,#944 264px,#902 282px,#8e5 298px,#8e3 318px,#965 374px,#982 416px,#946 506px,#8d9 600px)"></i>
<i style="background:linear-gradient(#fd9 0px,#fd9 50px,#fff 76px,#fff 142px,#fdb 148px,#f73 160px,#f25 166px,#ec2 172px,#e1e 180px,#b9d 208px,#ae1 218px,#a4b 228px,#9db 238px,#97f 250px,#940 262px,#8fe 280px,#8e0 296px,#8df 318px,#966 374px,#986 416px,#94b 506px,#8da 600px)"></i>
<i style="background:linear-gradient(#fd9 0px,#fd8 48px,#fff 76px,#fff 142px,#fe7 146px,#f86 158px,#f3d 164px,#ede 170px,#e14 180px,#b8e 208px,#ad2 218px,#a3b 228px,#9cb 238px,#97c 248px,#93c 260px,#8fa 278px,#8d9 296px,#8da 318px,#967 374px,#983 396px,#98a 418px,#94d 508px,#8db 600px)"></i>
<i style="background:linear-gradient(#fd9 0px,#fd9 48px,#fff 74px,#fff 142px,#fe7 146px,#f83 158px,#f37 164px,#ed7 170px,#e09 180px,#b7f 208px,#ac2 218px,#a46 226px,#9ce 236px,#96c 248px,#92d 260px,#8f5 276px,#8d3 294px,#8d3 316px,#967 374px,#985 396px,#98d 418px,#954 506px,#8db 600px)"></i>
<i style="background:linear-gradient(#fd9 0px,#fda 48px,#fff 74px,#fff 142px,#fe6 146px,#f7f 158px,#f32 164px,#ecf 170px,#e2b 178px,#c20 200px,#b6f 208px,#ab1 218px,#a35 226px,#9bc 236px,#968 246px,#930 256px,#8f5 272px,#8cd 292px,#8ce 316px,#96c 376px,#989 398px,#991 420px,#956 508px,#8dc 600px)"></i>
<i style="background:linear-gradient(#fd9 0px,#fda 48px,#fff 74px,#fff 142px,#fe6 146px,#f7c 158px,#f2c 164px,#ec7 170px,#e20 178px,#b89 206px,#ac3 216px,#a23 226px,#9aa 236px,#956 246px,#91f 256px,#8ed 270px,#8c6 290px,#8c7 314px,#8e6 330px,#96c 376px,#98b 398px,#994 420px,#95a 508px,#8dd 600px)"></i>
<i style="background:linear-gradient(#fd9 0px,#fdb 48px,#fff 74px,#fff 142px,#ff3 144px,#f78 158px,#f26 164px,#ebf 170px,#e15 178px,#b78 206px,#ab1 216px,#a2d 224px,#9c3 232px,#961 242px,#920 252px,#8eb 266px,#8bf 288px,#8c1 314px,#8e1 330px,#96c 376px,#98c 398px,#997 422px,#95e 508px,#8de 600px)"></i>
<i style="background:linear-gradient(#fd8 0px,#fdc 48px,#fff 72px,#fff 142px,#ff3 144px,#f8b 156px,#f3f 162px,#edc 168px,#e09 178px,#b66 206px,#a9f 216px,#a1a 224px,#9af 232px,#94d 242px,#90e 252px,#8e1 264px,#8b7 286px,#8b9 312px,#8d8 328px,#970 378px,#990 400px,#99a 422px,#962 508px,#8de 600px)"></i>
<i style="background:linear-gradient(#fd8 0px,#fdc 46px,#fff 72px,#fff 142px,#ff4 144px,#f88 156px,#f39 162px,#ed4 168px,#e2b 176px,#b53 206px,#a8b 216px,#a05 224px,#983 234px,#938 242px,#8fa 252px,#8d6 262px,#8ae 284px,#8b3 312px,#8d3 328px,#96f 378px,#991 400px,#99d 424px,#963 510px,#8df 600px)"></i>
<i style="background:linear-gradient(#fd8 0px,#fdc 46px,#fff 72px,#fff 142px,#ff4 144px,#f85 156px,#f33 162px,#ecb 168px,#e1e 176px,#b6c 204px,#a9c 214px,#a0f 222px,#984 232px,#932 240px,#8fa 248px,#8d0 258px,#8a3 282px,#8ac 312px,#8ce 328px,#96f 378px,#993 400px,#9a0 424px,#967 510px,#8df 600px)"></i>
<i style="background:linear-gradient(#fd8 0px,#fdd 46px,#fff 72px,#fff 142px,#ff4 144px,#f81 156px,#f2c 162px,#ec1 168px,#e10 176px,#b57 204px,#a86 214px,#9f9 222px,#96d 232px,#91c 240px,#8e4 248px,#8bd 258px,#897 282px,#8a5 312px,#8c9 328px,#96e 378px,#993 400px,#9a2 424px,#997 458px,#96a 510px,#937 550px,#8df 600px)"></i>
<i style="background:linear-gradient(#fd8 0px,#fde 46px,#fff 70px,#ff5 144px,#f7d 156px,#f25 162px,#eb6 168px,#e02 176px,#b70 202px,#a97 212px,#a03 220px,#96f 230px,#916 238px,#8d9 246px,#8ae 256px,#88b 280px,#89b 310px,#8c3 328px,#939 360px,#971 380px,#996 402px,#9a5 426px,#99a 458px,#96b 512px,#939 550px,#8df 600px)"></i>
<i style="background:linear-gradient(#fd8 0px,#fde 44px,#fff 70px,#ff6 144px,#f79 156px,#f1d 162px,#eab 168px,#df2 176px,#b59 202px,#a7f 212px,#9eb 220px,#971 228px,#911 236px,#8ce 244px,#89f 254px,#87d 278px,#893 310px,#8bd 328px,#936 360px,#970 380px,#997 402px,#9a6 426px,#99e 458px,#96d 512px,#93c 550px,#8df 600px)"></i>
<i style="background:linear-gradient(#fd8 0px,#fdf 44px,#fff 70px,#ff6 144px,#f74 156px,#ec9 166px,#e13 174px,#b41 202px,#a67 212px,#9d2 220px,#957 228px,#8f7 236px,#8b5 244px,#889 254px,#86f 278px,#88b 310px,#8b7 328px,#96a 378px,#997 402px,#9a8 426px,#9a2 456px,#972 510px,#93e 550px,#8df 600px)"></i>
<i style="background:linear-gradient(#fd8 0px,#fe0 44px,#fff 70px,#ff7 144px,#f6f 156px,#ebd 166px,#e02 174px,#b58 200px,#a76 210px,#9db 218px,#93d 228px,#8dd 236px,#89c 244px,#878 252px,#860 276px,#883 310px,#8b1 328px,#968 378px,#997 402px,#9a9 426px,#9a4 456px,#974 510px,#940 550px,#8df 600px)"></i>
<i style="background:linear-gradient(#fd8 0px,#fe1 44px,#fff 68px,#ff8 144px,#f6a 156px,#eb1 166px,#df0 174px,#b3e 200px,#a5b 210px,#9c0 218px,#922 228px,#8c2 236px,#882 244px,#860 252px,#850 276px,#87a 310px,#8aa 328px,#965 378px,#996 402px,#9aa 426px,#9a8 454px,#976 510px,#941 550px,#8de 600px)"></i>
<i style="background:linear-gradient(#fd7 0px,#fe1 42px,#fff 68px,#ffa 144px,#fba 150px,#f65 156px,#ea3 166px,#ddc 174px,#b53 198px,#a69 208px,#9c8 216px,#922 226px,#8bb 234px,#874 242px,#84d 250px,#83f 274px,#871 310px,#8a3 328px,#963 378px,#995 402px,#9aa 426px,#9a9 454px,#978 510px,#942 550px,#8de 600px)"></i>
<i style="background:linear-gradient(#fd7 0px,#fe2 42px,#fff 68px,#ffb 144px,#f80 154px,#ec3 164px,#dfd 172px,#b37 198px,#a4c 208px,#9ab 216px,#905 226px,#89e 234px,#858 242px,#833 250px,#82e 274px,#868 310px,#89b 328px,#960 378px,#994 402px,#9ab 426px,#9ab 454px,#979 510px,#943 550px,#8dd 600px)"></i>
<i style="background:linear-gradient(#fd7 0px,#fe1 40px,#fff 68px,#ffd 144px,#f7b 154px,#eb5 164px,#de8 172px,#b4b 196px,#a59 206px,#9b2 214px,#905 224px,#897 232px,#849 240px,#81f 248px,#812 256px,#819 270px,#85f 310px,#893 328px,#95d 378px,#993 402px,#9aa 426px,#9ac 454px,#97a 510px,#944 550px,#8dc 600px)"></i>
<i style="background:linear-gradient(#fd7 0px,#fe1 38px,#fff 68px,#fff 144px,#f77 154px,#ed6 162px,#e0a 170px,#b2c 196px,#a67 204px,#9b9 212px,#905 222px,#879 232px,#82c 240px,#804 248px,#804 268px,#855 310px,#88b 328px,#959 378px,#98d 400px,#9a8 424px,#9ac 454px,#97d 508px,#943 550px,#8db 600px)"></i>
<i style="background:linear-gradient(#fd7 0px,#fe1 36px,#fff 68px,#fff 144px,#f95 152px,#ec9 162px,#e2c 168px,#b3f 194px,#a45 204px,#998 212px,#8e5 222px,#872 230px,#81d 238px,#7ee 246px,#7e1 254px,#7eb 264px,#84b 310px,#883 328px,#914 360px,#955 378px,#98b 400px,#9a7 424px,#9ac 454px,#97d 508px,#943 550px,#8da 600px)"></i>
<i style="background:linear-gradient(#fd7 0px,#fff 68px,#fff 144px,#f92 152px,#ebc 162px,#b52 192px,#a51 202px,#99e 210px,#8e5 220px,#852 230px,#7ff 238px,#7d1 246px,#7d3 262px,#840 310px,#87a 328px,#90e 360px,#951 378px,#988 400px,#9a5 424px,#9ac 452px,#97d 508px,#942 550px,#8d9 600px)"></i>
<i style="background:linear-gradient(#fd7 0px,#fff 68px,#fff 144px,#f90 152px,#ee1 160px,#e3d 166px,#c4d 182px,#b66 190px,#a5e 200px,#97a 210px,#8c3 220px,#832 230px,#7df 238px,#7b4 246px,#7b9 260px,#83b 312px,#879 330px,#908 360px,#94c 378px,#985 400px,#9a1 422px,#9ab 452px,#97f 506px,#941 550px,#8d7 600px)"></i>
<i style="background:linear-gradient(#fd7 0px,#fff 68px,#fff 144px,#fee 146px,#f65 154px,#ed5 160px,#e27 166px,#c66 180px,#b79 188px,#a6b 198px,#97e 208px,#8c1 218px,#82c 228px,#7d1 236px,#79d 244px,#792 250px,#79d 258px,#830 312px,#867 328px,#901 360px,#947 378px,#981 400px,#99e 422px,#9aa 452px,#97e 506px,#943 548px,#8d5 600px)"></i>
<i style="background:linear-gradient(#fd7 0px,#fff 68px,#fff 144px,#ff0 146px,#f60 154px,#ec9 160px,#b8c 186px,#a79 196px,#984 206px,#8c0 216px,#827 226px,#7b1 236px,#77f 244px,#780 256px,#82b 314px,#866 330px,#93a 376px,#978 398px,#999 420px,#9a7 452px,#97f 504px,#941 548px,#8d4 600px)"></i>
<i style="background:linear-gradient(#fd7 0px,#fff 70px,#fff 144px,#ff2 146px,#f88 152px,#ef6 158px,#e3e 164px,#c5c 178px,#b9f 184px,#a52 196px,#95d 206px,#8be 214px,#807 226px,#791 236px,#761 244px,#768 256px,#833 320px,#8fc 362px,#948 382px,#978 400px,#993 418px,#9a5 450px,#97d 504px,#93f 548px,#8d2 600px)"></i>
<i style="background:linear-gradient(#fd7 0px,#fff 70px,#fff 144px,#ff3 146px,#f86 152px,#eec 158px,#e29 164px,#c36 178px,#b77 184px,#a2c 196px,#936 206px,#899 214px,#7e7 226px,#772 236px,#743 244px,#74a 254px,#828 320px,#8eb 360px,#93b 380px,#96e 398px,#98c 416px,#9a2 450px,#97b 504px,#93d 548px,#8d0 600px)"></i>
<i style="background:linear-gradient(#fd7 0px,#fff 72px,#ff5 146px,#f84 152px,#f1d 156px,#e5b 162px,#c56 176px,#b8b 182px,#a6f 192px,#93c 204px,#896 212px,#81a 220px,#768 234px,#72b 242px,#724 248px,#731 254px,#7ae 286px,#81c 320px,#8e3 360px,#934 380px,#969 398px,#987 416px,#99e 450px,#979 504px,#93a 548px,#8cd 600px)"></i>
<i style="background:linear-gradient(#fd7 0px,#fff 74px,#ff5 146px,#f81 152px,#f15 156px,#e49 162px,#c30 176px,#b63 182px,#a49 192px,#916 204px,#870 212px,#7fa 220px,#74b 234px,#70d 242px,#712 252px,#79e 286px,#810 320px,#8db 360px,#926 378px,#962 398px,#97e 414px,#99a 450px,#978 502px,#93b 546px,#8cb 600px)"></i>
<i style="background:linear-gradient(#fd7 0px,#fff 76px,#ff6 146px,#f7e 152px,#f0d 156px,#e35 162px,#c0a 176px,#b3b 182px,#a24 192px,#8f0 204px,#86e 210px,#7f6 218px,#72f 234px,#6f1 242px,#6fa 252px,#787 284px,#80b 322px,#8c8 358px,#916 376px,#956 396px,#978 414px,#994 450px,#974 502px,#937 546px,#8c8 600px)"></i>
<i style="background:linear-gradient(#fd7 0px,#fff 78px,#fff 144px,#ff4 146px,#f78 152px,#f03 156px,#e20 162px,#be5 176px,#b14 182px,#8cd 204px,#84a 210px,#7f2 216px,#714 234px,#6d5 242px,#6e2 252px,#776 284px,#7fe 322px,#906 374px,#949 394px,#96e 412px,#98f 450px,#970 502px,#934 546px,#8c5 600px)"></i>
<i style="background:linear-gradient(#fd7 0px,#ff4 44px,#fec 70px,#fff 80px,#fff 144px,#ff2 146px,#f71 152px,#ef6 156px,#e09 162px,#c10 174px,#af0 182px,#8ab 204px,#84e 208px,#7ee 214px,#6e6 236px,#6bc 242px,#6cb 252px,#765 284px,#7f0 322px,#8b5 358px,#8fc 374px,#941 394px,#966 412px,#988 450px,#96c 502px,#930 546px,#8c2 600px)"></i>
<i style="background:linear-gradient(#fd7 0px,#ff5 44px,#fe5 70px,#fff 82px,#fff 144px,#fed 146px,#f65 152px,#ee4 156px,#bef 174px,#b11 180px,#a95 184px,#88d 204px,#830 208px,#7d3 214px,#6cf 236px,#6a6 242px,#6b5 252px,#753 284px,#7e2 322px,#8ea 372px,#938 394px,#95b 410px,#981 450px,#967 502px,#92c 546px,#8bf 600px)"></i>
<i style="background:linear-gradient(#fd7 0px,#ff7 44px,#fde 72px,#fff 84px,#fff 144px,#fbc 148px,#f16 154px,#e2b 160px,#bcf 174px,#af3 180px,#a7a 184px,#872 204px,#817 208px,#7ba 214px,#6ba 236px,#693 242px,#69f 252px,#74a 286px,#7d3 322px,#895 356px,#8e0 372px,#92e 394px,#952 410px,#979 450px,#95f 504px,#928 546px,#8bb 600px)"></i>
<i style="background:linear-gradient(#fd8 0px,#ff9 46px,#fd5 74px,#fff 86px,#fff 144px,#f7c 150px,#eff 154px,#e63 158px,#bb0 174px,#ad8 180px,#a60 184px,#88b 202px,#801 208px,#7a3 214px,#6a6 236px,#681 242px,#67f 248px,#692 254px,#738 286px,#7c4 322px,#889 356px,#8d5 372px,#924 394px,#948 410px,#970 450px,#959 504px,#923 546px,#8b8 600px)"></i>
<i style="background:linear-gradient(#fd8 0px,#ffa 46px,#fc9 74px,#fd6 80px,#ffe 86px,#fff 142px,#ff3 144px,#f66 150px,#ee2 154px,#dee 160px,#be2 172px,#b00 178px,#a49 184px,#874 202px,#7ed 208px,#78f 214px,#6a9 234px,#66f 242px,#66b 248px,#67d 254px,#726 286px,#7b4 322px,#872 354px,#8c0 370px,#913 392px,#93e 410px,#967 450px,#953 504px,#91e 546px,#8b4 600px)"></i>
<i style="background:linear-gradient(#fd8 0px,#ffb 46px,#fbc 76px,#fcf 82px,#fff 88px,#fff 142px,#fb6 146px,#f08 152px,#e1f 158px,#bc2 172px,#ae6 178px,#a33 184px,#85f 202px,#7da 208px,#77c 214px,#698 234px,#65e 242px,#658 248px,#668 254px,#713 286px,#7a4 322px,#865 354px,#8b4 370px,#908 392px,#933 410px,#95d 450px,#94c 504px,#919 546px,#8b0 600px)"></i>
<i style="background:linear-gradient(#fd8 0px,#ffd 46px,#fec 56px,#fab 76px,#fbb 82px,#fff 90px,#fff 140px,#ff3 142px,#f66 148px,#ee3 152px,#df6 158px,#ba1 172px,#acb 178px,#a1c 184px,#87c 200px,#7c9 208px,#76a 214px,#688 234px,#64e 242px,#645 248px,#65c 256px,#700 286px,#7a7 326px,#84c 352px,#895 366px,#8f5 390px,#928 410px,#953 450px,#944 506px,#913 546px,#8ac 600px)"></i>
<i style="background:linear-gradient(#fd8 0px,#fff 46px,#feb 56px,#fa3 72px,#f98 78px,#fb3 84px,#fff 92px,#fff 140px,#f7b 146px,#f01 150px,#e1b 156px,#bcd 170px,#af0 176px,#a06 184px,#837 202px,#7b8 208px,#73f 216px,#665 236px,#637 244px,#646 256px,#6ec 286px,#782 322px,#84a 354px,#899 370px,#8ef 392px,#91b 410px,#947 450px,#93c 506px,#90e 546px,#8a8 600px)"></i>
<i style="background:linear-gradient(#fd9 0px,#ffe 48px,#fe1 58px,#f92 72px,#f81 78px,#f99 84px,#ff8 92px,#fff 94px,#fff 138px,#fe4 140px,#f8b 144px,#ed2 150px,#de8 156px,#ba6 170px,#ad2 176px,#a23 182px,#852 200px,#7a7 208px,#72e 216px,#669 234px,#627 244px,#622 250px,#631 256px,#708 296px,#770 322px,#83b 354px,#88a 370px,#8e1 392px,#90f 410px,#93c 450px,#934 506px,#908 546px,#8a3 600px)"></i>
<i style="background:linear-gradient(#fd9 0px,#fff 34px,#fff 48px,#fe8 56px,#f79 74px,#f68 80px,#f90 86px,#ffc 94px,#fff 136px,#fe9 138px,#f96 142px,#ee5 148px,#e01 154px,#bc8 168px,#ab2 176px,#a08 182px,#83d 200px,#796 208px,#71e 216px,#659 234px,#616 244px,#60e 250px,#625 258px,#6f5 296px,#773 326px,#81f 352px,#85f 364px,#8cc 390px,#901 410px,#92e 448px,#92b 508px,#8fe 548px,#89f 600px)"></i>
<i style="background:linear-gradient(#fd9 0px,#fff 32px,#ffd 50px,#fc5 62px,#f49 80px,#f70 86px,#ffd 96px,#fff 134px,#fe9 136px,#f9a 140px,#ef3 146px,#e15 152px,#be4 166px,#a91 176px,#827 200px,#784 208px,#70e 216px,#64a 234px,#605 244px,#5fb 250px,#60f 258px,#6e1 296px,#760 326px,#80e 352px,#84f 364px,#8bd 390px,#8f3 410px,#921 448px,#922 508px,#8f8 548px,#89a 600px)"></i>
<i style="background:linear-gradient(#fda 0px,#fff 30px,#ffe 50px,#fc2 62px,#f55 78px,#f28 80px,#f4c 86px,#ffb 98px,#fff 132px,#f98 138px,#efa 144px,#e25 150px,#bb3 166px,#aaa 174px,#9cf 182px,#810 200px,#772 208px,#6e5 218px,#628 236px,#5ed 246px,#5e9 252px,#5fa 258px,#6cc 296px,#738 322px,#7fd 352px,#851 368px,#8b5 392px,#8e4 410px,#914 448px,#919 508px,#8f1 548px,#895 600px)"></i>
<i style="background:linear-gradient(#fda 0px,#fff 28px,#fff 50px,#fc1 62px,#f51 78px,#f0a 80px,#f03 82px,#f24 86px,#fda 98px,#fff 102px,#fff 128px,#ff3 130px,#f90 136px,#efc 142px,#e2e 148px,#bc9 164px,#afe 170px,#a17 178px,#825 198px,#782 206px,#6ed 216px,#62a 234px,#5dc 246px,#5d5 252px,#5ed 260px,#6b7 296px,#73a 326px,#7eb 352px,#82d 364px,#89d 390px,#8d5 410px,#905 448px,#90f 510px,#8ea 548px,#890 600px)"></i>
<i style="background:linear-gradient(#fda 0px,#ffe 26px,#ff9 52px,#f52 78px,#eef 80px,#ed8 82px,#ef7 86px,#fb3 98px,#ff9 104px,#fff 124px,#ff3 126px,#f83 134px,#ef5 140px,#e31 146px,#b94 164px,#ad3 170px,#9c1 180px,#80b 198px,#76e 206px,#6dc 216px,#619 234px,#5c9 246px,#5c0 252px,#5d7 260px,#6a2 296px,#725 326px,#7d8 352px,#81a 364px,#88c 390px,#8c5 410px,#8f7 448px,#905 510px,#8e3 548px,#88a 600px)"></i>
<i style="background:linear-gradient(#fdb 0px,#fff 26px,#ffa 52px,#f59 78px,#ecf 80px,#eaa 82px,#ec5 86px,#fa3 100px,#feb 108px,#ffb 112px,#ff8 118px,#fc2 126px,#f6f 132px,#ee7 138px,#e2f 144px,#ba3 162px,#ae2 168px,#99d 180px,#7f0 198px,#739 208px,#6b2 218px,#5f7 236px,#5b1 248px,#5ad 254px,#5c0 260px,#696 298px,#6fb 322px,#7c5 352px,#825 370px,#882 392px,#8b5 410px,#8e6 446px,#8fc 510px,#8dc 548px,#885 600px)"></i>
<i style="background:linear-gradient(#fdb 0px,#fff 24px,#ffb 52px,#f68 78px,#e99 80px,#e7a 82px,#e8e 86px,#f72 100px,#fad 106px,#fcc 114px,#fbd 120px,#fa0 124px,#f2e 132px,#e9d 138px,#de2 144px,#bae 160px,#aed 166px,#9a9 178px,#7fd 196px,#743 206px,#6a0 218px,#5e5 236px,#59d 248px,#598 254px,#5aa 260px,#67f 298px,#6e5 322px,#7b1 352px,#81b 372px,#870 392px,#8a8 412px,#8d8 448px,#8f1 512px,#8d2 550px,#87f 600px)"></i>
<i style="background:linear-gradient(#fdc 0px,#fff 22px,#fff 50px,#fb0 68px,#f7b 78px,#e5d 80px,#e46 84px,#e71 88px,#f3b 100px,#f74 106px,#f93 114px,#f81 120px,#f61 124px,#f09 130px,#e85 136px,#dd5 142px,#bf6 156px,#abc 166px,#91f 182px,#7de 196px,#72d 206px,#68d 218px,#5d4 236px,#58a 248px,#583 254px,#59d 262px,#668 298px,#6da 324px,#79b 352px,#7e9 366px,#856 390px,#897 412px,#8c7 446px,#8e7 512px,#8ca 550px,#879 600px)"></i>
<i style="background:linear-gradient(#fdc 0px,#fff 22px,#ffe 52px,#fdf 56px,#fa2 76px,#f77 78px,#e36 80px,#e15 84px,#e35 88px,#efc 100px,#f42 108px,#f53 112px,#f4d 116px,#f1a 124px,#eb9 130px,#e30 136px,#d43 144px,#bb4 156px,#a8a 166px,#8f6 182px,#7e7 194px,#715 206px,#678 218px,#5d3 234px,#577 248px,#56e 254px,#586 262px,#64f 298px,#6c3 324px,#785 352px,#7d4 366px,#843 390px,#885 412px,#8b6 446px,#8dd 512px,#8c2 550px,#874 600px)"></i>
<i style="background:linear-gradient(#fdd 0px,#fff 20px,#fff 52px,#fd9 58px,#fc3 76px,#f6c 78px,#e11 80px,#de8 84px,#dfa 88px,#eb3 100px,#ef9 108px,#f07 114px,#ee0 122px,#e88 128px,#e0a 134px,#d2e 142px,#bb1 154px,#a8d 164px,#8cb 182px,#7c6 194px,#6fd 206px,#636 222px,#59f 238px,#55d 250px,#55b 256px,#56f 262px,#636 298px,#6a0 322px,#77b 354px,#7f0 376px,#83f 394px,#873 412px,#8a4 444px,#8d2 512px,#8ba 550px,#86d 600px)"></i>
<i style="background:linear-gradient(#fdd 0px,#fff 20px,#fff 52px,#fda 58px,#fda 76px,#f4b 78px,#ded 80px,#dbb 84px,#db7 86px,#dd4 90px,#e66 100px,#ea9 108px,#eb4 114px,#e87 122px,#e2d 128px,#dae 134px,#cd9 142px,#b35 156px,#a59 164px,#89f 182px,#7a5 194px,#6e4 206px,#621 222px,#58c 238px,#549 250px,#546 256px,#560 264px,#61c 298px,#693 324px,#756 352px,#7c6 372px,#823 392px,#861 412px,#893 444px,#8c7 514px,#8af 552px,#867 600px)"></i>
<i style="background:linear-gradient(#fde 0px,#fff 18px,#fff 52px,#fda 58px,#fda 76px,#f12 78px,#dcb 80px,#d90 84px,#d86 86px,#d97 90px,#e15 100px,#e52 108px,#e59 114px,#e29 122px,#dce 128px,#d50 134px,#c4e 144px,#af7 156px,#9f2 166px,#873 182px,#784 194px,#6c9 206px,#60a 222px,#578 238px,#535 250px,#533 258px,#551 266px,#601 298px,#679 324px,#74b 354px,#7ba 374px,#816 394px,#852 414px,#881 444px,#8bc 514px,#8a7 552px,#861 600px)"></i>
<i style="background:linear-gradient(#fde 0px,#fff 18px,#fff 52px,#fda 58px,#fda 76px,#ed2 78px,#da9 80px,#d82 82px,#d66 84px,#d53 88px,#d6d 92px,#dd6 102px,#dfa 110px,#df4 116px,#dc8 122px,#d6c 128px,#cf2 134px,#bfd 144px,#ab9 156px,#9be 166px,#846 182px,#784 192px,#6c9 204px,#5f3 222px,#563 238px,#520 250px,#51c 258px,#542 268px,#5e6 298px,#65f 324px,#731 354px,#7ae 376px,#801 394px,#83f 414px,#86e 442px,#8b1 514px,#89e 552px,#85a 600px)"></i>
<i style="background:linear-gradient(#fdf 0px,#fff 16px,#fff 52px,#fda 58px,#fda 76px,#e8e 78px,#d88 80px,#d5d 82px,#d3e 84px,#d21 88px,#d30 92px,#d82 102px,#d9a 108px,#d92 116px,#d65 122px,#d0b 128px,#c96 134px,#bae 144px,#a18 160px,#89c 176px,#7f1 184px,#761 192px,#6ac 204px,#5db 222px,#55d 236px,#50a 250px,#505 258px,#527 268px,#645 324px,#718 354px,#7a1 378px,#7f3 396px,#82b 414px,#859 440px,#8a6 514px,#895 552px,#853 600px)"></i>
<i style="background:linear-gradient(#fe0 0px,#fff 16px,#fff 52px,#fda 58px,#fda 76px,#e45 78px,#d69 80px,#d17 84px,#d00 86px,#cf0 90px,#d2e 102px,#d3d 108px,#d30 116px,#d03 122px,#cab 128px,#c3b 134px,#b61 144px,#86a 176px,#7ec 182px,#73d 192px,#68f 204px,#5c1 222px,#537 238px,#4f4 250px,#4ed 258px,#516 270px,#629 324px,#6fd 354px,#794 380px,#7e5 398px,#81c 416px,#884 488px,#89a 516px,#88b 554px,#84c 600px)"></i>
<i style="background:linear-gradient(#fe1 0px,#fff 14px,#fff 54px,#fda 58px,#fda 76px,#de4 78px,#d4d 80px,#cf3 84px,#cbd 90px,#ce1 104px,#cd5 114px,#cb5 120px,#c89 124px,#c08 132px,#b16 144px,#80d 178px,#719 192px,#671 204px,#5a7 222px,#520 238px,#4dd 250px,#4d7 260px,#4fa 270px,#601 322px,#6e2 354px,#787 382px,#7cf 398px,#808 416px,#876 488px,#88f 516px,#881 554px,#845 600px)"></i>
<i style="background:linear-gradient(#fe1 0px,#fff 14px,#fff 54px,#fda 58px,#fd0 76px,#d75 78px,#cfd 82px,#cd1 84px,#c8c 90px,#c88 108px,#c64 118px,#c2b 124px,#bb0 132px,#af5 142px,#805 176px,#713 190px,#652 204px,#58d 222px,#508 238px,#4c4 250px,#4bc 260px,#4e7 272px,#5e4 322px,#6ba 352px,#76f 382px,#7b9 398px,#7f3 416px,#868 488px,#883 516px,#878 554px,#83e 600px)"></i>
<i style="background:linear-gradient(#fe2 0px,#fff 14px,#fff 54px,#fda 58px,#fda 74px,#f70 76px,#d60 78px,#ce0 82px,#c8b 86px,#c50 92px,#c37 106px,#c19 114px,#bf7 120px,#bce 124px,#b59 132px,#aaa 142px,#7fc 174px,#76a 182px,#6ec 190px,#632 204px,#571 222px,#4ef 238px,#4ab 250px,#4a5 262px,#4fa 282px,#5d2 324px,#69e 352px,#756 382px,#7aa 400px,#7e4 418px,#85a 488px,#877 516px,#86f 554px,#837 600px)"></i>
<i style="background:linear-gradient(#fe3 0px,#fff 12px,#fff 54px,#fda 58px,#fda 74px,#f0b 76px,#d4c 78px,#cc4 82px,#c66 86px,#c1b 92px,#bb6 116px,#b5c 126px,#a5f 142px,#7f0 172px,#760 180px,#6c6 190px,#611 204px,#554 222px,#4d5 238px,#491 250px,#484 256px,#48d 264px,#4e4 284px,#5b4 324px,#681 352px,#749 384px,#794 400px,#7cf 418px,#84c 488px,#86b 516px,#865 554px,#82f 600px)"></i>
<i style="background:linear-gradient(#fe4 0px,#fff 12px,#fff 54px,#fda 58px,#fda 74px,#ea1 76px,#d39 78px,#ca7 82px,#c6e 84px,#c1c 88px,#bc8 96px,#b42 120px,#ad1 130px,#9f1 144px,#82f 166px,#776 176px,#6ba 188px,#61e 200px,#514 226px,#49f 242px,#46f 252px,#474 266px,#4cc 286px,#595 324px,#664 352px,#72f 384px,#77c 400px,#7ba 418px,#83a 486px,#85e 516px,#85b 554px,#828 600px)"></i>
<i style="background:linear-gradient(#fe4 0px,#fff 12px,#fff 54px,#ff9 56px,#fda 58px,#fda 74px,#e31 76px,#d24 78px,#c89 82px,#c4b 84px,#bf1 88px,#b8b 96px,#aec 120px,#a80 130px,#9a8 144px,#7f7 166px,#747 176px,#6ad 186px,#611 198px,#564 214px,#4f6 226px,#483 242px,#452 252px,#455 266px,#4b4 288px,#576 324px,#638 350px,#716 384px,#765 400px,#7a4 418px,#82c 486px,#852 516px,#851 554px,#820 600px)"></i>
<i style="background:linear-gradient(#fe5 0px,#fff 10px,#fff 54px,#ffd 56px,#fda 58px,#fda 74px,#dbb 76px,#d0f 78px,#c69 82px,#c28 84px,#ba0 90px,#b66 94px,#b2a 100px,#a75 124px,#9fd 134px,#91b 148px,#7e4 164px,#738 174px,#682 186px,#5ea 198px,#4e7 224px,#466 242px,#435 252px,#434 266px,#490 288px,#556 324px,#619 350px,#6fc 384px,#756 402px,#795 420px,#81d 486px,#845 516px,#847 554px,#818 600px)"></i>
<i style="background:linear-gradient(#fe6 0px,#fff 10px,#fff 56px,#fdd 58px,#fda 72px,#fc5 74px,#d57 76px,#c9c 80px,#c03 84px,#b98 88px,#b4d 92px,#ae7 100px,#a37 122px,#9b2 134px,#8d6 148px,#7ac 164px,#726 172px,#672 184px,#5d9 196px,#559 208px,#4c6 224px,#447 242px,#416 252px,#413 266px,#476 290px,#535 324px,#5fa 350px,#6ed 386px,#73e 402px,#77f 420px,#80e 486px,#838 516px,#83d 554px,#810 600px)"></i>
<i style="background:linear-gradient(#fe7 0px,#fff 10px,#fff 56px,#fe0 58px,#fda 60px,#fda 72px,#f64 74px,#d44 76px,#c80 80px,#bde 84px,#b6b 88px,#b18 92px,#a8e 102px,#9d7 124px,#969 134px,#892 148px,#712 170px,#643 184px,#5af 196px,#4b4 222px,#426 242px,#3f6 252px,#3f1 266px,#451 290px,#507 322px,#6d3 386px,#726 402px,#769 420px,#7fb 484px,#82b 516px,#832 554px,#808 600px)"></i>
<i style="background:linear-gradient(#fe8 0px,#fff 10px,#fff 56px,#fda 60px,#fda 72px,#efe 74px,#d2f 76px,#c62 80px,#bb8 84px,#b3e 88px,#abf 94px,#a34 104px,#98c 124px,#91f 134px,#84e 148px,#6dc 170px,#613 184px,#59a 194px,#49f 220px,#41e 238px,#3db 250px,#3c9 258px,#3ce 266px,#42c 290px,#4e6 322px,#6b8 386px,#717 404px,#75a 422px,#7eb 484px,#81e 516px,#828 554px,#800 600px)"></i>
<i style="background:linear-gradient(#fe9 0px,#fff 8px,#fff 56px,#fda 60px,#fda 72px,#e92 74px,#d1a 76px,#be4 82px,#b4d 86px,#adc 90px,#a62 96px,#9d9 106px,#941 124px,#8d6 134px,#80a 148px,#6a5 170px,#5e1 184px,#56c 194px,#477 220px,#3ed 240px,#3b8 250px,#3a5 258px,#3aa 266px,#410 292px,#4c5 322px,#69e 386px,#6ff 404px,#744 422px,#7dc 484px,#811 516px,#81d 554px,#7f7 600px)"></i>
<i style="background:linear-gradient(#fea 0px,#fff 8px,#fff 56px,#fda 60px,#fda 72px,#e1e 74px,#d03 76px,#bc2 82px,#b23 86px,#a7a 92px,#a02 98px,#994 106px,#8e6 126px,#88d 134px,#7c6 148px,#650 172px,#5ae 184px,#53c 194px,#44e 220px,#3ba 242px,#393 250px,#381 258px,#385 266px,#3e9 292px,#4a3 322px,#690 388px,#6f0 406px,#735 424px,#7cc 484px,#805 518px,#812 556px,#7ef 600px)"></i>
<i style="background:linear-gradient(#feb 0px,#fff 8px,#fff 56px,#fda 60px,#fda 72px,#da4 74px,#ceb 76px,#b9f 82px,#af8 86px,#a44 92px,#9c4 98px,#982 102px,#93b 108px,#89e 126px,#844 134px,#763 150px,#632 170px,#534 190px,#4a9 204px,#432 218px,#373 248px,#35b 258px,#360 266px,#384 278px,#3cd 294px,#482 322px,#675 388px,#6d8 406px,#71f 424px,#7bd 484px,#7f6 516px,#807 554px,#7e6 600px)"></i>
<i style="background:linear-gradient(#fec 0px,#fff 8px,#fff 56px,#fda 60px,#fda 70px,#fb7 72px,#d4d 74px,#be3 80px,#b1f 84px,#a86 88px,#9dd 94px,#962 100px,#8f7 108px,#856 126px,#7fc 134px,#5da 172px,#4fe 190px,#405 218px,#34a 248px,#335 258px,#33a 266px,#3a7 294px,#461 322px,#65b 388px,#6c0 406px,#710 426px,#7ad 484px,#7eb 518px,#7fc 556px,#7dd 600px)"></i>
<i style="background:linear-gradient(#fed 0px,#ffe 6px,#fff 56px,#fda 60px,#fda 70px,#f57 72px,#d39 74px,#bc1 80px,#af7 84px,#a57 88px,#9a4 94px,#924 100px,#8b4 108px,#7cc 132px,#5b7 170px,#4db 188px,#3d5 218px,#31e 248px,#30d 258px,#313 266px,#380 294px,#430 320px,#640 388px,#6a8 406px,#6fa 426px,#79d 484px,#7dd 518px,#7f1 556px,#7d5 600px)"></i>
<i style="background:linear-gradient(#fee 0px,#fff 6px,#fff 56px,#ff9 58px,#fda 60px,#fda 70px,#ef2 72px,#d23 74px,#b9d 80px,#acd 84px,#9e1 90px,#96b 94px,#8e5 100px,#872 108px,#783 132px,#577 170px,#4a2 188px,#394 220px,#2f1 248px,#2ec 266px,#35a 294px,#40f 320px,#625 388px,#68f 406px,#6e4 426px,#788 482px,#7cf 518px,#7e5 556px,#7cc 600px)"></i>
<i style="background:linear-gradient(#fef 0px,#fff 6px,#fff 56px,#ffc 58px,#fda 60px,#fda 70px,#e86 72px,#d0b 74px,#b78 80px,#aa2 84px,#9ad 90px,#932 94px,#8a7 100px,#830 108px,#739 132px,#535 170px,#468 188px,#360 220px,#2ca 246px,#2bc 256px,#2c5 266px,#334 294px,#3ee 320px,#60a 388px,#681 408px,#6d6 428px,#778 482px,#7c1 518px,#7da 556px,#7c3 600px)"></i>
<i style="background:linear-gradient(#ff0 0px,#fff 6px,#fff 56px,#ffe 58px,#fda 60px,#fda 70px,#e12 72px,#cf1 74px,#b50 80px,#a75 84px,#978 90px,#8f8 94px,#868 100px,#7ed 108px,#707 130px,#4f2 170px,#42d 188px,#32a 220px,#29b 246px,#292 256px,#29e 266px,#2ce 280px,#31b 296px,#3cd 320px,#5f0 388px,#669 408px,#6c0 428px,#768 482px,#7b4 518px,#7cf 556px,#7b9 600px)"></i>
<i style="background:linear-gradient(#ff1 0px,#fff 6px,#fff 58px,#fda 60px,#fda 70px,#d95 72px,#cd4 74px,#bab 78px,#b26 80px,#a44 84px,#941 90px,#8bd 94px,#828 100px,#7ab 108px,#6bb 130px,#510 162px,#3f2 188px,#2f3 220px,#2a0 234px,#26d 246px,#268 256px,#278 266px,#2eb 294px,#38c 316px,#5d5 388px,#651 408px,#6ab 428px,#757 482px,#7a6 518px,#7c3 556px,#7b0 600px)"></i>
<i style="background:linear-gradient(#ff2 0px,#fff 6px,#fff 58px,#fda 60px,#fda 68px,#fa8 70px,#d4e 72px,#b82 78px,#af9 80px,#a10 84px,#907 90px,#87f 94px,#7e7 100px,#767 108px,#66d 130px,#4e0 160px,#3b6 188px,#2ba 220px,#247 244px,#23c 252px,#251 266px,#2c8 294px,#36b 316px,#5bb 388px,#639 408px,#69d 430px,#747 482px,#797 518px,#7b7 556px,#7a7 600px)"></i>
<i style="background:linear-gradient(#ff3 0px,#fff 4px,#fff 58px,#fda 60px,#fda 68px,#f4b 70px,#d34 72px,#bf1 76px,#ac9 80px,#9d9 84px,#8ca 90px,#840 94px,#7a5 100px,#722 108px,#669 124px,#4af 158px,#42c 170px,#354 192px,#2d7 208px,#278 222px,#235 236px,#213 248px,#21c 260px,#246 274px,#299 292px,#329 312px,#5af 390px,#62b 410px,#697 434px,#73c 484px,#78c 520px,#7ac 558px,#79d 600px)"></i>
<i style="background:linear-gradient(#ff4 0px,#fff 58px,#fda 60px,#fda 68px,#ee6 70px,#d18 72px,#bc7 76px,#a95 80px,#99d 84px,#8db 88px,#7fe 94px,#761 100px,#6da 108px,#4df 148px,#43d 162px,#306 194px,#24e 220px,#205 236px,#1e8 248px,#1f5 260px,#221 274px,#277 292px,#308 312px,#594 390px,#613 410px,#682 434px,#726 482px,#77b 518px,#7a0 556px,#794 600px)"></i>
<i style="background:linear-gradient(#ff5 0px,#fff 56px,#ffc 58px,#fda 60px,#fda 68px,#e7a 70px,#cfa 72px,#b9a 76px,#a5c 80px,#95d 84px,#896 88px,#7b9 94px,#71b 100px,#691 108px,#4c4 144px,#40d 160px,#2bb 196px,#21a 220px,#1dd 234px,#1c0 246px,#1c9 258px,#1fc 274px,#254 292px,#2e8 312px,#57a 390px,#606 412px,#675 436px,#71b 484px,#770 520px,#794 558px,#78a 600px)"></i>
<i style="background:linear-gradient(#ff6 0px,#fff 56px,#ff8 58px,#fda 60px,#fda 68px,#e03 70px,#cd8 72px,#b67 76px,#a1e 80px,#917 84px,#84d 88px,#76f 94px,#6d2 100px,#662 106px,#5db 116px,#4c1 138px,#3dd 158px,#280 196px,#1e7 220px,#1b6 232px,#199 244px,#19e 256px,#1d0 272px,#227 290px,#2b7 310px,#560 390px,#5ef 412px,#668 438px,#70b 484px,#762 520px,#788 558px,#780 600px)"></i>
<i style="background:linear-gradient(#ff7 0px,#fff 56px,#fda 60px,#fda 68px,#d80 70px,#b2f 76px,#9d9 80px,#8cb 84px,#7fe 88px,#7aa 90px,#722 94px,#688 100px,#615 106px,#58a 116px,#48d 136px,#3af 156px,#2e2 180px,#248 196px,#1ec 210px,#195 228px,#171 242px,#174 254px,#1a3 270px,#1fa 288px,#297 310px,#555 392px,#5e2 414px,#65c 440px,#6fa 484px,#753 520px,#77c 558px,#776 600px)"></i>
<i style="background:linear-gradient(#ff8 0px,#fff 56px,#fda 60px,#fda 66px,#f99 68px,#d45 70px,#a34 78px,#8f9 82px,#80a 86px,#757 90px,#6d2 94px,#63b 100px,#5c7 106px,#539 116px,#443 136px,#381 154px,#213 196px,#1b9 210px,#175 224px,#14a 240px,#14a 252px,#177 268px,#1cd 286px,#277 310px,#53c 392px,#5d6 416px,#658 444px,#6f0 486px,#749 522px,#770 558px,#76c 600px)"></i>
<i style="background:linear-gradient(#ff9 0px,#fff 56px,#fdf 58px,#fda 66px,#f3b 68px,#d1e 70px,#aa7 76px,#9e4 78px,#938 80px,#8a2 82px,#821 84px,#752 88px,#6ba 92px,#61b 98px,#59c 104px,#504 114px,#3fc 136px,#355 152px,#1df 196px,#187 210px,#147 224px,#123 238px,#124 252px,#154 268px,#1ac 286px,#258 310px,#522 392px,#5bf 416px,#644 444px,#6df 486px,#73a 522px,#764 558px,#762 600px)"></i>
<i style="background:linear-gradient(#ffa 0px,#fff 56px,#fda 58px,#fda 66px,#ed0 68px,#cf1 70px,#a57 76px,#98d 78px,#8dc 80px,#845 82px,#7c5 84px,#6f8 88px,#665 92px,#5f9 96px,#54e 104px,#4b7 114px,#426 126px,#33d 148px,#1ac 196px,#156 210px,#121 222px,#0fa 238px,#0ff 252px,#131 268px,#18b 286px,#239 310px,#475 374px,#518 394px,#5b3 418px,#639 446px,#6d5 488px,#72c 522px,#758 558px,#758 600px)"></i>
<i style="background:linear-gradient(#ffb 0px,#ffe 56px,#fda 58px,#fda 66px,#e55 68px,#cbc 70px,#9fe 76px,#92f 78px,#87b 80px,#7e4 82px,#6fa 86px,#651 90px,#5d9 94px,#529 102px,#4a5 110px,#3f8 124px,#33b 142px,#2b9 156px,#17b 196px,#0fb 220px,#0d4 236px,#0d6 250px,#106 266px,#15f 284px,#20a 308px,#45a 374px,#4ff 394px,#59c 418px,#62e 448px,#6c4 488px,#721 524px,#74d 560px,#74e 600px)"></i>
<i style="background:linear-gradient(#ffc 0px,#fff 54px,#fda 58px,#fda 66px,#dc9 68px,#c81 70px,#9a1 76px,#8ce 78px,#819 80px,#784 82px,#709 84px,#648 88px,#5fd 90px,#58c 94px,#4bb 104px,#45f 110px,#3b8 124px,#313 140px,#281 156px,#14b 196px,#0d7 218px,#0af 234px,#0b2 250px,#0e3 266px,#13f 284px,#1fd 310px,#42e 372px,#4e6 394px,#591 420px,#623 450px,#6ba 490px,#713 524px,#740 560px,#744 600px)"></i>
<i style="background:linear-gradient(#ffd 0px,#fff 54px,#fdc 56px,#fda 66px,#d29 68px,#c43 70px,#a37 74px,#945 76px,#871 78px,#7bd 80px,#72b 82px,#6b6 84px,#5fa 88px,#578 92px,#4c7 100px,#43b 108px,#3bd 118px,#300 136px,#25c 154px,#12b 194px,#0b4 216px,#08a 232px,#08b 248px,#0b9 264px,#113 282px,#1ce 308px,#426 374px,#4dc 396px,#586 422px,#618 452px,#6b0 492px,#708 526px,#735 562px,#739 600px)"></i>
<i style="background:linear-gradient(#ffe 0px,#fff 54px,#fda 56px,#fda 64px,#f80 66px,#ced 68px,#c01 70px,#9e4 74px,#8f2 76px,#822 78px,#76f 80px,#6e3 82px,#671 84px,#5bb 88px,#53b 92px,#48c 100px,#402 108px,#385 118px,#2dd 134px,#228 154px,#0fe 194px,#092 214px,#066 230px,#065 246px,#090 262px,#0f4 282px,#1b1 308px,#3fa 372px,#4c3 396px,#56f 422px,#60e 454px,#6a0 492px,#6fa 526px,#729 562px,#72f 600px)"></i>
<i style="background:linear-gradient(#fff 0px,#fff 52px,#fda 56px,#fda 64px,#f11 66px,#cbb 68px,#bc3 70px,#99d 74px,#8b0 76px,#7e7 78px,#73b 80px,#6b1 82px,#640 84px,#58c 88px,#50b 92px,#45a 100px,#3d0 108px,#351 118px,#2a9 134px,#1f7 154px,#0e1 192px,#069 214px,#041 230px,#042 246px,#06f 262px,#0c9 280px,#194 308px,#3e1 372px,#4ab 396px,#559 422px,#5fb 454px,#68f 492px,#6eb 526px,#71c 562px,#724 600px)"></i>
<i style="background:linear-gradient(#fff 0px,#fff 52px,#fdc 54px,#fda 64px,#e94 66px,#c8c 68px,#b91 70px,#971 74px,#88a 76px,#7c7 78px,#720 80px,#695 82px,#5c0 86px,#56c 88px,#4e8 92px,#430 100px,#3a4 108px,#322 118px,#28d 132px,#19b 160px,#09b 196px,#049 212px,#01e 228px,#01d 244px,#047 260px,#0aa 280px,#177 308px,#3c7 372px,#492 396px,#54f 424px,#5f0 456px,#67f 492px,#6dd 526px,#710 562px,#71a 600px)"></i>
<i style="background:linear-gradient(#fff 0px,#fff 50px,#ffe 52px,#fda 54px,#fda 64px,#e09 66px,#c61 68px,#b6e 70px,#965 74px,#881 76px,#7bf 78px,#718 80px,#68b 82px,#615 84px,#55a 88px,#498 94px,#3e7 102px,#361 110px,#2ca 122px,#239 136px,#18c 156px,#09a 190px,#022 212px,#000 224px,#003 248px,#02f 262px,#08c 280px,#15b 308px,#3ae 372px,#47a 396px,#539 424px,#5de 456px,#66e 492px,#6ce 526px,#703 562px,#70f 600px)"></i>
<i style="background:linear-gradient(#fff 0px,#fff 50px,#fda 54px,#fda 64px,#d80 66px,#c41 68px,#b5a 70px,#96c 74px,#88d 76px,#7c9 78px,#721 80px,#692 82px,#5ae 86px,#506 90px,#488 94px,#3cc 102px,#340 110px,#2bb 120px,#223 134px,#1a2 148px,#136 162px,#057 194px,#004 210px,#000 258px,#063 278px,#0bf 292px,#13f 308px,#395 372px,#472 398px,#52f 426px,#5d4 458px,#665 494px,#6c4 528px,#6f7 562px,#705 600px)"></i>
<i style="background:linear-gradient(#fff 0px,#fff 50px,#fdd 52px,#fda 64px,#cfa 66px,#b51 70px,#8a4 76px,#7e2 78px,#738 80px,#6a5 82px,#5b9 86px,#508 90px,#481 94px,#3e5 100px,#346 108px,#2b3 118px,#226 130px,#139 156px,#003 202px,#000 264px,#02e 274px,#095 290px,#113 306px,#38e 374px,#469 400px,#531 430px,#5dc 464px,#662 498px,#6b9 530px,#6ec 564px,#6fa 600px)"></i>
<i style="background:linear-gradient(#fff 0px,#fff 48px,#ffc 50px,#fda 52px,#fda 62px,#f89 64px,#cdc 66px,#c1f 68px,#8c3 76px,#803 78px,#759 80px,#6c3 82px,#5ce 86px,#513 90px,#445 96px,#3ac 102px,#310 110px,#297 118px,#205 130px,#18b 142px,#113 156px,#000 196px,#006 272px,#06b 288px,#0f8 306px,#363 372px,#422 394px,#4c4 416px,#554 440px,#617 482px,#693 520px,#6d9 558px,#6ef 600px)"></i>
<i style="background:linear-gradient(#fff 0px,#fff 48px,#fda 52px,#fda 62px,#f2a 64px,#cd0 66px,#b56 70px,#8e7 76px,#82b 78px,#6e8 82px,#5eb 86px,#526 90px,#44a 96px,#3a7 102px,#300 110px,#280 118px,#1fe 128px,#10f 152px,#000 190px,#001 276px,#06c 292px,#0ee 308px,#338 370px,#40b 394px,#4ae 416px,#540 440px,#5fd 480px,#684 520px,#6cc 558px,#6e4 600px)"></i>
<i style="background:linear-gradient(#fff 0px,#fff 48px,#fe2 50px,#fda 52px,#fda 62px,#ec9 64px,#ccb 66px,#b61 70px,#857 78px,#713 82px,#60f 86px,#540 90px,#456 96px,#3a7 102px,#2f5 110px,#26d 118px,#1e4 128px,#15e 140px,#0ee 152px,#005 184px,#000 280px,#061 294px,#0e6 310px,#31f 370px,#3f3 394px,#4a6 418px,#536 442px,#5f4 482px,#675 520px,#6bf 558px,#6d9 600px)"></i>
<i style="background:linear-gradient(#fff 0px,#fff 48px,#fda 50px,#fda 62px,#e69 64px,#ccc 66px,#b72 70px,#885 78px,#742 82px,#638 86px,#560 90px,#468 96px,#3ad 102px,#31a 108px,#27f 116px,#1e8 126px,#157 138px,#0e1 150px,#000 180px,#000 284px,#0de 312px,#3cb 392px,#482 416px,#523 442px,#5e3 482px,#666 520px,#6b2 558px,#6ce 600px)"></i>
<i style="background:linear-gradient(#fff 0px,#fff 46px,#fda 50px,#fda 62px,#e0a 64px,#cd2 66px,#b88 70px,#8b6 78px,#774 82px,#664 86px,#585 90px,#47f 96px,#3b7 102px,#31b 108px,#276 116px,#1f3 124px,#16e 134px,#0eb 146px,#007 174px,#000 288px,#0d7 314px,#3b4 392px,#47a 418px,#51a 444px,#5da 484px,#65c 522px,#6a7 560px,#6c3 600px)"></i>
<i style="background:linear-gradient(#fff 0px,#fff 46px,#fda 50px,#fda 62px,#daf 64px,#cdc 66px,#ba1 70px,#843 80px,#718 84px,#61b 88px,#549 92px,#44d 98px,#38b 104px,#2f0 110px,#24b 118px,#1c8 126px,#141 136px,#0d2 146px,#005 170px,#004 292px,#0d0 316px,#2d7 370px,#3ad 394px,#472 420px,#511 446px,#5c9 484px,#64d 522px,#69a 560px,#6b8 600px)"></i>
<i style="background:linear-gradient(#fff 0px,#fff 46px,#fb9 50px,#f4a 54px,#f03 56px,#e52 60px,#de6 62px,#d6e 64px,#c59 68px,#b19 72px,#877 80px,#74c 84px,#6c5 86px,#570 92px,#4b8 96px,#41e 100px,#35f 106px,#2c6 112px,#247 118px,#1bc 126px,#149 134px,#0d1 144px,#007 166px,#000 294px,#0b7 316px,#2bf 370px,#396 394px,#45d 420px,#4fe 446px,#5b8 484px,#63e 522px,#68d 560px,#6ad 600px)"></i>
<i style="background:linear-gradient(#fff 0px,#ffb 46px,#f7f 52px,#efe 56px,#eae 58px,#deb 62px,#d78 64px,#cf9 66px,#bdb 70px,#8ab 80px,#6f8 86px,#605 90px,#535 94px,#486 98px,#3f0 102px,#36f 106px,#2cc 112px,#246 118px,#1b3 126px,#13a 134px,#0bd 144px,#000 164px,#002 298px,#0b2 318px,#2a8 370px,#380 394px,#447 420px,#4f6 448px,#5b0 486px,#62f 522px,#680 560px,#6a2 600px)"></i>
<i style="background:linear-gradient(#fff 0px,#fff 44px,#ff4 46px,#fd2 48px,#f78 52px,#ead 58px,#e54 60px,#d82 64px,#bfa 70px,#845 82px,#6aa 88px,#55d 94px,#4a6 98px,#409 102px,#381 106px,#2d6 112px,#248 118px,#1ad 126px,#0c4 142px,#007 160px,#000 300px,#087 316px,#2a4 372px,#37a 396px,#440 422px,#4ee 450px,#5a7 488px,#626 524px,#673 560px,#696 600px)"></i>
<i style="background:linear-gradient(#fff 0px,#fff 44px,#fcb 48px,#f73 52px,#ef8 56px,#e57 60px,#d1b 66px,#b87 72px,#878 82px,#6da 88px,#585 94px,#4c8 98px,#424 102px,#396 106px,#2e2 112px,#24d 118px,#1cf 124px,#144 132px,#0cf 140px,#005 158px,#005 304px,#353 394px,#42b 422px,#4db 450px,#596 488px,#617 524px,#666 560px,#68b 600px)"></i>
<i style="background:linear-gradient(#fff 0px,#fff 44px,#fc5 48px,#f6e 52px,#ef7 56px,#e5b 60px,#d2b 66px,#ba7 72px,#8a9 82px,#70a 88px,#61b 92px,#549 96px,#493 100px,#3f4 104px,#36a 108px,#2b9 114px,#225 120px,#1a9 126px,#0c4 140px,#006 156px,#000 306px,#34d 396px,#424 424px,#4d3 452px,#586 488px,#608 524px,#658 560px,#680 600px)"></i>
<i style="background:linear-gradient(#fff 0px,#ffa 44px,#fbf 48px,#f69 52px,#ef6 56px,#e60 60px,#d3b 66px,#bc3 72px,#848 84px,#6bc 90px,#570 96px,#4b4 100px,#40f 104px,#37f 108px,#2c7 114px,#22c 120px,#1aa 126px,#0bb 140px,#038 150px,#000 156px,#000 308px,#338 396px,#410 424px,#4c0 452px,#575 488px,#5f9 524px,#64b 560px,#674 600px)"></i>
<i style="background:linear-gradient(#fff 0px,#fff 42px,#ff4 44px,#fb9 48px,#f31 54px,#eb0 58px,#e0f 62px,#cda 68px,#bde 72px,#876 84px,#6e9 90px,#597 96px,#4d6 100px,#42c 104px,#397 108px,#2d6 114px,#235 120px,#1ad 126px,#0b4 140px,#000 154px,#000 310px,#03e 318px,#249 372px,#333 398px,#409 426px,#4b9 454px,#56d 490px,#5f0 526px,#641 562px,#669 600px)"></i>
<i style="background:linear-gradient(#fff 0px,#fff 42px,#fb3 48px,#f2e 54px,#eb2 58px,#e16 62px,#cec 68px,#b70 74px,#8a1 84px,#714 90px,#62a 94px,#558 98px,#49e 102px,#3fa 106px,#369 110px,#2ac 116px,#1b2 126px,#0ce 138px,#008 152px,#004 314px,#246 374px,#31d 398px,#3f5 426px,#4b2 456px,#565 492px,#5e1 526px,#634 562px,#65d 600px)"></i>
<i style="background:linear-gradient(#fff 0px,#ffc 42px,#fad 48px,#f2b 54px,#eb3 58px,#e1c 62px,#cfc 68px,#b8c 74px,#842 86px,#6c5 92px,#57d 98px,#4bf 102px,#416 106px,#380 110px,#2bd 116px,#1b8 126px,#0cc 138px,#000 152px,#000 316px,#230 374px,#308 398px,#3e1 426px,#49f 456px,#554 492px,#5d2 526px,#627 562px,#652 600px)"></i>
<i style="background:linear-gradient(#fff 0px,#fff 40px,#fc6 46px,#f83 50px,#f28 54px,#eb3 58px,#e21 62px,#d0b 68px,#ba6 74px,#869 86px,#6ec 92px,#609 96px,#53d 100px,#3e2 108px,#351 112px,#292 118px,#192 128px,#0a8 140px,#02c 148px,#000 152px,#000 318px,#21b 374px,#304 400px,#3db 428px,#498 458px,#54c 494px,#5c9 528px,#61a 562px,#646 600px)"></i>
<i style="background:linear-gradient(#fff 0px,#fff 40px,#fa1 48px,#f54 52px,#eef 56px,#e70 60px,#dd4 64px,#cae 70px,#bbe 74px,#88f 86px,#712 92px,#62e 96px,#55f 100px,#3fd 108px,#367 112px,#2a3 118px,#19a 128px,#118 134px,#085 142px,#00a 150px,#000 152px,#000 320px,#218 376px,#2ff 402px,#3d5 430px,#492 460px,#53c 494px,#5ba 528px,#60c 562px,#63b 600px)"></i>
<i style="background:linear-gradient(#fff 0px,#ffa 40px,#f9b 48px,#f4f 52px,#eec 56px,#e71 60px,#dda 64px,#cbe 70px,#bd4 74px,#82f 88px,#6c1 94px,#580 100px,#418 108px,#2f4 116px,#1d4 126px,#0cd 138px,#005 150px,#000 322px,#216 378px,#2eb 402px,#3c2 430px,#480 460px,#52c 494px,#5ab 528px,#5ff 562px,#62f 600px)"></i>
<i style="background:linear-gradient(#fff 0px,#fff 38px,#fe1 42px,#f94 48px,#f49 52px,#ee9 56px,#e70 60px,#ddd 64px,#ccb 70px,#be7 74px,#850 88px,#6e4 94px,#5a0 100px,#432 108px,#308 116px,#1e0 126px,#0d0 138px,#002 150px,#000 324px,#213 380px,#2e7 404px,#3bc 432px,#479 462px,#524 496px,#5a3 530px,#5f5 564px,#624 600px)"></i>
<i style="background:linear-gradient(#fff 0px,#ffb 38px,#fc4 44px,#f8d 48px,#f43 52px,#ee4 56px,#e6e 60px,#ddf 64px,#cd5 70px,#b7b 76px,#86f 88px,#704 94px,#55c 102px,#3fb 110px,#2da 118px,#1b8 128px,#0d5 138px,#000 150px,#000 326px,#1ff 380px,#2d3 404px,#3a9 432px,#467 462px,#514 496px,#594 530px,#5e8 564px,#618 600px)"></i>
<i style="background:linear-gradient(#fff 0px,#fff 36px,#fd2 42px,#fa3 46px,#f3c 52px,#ede 56px,#e6b 60px,#ddf 64px,#cdb 70px,#b8a 76px,#88b 88px,#6b2 96px,#579 102px,#414 110px,#2ed 118px,#1c4 128px,#0da 138px,#000 150px,#000 328px,#1fd 382px,#2cf 406px,#3a4 434px,#461 464px,#50c 498px,#585 530px,#5db 564px,#60c 600px)"></i>
<i style="background:linear-gradient(#fff 0px,#ff9 36px,#fca 42px,#f7c 48px,#f08 54px,#ea1 58px,#e24 62px,#d8f 66px,#c78 72px,#b1b 78px,#82b 90px,#6cf 96px,#595 102px,#42d 110px,#301 118px,#1d1 128px,#0e1 138px,#000 150px,#000 330px,#008 332px,#1fb 384px,#2cc 408px,#39f 436px,#45b 466px,#505 500px,#57d 532px,#5ce 564px,#601 600px)"></i>
</div></div>
<div class="clip" style="left:140px;top:1597px;width:1402px;height:584px">
<div class="fld" style="left:-27px;top:-6px;width:1458px;height:596px">
<i style="background:linear-gradient(#aa5 0px,#abb 46px,#b2e 78px,#b4d 92px,#b47 106px,#b13 120px,#abf 130px,#a3d 140px,#9b3 148px,#855 166px,#7d6 174px,#594 220px,#51c 232px,#4b1 246px,#451 262px,#40c 278px,#3ea 296px,#3fe 312px,#433 326px,#4fc 360px,#55c 382px,#596 408px,#596 434px,#555 464px,#4d6 496px,#40e 534px,#29c 596px)"></i>
<i style="background:linear-gradient(#ab5 0px,#ac7 46px,#b3a 78px,#b58 92px,#b50 106px,#b1c 120px,#ac7 130px,#a44 140px,#9b8 148px,#855 166px,#7d5 174px,#6e6 194px,#593 220px,#51a 232px,#4b0 246px,#451 262px,#40b 278px,#3eb 294px,#3fc 310px,#42e 324px,#505 360px,#565 382px,#59f 408px,#59d 434px,#55a 464px,#4d9 496px,#40f 534px,#299 596px)"></i>
<i style="background:linear-gradient(#ac6 0px,#ad7 48px,#b47 78px,#b63 92px,#b59 106px,#b23 120px,#ace 130px,#a4b 140px,#9bd 148px,#855 166px,#7f1 172px,#6ce 196px,#5a9 218px,#52b 230px,#4ca 242px,#45b 260px,#412 276px,#3eb 294px,#3ff 310px,#433 324px,#503 358px,#56f 382px,#5a7 408px,#5a4 434px,#55f 464px,#4dc 496px,#40f 534px,#296 596px)"></i>
<i style="background:linear-gradient(#ad7 0px,#ae4 48px,#b53 78px,#b6d 92px,#b61 106px,#b2a 120px,#ad4 130px,#a51 140px,#9c2 148px,#855 166px,#7f1 172px,#6d0 196px,#5a8 218px,#529 230px,#4c9 242px,#45a 260px,#412 276px,#3ed 292px,#3fd 308px,#439 324px,#50c 358px,#578 382px,#5b0 408px,#5ab 434px,#564 464px,#4df 496px,#41b 532px,#293 596px)"></i>
<i style="background:linear-gradient(#aea 0px,#af2 48px,#b60 78px,#b78 92px,#b69 106px,#b2f 120px,#ad8 130px,#a55 140px,#9c6 148px,#856 166px,#7f1 172px,#6ea 194px,#5a7 218px,#528 230px,#4c9 242px,#45a 260px,#411 276px,#3ee 292px,#400 308px,#43f 324px,#50b 356px,#57b 380px,#5b7 406px,#5b5 432px,#570 462px,#4eb 494px,#41b 532px,#290 596px)"></i>
<i style="background:linear-gradient(#afc 0px,#b09 16px,#b01 48px,#b67 76px,#b82 90px,#b70 106px,#b34 120px,#adc 130px,#a59 140px,#9a2 150px,#858 166px,#7f3 172px,#6eb 194px,#58f 220px,#527 230px,#4ba 244px,#44f 262px,#411 276px,#3ee 292px,#3fe 306px,#446 324px,#515 356px,#584 380px,#5c0 406px,#5bc 432px,#576 462px,#4ee 494px,#427 530px,#28d 596px)"></i>
<i style="background:linear-gradient(#b10 0px,#b1c 16px,#b10 48px,#b74 76px,#b8d 90px,#b77 106px,#b37 120px,#ade 130px,#a5b 140px,#9a6 150px,#85b 166px,#7f5 172px,#6d1 196px,#58e 220px,#515 232px,#4b9 244px,#44e 262px,#411 276px,#3ef 292px,#401 306px,#443 322px,#51f 356px,#587 378px,#5c6 404px,#5c6 430px,#582 460px,#4fb 492px,#427 530px,#289 596px)"></i>
<i style="background:linear-gradient(#b24 0px,#b30 16px,#b20 48px,#b81 76px,#b98 90px,#b7e 106px,#b39 120px,#adf 130px,#a5d 140px,#9a9 150px,#85e 166px,#7da 174px,#6d1 196px,#5a6 218px,#526 230px,#4c7 242px,#463 258px,#418 274px,#3f1 290px,#3ff 304px,#44b 322px,#51e 354px,#591 378px,#5d0 404px,#5ce 430px,#587 460px,#4fe 492px,#433 528px,#286 596px)"></i>
<i style="background:linear-gradient(#b38 0px,#b44 16px,#b31 48px,#b8f 76px,#ba2 88px,#b91 102px,#b48 118px,#af4 128px,#a7b 138px,#9d2 148px,#889 164px,#7fb 172px,#6d0 196px,#58e 220px,#526 230px,#4c6 242px,#463 258px,#417 274px,#3f1 290px,#402 304px,#449 320px,#528 354px,#59b 378px,#5d9 404px,#5d5 430px,#58c 460px,#501 492px,#434 528px,#283 596px)"></i>
<i style="background:linear-gradient(#b4d 0px,#b59 16px,#b3f 46px,#b9c 76px,#bae 88px,#b98 102px,#b49 118px,#af4 128px,#a7b 138px,#9d4 148px,#88d 164px,#7fe 172px,#58e 220px,#526 230px,#4c6 242px,#463 258px,#417 274px,#3f3 288px,#400 302px,#446 318px,#533 354px,#59e 376px,#5e0 402px,#5dd 430px,#592 460px,#504 492px,#434 528px,#27f 596px)"></i>
<i style="background:linear-gradient(#b62 0px,#b6f 14px,#b51 46px,#baa 76px,#bb9 88px,#b9f 102px,#b57 116px,#af2 128px,#a7a 138px,#9d7 148px,#891 164px,#801 172px,#58e 220px,#526 230px,#4c6 242px,#463 258px,#417 274px,#3f3 288px,#403 302px,#45a 320px,#549 356px,#5a9 376px,#5e9 402px,#5e7 428px,#59e 458px,#511 490px,#441 526px,#27c 596px)"></i>
<i style="background:linear-gradient(#b77 0px,#b84 14px,#b62 46px,#bb9 76px,#bc5 88px,#ba6 102px,#b59 116px,#af0 128px,#a5d 140px,#9d9 148px,#86e 166px,#7e5 174px,#58d 220px,#525 230px,#4c5 242px,#462 258px,#417 274px,#3f4 288px,#3ff 300px,#43e 314px,#53d 352px,#5ac 374px,#5f0 400px,#5ef 428px,#5a4 458px,#514 490px,#441 526px,#278 596px)"></i>
<i style="background:linear-gradient(#b8d 0px,#b9a 14px,#b74 46px,#bc7 76px,#bd1 86px,#bb5 100px,#b68 114px,#aee 128px,#a5d 140px,#9db 148px,#872 166px,#7e8 174px,#58d 220px,#525 230px,#4c5 242px,#462 258px,#416 274px,#3f3 290px,#410 304px,#45e 318px,#554 354px,#5d3 382px,#5fe 404px,#5f7 428px,#5aa 458px,#517 490px,#441 526px,#274 596px)"></i>
<i style="background:linear-gradient(#ba2 0px,#bb0 14px,#b86 46px,#bd5 76px,#bde 86px,#bc4 98px,#b78 112px,#b00 126px,#a5c 140px,#9b8 150px,#876 166px,#7ea 174px,#58d 220px,#525 230px,#4c5 242px,#41e 272px,#3f4 288px,#404 300px,#44c 314px,#548 350px,#5b9 372px,#601 398px,#602 426px,#5b6 456px,#524 488px,#44e 524px,#271 596px)"></i>
<i style="background:linear-gradient(#bb8 0px,#bc6 14px,#b98 46px,#be0 74px,#beb 84px,#bd4 96px,#b89 110px,#b11 124px,#a5c 140px,#9bb 150px,#879 166px,#7ed 174px,#58d 220px,#525 230px,#4c5 242px,#41e 272px,#3f6 286px,#400 298px,#446 312px,#553 350px,#5c4 372px,#60b 398px,#60a 426px,#5bc 456px,#527 488px,#44e 524px,#26d 596px)"></i>
<i style="background:linear-gradient(#bcd 0px,#bdc 14px,#baa 46px,#bef 74px,#bf8 84px,#bdd 96px,#b9a 108px,#b0f 124px,#a40 142px,#9be 150px,#87c 166px,#7ef 174px,#58d 220px,#525 230px,#4c5 242px,#41e 272px,#3f6 286px,#401 298px,#43f 310px,#552 348px,#5cf 372px,#614 398px,#612 426px,#5c2 456px,#52a 488px,#45b 522px,#269 596px)"></i>
<i style="background:linear-gradient(#be2 0px,#bf4 12px,#bbc 46px,#bfe 74px,#c05 84px,#be6 96px,#b9f 108px,#b21 122px,#a40 142px,#9c1 150px,#880 166px,#7f1 174px,#58d 220px,#525 230px,#4c5 242px,#41e 272px,#3f6 286px,#403 298px,#445 310px,#551 346px,#5d2 370px,#61c 396px,#61c 424px,#5cf 454px,#538 486px,#45b 522px,#265 596px)"></i>
<i style="background:linear-gradient(#bf7 0px,#c0a 12px,#bce 46px,#c14 82px,#bf8 94px,#bb3 106px,#b35 120px,#a41 142px,#99f 152px,#85c 168px,#7f2 174px,#58d 220px,#525 230px,#4c5 242px,#41e 272px,#3f4 288px,#40d 300px,#44b 310px,#55d 346px,#5b8 362px,#5fb 378px,#62a 400px,#625 424px,#5d5 454px,#53b 486px,#469 520px,#261 596px)"></i>
<i style="background:linear-gradient(#c0b 0px,#c1f 12px,#be1 46px,#c22 82px,#c0b 92px,#bc7 104px,#b4a 118px,#a27 144px,#9a2 152px,#85e 168px,#7f4 174px,#58d 220px,#525 230px,#4c6 242px,#41d 272px,#3f4 288px,#40f 300px,#450 310px,#55b 344px,#5ba 360px,#5ff 376px,#634 400px,#62d 424px,#5da 454px,#53e 486px,#469 520px,#25d 596px)"></i>
<i style="background:linear-gradient(#c1e 0px,#c34 12px,#bf3 46px,#c30 82px,#c16 92px,#bce 104px,#b4b 118px,#a28 144px,#9a6 152px,#861 168px,#7f6 174px,#5a4 218px,#538 228px,#4d4 240px,#426 270px,#3f9 284px,#3ff 296px,#446 308px,#559 342px,#5e2 366px,#617 380px,#637 394px,#638 422px,#5e8 452px,#54d 484px,#477 518px,#259 596px)"></i>
<i style="background:linear-gradient(#c31 0px,#c48 12px,#c05 46px,#c3d 82px,#c21 92px,#be5 102px,#b77 114px,#a2a 144px,#9a9 152px,#863 168px,#7f8 174px,#5a4 218px,#538 228px,#4d4 240px,#425 270px,#3f9 284px,#400 296px,#44a 308px,#557 340px,#5ed 366px,#622 380px,#641 394px,#640 422px,#5ee 452px,#550 484px,#477 518px,#255 596px)"></i>
<i style="background:linear-gradient(#c43 0px,#c5a 6px,#c5b 12px,#c18 46px,#c4d 80px,#c35 90px,#bed 102px,#b7b 114px,#a10 146px,#986 154px,#866 168px,#7fa 174px,#5a4 218px,#538 228px,#4d4 240px,#425 270px,#3f8 284px,#401 296px,#43e 306px,#553 338px,#5f0 364px,#627 378px,#648 392px,#654 406px,#648 422px,#5f4 452px,#553 484px,#485 516px,#251 596px)"></i>
<i style="background:linear-gradient(#c53 0px,#c6b 6px,#c6d 12px,#c2b 46px,#c5b 80px,#c40 90px,#c05 100px,#b96 112px,#a11 146px,#988 154px,#7fd 174px,#5a4 218px,#538 228px,#4d4 240px,#424 270px,#3f8 284px,#402 296px,#441 306px,#55e 338px,#5fb 364px,#632 378px,#652 392px,#653 420px,#601 450px,#562 482px,#485 516px,#24c 596px)"></i>
<i style="background:linear-gradient(#c63 0px,#c7b 6px,#c7f 12px,#c3f 48px,#c68 80px,#c4c 90px,#c0e 100px,#b9c 112px,#a12 146px,#98a 154px,#801 174px,#5a4 218px,#538 228px,#4d5 240px,#424 270px,#3f8 284px,#404 296px,#444 306px,#568 338px,#5fc 362px,#636 376px,#659 390px,#666 404px,#65c 420px,#607 450px,#565 482px,#493 514px,#248 596px)"></i>
<i style="background:linear-gradient(#c72 0px,#c8f 12px,#c52 48px,#c75 80px,#c58 90px,#c18 100px,#ba2 112px,#a12 146px,#98c 154px,#871 168px,#7e5 176px,#5a4 218px,#539 228px,#4d5 240px,#423 270px,#3f6 286px,#40f 298px,#458 308px,#51c 328px,#581 340px,#5dd 354px,#62b 370px,#669 394px,#664 420px,#615 448px,#573 480px,#4a1 512px,#243 596px)"></i>
<i style="background:linear-gradient(#c7f 0px,#c9f 12px,#c66 46px,#c85 78px,#c6c 88px,#c22 100px,#baa 112px,#a13 146px,#98d 154px,#875 168px,#7e8 176px,#5a4 218px,#539 228px,#4d5 240px,#422 270px,#3f6 286px,#411 298px,#45b 308px,#536 330px,#58b 340px,#5e8 354px,#636 370px,#673 394px,#66f 418px,#61b 448px,#577 480px,#4a2 512px,#23f 596px)"></i>
<i style="background:linear-gradient(#c8d 0px,#cae 12px,#c7a 46px,#c92 78px,#c79 88px,#c3c 98px,#bc8 110px,#a14 146px,#98f 154px,#87a 168px,#7ec 176px,#5a5 218px,#539 228px,#4e4 238px,#421 270px,#3f6 286px,#412 298px,#45d 308px,#53d 330px,#594 340px,#5f3 354px,#639 368px,#67a 392px,#677 418px,#629 446px,#586 478px,#4b0 510px,#23a 596px)"></i>
<i style="background:linear-gradient(#c99 0px,#cb2 6px,#cbc 14px,#c8d 46px,#c9f 78px,#c85 88px,#c47 98px,#bd1 110px,#a15 146px,#991 154px,#7f0 176px,#5a5 218px,#539 228px,#4e4 238px,#420 270px,#3f6 286px,#414 298px,#45f 308px,#544 330px,#59d 340px,#5fe 354px,#644 368px,#684 392px,#680 418px,#62f 446px,#589 478px,#4b0 510px,#235 596px)"></i>
<i style="background:linear-gradient(#ca5 0px,#ccb 14px,#ca1 46px,#caf 76px,#c91 88px,#c52 98px,#bda 110px,#a16 146px,#993 154px,#85c 170px,#7d3 178px,#5bd 216px,#54d 226px,#4e4 238px,#41f 270px,#3f5 286px,#415 298px,#461 308px,#5a6 340px,#608 354px,#64e 368px,#68e 392px,#688 418px,#635 446px,#58c 478px,#4bf 508px,#230 596px)"></i>
<i style="background:linear-gradient(#cb0 0px,#cd9 14px,#cb4 46px,#cbc 76px,#c9d 88px,#c5d 98px,#bcb 112px,#a18 146px,#995 154px,#860 170px,#7d6 178px,#5bd 216px,#54d 226px,#4e4 238px,#41e 270px,#3f5 286px,#415 298px,#476 310px,#551 330px,#5af 340px,#606 352px,#650 366px,#695 390px,#693 416px,#644 444px,#59b 476px,#4ce 506px,#22b 596px)"></i>
<i style="background:linear-gradient(#cbb 0px,#cdc 8px,#ce7 16px,#cc7 46px,#ccc 74px,#cb1 86px,#c69 98px,#bd5 112px,#a1b 146px,#998 154px,#864 170px,#7d9 178px,#5bd 216px,#54d 226px,#4e4 238px,#41c 270px,#3f4 286px,#416 298px,#477 310px,#5b7 340px,#610 352px,#65b 366px,#69e 390px,#69b 416px,#64a 444px,#59e 476px,#4ce 506px,#227 596px)"></i>
<i style="background:linear-gradient(#cc6 0px,#ce8 8px,#cf5 16px,#cd9 46px,#cda 74px,#cbe 86px,#c74 98px,#bde 112px,#a1d 146px,#99a 154px,#7dc 178px,#5bd 216px,#54d 226px,#4e4 238px,#41b 270px,#3f3 286px,#416 298px,#478 310px,#5c0 340px,#61a 352px,#665 366px,#6a8 390px,#6a4 416px,#650 444px,#5a1 476px,#4ce 506px,#221 596px)"></i>
<i style="background:linear-gradient(#cd0 0px,#cf3 8px,#d03 18px,#ce9 72px,#cca 86px,#c80 98px,#be8 112px,#a20 146px,#99e 154px,#7df 178px,#5bd 216px,#54d 226px,#4e4 238px,#419 270px,#3f2 286px,#402 294px,#422 300px,#479 310px,#5c8 340px,#624 352px,#666 364px,#6af 388px,#6af 414px,#65e 442px,#5b1 474px,#4de 504px,#21c 596px)"></i>
<i style="background:linear-gradient(#cda 0px,#cfe 8px,#d11 18px,#cf7 72px,#cd6 86px,#c8b 98px,#bf2 112px,#a24 146px,#9a1 154px,#7e2 178px,#660 204px,#5bd 216px,#54d 226px,#4e4 238px,#418 270px,#3fa 278px,#3f0 286px,#402 294px,#422 300px,#479 310px,#5cf 340px,#62d 352px,#670 364px,#6b8 388px,#6b7 414px,#664 442px,#5b4 474px,#4ed 502px,#217 596px)"></i>
<i style="background:linear-gradient(#ce3 0px,#d10 10px,#d1f 20px,#d06 70px,#ce1 86px,#c97 98px,#bfd 112px,#a28 146px,#9a5 154px,#7e4 178px,#5d6 214px,#561 224px,#4f4 236px,#416 270px,#3f8 278px,#3ef 286px,#401 294px,#421 300px,#48f 312px,#56c 330px,#5d7 340px,#636 352px,#679 364px,#6c1 388px,#6bf 414px,#66a 442px,#5b7 474px,#4ed 502px,#212 596px)"></i>
<i style="background:linear-gradient(#ced 0px,#d1b 10px,#d2d 20px,#d17 66px,#cf5 84px,#ca2 98px,#c07 112px,#a2c 146px,#985 156px,#7e7 178px,#5d6 214px,#561 224px,#4f3 236px,#414 270px,#3f6 278px,#3ed 286px,#3ff 294px,#420 300px,#490 312px,#589 332px,#5de 340px,#63e 352px,#683 364px,#6cb 388px,#6c7 414px,#670 442px,#5c7 472px,#4fd 500px,#20c 596px)"></i>
<i style="background:linear-gradient(#cf6 0px,#d26 10px,#d3a 20px,#d27 64px,#d00 84px,#cad 98px,#c11 112px,#a31 146px,#989 156px,#7e9 178px,#5d5 214px,#561 224px,#4f3 236px,#412 270px,#3f3 278px,#3eb 286px,#3fe 294px,#41f 300px,#48f 312px,#58e 332px,#5e5 340px,#647 352px,#68c 364px,#6d4 388px,#6cf 414px,#675 442px,#5ca 472px,#4fd 500px,#207 596px)"></i>
<i style="background:linear-gradient(#cff 0px,#d30 10px,#d47 20px,#d3b 58px,#d13 82px,#cb8 98px,#c1c 112px,#a35 146px,#98d 156px,#7ec 178px,#5d5 214px,#560 224px,#4f3 236px,#407 272px,#3e9 286px,#3f4 292px,#41e 300px,#48f 312px,#593 332px,#5eb 340px,#640 350px,#68a 362px,#6d9 386px,#6e4 398px,#6da 412px,#684 440px,#5da 470px,#50d 498px,#201 596px)"></i>
<i style="background:linear-gradient(#d07 0px,#d3b 10px,#d54 20px,#d52 48px,#d2a 78px,#d04 88px,#cc3 98px,#c26 112px,#a3a 146px,#992 156px,#7ee 178px,#5d5 214px,#560 224px,#4f2 236px,#404 272px,#3e6 286px,#3f2 292px,#41c 300px,#48f 312px,#5dd 338px,#648 350px,#693 362px,#6c5 374px,#6e2 386px,#6ec 398px,#6e2 412px,#6c0 426px,#68a 440px,#5dd 470px,#51d 496px,#1fc 596px)"></i>
<i style="background:linear-gradient(#d10 0px,#d45 10px,#d61 20px,#d63 46px,#d35 78px,#d0e 88px,#cce 98px,#c30 112px,#a40 146px,#996 156px,#7f1 178px,#5d4 214px,#560 224px,#4f2 236px,#402 272px,#3e4 286px,#3f0 292px,#41a 300px,#48e 312px,#5e3 338px,#64f 350px,#69b 362px,#6cd 374px,#6eb 386px,#6f5 398px,#6e9 412px,#6c7 426px,#690 440px,#5e0 470px,#51d 496px,#30e 560px,#1f6 596px)"></i>
<i style="background:linear-gradient(#d18 0px,#d50 10px,#d6d 20px,#d73 46px,#d40 78px,#d18 88px,#cd7 98px,#c3a 112px,#a45 146px,#99b 156px,#7f4 178px,#5d4 214px,#55f 224px,#4f1 236px,#3ff 272px,#3e1 286px,#3ed 292px,#418 300px,#48d 312px,#5e7 338px,#655 350px,#6a3 362px,#6d6 374px,#6f3 386px,#6fd 398px,#6f1 412px,#6ce 426px,#695 440px,#5e3 470px,#52d 494px,#309 560px,#1f0 596px)"></i>
<i style="background:linear-gradient(#d21 0px,#d5a 10px,#d7a 20px,#d83 46px,#d4a 78px,#d16 90px,#ce0 98px,#c44 112px,#a4a 146px,#99f 156px,#7f7 178px,#5d4 214px,#55f 224px,#4f0 236px,#3fd 272px,#3de 286px,#3ea 292px,#416 300px,#48d 312px,#5ec 338px,#64b 348px,#69f 360px,#6d7 372px,#6f8 384px,#705 396px,#6fc 410px,#6db 424px,#6a4 438px,#5f3 468px,#53d 492px,#305 560px,#1ea 596px)"></i>
<i style="background:linear-gradient(#d29 0px,#d64 10px,#d86 20px,#d92 46px,#d5b 76px,#d2a 88px,#ce8 98px,#c4d 112px,#a4f 146px,#9a2 156px,#7fa 178px,#5d4 214px,#55f 224px,#4f0 236px,#3fa 272px,#3db 286px,#3e8 292px,#414 300px,#48c 312px,#5ef 338px,#651 348px,#6a6 360px,#6df 372px,#700 384px,#70d 396px,#703 410px,#6e1 424px,#6aa 438px,#5f6 468px,#53e 492px,#310 558px,#1e4 596px)"></i>
<i style="background:linear-gradient(#d31 0px,#d6e 10px,#d92 20px,#da1 46px,#d65 76px,#d32 88px,#cf0 98px,#ca1 106px,#c3b 114px,#a53 146px,#9a6 156px,#7fd 178px,#664 204px,#5d5 214px,#55e 224px,#4ef 236px,#3f8 272px,#3d8 286px,#3e5 292px,#412 300px,#48c 312px,#5a7 332px,#609 340px,#667 350px,#6ad 360px,#6e6 372px,#708 384px,#714 396px,#70a 410px,#6b8 436px,#607 466px,#54e 490px,#30c 558px,#1de 596px)"></i>
<i style="background:linear-gradient(#d39 0px,#d78 10px,#d9e 20px,#db2 34px,#daf 48px,#d93 64px,#d67 78px,#d2e 90px,#ce6 100px,#c44 114px,#a78 144px,#9aa 156px,#801 178px,#664 204px,#5d5 214px,#55e 224px,#4ee 236px,#3f5 272px,#3d5 286px,#3e2 292px,#410 300px,#48b 312px,#60c 340px,#66c 350px,#6bf 362px,#6f5 374px,#713 386px,#712 410px,#6be 436px,#609 466px,#54e 490px,#307 558px,#1d8 596px)"></i>
<i style="background:linear-gradient(#d41 0px,#d82 10px,#da9 20px,#dbe 32px,#dbf 46px,#da9 60px,#d78 76px,#d35 90px,#ced 100px,#c9b 108px,#c31 116px,#a7e 144px,#9d2 154px,#7e2 180px,#5d5 214px,#55e 224px,#4ed 236px,#3f2 272px,#3d1 286px,#3de 292px,#40d 300px,#48b 312px,#60f 340px,#671 350px,#6c5 362px,#6fc 374px,#71a 386px,#719 410px,#6c3 436px,#60c 466px,#53e 492px,#2e1 562px,#1d1 596px)"></i>
<i style="background:linear-gradient(#d49 0px,#d8c 10px,#db5 20px,#dcb 32px,#dcd 46px,#db6 60px,#d82 76px,#d3c 90px,#cf4 100px,#ca3 108px,#c3b 116px,#aa3 142px,#9d6 154px,#7e5 180px,#666 204px,#5d5 214px,#55e 224px,#4ec 236px,#3f0 272px,#3ce 286px,#3db 292px,#40b 300px,#48a 312px,#612 340px,#676 350px,#6cb 362px,#703 374px,#722 386px,#720 410px,#6c9 436px,#60e 466px,#53d 492px,#2ec 560px,#1cb 596px)"></i>
<i style="background:linear-gradient(#d50 0px,#d96 10px,#dc0 20px,#dd8 32px,#ddc 46px,#dc3 60px,#d93 74px,#d4e 88px,#cfb 100px,#c7a 112px,#b8b 128px,#9fe 152px,#7e8 180px,#667 204px,#5d5 214px,#55e 224px,#4ec 236px,#437 260px,#3ed 272px,#3ca 286px,#3d7 292px,#408 300px,#489 312px,#615 340px,#67a 350px,#6d1 362px,#709 374px,#729 386px,#732 398px,#726 410px,#6ce 436px,#61f 464px,#54e 490px,#2e7 560px,#1c4 596px)"></i>
<i style="background:linear-gradient(#d58 0px,#d9f 10px,#dcc 20px,#de7 34px,#de8 48px,#dc9 62px,#d94 76px,#d3c 92px,#cf0 102px,#c69 114px,#b74 130px,#a03 152px,#7ec 180px,#668 204px,#5d6 214px,#55d 224px,#4eb 236px,#443 258px,#3ea 272px,#3c7 286px,#3d4 292px,#405 300px,#488 312px,#5c9 334px,#62e 342px,#68f 352px,#6d6 362px,#710 374px,#730 386px,#739 398px,#72d 410px,#70e 422px,#6d3 436px,#622 464px,#54e 490px,#2f2 558px,#1be 596px)"></i>
<i style="background:linear-gradient(#d5f 0px,#da9 10px,#dd7 20px,#df4 34px,#df6 48px,#ddc 60px,#d9d 76px,#d42 92px,#cf7 102px,#c72 114px,#b9e 128px,#a07 152px,#7ef 180px,#669 204px,#5d6 214px,#55d 224px,#4ea 236px,#441 258px,#3e8 272px,#3c4 286px,#3d1 292px,#403 300px,#487 312px,#5ca 334px,#631 342px,#693 352px,#6db 362px,#716 374px,#737 386px,#740 398px,#734 410px,#714 422px,#6d8 436px,#624 464px,#54d 490px,#2ed 558px,#1b7 596px)"></i>
<i style="background:linear-gradient(#d66 0px,#db2 10px,#de2 20px,#e01 34px,#e04 48px,#de8 60px,#daf 74px,#d54 90px,#cfe 102px,#c7b 114px,#ba7 128px,#a0b 152px,#7f2 180px,#66a 204px,#5d6 214px,#55d 224px,#4e9 236px,#43f 258px,#3e6 272px,#3c7 280px,#3c2 288px,#3d6 294px,#400 300px,#486 312px,#633 342px,#697 352px,#6e0 362px,#714 372px,#739 384px,#747 396px,#73e 408px,#720 420px,#6e7 434px,#635 462px,#55e 488px,#2e7 558px,#1b0 596px)"></i>
<i style="background:linear-gradient(#d6d 0px,#dbb 10px,#ded 20px,#e0d 34px,#e11 48px,#df4 60px,#db9 74px,#d4e 92px,#cf3 104px,#c84 114px,#bb0 128px,#a0f 152px,#7f5 180px,#66b 204px,#5d6 214px,#55d 224px,#4e8 236px,#43d 258px,#3e4 272px,#3c4 280px,#3bf 288px,#3d3 294px,#3fd 300px,#486 312px,#636 342px,#69b 352px,#6e5 362px,#71a 372px,#740 384px,#74d 396px,#744 408px,#726 420px,#6ec 434px,#637 462px,#55e 488px,#2f3 556px,#1aa 596px)"></i>
<i style="background:linear-gradient(#d74 0px,#dc5 10px,#df7 20px,#e19 34px,#e1f 48px,#e00 60px,#dc2 74px,#cfb 104px,#c8c 114px,#bb9 128px,#9ee 154px,#7f8 180px,#5f2 212px,#55d 224px,#4e7 236px,#43c 258px,#3e2 272px,#3c2 280px,#3bc 288px,#3d0 294px,#3fb 300px,#485 312px,#638 342px,#69e 352px,#6e9 362px,#71f 372px,#746 384px,#753 396px,#74a 408px,#72c 420px,#6f1 434px,#639 462px,#56f 486px,#2ed 556px,#1a3 596px)"></i>
<i style="background:linear-gradient(#d7a 0px,#dce 10px,#e02 20px,#e25 34px,#e2c 48px,#e0c 60px,#dcc 74px,#d02 104px,#c95 114px,#bc1 128px,#9f2 154px,#81e 178px,#5f2 212px,#55c 224px,#4e6 236px,#43a 258px,#3e0 272px,#3c0 280px,#3b9 288px,#3cc 294px,#3f9 300px,#49f 314px,#63a 342px,#6a1 352px,#6ee 362px,#725 372px,#74c 384px,#75a 396px,#750 408px,#6ff 432px,#64b 460px,#56e 486px,#2f9 554px,#19c 596px)"></i>
<i style="background:linear-gradient(#d81 0px,#dd6 10px,#e0d 20px,#e34 36px,#e39 48px,#e17 60px,#dd6 74px,#cf8 106px,#c82 116px,#ba7 130px,#9d0 156px,#821 178px,#5f2 212px,#573 222px,#4e6 236px,#439 258px,#3df 272px,#3be 280px,#3b6 288px,#3ca 294px,#3f7 300px,#49e 314px,#63c 342px,#6a4 352px,#6f2 362px,#72a 372px,#752 384px,#760 396px,#756 408px,#704 432px,#64d 460px,#580 484px,#2f3 554px,#194 596px)"></i>
<i style="background:linear-gradient(#d87 0px,#ddf 10px,#e17 20px,#e40 36px,#e45 48px,#e23 60px,#de0 74px,#d00 106px,#c8a 116px,#bd0 128px,#9d4 156px,#824 178px,#5f2 212px,#573 222px,#4e5 236px,#438 258px,#3de 272px,#3b4 286px,#3be 292px,#3e3 298px,#482 312px,#63d 342px,#6a6 352px,#703 364px,#737 374px,#75c 386px,#75c 408px,#709 432px,#64f 460px,#57f 484px,#2ff 552px,#18d 596px)"></i>
<i style="background:linear-gradient(#d8c 0px,#de7 10px,#e22 20px,#e4c 36px,#e52 48px,#e2e 60px,#dea 74px,#d07 106px,#c92 116px,#bd8 128px,#9b2 158px,#827 178px,#5f3 212px,#573 222px,#4e4 236px,#445 256px,#3dd 272px,#3b3 286px,#3bc 292px,#3e2 298px,#481 312px,#63e 342px,#6a9 352px,#707 364px,#73c 374px,#761 386px,#762 408px,#742 420px,#70d 432px,#651 460px,#57e 484px,#2f9 552px,#186 596px)"></i>
<i style="background:linear-gradient(#d92 0px,#df0 10px,#e2c 20px,#e58 36px,#e5d 48px,#e3a 60px,#df4 74px,#d0f 106px,#c99 116px,#bde 128px,#9b6 158px,#82a 178px,#5f4 212px,#573 222px,#4e4 236px,#444 256px,#3dc 272px,#3bc 280px,#3b2 288px,#3c5 294px,#3f2 300px,#49c 314px,#63f 342px,#6ab 352px,#70b 364px,#741 374px,#767 386px,#767 408px,#747 420px,#712 432px,#662 458px,#590 482px,#2f3 552px,#17e 596px)"></i>
<i style="background:linear-gradient(#d97 0px,#df7 10px,#e3f 22px,#e64 36px,#e69 48px,#e45 60px,#dff 74px,#d16 106px,#ca0 116px,#be4 128px,#9b9 158px,#82e 178px,#5f5 212px,#55c 224px,#4e3 236px,#444 256px,#3dc 272px,#3bc 280px,#3b3 288px,#3c5 294px,#3f2 300px,#49b 314px,#63f 342px,#6ad 352px,#70e 364px,#746 374px,#76c 386px,#777 396px,#76d 408px,#74c 420px,#716 432px,#664 458px,#58e 482px,#2ff 550px,#177 596px)"></i>
<i style="background:linear-gradient(#d9b 0px,#dff 10px,#e4a 22px,#e70 36px,#e73 48px,#e59 58px,#e17 72px,#d30 104px,#cc2 114px,#bea 128px,#9bc 158px,#832 178px,#655 206px,#5da 214px,#546 226px,#4d1 238px,#435 258px,#3dd 272px,#3bc 280px,#3b3 288px,#3c5 294px,#3f2 300px,#49a 314px,#63f 342px,#6af 352px,#712 364px,#74a 374px,#771 386px,#77c 396px,#772 408px,#751 420px,#71a 432px,#665 458px,#5a0 480px,#2f8 550px,#16f 596px)"></i>
<i style="background:linear-gradient(#da0 0px,#e06 10px,#e4b 20px,#e75 32px,#e80 46px,#e64 58px,#e22 72px,#d37 104px,#cc8 114px,#c11 126px,#9c0 158px,#811 180px,#5db 214px,#546 226px,#4d0 238px,#442 256px,#3dd 272px,#3bd 280px,#3b4 288px,#3c6 294px,#3f2 300px,#499 314px,#63f 342px,#6b0 352px,#715 364px,#74f 374px,#776 386px,#782 396px,#778 408px,#729 430px,#677 456px,#5b2 478px,#2f1 550px,#167 596px)"></i>
<i style="background:linear-gradient(#da4 0px,#e1f 12px,#e60 22px,#e84 34px,#e8b 46px,#e6f 58px,#e2e 72px,#d3f 104px,#cce 114px,#c17 126px,#9c3 158px,#815 180px,#679 204px,#5dd 214px,#546 226px,#4d0 238px,#451 254px,#3e8 270px,#3b6 284px,#3b9 290px,#3d3 296px,#448 308px,#4d2 318px,#624 340px,#687 348px,#6e9 358px,#73e 370px,#771 382px,#786 394px,#77d 408px,#72d 430px,#679 456px,#5b1 478px,#2fd 548px,#160 596px)"></i>
<i style="background:linear-gradient(#da7 0px,#e27 12px,#e6b 22px,#e90 34px,#e95 46px,#e7b 58px,#e3b 72px,#d5a 102px,#cd4 114px,#c1c 126px,#9c6 158px,#819 180px,#67b 204px,#5de 214px,#546 226px,#4cf 238px,#450 254px,#3e9 270px,#3b8 284px,#3bb 290px,#3d4 296px,#447 308px,#63e 342px,#69d 350px,#6fd 360px,#742 370px,#776 382px,#78b 394px,#782 408px,#731 430px,#67a 456px,#5b0 478px,#2f7 548px,#158 596px)"></i>
<i style="background:linear-gradient(#dab 0px,#e1c 10px,#e6b 20px,#e99 32px,#ea2 44px,#e8c 56px,#e52 70px,#e06 82px,#d75 100px,#cf4 112px,#c21 126px,#81c 180px,#67e 204px,#5e0 214px,#547 226px,#4cf 238px,#450 254px,#3ea 270px,#3b8 286px,#3c2 292px,#3e2 298px,#418 304px,#47a 312px,#657 344px,#6ff 360px,#746 370px,#77a 382px,#790 394px,#787 408px,#735 430px,#67b 456px,#5ae 478px,#303 546px,#150 596px)"></i>
<i style="background:linear-gradient(#dae 0px,#e23 10px,#e75 20px,#ea4 32px,#eac 44px,#e97 56px,#e5f 70px,#e04 84px,#d7e 100px,#cfa 112px,#c48 124px,#9cc 158px,#820 180px,#680 204px,#5e1 214px,#547 226px,#4cf 238px,#450 254px,#3ec 270px,#3ba 286px,#3c4 292px,#3e3 298px,#418 304px,#479 312px,#656 344px,#701 360px,#749 370px,#77e 382px,#794 394px,#78b 408px,#738 430px,#68d 454px,#5c1 476px,#2fc 546px,#148 596px)"></i>
<i style="background:linear-gradient(#db1 0px,#e2a 10px,#e80 20px,#eac 30px,#eb8 42px,#ea3 56px,#e6c 70px,#e21 82px,#d9b 98px,#d00 112px,#c4d 124px,#7ff 182px,#5e3 214px,#55f 224px,#4e1 236px,#45f 252px,#3f8 268px,#3bd 284px,#3c5 292px,#3e4 298px,#417 304px,#477 312px,#5e5 336px,#66f 346px,#714 362px,#758 372px,#788 384px,#79a 396px,#78c 410px,#73c 430px,#68f 454px,#5bf 476px,#2f4 546px,#13f 596px)"></i>
<i style="background:linear-gradient(#db4 0px,#e31 10px,#e8a 20px,#eb8 30px,#ec4 40px,#eb3 54px,#e84 68px,#e2e 82px,#db8 96px,#d20 110px,#c52 124px,#803 182px,#5e5 214px,#560 224px,#4e2 236px,#460 252px,#3f9 268px,#3bf 284px,#3c6 292px,#3e4 298px,#416 304px,#476 312px,#66e 346px,#717 362px,#75b 372px,#78c 384px,#79e 396px,#790 410px,#73f 430px,#68f 454px,#5d2 474px,#300 544px,#211 570px,#137 596px)"></i>
<i style="background:linear-gradient(#db7 0px,#e37 10px,#e95 20px,#ebd 28px,#ecf 38px,#ebe 54px,#e91 68px,#e4b 80px,#dd7 94px,#d27 110px,#c57 124px,#806 182px,#665 206px,#5ca 216px,#549 226px,#4d0 238px,#452 254px,#3fb 268px,#3c1 284px,#3c7 292px,#3e4 298px,#45a 310px,#653 344px,#6cc 354px,#719 362px,#75e 372px,#790 384px,#7a3 396px,#795 410px,#743 430px,#690 454px,#5d0 474px,#2f9 544px,#208 570px,#12f 596px)"></i>
<i style="background:linear-gradient(#db9 0px,#e3d 10px,#e8f 18px,#ec2 26px,#ed9 36px,#ece 52px,#ea8 66px,#e67 78px,#df6 92px,#d48 108px,#c5c 124px,#809 182px,#5e9 214px,#562 224px,#4e3 236px,#470 250px,#407 266px,#3c3 284px,#3c8 292px,#3e4 298px,#458 310px,#651 344px,#6cd 354px,#71b 362px,#762 372px,#794 384px,#7a7 396px,#799 410px,#746 430px,#6a3 452px,#5e2 472px,#2f1 544px,#200 570px,#126 596px)"></i>
<i style="background:linear-gradient(#dbb 0px,#e44 10px,#e99 18px,#ecd 26px,#ee3 34px,#edc 50px,#eb5 66px,#e76 78px,#e16 90px,#d4f 108px,#c62 124px,#80d 182px,#66b 206px,#5cd 216px,#54b 226px,#4d1 238px,#462 252px,#409 266px,#3c5 284px,#3c9 292px,#3e4 298px,#456 310px,#650 344px,#6cd 354px,#71d 362px,#765 372px,#798 384px,#7ab 396px,#79d 410px,#749 430px,#6a3 452px,#5e1 472px,#2fd 542px,#20a 568px,#11d 596px)"></i>
<i style="background:linear-gradient(#dbd 0px,#e4a 10px,#ea3 18px,#ed9 26px,#eef 34px,#eed 46px,#ecb 64px,#e92 76px,#e36 88px,#d8a 104px,#c88 122px,#999 162px,#810 182px,#66d 206px,#5cf 216px,#54c 226px,#4d2 238px,#463 252px,#40b 266px,#3c6 284px,#3c9 292px,#3e3 298px,#412 304px,#46d 312px,#64e 344px,#6ce 354px,#71f 362px,#768 372px,#79c 384px,#7af 396px,#7a1 410px,#74c 430px,#6a4 452px,#5de 472px,#2f5 542px,#201 568px,#115 596px)"></i>
<i style="background:linear-gradient(#dbe 0px,#e50 10px,#ead 18px,#ee5 26px,#efc 34px,#eef 54px,#ed2 66px,#e95 78px,#e44 88px,#d78 106px,#c6c 124px,#ae5 144px,#978 164px,#814 182px,#671 206px,#5d2 216px,#54e 226px,#4d4 238px,#464 252px,#40c 266px,#3c7 284px,#3ca 292px,#3e2 298px,#410 304px,#46a 312px,#64c 344px,#6ce 354px,#720 362px,#76a 372px,#79f 384px,#7b3 396px,#7a6 410px,#74f 430px,#6a4 452px,#5f1 470px,#301 540px,#1f9 568px,#10c 596px)"></i>
<i style="background:linear-gradient(#dbf 0px,#e55 10px,#eb7 18px,#ee6 24px,#f05 32px,#f09 42px,#ee8 64px,#eb1 76px,#e65 86px,#d9b 104px,#c71 124px,#ae8 144px,#97d 164px,#83d 180px,#674 206px,#5d4 216px,#54f 226px,#4e7 236px,#474 250px,#40d 266px,#3c6 286px,#3cf 294px,#3ee 300px,#467 312px,#666 346px,#6e5 356px,#733 364px,#779 374px,#7a9 386px,#7b8 398px,#7aa 410px,#752 430px,#6b7 450px,#5ef 470px,#2f9 540px,#1f0 568px,#103 596px)"></i>
<i style="background:linear-gradient(#dc0 0px,#e5b 10px,#ec0 18px,#ef1 24px,#f11 32px,#f16 42px,#ef7 64px,#ec2 76px,#e75 86px,#da4 104px,#c76 124px,#aed 144px,#982 164px,#81c 182px,#677 206px,#5d7 216px,#551 226px,#4e9 236px,#476 250px,#40f 266px,#3c6 286px,#3cf 294px,#3ec 300px,#463 312px,#665 346px,#6e5 356px,#735 364px,#77b 374px,#7ac 386px,#7bc 398px,#7ad 410px,#755 430px,#6b7 450px,#602 468px,#402 514px,#2f1 540px,#1e7 568px,#0fa 596px)"></i>
<i style="background:linear-gradient(#dc1 0px,#e60 10px,#ec9 18px,#efc 24px,#f1e 32px,#f23 42px,#f06 64px,#ed2 76px,#e84 86px,#dc8 102px,#c7b 124px,#af2 144px,#987 164px,#821 182px,#67b 206px,#5da 216px,#554 226px,#4eb 236px,#478 250px,#410 266px,#3c6 286px,#3ce 294px,#3ea 300px,#45f 312px,#67f 348px,#6e5 356px,#736 364px,#77e 374px,#7b0 386px,#7c0 398px,#7b1 410px,#757 430px,#6b7 450px,#600 468px,#2fd 538px,#1f0 566px,#0f1 596px)"></i>
<i style="background:linear-gradient(#dc2 0px,#e65 10px,#ed1 18px,#f07 24px,#f2a 32px,#f30 42px,#f16 64px,#eee 74px,#ea6 84px,#dee 100px,#ca1 122px,#af8 144px,#98b 164px,#826 182px,#67f 206px,#5dd 216px,#556 226px,#4ed 236px,#479 250px,#411 266px,#3c6 286px,#3cd 294px,#3e8 300px,#45b 312px,#67e 348px,#6e5 356px,#738 364px,#781 374px,#7b3 386px,#7c3 398px,#7b5 410px,#767 428px,#6ca 448px,#613 466px,#40a 512px,#2f4 538px,#1e7 566px,#0e8 596px)"></i>
<i style="background:linear-gradient(#dc2 0px,#e6a 10px,#eda 18px,#f12 24px,#f37 32px,#f3e 42px,#f26 64px,#eff 74px,#eb7 84px,#df8 100px,#c83 124px,#afe 144px,#990 164px,#82b 182px,#683 206px,#5e1 216px,#559 226px,#4ef 236px,#47b 250px,#412 266px,#3c6 286px,#3cc 294px,#3e6 300px,#415 306px,#472 314px,#67c 348px,#6e5 356px,#739 364px,#784 374px,#7b6 386px,#7c7 398px,#7b9 410px,#769 428px,#6ca 448px,#610 466px,#403 512px,#2ec 538px,#1de 566px,#0df 596px)"></i>
<i style="background:linear-gradient(#dc2 0px,#e6f 10px,#ee3 18px,#f1d 24px,#f44 32px,#f4c 42px,#f36 64px,#f11 74px,#ec7 84px,#e02 100px,#c87 124px,#995 164px,#80b 184px,#5e4 216px,#55c 226px,#4df 238px,#46f 252px,#408 268px,#3d3 280px,#3c3 288px,#3d0 296px,#3f1 302px,#46d 314px,#67a 348px,#6e5 356px,#73a 364px,#786 374px,#7ba 386px,#7cb 398px,#7bd 410px,#76c 428px,#6ca 448px,#60e 466px,#411 510px,#2f8 536px,#1d5 566px,#0d5 596px)"></i>
<i style="background:linear-gradient(#dc1 0px,#e94 12px,#eeb 18px,#f29 24px,#f52 32px,#f5a 42px,#f47 64px,#f22 74px,#ed8 84px,#e2a 98px,#c8c 124px,#999 164px,#80f 184px,#5e8 216px,#55f 226px,#4e1 238px,#471 252px,#408 268px,#3d2 280px,#3c2 288px,#3cf 296px,#3ee 302px,#467 314px,#695 350px,#6fd 358px,#74e 366px,#794 376px,#7bd 386px,#7ce 398px,#7c0 410px,#76e 428px,#6dd 446px,#621 464px,#40a 510px,#2ef 536px,#1cb 566px,#0cc 596px)"></i>
<i style="background:linear-gradient(#dc1 0px,#e9a 12px,#ef4 18px,#f34 24px,#f58 30px,#f69 40px,#f5b 62px,#f3e 72px,#efb 82px,#e53 96px,#c90 124px,#99e 164px,#814 184px,#5eb 216px,#562 226px,#4f6 236px,#482 250px,#409 268px,#3d1 280px,#3c1 288px,#3cd 296px,#3ea 302px,#462 314px,#694 350px,#6fd 358px,#750 366px,#797 376px,#7c0 386px,#7d2 398px,#7c4 410px,#770 428px,#6dd 446px,#61e 464px,#402 510px,#2e5 536px,#1c2 566px,#0c2 596px)"></i>
<i style="background:linear-gradient(#dc0 0px,#e9f 12px,#efe 18px,#f40 24px,#f65 30px,#f78 40px,#f6c 62px,#f4f 72px,#f0c 82px,#ecc 88px,#e5e 96px,#c94 124px,#9a3 164px,#818 184px,#5ef 216px,#565 226px,#4e6 238px,#467 254px,#3fe 270px,#3d1 280px,#3c0 288px,#3ca 296px,#3e7 302px,#418 308px,#478 316px,#693 350px,#6fd 358px,#751 366px,#79a 376px,#7c4 386px,#7d6 398px,#7c7 410px,#773 428px,#6dc 446px,#632 462px,#411 508px,#2f1 534px,#1ca 564px,#0b9 596px)"></i>
<i style="background:linear-gradient(#dbf 0px,#ea4 12px,#f07 18px,#f4b 24px,#f72 30px,#f87 40px,#f7e 62px,#f61 72px,#f1d 82px,#edb 88px,#e6a 96px,#c75 126px,#9a7 164px,#81c 184px,#5f3 216px,#568 226px,#4e8 238px,#469 254px,#3fe 270px,#3d0 280px,#3bf 288px,#3c8 296px,#3f2 304px,#427 310px,#472 316px,#691 350px,#6fe 358px,#753 366px,#79d 376px,#7c7 386px,#7d9 398px,#7cb 410px,#782 426px,#6ef 444px,#62f 462px,#408 508px,#2e8 534px,#1c0 564px,#0af 596px)"></i>
<i style="background:linear-gradient(#dbe 0px,#f10 18px,#f57 24px,#f80 30px,#f96 40px,#f8f 62px,#f73 72px,#f2e 82px,#eea 88px,#e75 96px,#c79 126px,#986 166px,#820 184px,#5f6 216px,#56b 226px,#4eb 238px,#3fe 270px,#3cf 280px,#3bd 288px,#3c6 296px,#3ee 304px,#423 310px,#46c 316px,#690 350px,#6fe 358px,#755 366px,#7a0 376px,#7ca 386px,#7dd 398px,#7ce 410px,#784 426px,#6ef 444px,#643 460px,#400 508px,#2de 534px,#1b6 564px,#0a5 596px)"></i>
<i style="background:linear-gradient(#dbd 0px,#f1a 18px,#f63 24px,#f8d 30px,#fa5 40px,#fa1 62px,#f84 72px,#f3f 82px,#ea1 94px,#c5a 128px,#98a 166px,#823 184px,#5fa 216px,#556 228px,#4ed 238px,#44f 258px,#3f2 272px,#3c7 282px,#3bb 290px,#3cb 298px,#3eb 304px,#41e 310px,#467 316px,#68f 350px,#6ff 358px,#757 366px,#7a4 376px,#7ce 386px,#7e1 398px,#7d2 410px,#786 426px,#6ee 444px,#63f 460px,#40f 506px,#2ea 532px,#1bf 562px,#09b 596px)"></i>
<i style="background:linear-gradient(#dbc 0px,#f23 18px,#f6f 24px,#f9b 30px,#fb5 40px,#fb3 62px,#f96 72px,#f4f 82px,#eac 94px,#c5e 128px,#98e 166px,#826 184px,#5fd 216px,#559 228px,#4f0 238px,#441 260px,#3f2 272px,#3c7 282px,#3ba 290px,#3c8 298px,#3f6 306px,#42f 312px,#47e 318px,#68e 350px,#700 358px,#759 366px,#7a7 376px,#7d2 386px,#7e5 398px,#7d5 410px,#788 426px,#702 442px,#653 458px,#406 506px,#2e0 532px,#1b5 562px,#091 596px)"></i>
<i style="background:linear-gradient(#dbb 0px,#f2c 18px,#f7a 24px,#fa8 30px,#fc5 40px,#fc5 62px,#fa7 72px,#f72 80px,#f31 86px,#ed8 92px,#c62 128px,#991 166px,#829 184px,#601 216px,#55c 228px,#4f2 238px,#442 260px,#3f2 272px,#3c6 282px,#3b9 290px,#3c6 298px,#3f2 306px,#42a 312px,#479 318px,#68d 350px,#700 358px,#75c 366px,#7aa 376px,#7d5 386px,#7e8 398px,#7d9 410px,#78a 426px,#701 442px,#638 460px,#3e5 508px,#2d5 532px,#1aa 562px,#087 596px)"></i>
<i style="background:linear-gradient(#dba 0px,#f34 18px,#f85 24px,#fb6 30px,#fd6 40px,#fda 60px,#fc2 70px,#f81 80px,#f3e 86px,#ee3 92px,#c65 128px,#994 166px,#82c 184px,#604 216px,#55f 228px,#4f4 238px,#442 260px,#3f1 272px,#3c5 282px,#3b7 290px,#3c4 298px,#3ef 306px,#426 312px,#474 318px,#6ac 352px,#75e 366px,#7ae 376px,#7d9 386px,#7ec 398px,#7dc 410px,#78c 426px,#700 442px,#634 460px,#3f4 506px,#2e1 530px,#1a0 562px,#07d 596px)"></i>
<i style="background:linear-gradient(#db9 0px,#f3b 18px,#f90 24px,#fc3 30px,#fe7 40px,#fec 60px,#fd3 70px,#f90 80px,#f2e 88px,#ea8 96px,#d58 114px,#c1e 132px,#996 166px,#82f 184px,#607 216px,#562 228px,#4f6 238px,#443 260px,#3f1 272px,#3c4 282px,#3b6 290px,#3c3 298px,#3ed 306px,#423 312px,#48d 320px,#6ab 352px,#761 366px,#7b2 376px,#7de 386px,#7f0 398px,#7e0 410px,#79c 424px,#714 440px,#661 456px,#41b 502px,#2d6 530px,#195 562px,#073 596px)"></i>
<i style="background:linear-gradient(#db9 0px,#f42 18px,#f81 22px,#fc1 28px,#fef 36px,#ffc 44px,#ffd 62px,#fdb 72px,#f8a 82px,#ef8 92px,#d5c 114px,#c20 132px,#832 184px,#62a 214px,#598 224px,#521 234px,#434 262px,#3e6 274px,#3ba 286px,#3bb 296px,#3dd 304px,#420 312px,#46c 318px,#50a 328px,#6ab 352px,#71e 360px,#777 368px,#7c1 378px,#7e7 388px,#7f4 400px,#7e3 410px,#79d 424px,#713 440px,#644 458px,#3f9 504px,#2e1 528px,#19d 560px,#069 596px)"></i>
<i style="background:linear-gradient(#db8 0px,#f48 18px,#fa4 24px,#fde 30px,#fff 36px,#fff 68px,#fec 72px,#f97 82px,#f02 92px,#d60 114px,#c22 132px,#834 184px,#62d 214px,#59b 224px,#523 234px,#443 260px,#3e6 274px,#3bd 284px,#3b7 294px,#3db 304px,#41e 312px,#485 320px,#6ac 352px,#720 360px,#77a 368px,#7c5 378px,#7ec 388px,#7f8 400px,#7e6 410px,#79f 424px,#712 440px,#640 458px,#3ef 504px,#2d7 528px,#192 560px,#05e 596px)"></i>
<i style="background:linear-gradient(#db8 0px,#f4f 18px,#fae 24px,#feb 30px,#fff 34px,#ffc 72px,#fa4 82px,#f0b 92px,#d88 112px,#bfd 134px,#836 184px,#630 214px,#59e 224px,#526 234px,#443 260px,#3e5 274px,#3bd 284px,#3b6 294px,#3da 304px,#41b 312px,#481 320px,#523 330px,#6ac 352px,#722 360px,#77e 368px,#7c9 378px,#7f0 388px,#7fc 400px,#7e9 410px,#7a1 424px,#725 438px,#654 456px,#3e4 504px,#2cc 528px,#187 560px,#054 596px)"></i>
<i style="background:linear-gradient(#db7 0px,#f56 18px,#fb8 24px,#ff9 30px,#fff 74px,#fb0 82px,#f14 92px,#d8b 112px,#bd8 136px,#838 184px,#653 212px,#5a1 224px,#528 234px,#443 260px,#3e5 274px,#3bd 284px,#3b5 294px,#3d9 304px,#419 312px,#47e 320px,#51f 330px,#6cd 354px,#73e 362px,#781 368px,#7c2 376px,#7ef 386px,#801 398px,#7f3 408px,#7b0 422px,#724 438px,#64f 456px,#3f3 502px,#2d7 526px,#17c 560px,#04a 596px)"></i>
<i style="background:linear-gradient(#db6 0px,#f5d 18px,#fa4 22px,#ff3 28px,#fff 30px,#ffe 76px,#fbd 82px,#f41 90px,#d8e 112px,#bff 134px,#839 184px,#675 210px,#5bf 222px,#540 232px,#4c8 244px,#443 260px,#3e5 274px,#3b8 286px,#3b8 296px,#3e4 306px,#42d 314px,#498 322px,#6ce 354px,#741 362px,#785 368px,#7c6 376px,#7f4 386px,#805 398px,#7f6 408px,#7b2 422px,#738 436px,#664 454px,#3e8 502px,#2cb 526px,#171 560px,#03f 596px)"></i>
<i style="background:linear-gradient(#db5 0px,#f64 18px,#fcd 24px,#fff 28px,#ff9 78px,#fae 84px,#f4b 90px,#d91 112px,#c00 134px,#860 182px,#698 208px,#5de 220px,#542 232px,#4c9 244px,#443 260px,#3e5 274px,#3b8 286px,#3b8 296px,#3e3 306px,#42b 314px,#494 322px,#517 330px,#6cf 354px,#744 362px,#789 368px,#7ca 376px,#7f9 386px,#809 398px,#7f9 408px,#7b3 422px,#737 436px,#65f 454px,#3f7 500px,#2c0 526px,#166 560px,#034 596px)"></i>
<i style="background:linear-gradient(#db4 0px,#f41 16px,#fb7 22px,#ff4 26px,#fff 28px,#fff 78px,#fd6 82px,#f54 90px,#d93 112px,#c01 134px,#860 182px,#69a 208px,#5e0 220px,#545 232px,#4c9 244px,#443 260px,#3e5 274px,#3b7 286px,#3b7 296px,#3e2 306px,#429 314px,#491 322px,#538 332px,#6d1 354px,#747 362px,#78c 368px,#7cf 376px,#7fd 386px,#80c 398px,#7fc 408px,#7b5 422px,#736 436px,#674 452px,#405 498px,#2ca 524px,#16d 558px,#02a 596px)"></i>
<i style="background:linear-gradient(#db3 0px,#f48 16px,#fc1 22px,#fff 26px,#ffd 80px,#f5d 90px,#d94 112px,#c01 134px,#83b 184px,#700 202px,#600 218px,#55e 230px,#4dd 242px,#453 258px,#3f0 272px,#3bc 284px,#3b7 296px,#3e1 306px,#427 314px,#4ac 324px,#534 332px,#6d3 354px,#74a 362px,#790 368px,#7d3 376px,#801 386px,#810 398px,#7ff 408px,#7b6 422px,#71d 438px,#654 454px,#3e0 500px,#251 534px,#12a 564px,#01f 596px)"></i>
<i style="background:linear-gradient(#db1 0px,#f4f 16px,#fcc 22px,#fff 26px,#fff 80px,#fee 82px,#f8c 88px,#d96 112px,#c01 134px,#83b 184px,#701 202px,#602 218px,#560 230px,#4de 242px,#453 258px,#3f0 272px,#3bc 284px,#3b7 296px,#3e0 306px,#425 314px,#4a8 324px,#530 332px,#6d5 354px,#74e 362px,#794 368px,#7d8 376px,#806 386px,#814 398px,#802 408px,#7b7 422px,#71b 438px,#66a 452px,#3d5 500px,#25a 532px,#131 562px,#014 596px)"></i>
<i style="background:linear-gradient(#dae 0px,#f57 16px,#ff9 24px,#ffb 82px,#f6e 90px,#d96 112px,#c02 134px,#861 182px,#745 198px,#640 214px,#57b 228px,#4df 242px,#453 258px,#3f0 272px,#3bc 284px,#3b7 296px,#3e0 306px,#423 314px,#4a5 324px,#52d 332px,#6d7 354px,#751 362px,#799 368px,#7dc 376px,#80a 386px,#817 398px,#804 408px,#7b8 422px,#718 438px,#664 452px,#3e3 498px,#263 530px,#125 562px,#009 596px)"></i>
<i style="background:linear-gradient(#dac 0px,#f5e 16px,#fba 20px,#fff 24px,#fff 82px,#fe7 84px,#f77 90px,#d97 112px,#c28 132px,#860 182px,#768 196px,#642 214px,#57c 228px,#4e0 242px,#453 258px,#3f0 272px,#3bc 284px,#3b7 296px,#3df 306px,#421 314px,#4a1 324px,#54f 334px,#6d9 354px,#755 362px,#79d 368px,#7e1 376px,#80e 386px,#81a 398px,#807 408px,#7b8 422px,#715 438px,#3f1 496px,#257 530px,#119 562px,#000 596px)"></i>
<i style="background:linear-gradient(#da9 0px,#f66 16px,#fed 22px,#fff 24px,#fff 82px,#ff3 84px,#fa9 88px,#e3d 104px,#d97 112px,#c29 132px,#860 182px,#78a 194px,#644 214px,#57e 228px,#4e1 242px,#453 258px,#3f0 272px,#3bc 284px,#3b7 296px,#3de 306px,#435 316px,#49e 324px,#54b 334px,#6db 354px,#758 362px,#7a1 368px,#7e5 376px,#812 386px,#81d 398px,#809 408px,#7b9 422px,#72a 436px,#673 450px,#3e5 496px,#319 512px,#24a 530px,#0e9 566px,#012 592px,#000 596px)"></i>
<i style="background:linear-gradient(#da6 0px,#f39 14px,#ff8 22px,#fff 84px,#f89 90px,#dbe 110px,#c4f 130px,#885 180px,#7ac 192px,#664 212px,#599 226px,#4f6 240px,#453 258px,#3f0 272px,#3bc 284px,#3b7 296px,#3de 306px,#432 316px,#4b9 326px,#548 334px,#6de 354px,#73f 360px,#7a5 368px,#7e9 376px,#815 386px,#821 396px,#812 406px,#7c9 420px,#727 436px,#66c 450px,#3d9 496px,#30c 512px,#23d 530px,#0cc 568px,#007 592px,#000 596px)"></i>
<i style="background:linear-gradient(#da3 0px,#f78 16px,#fff 22px,#fff 84px,#fe6 86px,#f92 90px,#e6d 102px,#dbe 110px,#c50 130px,#884 180px,#7ce 190px,#666 212px,#59b 226px,#4f7 240px,#453 258px,#3e5 274px,#3b8 286px,#3bb 298px,#3ea 308px,#447 318px,#4b5 326px,#544 334px,#6e0 354px,#742 360px,#7a8 368px,#7ed 376px,#813 384px,#824 396px,#814 406px,#7c9 420px,#73c 434px,#682 448px,#3cc 496px,#2ff 512px,#230 530px,#164 550px,#09e 572px,#00b 590px,#000 596px)"></i>
<i style="background:linear-gradient(#da0 0px,#f81 16px,#fe5 20px,#fff 22px,#fff 84px,#ff1 86px,#f9b 90px,#e6e 102px,#dbd 110px,#c51 130px,#883 180px,#7ce 190px,#667 212px,#582 228px,#4e3 242px,#443 260px,#3e5 274px,#3b8 286px,#3bb 298px,#3e9 308px,#444 318px,#4b2 326px,#541 334px,#6e2 354px,#745 360px,#7ac 368px,#7f1 376px,#816 384px,#826 396px,#815 406px,#7c9 420px,#739 434px,#67b 448px,#3da 494px,#2f2 512px,#223 530px,#145 552px,#070 576px,#000 590px,#000 596px)"></i>
<i style="background:linear-gradient(#d9c 0px,#f8a 16px,#ff0 20px,#fff 22px,#ffc 86px,#f74 92px,#e3e 104px,#dbc 110px,#c53 130px,#7f0 188px,#669 212px,#583 228px,#4e4 242px,#443 260px,#3e5 274px,#3b8 286px,#3bb 298px,#3e9 308px,#442 318px,#4ae 326px,#565 336px,#6e5 354px,#748 360px,#7b0 368px,#7f5 376px,#81a 384px,#828 396px,#817 406px,#7c8 420px,#735 434px,#691 446px,#3e8 492px,#2fd 510px,#22c 528px,#138 552px,#054 578px,#004 588px,#000 596px)"></i>
<i style="background:linear-gradient(#d99 0px,#e4a 6px,#f57 14px,#ffb 20px,#fff 86px,#fae 90px,#e6e 102px,#dbc 110px,#c54 130px,#7f0 188px,#66a 212px,#584 228px,#4e4 242px,#444 260px,#3e5 274px,#3b9 286px,#3bb 298px,#3e8 308px,#440 318px,#4ab 326px,#562 336px,#6e7 354px,#74b 360px,#7b3 368px,#7f8 376px,#81c 384px,#82a 396px,#818 406px,#7c8 420px,#74a 432px,#68a 446px,#3da 492px,#2ef 510px,#21e 528px,#119 554px,#028 582px,#000 588px,#000 596px)"></i>
<i style="background:linear-gradient(#d97 0px,#e49 6px,#f9d 16px,#fff 20px,#fff 86px,#fe7 88px,#fb8 90px,#ea3 100px,#de4 108px,#c7c 128px,#aec 148px,#7ef 188px,#66b 212px,#585 228px,#4e5 242px,#444 260px,#3e5 274px,#3b9 286px,#3bb 298px,#3e7 308px,#43e 318px,#4c8 328px,#55f 336px,#6e9 354px,#74d 360px,#7b5 368px,#7fb 376px,#81f 384px,#82c 396px,#819 406px,#7c7 420px,#746 432px,#6a0 444px,#3cc 492px,#2e1 510px,#210 528px,#10c 554px,#00c 584px,#000 596px)"></i>
<i style="background:linear-gradient(#d95 0px,#e47 6px,#fa7 16px,#fdf 18px,#fff 20px,#fff 86px,#ff0 88px,#fc1 90px,#ea5 100px,#de4 108px,#c7d 128px,#b12 146px,#812 186px,#66c 212px,#586 228px,#4e5 242px,#444 260px,#3e5 274px,#3b9 286px,#3bb 298px,#3f5 310px,#453 320px,#4c6 328px,#55c 336px,#6ea 354px,#74e 360px,#7b7 368px,#7fe 376px,#821 384px,#82e 394px,#820 404px,#7d5 418px,#75a 430px,#698 444px,#4a7 476px,#3be 492px,#2d3 510px,#202 528px,#0ff 554px,#000 584px,#000 596px)"></i>
<i style="background:linear-gradient(#d94 0px,#e46 6px,#faf 16px,#fe7 18px,#fff 20px,#ff9 88px,#f93 92px,#ea7 100px,#de5 108px,#c7f 128px,#b12 146px,#811 186px,#66d 212px,#587 228px,#4e6 242px,#444 260px,#3e5 274px,#3b9 286px,#3bb 298px,#3f4 310px,#452 320px,#4c3 328px,#559 336px,#6eb 354px,#74f 360px,#7b9 368px,#801 376px,#824 384px,#830 394px,#821 404px,#7d4 418px,#755 430px,#690 444px,#3cc 490px,#2dd 508px,#1f4 528px,#0f2 554px,#004 582px,#000 596px)"></i>
<i style="background:linear-gradient(#d95 0px,#e48 6px,#fb5 16px,#fed 18px,#fff 20px,#fff 88px,#f9a 92px,#eab 100px,#de8 108px,#c80 128px,#b12 146px,#812 186px,#66e 212px,#588 228px,#4e7 242px,#445 260px,#3e6 274px,#3ba 286px,#3bb 298px,#3f3 310px,#450 320px,#4c2 328px,#557 336px,#6ea 354px,#74f 360px,#7ba 368px,#802 376px,#826 384px,#832 394px,#821 404px,#7d1 418px,#750 430px,#6a6 442px,#4ab 474px,#3bd 490px,#2ce 508px,#1e6 528px,#0f7 552px,#008 580px,#000 596px)"></i>
<i style="background:linear-gradient(#d98 0px,#e4d 6px,#fb7 16px,#ff0 18px,#fff 20px,#fff 88px,#f9e 92px,#e7b 102px,#dec 108px,#c80 128px,#aeb 148px,#812 186px,#66f 212px,#589 228px,#4e7 242px,#445 260px,#3e6 274px,#3ba 286px,#3bb 298px,#3f3 310px,#450 320px,#4c0 328px,#556 336px,#6e8 354px,#74e 360px,#7ba 368px,#803 376px,#827 384px,#833 394px,#821 404px,#7ce 418px,#74a 430px,#69d 442px,#3cb 488px,#2d8 506px,#1ee 526px,#0fc 550px,#00c 578px,#000 580px,#000 596px)"></i>
<i style="background:linear-gradient(#d9c 0px,#e54 6px,#f76 14px,#ff1 18px,#fff 20px,#fff 88px,#fa1 92px,#e82 102px,#dc8 110px,#c80 128px,#aec 148px,#813 186px,#66f 212px,#58a 228px,#4e8 242px,#445 260px,#3e6 274px,#3ba 286px,#3bb 298px,#3f2 310px,#44f 320px,#4c0 328px,#555 336px,#6e6 354px,#74d 360px,#7ba 368px,#7f5 374px,#822 382px,#834 392px,#828 402px,#7dc 416px,#75e 428px,#6b3 440px,#4ae 472px,#3bb 488px,#2b0 508px,#1ca 528px,#0dd 552px,#000 578px,#000 596px)"></i>
<i style="background:linear-gradient(#da0 0px,#e5a 6px,#f76 14px,#ff2 18px,#fff 20px,#fff 88px,#fda 90px,#e56 104px,#dce 110px,#c80 128px,#aed 148px,#814 186px,#68f 210px,#58b 228px,#4e8 242px,#445 260px,#3e7 274px,#3ba 286px,#3bb 298px,#3f2 310px,#44f 320px,#4c0 328px,#555 336px,#6e3 354px,#74b 360px,#7b9 368px,#804 376px,#82a 384px,#836 394px,#828 402px,#7d8 416px,#758 428px,#6aa 440px,#49f 472px,#3ac 488px,#2b9 506px,#1d0 526px,#0e2 550px,#004 576px,#000 596px)"></i>
<i style="background:linear-gradient(#da6 0px,#ff2 18px,#fff 20px,#fff 88px,#fdd 90px,#e90 102px,#dd4 110px,#816 186px,#68f 210px,#58c 228px,#4e9 242px,#445 260px,#3e7 274px,#3bb 286px,#3bb 298px,#3f2 310px,#44f 320px,#4c0 328px,#555 336px,#6df 354px,#748 360px,#7b7 368px,#803 376px,#82b 384px,#837 394px,#828 402px,#7d5 416px,#751 428px,#6a0 440px,#4b0 470px,#39c 488px,#2aa 506px,#1c2 526px,#0e6 548px,#007 574px,#000 596px)"></i>
<i style="background:linear-gradient(#dab 0px,#ff2 18px,#fff 20px,#fff 88px,#fe0 90px,#e65 104px,#db0 112px,#ac8 150px,#7f4 188px,#671 212px,#58d 228px,#4ea 242px,#446 260px,#3e7 274px,#3bb 286px,#3bb 298px,#3f2 310px,#44f 320px,#4c0 328px,#554 336px,#6db 354px,#764 362px,#7b6 368px,#803 376px,#82c 384px,#838 392px,#828 402px,#7d1 416px,#749 428px,#696 440px,#4a1 470px,#3a9 486px,#29a 506px,#1b3 526px,#0d9 548px,#00b 572px,#000 596px)"></i>
<i style="background:linear-gradient(#db1 0px,#fb7 16px,#ff1 18px,#fff 20px,#fff 88px,#fe3 90px,#e6c 104px,#db6 112px,#ac9 150px,#7f6 188px,#691 210px,#58e 228px,#4ea 242px,#446 260px,#3e8 274px,#3bb 286px,#3bb 298px,#3f1 310px,#44f 320px,#4c0 328px,#554 336px,#6d7 354px,#761 362px,#7b4 368px,#7f2 374px,#825 382px,#838 390px,#82e 400px,#7de 414px,#75c 426px,#6ac 438px,#491 470px,#398 486px,#28a 506px,#1a3 526px,#0cb 548px,#000 572px,#000 596px)"></i>
<i style="background:linear-gradient(#db7 0px,#fb8 16px,#ff2 18px,#fff 20px,#fff 88px,#fe6 90px,#e74 104px,#d92 114px,#aca 150px,#7f7 188px,#691 210px,#58f 228px,#4d6 244px,#446 260px,#3e8 274px,#3bb 286px,#3bb 298px,#3f1 310px,#44f 320px,#4c0 328px,#553 336px,#6f9 356px,#7b1 368px,#801 376px,#82d 384px,#83a 392px,#82d 400px,#7ea 412px,#755 426px,#6a1 438px,#4a2 468px,#3a5 484px,#292 504px,#1aa 524px,#0cf 546px,#001 570px,#000 596px)"></i>
<i style="background:linear-gradient(#dbc 0px,#ff2 18px,#fff 20px,#fff 88px,#fea 90px,#e7b 104px,#d97 114px,#acc 150px,#7f9 188px,#692 210px,#590 228px,#4d7 244px,#447 260px,#3e9 274px,#3b8 288px,#3c0 300px,#3f1 310px,#44f 320px,#4c0 328px,#552 336px,#6f4 356px,#7af 368px,#800 376px,#82d 384px,#83a 392px,#82d 400px,#7e7 412px,#74c 426px,#696 438px,#492 468px,#394 484px,#282 504px,#19a 524px,#0d4 544px,#005 568px,#000 596px)"></i>
<i style="background:linear-gradient(#dc1 0px,#ff2 18px,#fff 20px,#fff 88px,#fed 90px,#e50 106px,#d72 116px,#acd 150px,#7fb 188px,#6b1 208px,#5ab 226px,#4ec 242px,#447 260px,#3e9 274px,#3b9 288px,#3c0 300px,#3f1 310px,#44f 320px,#4c0 328px,#551 336px,#6f0 356px,#7ac 368px,#7ff 376px,#82d 384px,#83b 392px,#82c 400px,#7e2 412px,#744 426px,#68a 438px,#481 468px,#383 484px,#271 504px,#18b 524px,#0c5 544px,#008 566px,#000 596px)"></i>
<i style="background:linear-gradient(#dc6 0px,#ff3 18px,#fff 20px,#fff 88px,#ff1 90px,#e57 106px,#d4c 118px,#aa8 152px,#7d9 190px,#693 210px,#591 228px,#4d8 244px,#448 260px,#3ea 274px,#3b9 288px,#3c0 300px,#3f0 310px,#44f 320px,#4bf 328px,#550 336px,#6ec 356px,#7aa 368px,#7ec 374px,#824 382px,#83a 390px,#832 398px,#7ef 410px,#757 424px,#6a0 436px,#492 466px,#371 484px,#260 504px,#17b 524px,#0a5 546px,#000 566px,#000 596px)"></i>
<i style="background:linear-gradient(#dcb 0px,#ff4 18px,#fff 20px,#fff 88px,#ff4 90px,#e5d 106px,#d50 118px,#ad1 150px,#7fe 188px,#6b3 208px,#5ad 226px,#4ee 242px,#458 258px,#3f5 272px,#3bd 286px,#3bb 298px,#3f0 310px,#44e 320px,#4bf 328px,#54e 336px,#6e8 356px,#7a7 368px,#7ea 374px,#824 382px,#83a 390px,#831 398px,#7eb 410px,#74e 424px,#694 436px,#481 466px,#37d 482px,#268 502px,#180 522px,#0bb 542px,#000 564px,#000 596px)"></i>
<i style="background:linear-gradient(#dcf 0px,#ff5 18px,#ff8 90px,#e62 106px,#d53 118px,#ad3 150px,#800 188px,#6b3 208px,#5ad 226px,#4ef 242px,#459 258px,#3f6 272px,#3bd 286px,#3bb 298px,#3f0 310px,#44e 320px,#4be 328px,#54d 336px,#708 358px,#7bd 370px,#7fb 376px,#82c 384px,#83a 390px,#830 398px,#7e7 410px,#745 424px,#688 436px,#46f 466px,#36b 482px,#256 502px,#170 522px,#0bf 540px,#001 562px,#000 596px)"></i>
<i style="background:linear-gradient(#dd3 0px,#ff7 18px,#ffc 90px,#e37 108px,#d2c 120px,#ad5 150px,#801 188px,#6b4 208px,#5ae 226px,#4ef 242px,#45a 258px,#3f7 272px,#3bd 286px,#3bb 298px,#3f0 310px,#44d 320px,#4bd 328px,#54b 336px,#704 358px,#7bb 370px,#809 378px,#82c 384px,#83a 390px,#82f 398px,#7e3 410px,#73c 424px,#67b 436px,#480 464px,#377 480px,#25e 500px,#175 520px,#0c3 538px,#004 560px,#000 596px)"></i>
<i style="background:linear-gradient(#dd6 0px,#ff8 18px,#fff 90px,#e3c 108px,#d2f 120px,#ad7 150px,#803 188px,#6b5 208px,#5af 226px,#4f0 242px,#45b 258px,#3f8 272px,#3be 286px,#3bb 298px,#3ef 310px,#44d 320px,#4bc 328px,#548 336px,#701 358px,#7b9 370px,#808 378px,#82c 384px,#83a 390px,#82d 398px,#7de 410px,#750 422px,#691 434px,#46e 464px,#364 480px,#24c 500px,#165 520px,#0b4 538px,#007 558px,#000 596px)"></i>
<i style="background:linear-gradient(#dd9 0px,#ffa 18px,#fff 90px,#e11 110px,#d08 122px,#ab2 152px,#7e1 190px,#6b6 208px,#5b0 226px,#4f1 242px,#45c 258px,#3f9 272px,#3be 286px,#3bb 298px,#3ee 310px,#44c 320px,#4ba 328px,#546 336px,#6fd 358px,#7b7 370px,#7f7 376px,#822 382px,#837 388px,#833 396px,#7ec 408px,#747 422px,#685 434px,#45b 464px,#351 480px,#23a 500px,#155 520px,#093 540px,#000 558px,#000 596px)"></i>
<i style="background:linear-gradient(#ddc 0px,#ffc 18px,#fff 90px,#e14 110px,#ce1 124px,#a8d 154px,#7e3 190px,#6b7 208px,#5b1 226px,#4f2 242px,#45d 258px,#3ee 274px,#3bf 286px,#3bb 298px,#3ee 310px,#44b 320px,#4b8 328px,#56a 338px,#6f9 358px,#7b5 370px,#7f6 376px,#821 382px,#837 388px,#832 396px,#7e7 408px,#75a 420px,#69b 432px,#46c 462px,#35c 478px,#25a 496px,#159 518px,#096 538px,#000 556px,#000 596px)"></i>
<i style="background:linear-gradient(#dde 0px,#ffe 18px,#fff 90px,#fdc 92px,#de9 112px,#ce3 124px,#a8f 154px,#7e4 190px,#6b8 208px,#5b2 226px,#4f3 242px,#45e 258px,#3ef 274px,#3bf 286px,#3ba 298px,#3ed 310px,#449 320px,#4d7 330px,#567 338px,#6f6 358px,#7b3 370px,#806 378px,#82a 384px,#839 390px,#830 396px,#7e3 408px,#751 420px,#68e 432px,#458 462px,#349 478px,#248 496px,#148 518px,#099 536px,#000 554px,#000 596px)"></i>
<i style="background:linear-gradient(#de0 0px,#fff 18px,#fff 90px,#fe0 92px,#dec 112px,#ce5 124px,#ab8 152px,#7e6 190px,#6b9 208px,#5b3 226px,#4f4 242px,#45f 258px,#3f0 274px,#3c0 286px,#3ba 298px,#3ec 310px,#448 320px,#4d4 330px,#564 338px,#6f2 358px,#7b1 370px,#805 378px,#82a 384px,#838 390px,#82f 396px,#7de 408px,#748 420px,#681 432px,#469 460px,#354 476px,#24f 494px,#14d 516px,#0af 532px,#001 552px,#000 596px)"></i>
<i style="background:linear-gradient(#de2 0px,#fff 18px,#fff 90px,#fe4 92px,#e1e 110px,#ce7 124px,#a94 154px,#7c4 192px,#69b 210px,#59a 228px,#4f5 242px,#461 258px,#3f2 274px,#3c0 286px,#3ba 298px,#3ec 310px,#446 320px,#4d2 330px,#560 338px,#6ef 358px,#7af 370px,#804 378px,#82a 384px,#838 390px,#82e 396px,#7ed 406px,#75c 418px,#698 430px,#455 460px,#340 476px,#23b 494px,#13c 516px,#004 550px,#000 596px)"></i>
<i style="background:linear-gradient(#de3 0px,#f57 12px,#fff 18px,#fff 90px,#fe9 92px,#e21 110px,#cea 124px,#a96 154px,#7c6 192px,#69d 210px,#59b 228px,#4f6 242px,#462 258px,#3f3 274px,#3c1 286px,#3ba 298px,#3eb 310px,#445 320px,#4cf 330px,#55d 338px,#6ec 358px,#7ae 370px,#804 378px,#82a 384px,#837 390px,#82d 396px,#7e8 406px,#753 418px,#68a 430px,#467 458px,#34b 474px,#242 492px,#13f 514px,#006 548px,#000 596px)"></i>
<i style="background:linear-gradient(#de4 0px,#f95 14px,#fff 18px,#fff 90px,#fed 92px,#e24 110px,#cec 124px,#abf 152px,#7c7 192px,#69e 210px,#59c 228px,#4f8 242px,#464 258px,#3f4 274px,#3c1 286px,#3ba 298px,#3ea 310px,#443 320px,#4cc 330px,#55a 338px,#70e 360px,#7c6 372px,#803 378px,#829 384px,#837 390px,#82b 396px,#7e4 406px,#74a 418px,#67d 430px,#452 458px,#336 474px,#22e 492px,#12e 514px,#06f 534px,#000 548px,#000 596px)"></i>
<i style="background:linear-gradient(#de4 0px,#f97 14px,#fff 18px,#fff 90px,#ff1 92px,#e26 110px,#cee 124px,#ac2 152px,#7c9 192px,#69f 210px,#59d 228px,#4f9 242px,#466 258px,#3f6 274px,#3bd 288px,#3bd 300px,#3f7 312px,#458 322px,#4c9 330px,#556 338px,#70c 360px,#7ab 370px,#7f1 376px,#81f 382px,#835 388px,#831 394px,#7f3 404px,#75f 416px,#695 428px,#43e 458px,#321 474px,#21b 492px,#11d 514px,#071 532px,#000 546px,#000 596px)"></i>
<i style="background:linear-gradient(#de5 0px,#f99 14px,#fff 18px,#ff6 92px,#e28 110px,#d1a 122px,#aeb 150px,#7ca 192px,#6a1 210px,#59e 228px,#4fa 242px,#468 258px,#3f7 274px,#3bd 288px,#3bd 300px,#3f5 312px,#456 322px,#4e7 332px,#70a 360px,#7aa 370px,#7f0 376px,#81f 382px,#835 388px,#830 394px,#7ef 404px,#756 416px,#687 428px,#44f 456px,#32c 472px,#221 490px,#120 512px,#086 528px,#000 544px,#000 596px)"></i>
<i style="background:linear-gradient(#de5 0px,#f9c 14px,#fff 18px,#ffa 92px,#e2a 110px,#d1c 122px,#aed 150px,#7ef 190px,#6c2 208px,#5ba 226px,#4fc 242px,#46a 258px,#3f9 274px,#3be 288px,#3bc 300px,#3f4 312px,#454 322px,#4e4 332px,#576 340px,#708 360px,#7a9 370px,#7f0 376px,#81f 382px,#834 388px,#82f 394px,#7eb 404px,#74d 416px,#67a 428px,#43a 456px,#316 472px,#20c 490px,#123 510px,#000 542px,#000 596px)"></i>
<i style="background:linear-gradient(#de4 0px,#f9e 14px,#fda 16px,#fff 18px,#fff 92px,#e5d 108px,#d48 120px,#b16 148px,#7f1 190px,#6a4 210px,#5a1 228px,#4fd 242px,#46c 258px,#3fa 274px,#3bf 288px,#3bc 300px,#3f3 312px,#451 322px,#4e0 332px,#572 340px,#706 360px,#7a9 370px,#7f0 376px,#81f 382px,#834 388px,#82e 394px,#7e6 404px,#763 414px,#66c 428px,#424 456px,#321 470px,#212 488px,#112 510px,#000 540px,#000 596px)"></i>
<i style="background:linear-gradient(#de3 0px,#fdd 16px,#fff 18px,#fff 92px,#e2d 110px,#d4a 120px,#b18 148px,#7f2 190px,#6a6 210px,#5a3 228px,#4ff 242px,#46f 258px,#3fc 274px,#3bf 288px,#3bc 300px,#3f2 312px,#44f 322px,#4dd 332px,#56f 340px,#704 360px,#7a8 370px,#7f0 376px,#81f 382px,#834 388px,#82d 394px,#7e1 404px,#75a 414px,#685 426px,#40e 456px,#30b 470px,#1fd 488px,#115 508px,#002 538px,#000 596px)"></i>
<i style="background:linear-gradient(#de2 0px,#fe0 16px,#fff 18px,#fff 92px,#fd6 94px,#e2e 110px,#d4c 120px,#b1a 148px,#7f4 190px,#6c7 208px,#5bf 226px,#515 240px,#481 256px,#3fe 274px,#3c0 288px,#3bb 300px,#3f0 312px,#44d 322px,#4da 332px,#56b 340px,#703 360px,#7c2 372px,#802 378px,#829 384px,#82c 394px,#7dd 404px,#70d 418px,#626 430px,#3f8 456px,#2d2 472px,#1e9 488px,#118 506px,#004 536px,#000 596px)"></i>
<i style="background:linear-gradient(#de1 0px,#fe3 16px,#fff 18px,#fff 92px,#fdb 94px,#e2f 110px,#d4e 120px,#b1c 148px,#7f5 190px,#6aa 210px,#5a6 228px,#502 242px,#484 256px,#400 274px,#3c0 288px,#3bb 300px,#3ef 312px,#44b 322px,#4d7 332px,#568 340px,#702 360px,#7c2 372px,#802 378px,#829 384px,#82a 394px,#7d7 404px,#702 418px,#616 430px,#3e1 456px,#2bc 472px,#1d4 488px,#105 506px,#005 534px,#000 596px)"></i>
<i style="background:linear-gradient(#ddf 0px,#fe7 16px,#fff 18px,#fff 92px,#fe0 94px,#e31 110px,#d51 120px,#b1e 148px,#7f6 190px,#6ac 210px,#5a8 228px,#504 242px,#486 256px,#402 274px,#3c1 288px,#3bb 300px,#3ee 312px,#448 322px,#4d4 332px,#565 340px,#701 360px,#7c2 372px,#802 378px,#829 384px,#829 394px,#810 398px,#7d2 404px,#6f6 418px,#606 430px,#3ca 456px,#2c6 470px,#1d9 486px,#108 504px,#05c 522px,#000 534px,#000 596px)"></i>
<i style="background:linear-gradient(#dde 0px,#fea 16px,#fff 18px,#fff 92px,#fe6 94px,#e64 108px,#d7d 118px,#b20 148px,#7f7 190px,#6cd 208px,#5c5 226px,#51a 240px,#499 254px,#404 274px,#3c2 288px,#3ba 300px,#3ed 312px,#446 322px,#4d1 332px,#562 340px,#701 360px,#7a8 370px,#7f0 376px,#81f 382px,#82f 392px,#81d 396px,#7e5 402px,#70f 416px,#622 428px,#3dc 454px,#2ae 470px,#1c4 486px,#0f6 504px,#05e 520px,#000 532px,#000 596px)"></i>
<i style="background:linear-gradient(#ddc 0px,#fee 16px,#fff 18px,#fff 92px,#feb 94px,#e66 108px,#d80 118px,#b22 148px,#7f8 190px,#6b1 210px,#5ac 228px,#51c 240px,#49c 254px,#406 274px,#3c3 288px,#3ba 300px,#3ec 312px,#445 322px,#4cf 332px,#560 340px,#700 360px,#7a8 370px,#7f0 376px,#81e 382px,#82d 392px,#81a 396px,#7e0 402px,#703 416px,#612 428px,#3c5 454px,#297 470px,#1c8 484px,#0f8 502px,#060 518px,#000 530px,#000 596px)"></i>
<i style="background:linear-gradient(#dda 0px,#ff1 16px,#fff 18px,#fff 92px,#ff2 94px,#e69 108px,#d83 118px,#b23 148px,#81e 188px,#6f1 206px,#5ca 226px,#51e 240px,#49f 254px,#408 274px,#3c3 288px,#3ba 300px,#3ec 312px,#443 322px,#4cd 332px,#55e 340px,#701 360px,#7a8 370px,#7f0 376px,#81e 382px,#82b 392px,#818 396px,#7db 402px,#6f7 416px,#602 428px,#3ad 454px,#2a1 468px,#1b3 484px,#0e6 502px,#000 528px,#000 596px)"></i>
<i style="background:linear-gradient(#dd9 0px,#ff5 16px,#ff8 94px,#ea1 106px,#db1 116px,#b24 148px,#81f 188px,#6d4 208px,#5b1 228px,#521 240px,#4a2 254px,#40a 274px,#3c4 288px,#3ba 300px,#3eb 312px,#442 322px,#4cb 332px,#55d 340px,#701 360px,#7a8 370px,#7f0 376px,#81d 382px,#829 392px,#814 396px,#7d5 402px,#6eb 416px,#5f1 428px,#395 454px,#289 468px,#1b8 482px,#0e8 500px,#000 526px,#000 596px)"></i>
<i style="background:linear-gradient(#dd8 0px,#ff8 16px,#ffe 94px,#ea6 106px,#db6 116px,#b25 148px,#820 188px,#6f6 206px,#5cf 226px,#539 238px,#4b5 252px,#40c 274px,#3c5 288px,#3ba 300px,#3ea 312px,#441 322px,#4cb 332px,#55c 340px,#701 360px,#7a9 370px,#7ef 376px,#81c 382px,#826 392px,#810 396px,#7cf 402px,#6df 416px,#5e1 428px,#3a8 452px,#293 466px,#1bc 480px,#0ea 498px,#000 524px,#000 596px)"></i>
<i style="background:linear-gradient(#dd8 0px,#ff9 16px,#fff 94px,#e78 108px,#d91 118px,#b26 148px,#821 188px,#6da 208px,#5b7 228px,#526 240px,#4a7 254px,#40e 274px,#3c6 288px,#3ba 300px,#3ea 312px,#441 322px,#4ca 332px,#55d 340px,#702 360px,#7a9 370px,#7ef 376px,#81a 382px,#822 392px,#80b 396px,#7c8 402px,#6d3 416px,#5cf 428px,#390 452px,#27a 466px,#1a6 480px,#0d8 498px,#000 522px,#000 596px)"></i>
<i style="background:linear-gradient(#dd8 0px,#ff9 16px,#fff 94px,#e7f 108px,#d96 118px,#b27 148px,#823 188px,#6dd 208px,#5ba 228px,#529 240px,#4aa 254px,#410 274px,#3c8 288px,#3ba 300px,#3e9 312px,#440 322px,#4cb 332px,#55e 340px,#703 360px,#7a9 370px,#7ee 376px,#818 382px,#826 388px,#81d 392px,#805 396px,#7c0 402px,#6ee 414px,#5ec 426px,#3a4 450px,#285 464px,#1ab 478px,#0da 496px,#001 520px,#000 596px)"></i>
<i style="background:linear-gradient(#dd9 0px,#ff8 16px,#fff 94px,#fd6 96px,#e55 110px,#d72 120px,#b28 148px,#824 188px,#6fe 206px,#5be 228px,#52d 240px,#4ac 254px,#412 274px,#3c9 288px,#3bb 300px,#3e9 312px,#441 322px,#4cc 332px,#560 340px,#705 360px,#7a9 370px,#7ee 376px,#816 382px,#822 388px,#818 392px,#7fe 396px,#7b8 402px,#6e3 414px,#5db 426px,#38c 450px,#26d 464px,#195 478px,#0dc 494px,#003 518px,#000 596px)"></i>
<i style="background:linear-gradient(#dda 0px,#ff8 16px,#fff 94px,#fdb 96px,#e5e 110px,#d4d 122px,#b28 148px,#826 188px,#701 206px,#5c2 228px,#531 240px,#49f 256px,#415 274px,#3cb 288px,#3bb 300px,#3e9 312px,#441 322px,#4ce 332px,#562 340px,#706 360px,#7aa 370px,#80a 380px,#81e 386px,#81a 390px,#7f7 396px,#7cb 400px,#6ff 412px,#5ca 426px,#373 450px,#254 464px,#17f 478px,#0ca 494px,#004 516px,#000 596px)"></i>
<i style="background:linear-gradient(#dda 0px,#ff8 16px,#fff 94px,#fe0 96px,#e05 114px,#ba5 142px,#828 188px,#704 206px,#5c6 228px,#520 242px,#4a2 256px,#417 274px,#3cc 288px,#3bc 300px,#3e9 312px,#442 322px,#4d0 332px,#565 340px,#708 360px,#7aa 370px,#808 380px,#81a 386px,#814 390px,#7ef 396px,#7c2 400px,#765 406px,#6f3 412px,#5e9 424px,#35b 450px,#25f 462px,#184 476px,#0cb 492px,#027 510px,#000 516px,#000 596px)"></i>
<i style="background:linear-gradient(#ddb 0px,#ff8 16px,#fff 94px,#fe4 96px,#ea2 108px,#dde 116px,#ba5 142px,#829 188px,#708 206px,#5af 230px,#524 242px,#494 258px,#40d 276px,#3c7 290px,#3c0 302px,#3e9 312px,#443 322px,#4d2 332px,#568 340px,#6e4 358px,#78f 368px,#7d8 374px,#806 380px,#816 386px,#80f 390px,#7f8 394px,#7b9 400px,#75b 406px,#6e7 412px,#5d8 424px,#342 450px,#247 462px,#16e 476px,#0b9 492px,#028 508px,#000 514px,#000 596px)"></i>
<i style="background:linear-gradient(#ddb 0px,#ff8 16px,#fff 94px,#fe9 96px,#e77 110px,#db6 118px,#ba5 142px,#ad8 152px,#82a 188px,#70b 206px,#5b4 230px,#528 242px,#497 258px,#40f 276px,#3c9 290px,#3c0 302px,#3ea 312px,#444 322px,#4d4 332px,#56b 340px,#6e6 358px,#790 368px,#7d7 374px,#804 380px,#812 386px,#809 390px,#7f1 394px,#7b0 400px,#750 406px,#6db 412px,#5c6 424px,#359 448px,#253 460px,#173 474px,#0bc 490px,#000 512px,#000 596px)"></i>
<i style="background:linear-gradient(#ddb 0px,#ff8 16px,#fff 94px,#fed 96px,#deb 116px,#b7a 144px,#82b 188px,#72d 204px,#5b9 230px,#52c 242px,#49b 258px,#412 276px,#3cb 290px,#3c1 302px,#3ea 312px,#446 322px,#4b6 330px,#546 338px,#6e9 358px,#790 368px,#7f6 378px,#80c 384px,#80a 388px,#7f8 392px,#7c0 398px,#769 404px,#6f8 410px,#5e7 422px,#341 448px,#23a 460px,#1d1 466px,#15d 474px,#0aa 490px,#000 510px,#000 596px)"></i>
<i style="background:linear-gradient(#ddb 0px,#ff9 16px,#fff 94px,#ff0 96px,#df0 116px,#b79 144px,#82c 188px,#74e 202px,#5be 230px,#51c 244px,#48e 260px,#409 278px,#3cd 290px,#3c2 302px,#3eb 312px,#447 322px,#4b8 330px,#54a 338px,#6ec 358px,#791 368px,#7f4 378px,#808 384px,#804 388px,#7f1 392px,#7b7 398px,#75e 404px,#6ec 410px,#5d7 422px,#328 448px,#222 460px,#162 472px,#0ac 488px,#000 508px,#000 596px)"></i>
<i style="background:linear-gradient(#ddb 0px,#ff9 16px,#fff 94px,#ff2 96px,#df4 116px,#b77 144px,#850 186px,#76f 200px,#5c3 230px,#521 244px,#492 260px,#40c 278px,#3cf 290px,#3c4 302px,#3ec 312px,#449 322px,#4bb 330px,#54d 338px,#6ee 358px,#792 368px,#7f1 378px,#804 384px,#7fe 388px,#7e9 392px,#7ad 398px,#753 404px,#6df 410px,#5c6 422px,#310 448px,#20a 460px,#14d 472px,#0af 486px,#000 506px,#000 596px)"></i>
<i style="background:linear-gradient(#dda 0px,#ffa 16px,#fff 94px,#ff3 96px,#dc8 118px,#b75 144px,#851 186px,#78f 198px,#5c8 230px,#526 244px,#496 260px,#40f 278px,#3d2 290px,#3c5 302px,#3ed 312px,#44b 322px,#4bd 330px,#551 338px,#6f1 358px,#792 368px,#7ef 378px,#7ff 384px,#7f8 388px,#7e1 392px,#7a4 398px,#747 404px,#6d2 410px,#5b5 422px,#2f8 448px,#218 458px,#153 470px,#09e 486px,#000 504px,#000 596px)"></i>
<i style="background:linear-gradient(#dd9 0px,#ffb 16px,#fff 94px,#ff3 96px,#dca 118px,#b73 144px,#851 186px,#792 198px,#5ce 230px,#52b 244px,#49a 260px,#413 278px,#3d5 290px,#3c7 302px,#3ef 312px,#44d 322px,#4c0 330px,#554 338px,#6ce 356px,#778 366px,#7c0 372px,#7ec 378px,#7fa 384px,#7f1 388px,#7d9 392px,#799 398px,#73b 404px,#6c4 410px,#5a5 422px,#2e1 448px,#200 458px,#13e 470px,#0a1 484px,#002 502px,#000 596px)"></i>
<i style="background:linear-gradient(#dd7 0px,#ffd 16px,#fff 94px,#ff1 96px,#dfa 116px,#b71 144px,#851 186px,#7b2 196px,#5d4 230px,#531 244px,#49f 260px,#418 278px,#3d8 290px,#3c8 302px,#3f1 312px,#44f 322px,#4c3 330px,#558 338px,#6d1 356px,#779 366px,#7bf 372px,#7e9 378px,#7f4 384px,#7ea 388px,#7d1 392px,#78f 398px,#72e 404px,#6b6 410px,#594 422px,#2fd 446px,#1e9 458px,#144 468px,#0a4 482px,#015 498px,#000 502px,#000 596px)"></i>
<i style="background:linear-gradient(#dd6 0px,#ffe 16px,#fff 94px,#fee 96px,#fc0 98px,#df9 116px,#b6e 144px,#850 186px,#7b4 196px,#5c0 232px,#522 246px,#4a5 260px,#41c 278px,#3db 290px,#3ca 302px,#3f2 312px,#451 322px,#4c6 330px,#55b 338px,#6d4 356px,#77a 366px,#7dc 376px,#7ef 382px,#7eb 386px,#7c8 392px,#79e 396px,#6fb 406px,#67b 412px,#5b8 420px,#31c 444px,#225 454px,#1ad 460px,#14c 466px,#094 482px,#000 500px,#000 596px)"></i>
<i style="background:linear-gradient(#dd3 0px,#fff 16px,#fff 94px,#fe9 96px,#fbb 98px,#df6 116px,#b6b 144px,#850 186px,#7b7 196px,#5c7 232px,#528 246px,#4aa 260px,#414 280px,#3d7 292px,#3cd 302px,#3f5 312px,#454 322px,#4c9 330px,#55f 338px,#6d7 356px,#77a 366px,#7d9 376px,#7ea 382px,#7e4 386px,#7bf 392px,#793 396px,#6ed 406px,#66c 412px,#5a7 420px,#306 444px,#20f 454px,#197 460px,#138 466px,#099 480px,#000 498px,#000 596px)"></i>
<i style="background:linear-gradient(#dd1 0px,#fff 16px,#fff 94px,#fb4 98px,#e21 114px,#b67 144px,#850 186px,#7d4 194px,#5ce 232px,#52f 246px,#4b0 260px,#419 280px,#3db 292px,#3cf 302px,#3f7 312px,#457 322px,#4cc 330px,#562 338px,#6da 356px,#77a 366px,#7d5 376px,#7e4 382px,#7dc 386px,#7b5 392px,#76c 398px,#705 404px,#68a 410px,#561 422px,#2bc 446px,#1cf 456px,#126 466px,#08a 480px,#000 496px,#000 596px)"></i>
<i style="background:linear-gradient(#dcf 0px,#fff 16px,#fff 94px,#faa 98px,#e1a 114px,#b64 144px,#84f 186px,#7d6 194px,#5d5 232px,#536 246px,#4a6 262px,#41e 280px,#3df 292px,#3d2 302px,#3fa 312px,#45a 322px,#4cf 330px,#565 338px,#6b7 354px,#760 364px,#7a7 370px,#7d2 376px,#7de 382px,#7d4 386px,#7aa 392px,#75f 398px,#67a 410px,#550 422px,#2a8 446px,#1bb 456px,#114 466px,#090 478px,#003 494px,#000 496px,#000 596px)"></i>
<i style="background:linear-gradient(#dcd 0px,#fff 16px,#fff 92px,#ff4 94px,#f9e 98px,#e3f 112px,#b60 144px,#9ab 168px,#84e 186px,#7d8 194px,#5c5 234px,#529 248px,#4ad 262px,#423 280px,#3e3 292px,#3d5 302px,#3fd 312px,#45d 322px,#4d2 330px,#568 338px,#6ba 354px,#760 364px,#7c4 374px,#7d8 380px,#7d3 384px,#7b1 390px,#789 394px,#6e6 404px,#63c 412px,#5aa 418px,#2cb 444px,#1d3 454px,#11e 464px,#083 478px,#000 494px,#000 596px)"></i>
<i style="background:linear-gradient(#dcb 0px,#fc4 14px,#fff 16px,#fff 92px,#f8d 98px,#e60 110px,#b33 146px,#9ac 168px,#84e 186px,#5cd 234px,#530 248px,#4b4 262px,#429 280px,#3e7 292px,#3d9 302px,#401 312px,#461 322px,#4d6 330px,#56c 338px,#6bc 354px,#760 364px,#7c0 374px,#7cf 378px,#7cb 384px,#7b6 388px,#77c 394px,#6d5 404px,#62b 412px,#599 418px,#2b9 444px,#1c1 454px,#14c 460px,#10f 464px,#077 478px,#000 492px,#000 596px)"></i>
<i style="background:linear-gradient(#dc9 0px,#e99 6px,#fc5 14px,#fff 16px,#fff 90px,#ff3 92px,#fa4 96px,#e4f 110px,#b31 146px,#9ac 168px,#84e 186px,#5be 236px,#539 248px,#4ab 264px,#422 282px,#3ec 292px,#3dd 302px,#405 312px,#465 322px,#4da 330px,#56f 338px,#6bd 354px,#75f 364px,#7bc 374px,#7ca 378px,#7c2 384px,#79a 390px,#753 396px,#6eb 402px,#646 410px,#51f 422px,#272 446px,#188 456px,#102 464px,#06c 478px,#003 490px,#000 492px,#000 596px)"></i>
<i style="background:linear-gradient(#dc8 0px,#fc6 14px,#fff 16px,#fff 90px,#f88 96px,#e67 108px,#ced 126px,#b30 146px,#9ac 168px,#84e 186px,#5b0 238px,#52e 250px,#4b3 264px,#428 282px,#3ea 294px,#3e5 304px,#40a 312px,#46a 322px,#4de 330px,#573 338px,#6be 354px,#75d 364px,#7b8 374px,#7bf 382px,#7ad 386px,#778 392px,#743 396px,#6d9 402px,#633 410px,#577 418px,#298 444px,#1a3 454px,#131 460px,#0f6 464px,#062 478px,#000 490px,#000 596px)"></i>
<i style="background:linear-gradient(#dc7 0px,#fc6 14px,#fff 16px,#fff 88px,#fea 90px,#e4f 108px,#ce2 126px,#b2f 146px,#9ad 168px,#84f 186px,#7f8 192px,#727 210px,#5a3 240px,#524 252px,#4ab 266px,#422 284px,#3ef 294px,#3e6 302px,#40f 312px,#46f 322px,#4e3 330px,#577 338px,#6be 354px,#75b 364px,#79a 370px,#7b3 374px,#7b6 382px,#792 388px,#74f 394px,#6ec 400px,#620 410px,#4fe 422px,#255 446px,#16e 456px,#0ed 464px,#059 478px,#002 488px,#000 490px,#000 596px)"></i>
<i style="background:linear-gradient(#dc6 0px,#fc6 14px,#fff 16px,#ffe 88px,#e5f 106px,#cd7 126px,#b2f 146px,#9ad 168px,#850 186px,#7fa 192px,#72e 210px,#596 242px,#51a 254px,#4a3 268px,#429 284px,#3f5 294px,#3eb 302px,#415 312px,#45d 320px,#4e8 330px,#553 336px,#6be 354px,#758 364px,#796 370px,#7ae 374px,#7ac 382px,#770 390px,#71f 396px,#5e2 412px,#4ef 422px,#248 446px,#164 456px,#0e5 464px,#03f 480px,#000 488px,#000 596px)"></i>
<i style="background:linear-gradient(#dc5 0px,#fc6 14px,#fff 16px,#fff 86px,#fe7 88px,#e6c 104px,#ccd 126px,#b2f 146px,#9ad 168px,#851 186px,#7e4 194px,#71c 212px,#5a1 242px,#524 254px,#49b 270px,#430 284px,#3fb 294px,#3f1 302px,#41b 312px,#464 320px,#4ed 330px,#57e 338px,#699 352px,#73a 362px,#79e 372px,#7a8 380px,#775 388px,#72c 394px,#6c5 400px,#5f9 410px,#4df 422px,#23d 446px,#15b 456px,#0df 464px,#038 480px,#003 486px,#000 488px,#000 596px)"></i>
<i style="background:linear-gradient(#dc3 0px,#fc5 14px,#fff 16px,#fff 86px,#e50 104px,#cc2 126px,#b09 148px,#9ac 168px,#852 186px,#7e7 194px,#724 212px,#595 244px,#51b 256px,#494 272px,#42b 286px,#3fc 296px,#3fc 304px,#422 312px,#46a 320px,#4f3 330px,#55b 336px,#697 352px,#736 362px,#797 372px,#79d 380px,#766 388px,#719 394px,#6b1 400px,#5bc 412px,#4d1 422px,#233 446px,#154 456px,#0c2 466px,#020 482px,#000 486px,#000 596px)"></i>
<i style="background:linear-gradient(#dc1 0px,#fc4 14px,#fff 16px,#fff 84px,#ff1 86px,#f1b 94px,#e36 104px,#cde 124px,#b09 148px,#9ac 168px,#854 186px,#7e9 194px,#72b 212px,#58a 246px,#513 258px,#48d 274px,#433 286px,#403 296px,#404 304px,#42a 312px,#471 320px,#4f9 330px,#695 352px,#731 362px,#78f 372px,#790 380px,#756 388px,#707 394px,#69d 400px,#5aa 412px,#4c2 422px,#22c 446px,#14e 456px,#0bd 466px,#01a 482px,#000 486px,#000 596px)"></i>
<i style="background:linear-gradient(#dbf 0px,#fc1 14px,#fff 16px,#fff 84px,#fe1 86px,#f06 94px,#e22 104px,#cb1 126px,#b0a 148px,#9ac 168px,#856 186px,#7ec 194px,#71a 214px,#595 246px,#51d 258px,#496 274px,#43c 286px,#40c 296px,#40c 304px,#432 312px,#479 320px,#4ff 330px,#692 352px,#72a 362px,#785 372px,#783 380px,#759 386px,#6f3 394px,#68a 400px,#56f 414px,#480 424px,#226 446px,#14a 456px,#0b9 466px,#004 484px,#000 596px)"></i>
<i style="background:linear-gradient(#dbd 0px,#fff 16px,#fff 84px,#ec3 96px,#e13 104px,#caa 126px,#ae5 150px,#9d0 166px,#859 186px,#7ef 194px,#721 214px,#58b 248px,#48f 276px,#439 288px,#411 298px,#41b 306px,#449 314px,#498 322px,#505 330px,#68e 352px,#723 362px,#76f 370px,#77c 378px,#75a 384px,#6fe 392px,#676 400px,#588 412px,#474 424px,#222 446px,#148 456px,#0b6 466px,#000 484px,#000 596px)"></i>
<i style="background:linear-gradient(#db9 0px,#ffd 16px,#ffa 84px,#eb6 96px,#e06 104px,#c82 128px,#85d 186px,#7f3 194px,#728 214px,#596 248px,#499 276px,#443 288px,#420 296px,#41f 304px,#444 312px,#48a 320px,#4ef 328px,#56d 336px,#68a 352px,#71a 362px,#763 370px,#76c 378px,#748 384px,#6eb 392px,#663 400px,#578 412px,#468 424px,#220 446px,#146 456px,#0b4 466px,#00e 482px,#000 484px,#000 596px)"></i>
<i style="background:linear-gradient(#db5 0px,#ff8 16px,#fff 82px,#fef 84px,#eab 96px,#dfd 104px,#c5b 130px,#860 186px,#7f6 194px,#719 216px,#5a2 248px,#4a3 276px,#44d 288px,#42b 296px,#429 304px,#44d 312px,#493 320px,#4f6 328px,#684 352px,#711 362px,#756 370px,#75c 378px,#736 384px,#6d7 392px,#651 400px,#568 412px,#45d 424px,#21f 446px,#146 456px,#0b2 466px,#00b 482px,#000 484px,#000 596px)"></i>
<i style="background:linear-gradient(#db0 0px,#ff3 16px,#fff 18px,#fff 82px,#fe5 84px,#ea3 96px,#df5 104px,#c59 130px,#863 186px,#7f9 194px,#70b 218px,#598 250px,#4ae 276px,#458 288px,#436 296px,#434 304px,#457 312px,#49c 320px,#4fd 328px,#67e 352px,#706 362px,#748 370px,#74b 378px,#724 384px,#6c3 392px,#63e 400px,#559 412px,#483 422px,#21f 446px,#147 456px,#0b1 466px,#009 482px,#000 596px)"></i>
<i style="background:linear-gradient(#dab 0px,#fee 16px,#fff 18px,#fff 82px,#fdc 84px,#e9c 96px,#def 104px,#c57 130px,#866 186px,#7fc 194px,#712 218px,#5a4 250px,#4b9 276px,#463 288px,#442 296px,#440 304px,#462 312px,#4a5 320px,#505 328px,#677 352px,#6fb 362px,#739 370px,#73a 378px,#710 384px,#6af 392px,#62c 400px,#54b 412px,#44a 424px,#1f1 448px,#124 458px,#099 468px,#008 482px,#000 596px)"></i>
<i style="background:linear-gradient(#da5 0px,#fe9 16px,#fff 18px,#fff 82px,#e97 96px,#dea 104px,#c57 130px,#8ce 180px,#84c 188px,#7d4 198px,#705 220px,#59b 252px,#4c4 276px,#46f 288px,#44e 296px,#44c 304px,#46c 312px,#4ae 320px,#50c 328px,#670 352px,#6ee 362px,#72a 370px,#728 378px,#6fd 384px,#69b 392px,#61a 400px,#53e 412px,#413 426px,#1f4 448px,#126 458px,#099 468px,#007 482px,#000 596px)"></i>
<i style="background:linear-gradient(#d9e 0px,#fe3 16px,#fff 18px,#fff 82px,#e92 96px,#de7 104px,#c56 130px,#8d0 180px,#84e 188px,#7d7 198px,#6f8 222px,#5a7 252px,#4cf 276px,#47b 288px,#45b 296px,#458 304px,#477 312px,#4b8 320px,#513 328px,#683 354px,#6e1 362px,#71a 370px,#715 378px,#6e8 384px,#686 392px,#531 412px,#43a 424px,#1f8 448px,#128 458px,#0b2 466px,#006 482px,#000 596px)"></i>
<i style="background:linear-gradient(#d98 0px,#fde 16px,#fff 18px,#ff9 82px,#e8e 96px,#de4 104px,#c57 130px,#8d2 180px,#851 188px,#7da 198px,#700 222px,#5b2 252px,#4eb 274px,#494 286px,#46d 294px,#462 302px,#478 310px,#4af 318px,#502 326px,#679 354px,#6d4 362px,#709 370px,#70a 376px,#6e7 382px,#6a7 388px,#5d4 402px,#4ff 414px,#45f 422px,#1fc 448px,#12b 458px,#0b4 466px,#006 482px,#000 596px)"></i>
<i style="background:linear-gradient(#d90 0px,#e62 6px,#f93 14px,#fd8 16px,#fff 18px,#fff 80px,#ff2 82px,#e8b 96px,#de1 104px,#c57 130px,#8d5 180px,#854 188px,#7dc 198px,#708 222px,#5bd 252px,#4f7 274px,#4a1 286px,#47a 294px,#470 302px,#483 310px,#4b9 318px,#50a 326px,#66f 354px,#6c5 362px,#6f8 370px,#6f7 376px,#6d2 382px,#692 388px,#5a2 404px,#4cf 416px,#42f 424px,#1d4 450px,#12e 458px,#0b6 466px,#007 482px,#000 596px)"></i>
<i style="background:linear-gradient(#d89 0px,#e58 6px,#f8d 14px,#fd3 16px,#fff 18px,#fff 80px,#fea 82px,#e87 96px,#ddf 104px,#c58 130px,#ac6 152px,#856 188px,#7df 198px,#70f 222px,#5b5 254px,#504 274px,#4ae 286px,#488 294px,#47d 302px,#48f 310px,#4b3 316px,#4fc 324px,#663 354px,#6b6 362px,#6e6 370px,#6e4 376px,#6bd 382px,#67c 388px,#610 396px,#551 408px,#4a1 418px,#401 426px,#1db 450px,#132 458px,#0b9 466px,#008 482px,#000 596px)"></i>
<i style="background:linear-gradient(#d82 0px,#e4e 6px,#f87 14px,#fff 18px,#fff 80px,#fe2 82px,#e83 96px,#ddd 104px,#c59 130px,#ac6 152px,#858 188px,#7e1 198px,#729 220px,#5d3 252px,#520 272px,#4c8 284px,#496 294px,#48b 302px,#49b 310px,#4be 316px,#505 324px,#6a6 362px,#6d3 370px,#6d0 376px,#6a8 382px,#64e 390px,#524 410px,#49a 418px,#3d5 428px,#136 458px,#0bd 466px,#009 482px,#000 596px)"></i>
<i style="background:linear-gradient(#d7d 0px,#e44 6px,#f7f 14px,#fff 18px,#fff 80px,#fa9 84px,#e7f 96px,#ddb 104px,#cdb 122px,#c5a 130px,#ac7 152px,#85b 188px,#7e3 198px,#72e 220px,#5de 252px,#52c 272px,#4ab 292px,#499 302px,#4a8 310px,#50d 324px,#695 362px,#6c0 370px,#6bb 376px,#692 382px,#639 390px,#4fa 412px,#3d5 428px,#13b 458px,#0c1 466px,#00a 482px,#000 596px)"></i>
<i style="background:linear-gradient(#d78 0px,#e3d 6px,#f76 14px,#ff5 18px,#ff9 80px,#e7a 96px,#dfd 102px,#c5b 130px,#ac8 152px,#85d 188px,#7d2 200px,#720 222px,#5fc 250px,#548 270px,#4ba 292px,#4a8 302px,#4b5 310px,#515 324px,#683 362px,#6ab 370px,#6a5 376px,#67c 382px,#60d 392px,#4d2 414px,#3ad 430px,#142 458px,#0c6 466px,#00b 482px,#000 484px,#000 596px)"></i>
<i style="background:linear-gradient(#d74 0px,#e38 6px,#fad 16px,#fe7 18px,#fff 20px,#fff 78px,#feb 80px,#fc1 82px,#ea2 94px,#dfa 102px,#c7e 128px,#ac9 152px,#860 188px,#7d4 200px,#723 222px,#606 250px,#555 270px,#4ca 292px,#4b7 302px,#4c2 310px,#50c 322px,#671 362px,#695 370px,#68e 376px,#666 382px,#5f9 392px,#4ab 416px,#386 432px,#126 460px,#0b2 468px,#00d 482px,#000 484px,#000 596px)"></i>
<i style="background:linear-gradient(#d71 0px,#e35 6px,#f9e 16px,#fff 20px,#fff 78px,#f85 84px,#e6f 96px,#df8 102px,#c7f 128px,#aca 152px,#863 188px,#7d5 200px,#725 222px,#60f 250px,#570 268px,#4e2 290px,#4c7 300px,#4cb 308px,#514 322px,#65e 362px,#67f 370px,#676 376px,#64f 382px,#5e6 392px,#4a6 416px,#38b 432px,#12f 460px,#0b8 468px,#00f 482px,#000 484px,#000 596px)"></i>
<i style="background:linear-gradient(#d6e 0px,#e31 6px,#f4e 14px,#ff9 20px,#fff 76px,#fee 78px,#fa2 82px,#e68 96px,#df4 102px,#c7f 128px,#aa9 154px,#84a 190px,#7c4 202px,#727 222px,#618 250px,#57c 268px,#4f1 290px,#4d6 300px,#4d8 308px,#50f 320px,#64b 362px,#667 370px,#65e 376px,#627 384px,#5bd 394px,#484 418px,#38f 432px,#138 460px,#0a3 470px,#000 484px,#000 596px)"></i>
<i style="background:linear-gradient(#d6c 0px,#f7e 16px,#fe7 20px,#fff 22px,#ffd 76px,#f90 82px,#e61 96px,#df1 102px,#c80 128px,#aaa 154px,#84c 190px,#7c4 202px,#728 222px,#597 266px,#541 278px,#501 290px,#4e5 300px,#4e6 308px,#518 320px,#637 362px,#650 370px,#645 376px,#621 382px,#5c1 392px,#520 406px,#481 418px,#402 426px,#36d 434px,#141 460px,#0a8 470px,#000 484px,#000 596px)"></i>
<i style="background:linear-gradient(#d6a 0px,#f33 14px,#fa4 18px,#fff 22px,#fff 74px,#fe9 76px,#f7f 82px,#e0e 100px,#c81 128px,#ace 152px,#84f 190px,#7c5 202px,#729 222px,#5b2 264px,#55b 276px,#519 288px,#4f7 298px,#4f3 308px,#520 320px,#623 362px,#637 370px,#62d 376px,#5fa 384px,#59a 394px,#4e6 410px,#462 420px,#373 434px,#1c1 454px,#126 462px,#092 472px,#000 484px,#000 596px)"></i>
<i style="background:linear-gradient(#d68 0px,#f5e 16px,#fec 22px,#fff 24px,#fff 72px,#ff3 74px,#f92 80px,#e08 100px,#c81 128px,#aad 154px,#8af 184px,#835 192px,#7b4 204px,#719 224px,#5bc 264px,#530 286px,#50b 296px,#4fe 306px,#51f 318px,#60e 362px,#61f 370px,#614 376px,#5e3 384px,#588 394px,#4df 410px,#460 420px,#378 434px,#1ca 454px,#12f 462px,#097 472px,#000 484px,#000 596px)"></i>
<i style="background:linear-gradient(#d65 0px,#f4f 16px,#fb0 20px,#ffc 24px,#ff9 72px,#f7e 80px,#e01 100px,#cfb 120px,#c82 128px,#ad0 152px,#836 192px,#7b3 204px,#719 224px,#5d6 262px,#57f 274px,#53e 286px,#514 298px,#50b 306px,#527 318px,#5f9 362px,#607 370px,#5f2 378px,#5bc 386px,#53c 400px,#4c1 412px,#443 422px,#357 436px,#1d2 454px,#137 462px,#09b 472px,#000 484px,#000 596px)"></i>
<i style="background:linear-gradient(#d62 0px,#f3f 16px,#fc5 22px,#fff 26px,#ffb 70px,#f6a 80px,#df9 100px,#cfb 120px,#c82 128px,#ad1 152px,#837 192px,#7b3 204px,#5ee 260px,#554 284px,#527 296px,#517 306px,#52f 318px,#5e3 362px,#5ee 370px,#5d9 378px,#596 388px,#4f6 406px,#48e 416px,#426 424px,#35d 436px,#1da 454px,#13e 462px,#0a0 472px,#000 484px,#000 596px)"></i>
<i style="background:linear-gradient(#d5e 0px,#f30 16px,#f8b 20px,#ff0 26px,#fff 28px,#ffa 68px,#f56 80px,#df2 100px,#d15 118px,#ca3 126px,#ad2 152px,#895 186px,#81d 194px,#7a2 206px,#606 258px,#573 280px,#523 304px,#52f 316px,#5d2 364px,#5cf 374px,#59d 384px,#4c6 410px,#472 418px,#409 426px,#363 436px,#145 462px,#0a4 472px,#002 484px,#000 596px)"></i>
<i style="background:linear-gradient(#d5b 0px,#f20 16px,#f9e 22px,#ff1 28px,#fff 30px,#ff5 66px,#f61 78px,#de9 100px,#d15 118px,#ca3 126px,#ad2 152px,#81d 194px,#7a1 206px,#61d 256px,#57e 280px,#52d 304px,#536 316px,#5be 366px,#5b0 376px,#579 386px,#4ab 412px,#408 426px,#367 436px,#14b 462px,#0a8 472px,#003 484px,#000 596px)"></i>
<i style="background:linear-gradient(#d56 0px,#f11 16px,#f8a 22px,#fda 28px,#ffe 32px,#ffd 62px,#f84 74px,#f0d 82px,#dfd 98px,#ce0 122px,#c1d 134px,#af4 150px,#992 172px,#857 190px,#7ec 198px,#791 208px,#5cd 268px,#57f 282px,#545 298px,#538 314px,#5a7 366px,#597 376px,#547 390px,#491 414px,#3eb 428px,#344 438px,#1c5 456px,#12e 464px,#08e 474px,#004 484px,#000 596px)"></i>
<i style="background:linear-gradient(#d52 0px,#f01 16px,#f54 20px,#fac 26px,#ffe 36px,#fff 56px,#ff0 60px,#fc3 66px,#f6d 74px,#efa 82px,#df3 98px,#ce0 122px,#c1d 134px,#af4 150px,#995 172px,#858 190px,#7eb 198px,#790 208px,#5e2 266px,#578 286px,#548 300px,#53b 310px,#58a 360px,#58d 370px,#563 382px,#4c6 406px,#463 418px,#3b0 432px,#347 438px,#156 462px,#0af 472px,#005 484px,#000 596px)"></i>
<i style="background:linear-gradient(#d4d 0px,#ef1 16px,#f41 20px,#f95 26px,#fd7 34px,#ff9 42px,#ffb 50px,#fd6 60px,#faa 66px,#f55 74px,#dea 98px,#ce0 122px,#c1d 134px,#af4 150px,#997 172px,#859 190px,#7eb 198px,#790 208px,#5e9 266px,#581 286px,#54f 300px,#540 310px,#575 370px,#54a 382px,#49d 410px,#430 422px,#38f 434px,#15b 462px,#0b2 472px,#006 484px,#000 596px)"></i>
<i style="background:linear-gradient(#d48 0px,#ee0 16px,#f2d 20px,#f7d 26px,#fbc 34px,#fdc 42px,#fdf 50px,#fba 60px,#f90 66px,#f3e 74px,#de1 98px,#cdf 122px,#c1d 134px,#af5 150px,#999 172px,#859 190px,#7eb 198px,#78f 208px,#5ef 266px,#588 286px,#550 302px,#544 310px,#55d 370px,#532 382px,#483 412px,#429 422px,#38d 434px,#13a 464px,#096 474px,#007 484px,#000 596px)"></i>
<i style="background:linear-gradient(#d43 0px,#e46 10px,#ecf 16px,#f18 20px,#f65 26px,#fa1 34px,#fc0 42px,#fc2 50px,#f9f 60px,#f75 66px,#f26 74px,#dda 98px,#cdd 122px,#c1d 134px,#ad4 152px,#99a 172px,#85a 190px,#7eb 198px,#78f 208px,#601 264px,#58e 286px,#549 308px,#54d 362px,#541 372px,#510 384px,#468 414px,#40a 424px,#387 434px,#13d 464px,#098 474px,#007 484px,#000 596px)"></i>
<i style="background:linear-gradient(#d3d 0px,#e3a 10px,#ebe 16px,#f03 20px,#f4d 26px,#f86 34px,#fa3 42px,#fa5 50px,#f83 60px,#f0e 74px,#dd3 98px,#d24 116px,#cdc 122px,#c1c 134px,#ad5 152px,#99b 172px,#85a 190px,#7eb 198px,#78e 208px,#606 264px,#592 286px,#54b 308px,#52e 370px,#503 382px,#45b 414px,#401 424px,#380 434px,#318 440px,#13f 464px,#099 474px,#008 484px,#000 596px)"></i>
<i style="background:linear-gradient(#d37 0px,#e85 14px,#eee 20px,#f34 26px,#f6a 34px,#f88 44px,#f7f 54px,#f5b 62px,#ef7 74px,#de2 96px,#d22 116px,#cda 122px,#c1c 134px,#ad5 152px,#99c 172px,#85a 190px,#7ea 198px,#78e 208px,#60a 264px,#585 290px,#54c 308px,#517 370px,#4eb 382px,#44d 414px,#3f6 424px,#378 434px,#312 440px,#140 464px,#008 484px,#000 596px)"></i>
<i style="background:linear-gradient(#d30 0px,#df5 8px,#e75 14px,#ed8 20px,#f1a 26px,#f4e 34px,#f6a 44px,#f61 54px,#f3f 62px,#edf 74px,#dda 96px,#d33 114px,#cd8 122px,#c3d 132px,#ad5 152px,#99c 172px,#83a 192px,#7d4 200px,#78d 208px,#60d 264px,#57e 292px,#54b 308px,#500 370px,#469 406px,#430 416px,#3d5 426px,#350 436px,#141 464px,#007 484px,#000 596px)"></i>
<i style="background:linear-gradient(#d27 0px,#de9 8px,#e63 14px,#ec1 20px,#f00 26px,#f31 34px,#f4b 44px,#f43 54px,#f23 62px,#ec8 74px,#dd2 96px,#d31 114px,#cd6 122px,#c3c 132px,#ad4 152px,#99c 172px,#83a 192px,#7d3 200px,#78d 208px,#6e6 234px,#60f 264px,#576 294px,#549 308px,#4e9 370px,#457 406px,#421 416px,#3c9 426px,#346 436px,#11e 466px,#006 484px,#000 596px)"></i>
<i style="background:linear-gradient(#d1e 0px,#ddd 8px,#e52 14px,#eaa 20px,#ee6 26px,#f14 34px,#f2c 44px,#f25 54px,#efc 64px,#e9e 76px,#dde 94px,#d2e 114px,#cd4 122px,#c3b 132px,#ad3 152px,#99b 172px,#839 192px,#7d2 200px,#78c 208px,#6e8 234px,#611 264px,#575 294px,#546 308px,#4d2 370px,#411 416px,#3bb 426px,#33b 436px,#11d 466px,#005 484px,#000 596px)"></i>
<i style="background:linear-gradient(#d14 0px,#dcf 8px,#e3f 14px,#e93 20px,#ecb 26px,#efd 36px,#f0e 46px,#f02 56px,#ee1 64px,#e88 76px,#dd4 94px,#d2b 114px,#cd2 122px,#c39 132px,#ad1 152px,#99a 172px,#837 192px,#7d1 200px,#78c 208px,#6eb 234px,#61f 262px,#573 294px,#547 306px,#526 324px,#4f0 342px,#4bb 370px,#42b 408px,#3f3 418px,#398 428px,#330 436px,#11c 466px,#004 484px,#000 596px)"></i>
<i style="background:linear-gradient(#d08 0px,#dc0 8px,#e2b 14px,#e7a 20px,#eae 26px,#edd 36px,#eef 46px,#ee5 56px,#ebb 66px,#e83 74px,#dcb 94px,#d3b 112px,#cd0 122px,#c37 132px,#ace 152px,#999 172px,#836 192px,#7cf 200px,#78b 208px,#6ec 234px,#620 262px,#570 294px,#4de 342px,#4a5 370px,#418 408px,#3e2 418px,#389 428px,#305 438px,#0f8 468px,#002 484px,#000 596px)"></i>
<i style="background:linear-gradient(#cfb 0px,#d87 6px,#df8 12px,#e4b 18px,#e92 26px,#ebd 36px,#ece 46px,#ec7 56px,#ea1 66px,#d49 110px,#ce7 120px,#c34 132px,#acb 152px,#998 172px,#834 192px,#7ce 200px,#78a 208px,#6ee 234px,#621 262px,#564 296px,#4cb 342px,#48e 370px,#405 408px,#3d1 418px,#37a 428px,#2f9 438px,#0f6 468px,#000 484px,#000 596px)"></i>
<i style="background:linear-gradient(#cec 0px,#d77 6px,#de3 12px,#e32 18px,#e74 26px,#e9d 36px,#eaf 48px,#ea5 58px,#e7d 68px,#d47 110px,#ce5 120px,#c30 132px,#ae8 150px,#995 172px,#831 192px,#7cc 200px,#789 208px,#6fc 232px,#622 262px,#55f 296px,#504 324px,#4b8 342px,#478 370px,#427 390px,#3f2 408px,#3bf 418px,#36a 428px,#2ec 438px,#0d2 470px,#000 484px,#000 596px)"></i>
<i style="background:linear-gradient(#cdb 0px,#d64 6px,#dcd 12px,#e18 18px,#e55 26px,#e81 38px,#e8f 50px,#e84 60px,#e5a 70px,#d44 110px,#ce3 120px,#c4f 130px,#ae3 150px,#992 172px,#82f 192px,#7ca 200px,#788 208px,#6fd 232px,#622 262px,#547 300px,#4f6 324px,#4a4 342px,#46e 366px,#412 390px,#3df 408px,#39f 420px,#344 430px,#2df 438px,#0ce 470px,#000 484px,#000 596px)"></i>
<i style="background:linear-gradient(#cc8 0px,#d4f 6px,#db5 12px,#dfc 18px,#e35 26px,#e5e 38px,#e70 52px,#e63 62px,#e38 72px,#d51 108px,#ce1 120px,#c4b 130px,#adf 150px,#98f 172px,#84c 190px,#7f5 196px,#7b5 202px,#6ef 234px,#623 262px,#537 302px,#4e7 324px,#48f 342px,#44b 370px,#3fe 390px,#3cc 408px,#38d 420px,#334 430px,#2d1 438px,#0ab 472px,#000 484px,#000 596px)"></i>
<i style="background:linear-gradient(#cb3 0px,#d38 6px,#d9b 12px,#ddf 18px,#e14 26px,#e3c 38px,#e50 52px,#e49 62px,#e23 72px,#d4f 108px,#ce0 120px,#c47 130px,#ada 150px,#98b 172px,#848 190px,#7f2 196px,#7b3 202px,#6fc 232px,#615 264px,#525 304px,#4d7 324px,#47a 342px,#442 366px,#3bf 406px,#37b 420px,#323 430px,#2a7 440px,#087 474px,#011 482px,#000 484px,#000 596px)"></i>
<i style="background:linear-gradient(#c9c 0px,#d44 8px,#dae 16px,#df2 26px,#e21 42px,#e33 56px,#e25 66px,#d65 104px,#d21 114px,#ca6 124px,#af5 148px,#9a8 170px,#845 190px,#7ef 196px,#7b0 202px,#708 230px,#614 264px,#510 306px,#4c7 324px,#464 342px,#42b 366px,#3ab 406px,#368 420px,#312 430px,#299 440px,#00d 482px,#000 484px,#000 596px)"></i>
<i style="background:linear-gradient(#c83 0px,#d28 8px,#d62 12px,#d9f 18px,#ddd 30px,#e0a 48px,#e17 58px,#e09 68px,#d5a 106px,#d0e 116px,#ca4 124px,#aef 148px,#9a4 170px,#842 190px,#7ec 196px,#7ae 202px,#6f9 232px,#612 264px,#528 300px,#4b5 324px,#461 338px,#398 406px,#355 420px,#301 430px,#28a 440px,#008 482px,#000 596px)"></i>
<i style="background:linear-gradient(#c67 0px,#d0a 8px,#d43 12px,#d7c 18px,#db8 30px,#df2 52px,#dfc 62px,#dee 70px,#d5a 106px,#d23 114px,#cc2 122px,#c5f 128px,#ae9 148px,#9a0 170px,#81f 192px,#7ab 202px,#6f6 232px,#504 304px,#4a4 324px,#441 340px,#384 406px,#334 422px,#2db 432px,#260 442px,#003 482px,#000 596px)"></i>
<i style="background:linear-gradient(#c49 0px,#cea 8px,#d21 12px,#d57 18px,#d91 30px,#dd8 54px,#dda 70px,#d51 108px,#d11 116px,#cc3 122px,#ae2 148px,#99d 170px,#83a 190px,#7ba 200px,#77d 208px,#6f3 232px,#4f8 304px,#492 324px,#42b 340px,#370 406px,#321 422px,#2c9 432px,#252 442px,#000 482px,#000 596px)"></i>
<i style="background:linear-gradient(#c28 0px,#cc8 8px,#d21 16px,#d61 28px,#dc0 56px,#dc3 72px,#d55 108px,#d15 116px,#cc4 122px,#adc 148px,#999 170px,#817 192px,#7cb 198px,#795 204px,#6fc 230px,#4dd 306px,#48c 322px,#415 340px,#35d 406px,#30e 422px,#2b8 432px,#243 442px,#000 482px,#000 596px)"></i>
<i style="background:linear-gradient(#c04 0px,#ca2 8px,#cf8 16px,#d2e 26px,#da4 56px,#db1 72px,#d5a 108px,#d2f 114px,#ce5 120px,#c81 126px,#b3f 142px,#ad6 148px,#996 170px,#813 192px,#7c8 198px,#793 204px,#6f8 230px,#4cf 306px,#47b 322px,#3ff 340px,#349 406px,#2fa 422px,#2a6 432px,#233 442px,#00e 480px,#000 482px,#000 596px)"></i>
<i style="background:linear-gradient(#bde 0px,#c78 8px,#ccc 16px,#d8f 58px,#da1 72px,#d7f 88px,#d7b 100px,#d61 108px,#d35 114px,#cea 120px,#c83 126px,#af2 146px,#9b3 168px,#82f 190px,#7c5 198px,#782 206px,#6f2 230px,#532 292px,#4bf 306px,#469 322px,#3e0 342px,#33b 404px,#2e7 422px,#294 432px,#20b 444px,#008 480px,#000 596px)"></i>
<i style="background:linear-gradient(#bb3 0px,#c4b 8px,#c9b 16px,#d75 58px,#d90 72px,#d7c 88px,#d82 100px,#d6a 108px,#d3d 114px,#cef 120px,#c85 126px,#b0f 144px,#991 170px,#84e 188px,#7d9 196px,#78d 204px,#6fa 228px,#59e 274px,#526 292px,#4b0 306px,#457 322px,#3cd 342px,#328 404px,#2d3 422px,#282 432px,#1fb 444px,#001 480px,#000 596px)"></i>
<i style="background:linear-gradient(#b86 0px,#bfc 6px,#c58 14px,#d5a 58px,#d82 74px,#d8b 100px,#d74 108px,#d45 114px,#cf6 120px,#c89 126px,#b0c 144px,#990 170px,#84b 188px,#7d7 196px,#78b 204px,#701 226px,#590 274px,#519 292px,#4a0 306px,#452 320px,#3bb 342px,#314 404px,#2c0 422px,#26f 432px,#1ec 444px,#000 480px,#000 596px)"></i>
<i style="background:linear-gradient(#b56 0px,#bc7 6px,#c21 14px,#d40 58px,#d75 74px,#d96 98px,#d89 106px,#d4e 114px,#cfd 120px,#c8d 126px,#b09 144px,#98e 170px,#84a 188px,#7d5 196px,#789 204px,#6f9 226px,#571 276px,#50a 292px,#48f 306px,#3a2 344px,#300 404px,#2ac 422px,#25d 432px,#1f4 442px,#00d 478px,#000 480px,#000 596px)"></i>
<i style="background:linear-gradient(#b23 0px,#b8f 6px,#bd6 12px,#d25 58px,#d5d 70px,#d9c 96px,#d96 106px,#d57 114px,#d04 120px,#c91 126px,#b80 138px,#b07 144px,#98d 170px,#848 188px,#7d3 196px,#786 204px,#6ef 226px,#560 276px,#4fa 292px,#47e 306px,#391 344px,#2ed 404px,#299 422px,#24a 432px,#1cc 444px,#005 478px,#000 596px)"></i>
<i style="background:linear-gradient(#aed 0px,#b55 6px,#b9b 12px,#d17 60px,#d54 72px,#da5 96px,#dae 102px,#da2 106px,#d5f 114px,#d0b 120px,#cc0 124px,#b7f 138px,#b06 144px,#98c 170px,#847 188px,#7d1 196px,#783 204px,#6e4 226px,#54d 276px,#4e7 292px,#46b 306px,#380 344px,#2d9 404px,#285 422px,#238 432px,#1bc 444px,#000 478px,#000 596px)"></i>
<i style="background:linear-gradient(#ab6 0px,#b19 6px,#b5e 12px,#cfd 60px,#d44 72px,#dae 96px,#db9 102px,#dad 106px,#d67 114px,#d10 120px,#cc4 124px,#b7f 138px,#b05 144px,#98b 170px,#845 188px,#7d0 196px,#780 204px,#648 242px,#5c4 260px,#529 278px,#4d2 292px,#457 306px,#367 346px,#2c5 404px,#271 422px,#225 432px,#1ac 444px,#00e 476px,#000 478px,#000 596px)"></i>
<i style="background:linear-gradient(#a7d 0px,#b0c 10px,#bbc 30px,#ce3 60px,#d35 72px,#db6 96px,#dc3 102px,#db6 106px,#d6e 114px,#d15 120px,#b05 144px,#aa3 150px,#98a 170px,#844 188px,#7ce 196px,#78e 202px,#635 242px,#5af 260px,#513 278px,#4ba 292px,#441 306px,#355 346px,#2b2 404px,#25d 422px,#213 432px,#19b 444px,#004 476px,#000 596px)"></i>
<i style="background:linear-gradient(#a43 0px,#ace 10px,#b87 30px,#cc8 60px,#db2 94px,#dca 100px,#dc6 104px,#d9f 110px,#d3b 118px,#cc9 124px,#b7f 138px,#b05 144px,#aa3 150px,#988 170px,#842 188px,#7cb 196px,#631 240px,#4fc 278px,#4a1 292px,#42b 306px,#343 346px,#2a4 402px,#24a 422px,#200 432px,#18b 444px,#000 476px,#000 596px)"></i>
<i style="background:linear-gradient(#a08 0px,#a78 8px,#b3b 28px,#cac 60px,#d43 78px,#db6 94px,#dd0 100px,#dcc 104px,#da3 110px,#d3d 118px,#cca 124px,#b7e 138px,#b04 144px,#987 170px,#83f 188px,#7c7 196px,#61b 240px,#4e3 278px,#487 292px,#414 306px,#331 346px,#291 402px,#236 422px,#1ed 432px,#18f 442px,#108 454px,#00a 474px,#000 476px,#000 596px)"></i>
<i style="background:linear-gradient(#9cc 0px,#a38 8px,#b02 28px,#c34 52px,#ca3 62px,#d49 80px,#db7 94px,#dd4 100px,#dcf 104px,#da5 110px,#d3e 118px,#cc9 124px,#b7e 138px,#b04 144px,#985 170px,#83c 188px,#7aa 198px,#604 240px,#4ba 280px,#45f 294px,#3fc 306px,#31f 346px,#27d 402px,#222 422px,#1da 432px,#169 444px,#000 474px,#000 596px)"></i>
<i style="background:linear-gradient(#98f 0px,#9f8 8px,#aca 28px,#c0f 52px,#c87 62px,#d3e 80px,#db5 94px,#dd5 100px,#dcf 104px,#da4 110px,#d3d 118px,#cc7 124px,#b7c 138px,#b03 144px,#983 170px,#838 188px,#7a3 198px,#684 224px,#5fd 238px,#4a0 280px,#3e4 306px,#304 348px,#269 402px,#21b 420px,#1d7 430px,#16d 442px,#000 474px,#000 596px)"></i>
<i style="background:linear-gradient(#953 0px,#9b7 8px,#a78 26px,#c20 56px,#d1a 78px,#dbe 96px,#dd1 100px,#dcb 104px,#da1 110px,#d39 118px,#cc4 124px,#ba7 136px,#b01 144px,#980 170px,#833 188px,#7b6 196px,#62d 230px,#477 282px,#3be 308px,#30b 342px,#2cf 358px,#256 402px,#1fb 422px,#1b5 432px,#147 444px,#002 472px,#000 596px)"></i>
<i style="background:linear-gradient(#916 0px,#a3f 26px,#bfd 56px,#d08 78px,#db6 96px,#dc9 100px,#dc4 104px,#d9b 110px,#d33 118px,#cbe 124px,#ba4 136px,#aff 144px,#97c 170px,#82c 188px,#793 198px,#611 230px,#45e 282px,#39b 310px,#2f8 342px,#2bd 358px,#242 402px,#1e7 422px,#14a 442px,#000 472px,#000 596px)"></i>
<i style="background:linear-gradient(#8d9 0px,#9eb 24px,#bd8 56px,#d0c 80px,#daa 96px,#dbd 100px,#dba 104px,#d92 110px,#d2a 118px,#cb6 124px,#b74 138px,#afd 144px,#997 168px,#825 188px,#789 198px,#64e 222px,#5f5 230px,#445 282px,#384 310px,#2e5 342px,#2aa 358px,#22f 402px,#1df 420px,#19e 430px,#138 442px,#002 470px,#000 596px)"></i>
<i style="background:linear-gradient(#89d 0px,#9b2 24px,#bb3 56px,#cf6 80px,#d9c 96px,#daf 100px,#dac 104px,#d86 110px,#d1f 118px,#cad 124px,#b6f 138px,#ad7 146px,#992 168px,#7b9 194px,#64e 220px,#5b2 234px,#42c 282px,#36e 310px,#2d2 342px,#21b 402px,#1cc 420px,#18b 430px,#127 442px,#000 470px,#000 596px)"></i>
<i style="background:linear-gradient(#862 0px,#911 16px,#979 24px,#b6f 54px,#cde 80px,#d7b 94px,#d9d 100px,#d9c 104px,#d78 110px,#d13 118px,#ca2 124px,#b6a 138px,#af5 144px,#98c 168px,#7ae 194px,#617 222px,#583 236px,#414 282px,#358 310px,#2c7 340px,#284 358px,#207 402px,#1b8 420px,#115 442px,#000 468px,#000 596px)"></i>
<i style="background:linear-gradient(#827 0px,#8be 14px,#924 22px,#b48 54px,#cc5 80px,#d67 94px,#d8a 100px,#d8a 104px,#d67 110px,#d04 118px,#c96 124px,#b63 138px,#af0 144px,#986 168px,#7a2 194px,#5fa 222px,#576 234px,#3fb 282px,#343 310px,#2b4 340px,#271 358px,#1f4 402px,#1a4 420px,#115 440px,#009 466px,#000 468px,#000 596px)"></i>
<i style="background:linear-gradient(#7ee 0px,#882 14px,#8ec 22px,#b21 54px,#cc6 82px,#d29 90px,#d61 96px,#d77 102px,#d6f 106px,#d42 112px,#cd3 120px,#ae9 144px,#97e 168px,#7b7 192px,#5de 222px,#559 234px,#3e3 282px,#32d 310px,#2a9 338px,#25f 358px,#1e0 402px,#191 420px,#103 440px,#000 466px,#000 596px)"></i>
<i style="background:linear-gradient(#7b6 0px,#849 14px,#8b6 22px,#ad8 52px,#bdb 68px,#caa 82px,#d10 90px,#d49 96px,#d60 102px,#d59 106px,#d2e 112px,#cc2 120px,#ae2 144px,#976 168px,#7a9 192px,#5a6 224px,#53c 234px,#3cb 282px,#317 310px,#296 338px,#24c 358px,#1d4 400px,#188 418px,#0f1 440px,#003 464px,#000 596px)"></i>
<i style="background:linear-gradient(#780 0px,#7e4 10px,#862 20px,#8ea 28px,#ab0 52px,#bba 68px,#c8e 82px,#cf5 90px,#d2f 96px,#d44 100px,#d41 106px,#d18 112px,#caf 120px,#afc 142px,#96c 168px,#7bf 190px,#625 214px,#58a 224px,#520 234px,#3b3 282px,#302 310px,#28a 336px,#239 358px,#1c0 400px,#174 418px,#0ef 438px,#000 464px,#000 596px)"></i>
<i style="background:linear-gradient(#74c 0px,#7af 10px,#82f 20px,#8bb 28px,#a89 52px,#b99 68px,#c70 82px,#cd9 90px,#d13 96px,#d29 100px,#d27 106px,#cec 114px,#c7a 122px,#af2 142px,#961 168px,#7b1 190px,#60d 214px,#570 224px,#53c 228px,#4f4 236px,#39b 282px,#2ed 310px,#277 336px,#226 358px,#1ad 400px,#161 418px,#0dd 438px,#000 462px,#000 596px)"></i>
<i style="background:linear-gradient(#719 0px,#77c 10px,#7ff 20px,#88d 28px,#a62 52px,#b77 68px,#c52 82px,#cbc 90px,#cf6 96px,#d10 102px,#d0b 106px,#cd3 114px,#c65 122px,#ae7 142px,#955 168px,#7a3 190px,#5f6 214px,#557 224px,#4da 236px,#384 282px,#2e2 308px,#26b 334px,#21a 356px,#1a0 398px,#157 416px,#0cb 438px,#001 460px,#000 596px)"></i>
<i style="background:linear-gradient(#6e9 0px,#74c 10px,#7d1 20px,#860 28px,#a3b 52px,#b77 70px,#c34 82px,#c9e 90px,#cd8 96px,#cf2 102px,#cef 106px,#cba 114px,#c4f 122px,#adc 142px,#946 168px,#76f 192px,#5e0 214px,#540 224px,#4c1 236px,#37a 280px,#2cd 308px,#260 332px,#207 356px,#18d 398px,#144 416px,#0d7 434px,#006 458px,#000 460px,#000 596px)"></i>
<i style="background:linear-gradient(#6ba 0px,#736 12px,#7c7 22px,#a3a 54px,#b56 70px,#c14 82px,#c7f 90px,#cb8 96px,#cd3 102px,#cd0 106px,#c9e 114px,#c18 124px,#ad0 142px,#937 168px,#75f 192px,#5cb 214px,#52a 224px,#4e0 230px,#498 238px,#362 280px,#2c3 306px,#254 330px,#1fb 354px,#179 398px,#130 416px,#0c4 434px,#000 458px,#000 596px)"></i>
<i style="background:linear-gradient(#68d 0px,#70a 12px,#79d 22px,#a14 54px,#b34 70px,#bf4 82px,#c5e 90px,#c97 96px,#cb2 102px,#cb1 106px,#ca1 110px,#c6e 116px,#be0 126px,#ac2 142px,#927 168px,#79c 188px,#600 210px,#516 224px,#4cb 230px,#481 238px,#34b 280px,#2ae 306px,#240 330px,#126 414px,#0b1 434px,#000 456px,#000 596px)"></i>
<i style="background:linear-gradient(#661 0px,#6e1 12px,#775 22px,#a15 56px,#b12 70px,#bd3 82px,#c3d 90px,#c76 96px,#c91 102px,#c91 106px,#c65 114px,#c07 122px,#a93 144px,#95b 164px,#5ec 210px,#502 224px,#4a1 232px,#459 240px,#335 280px,#299 306px,#234 328px,#113 414px,#0ac 432px,#000 454px,#000 596px)"></i>
</div></div>
<svg width="2500" height="2299" viewBox="0 0 2500 2299" xmlns="http://www.w3.org/2000/svg">
<defs><linearGradient id="cbg0" gradientUnits="userSpaceOnUse" x1="0" y1="104.8" x2="0" y2="690.6"><stop offset="0" stop-color="#ffbe8c"/><stop offset=".02" stop-color="#f9ab86"/><stop offset=".04" stop-color="#f28d7c"/><stop offset=".06" stop-color="#eb6c6b"/><stop offset=".08" stop-color="#e34c57"/><stop offset=".1" stop-color="#de3442"/><stop offset=".12" stop-color="#db2633"/><stop offset=".14" stop-color="#db1f25"/><stop offset=".16" stop-color="#dd2617"/><stop offset=".18" stop-color="#e34110"/><stop offset=".2" stop-color="#eb5f0a"/><stop offset=".22" stop-color="#f77c02"/><stop offset=".24" stop-color="#fd9500"/><stop offset=".26" stop-color="#ffab00"/><stop offset=".28" stop-color="#ffbf00"/><stop offset=".3" stop-color="#ffcb00"/><stop offset=".32" stop-color="#fed200"/><stop offset=".34" stop-color="#fbd400"/><stop offset=".36" stop-color="#ebd303"/><stop offset=".38" stop-color="#d6d104"/><stop offset=".4" stop-color="#bccd02"/><stop offset=".42" stop-color="#96c702"/><stop offset=".44" stop-color="#70bf05"/><stop offset=".46" stop-color="#4fba09"/><stop offset=".48" stop-color="#36b511"/><stop offset=".5" stop-color="#2ab219"/><stop offset=".52" stop-color="#23af1f"/><stop offset=".54" stop-color="#1faf23"/><stop offset=".56" stop-color="#17b130"/><stop offset=".58" stop-color="#0cb642"/><stop offset=".6" stop-color="#02be5a"/><stop offset=".62" stop-color="#00c878"/><stop offset=".64" stop-color="#00cc8f"/><stop offset=".66" stop-color="#00c8aa"/><stop offset=".68" stop-color="#02c5c8"/><stop offset=".7" stop-color="#04bce0"/><stop offset=".72" stop-color="#07aff2"/><stop offset=".74" stop-color="#1b9efa"/><stop offset=".76" stop-color="#288ffd"/><stop offset=".78" stop-color="#3581ff"/><stop offset=".8" stop-color="#4474ff"/><stop offset=".82" stop-color="#5067ff"/><stop offset=".84" stop-color="#5b5aff"/><stop offset=".86" stop-color="#644eff"/><stop offset=".88" stop-color="#6b43ff"/><stop offset=".9" stop-color="#733cff"/><stop offset=".92" stop-color="#7e38ff"/><stop offset=".94" stop-color="#933fff"/><stop offset=".96" stop-color="#ae4bfd"/><stop offset=".98" stop-color="#cd5cfa"/><stop offset="1" stop-color="#e870f6"/></linearGradient><linearGradient id="cbg1" gradientUnits="userSpaceOnUse" x1="0" y1="854.2" x2="0" y2="1441.8"><stop offset="0" stop-color="#ffbe8c"/><stop offset=".02" stop-color="#f9ab86"/><stop offset=".04" stop-color="#f28d7c"/><stop offset=".06" stop-color="#eb6c6b"/><stop offset=".08" stop-color="#e34c57"/><stop offset=".1" stop-color="#de3442"/><stop offset=".12" stop-color="#db2633"/><stop offset=".14" stop-color="#db1f25"/><stop offset=".16" stop-color="#dd2617"/><stop offset=".18" stop-color="#e34110"/><stop offset=".2" stop-color="#eb5f0a"/><stop offset=".22" stop-color="#f77c02"/><stop offset=".24" stop-color="#fd9500"/><stop offset=".26" stop-color="#ffab00"/><stop offset=".28" stop-color="#ffbf00"/><stop offset=".3" stop-color="#ffcb00"/><stop offset=".32" stop-color="#fed200"/><stop offset=".34" stop-color="#fbd400"/><stop offset=".36" stop-color="#ebd303"/><stop offset=".38" stop-color="#d6d104"/><stop offset=".4" stop-color="#bccd02"/><stop offset=".42" stop-color="#96c702"/><stop offset=".44" stop-color="#70bf05"/><stop offset=".46" stop-color="#4fba09"/><stop offset=".48" stop-color="#36b511"/><stop offset=".5" stop-color="#2ab219"/><stop offset=".52" stop-color="#23af1f"/><stop offset=".54" stop-color="#1faf23"/><stop offset=".56" stop-color="#17b130"/><stop offset=".58" stop-color="#0cb642"/><stop offset=".6" stop-color="#02be5a"/><stop offset=".62" stop-color="#00c878"/><stop offset=".64" stop-color="#00cc8f"/><stop offset=".66" stop-color="#00c8aa"/><stop offset=".68" stop-color="#02c5c8"/><stop offset=".7" stop-color="#04bce0"/><stop offset=".72" stop-color="#07aff2"/><stop offset=".74" stop-color="#1b9efa"/><stop offset=".76" stop-color="#288ffd"/><stop offset=".78" stop-color="#3581ff"/><stop offset=".8" stop-color="#4474ff"/><stop offset=".82" stop-color="#5067ff"/><stop offset=".84" stop-color="#5b5aff"/><stop offset=".86" stop-color="#644eff"/><stop offset=".88" stop-color="#6b43ff"/><stop offset=".9" stop-color="#733cff"/><stop offset=".92" stop-color="#7e38ff"/><stop offset=".94" stop-color="#933fff"/><stop offset=".96" stop-color="#ae4bfd"/><stop offset=".98" stop-color="#cd5cfa"/><stop offset="1" stop-color="#e870f6"/></linearGradient><linearGradient id="cbg2" gradientUnits="userSpaceOnUse" x1="0" y1="1597" x2="0" y2="2181"><stop offset="0" stop-color="#ffbe8c"/><stop offset=".02" stop-color="#f9ab86"/><stop offset=".04" stop-color="#f28d7c"/><stop offset=".06" stop-color="#eb6c6b"/><stop offset=".08" stop-color="#e34c57"/><stop offset=".1" stop-color="#de3442"/><stop offset=".12" stop-color="#db2633"/><stop offset=".14" stop-color="#db1f25"/><stop offset=".16" stop-color="#dd2617"/><stop offset=".18" stop-color="#e34110"/><stop offset=".2" stop-color="#eb5f0a"/><stop offset=".22" stop-color="#f77c02"/><stop offset=".24" stop-color="#fd9500"/><stop offset=".26" stop-color="#ffab00"/><stop offset=".28" stop-color="#ffbf00"/><stop offset=".3" stop-color="#ffcb00"/><stop offset=".32" stop-color="#fed200"/><stop offset=".34" stop-color="#fbd400"/><stop offset=".36" stop-color="#ebd303"/><stop offset=".38" stop-color="#d6d104"/><stop offset=".4" stop-color="#bccd02"/><stop offset=".42" stop-color="#96c702"/><stop offset=".44" stop-color="#70bf05"/><stop offset=".46" stop-color="#4fba09"/><stop offset=".48" stop-color="#36b511"/><stop offset=".5" stop-color="#2ab219"/><stop offset=".52" stop-color="#23af1f"/><stop offset=".54" stop-color="#1faf23"/><stop offset=".56" stop-color="#17b130"/><stop offset=".58" stop-color="#0cb642"/><stop offset=".6" stop-color="#02be5a"/><stop offset=".62" stop-color="#00c878"/><stop offset=".64" stop-color="#00cc8f"/><stop offset=".66" stop-color="#00c8aa"/><stop offset=".68" stop-color="#02c5c8"/><stop offset=".7" stop-color="#04bce0"/><stop offset=".72" stop-color="#07aff2"/><stop offset=".74" stop-color="#1b9efa"/><stop offset=".76" stop-color="#288ffd"/><stop offset=".78" stop-color="#3581ff"/><stop offset=".8" stop-color="#4474ff"/><stop offset=".82" stop-color="#5067ff"/><stop offset=".84" stop-color="#5b5aff"/><stop offset=".86" stop-color="#644eff"/><stop offset=".88" stop-color="#6b43ff"/><stop offset=".9" stop-color="#733cff"/><stop offset=".92" stop-color="#7e38ff"/><stop offset=".94" stop-color="#933fff"/><stop offset=".96" stop-color="#ae4bfd"/><stop offset=".98" stop-color="#cd5cfa"/><stop offset="1" stop-color="#e870f6"/></linearGradient></defs>
<g id="section1">
<path d="M139.6 690.6L139.6 143.5L147.4 153.5L154.9 164.7L161.1 167.2L164.8 182.1L171 202L176 210.7L179.8 213.2L182.2 231.8L186 259.2L190.9 284.1L195.9 286.6L198.4 306.5L202.1 323.9L207.1 348.8L212.1 373.6L215.8 386.1L219.6 400L220.8 404.9L227 422.3L234.5 434.8L241.9 444.7L246.9 454.7L256.9 460.9L269.3 468.4L279.3 475.8L289.2 479.6L299.2 487L309.1 492L319.1 499.5L326.5 505.7L334 513.1L343.9 519.4L353.9 525.6L363.8 529.3L378.8 533L391.2 538L403.6 544.2L416.1 551.7L428.5 557.9L440.9 564.1L453.4 571.6L465.8 575.3L478.3 580.3L490.7 585.3L503.1 589L508.1 590.2L513.1 580.3L525.5 576.1L538 580.3L552.9 586.5L567.8 590.2L577.8 591.5L590.2 595.2L600 602.7L607.5 599L619.9 593.5L627.4 597.7L637.3 606.4L649.8 608.9L664.7 612.6L674.6 618.9L684.6 623.8L692 630L699.5 635L707 627.6L716.9 622.6L726.9 617.6L738.1 615.1L744.3 622.6L751.7 627.6L756.7 635L761.7 643.7L769.2 643.7L776.6 638.8L784.1 635L790.3 625.1L796.5 630L804 635L811.4 646.2L818.9 652.4L823.9 661.1L831.3 671.1L836.3 678.6L840 690.6L858.7 690.6L863.7 666.1L868.7 648.7L873.6 658.7L878.6 638.8L884.8 622.6L889.8 625.1L896 616.4L903.5 612.6L913.4 608.9L918.4 603.9L923.4 613.9L930.8 606.4L935.8 600.2L940.8 602.7L950.7 595.2L958.2 599L968.2 602.7L978.1 606.4L984.3 616.4L990.5 628.8L998 635L1008 641.2L1017.9 651.2L1025.4 661.1L1035.3 666.1L1045.3 671.1L1055.2 667.4L1070 659.9L1079.9 656.2L1089.9 659.9L1099.8 662.4L1109.8 668.6L1113.5 683.5L1118.5 666.1L1120.9 657.4L1123.4 673.6L1127.2 676.1L1134.6 658.7L1142.1 633.8L1149.6 608.9L1157 586.5L1164.5 564.1L1169.5 561.6L1179.4 560.4L1183.1 550.4L1189.4 546.7L1194.3 551.7L1201.8 543L1209.3 549.2L1218 546.7L1224.2 552.9L1231.6 551.7L1239.1 560.4L1249.1 561.6L1252.8 579.1L1256.5 596.5L1260.2 599L1262.7 638.8L1265.2 676.1L1267.7 690.6L1318.7 690.6L1321.2 678.6L1324.9 676.1L1328.7 690.6L1356 690.6L1357.3 638.8L1359.8 589L1361 555.4L1368.5 552.9L1370.9 489.5L1372.2 464.6L1375.9 454.7L1380.9 450.9L1384.6 459.7L1387.1 475.8L1392.1 459.7L1395.8 444.7L1400.8 443.5L1404.5 434.8L1409.5 443.5L1413.2 449.7L1419.5 452.2L1425.7 462.1L1433.1 468.4L1439.4 479.6L1445.6 495.7L1453 506.9L1458 526.8L1463 536.8L1470.4 541.7L1479.2 554.2L1485.4 546.7L1490.3 536.8L1495.3 516.9L1499.1 489.5L1501.5 473.3L1506.5 469.6L1507.8 439.8L1510.2 414.9L1514 361.2L1516.5 323.9L1520.2 286.6L1522.7 249.3L1525.2 211.9L1528.9 174.6L1532.6 137.3L1536.4 110L1541.3 105L1541.3 690.6Z" fill="#3b3b3b"/>
<circle cx="177" cy="112.1" r="1.9" fill="#000" fill-opacity=".62"/>
<circle cx="177" cy="134.1" r="1.9" fill="#000" fill-opacity=".62"/>
<circle cx="177" cy="178" r="1.9" fill="#000" fill-opacity=".62"/>
<circle cx="242" cy="112.1" r="1.9" fill="#000" fill-opacity=".62"/>
<circle cx="242" cy="134.1" r="1.9" fill="#000" fill-opacity=".62"/>
<circle cx="242" cy="178" r="1.9" fill="#000" fill-opacity=".62"/>
<circle cx="242" cy="192.7" r="1.9" fill="#000" fill-opacity=".62"/>
<circle cx="242" cy="251.2" r="1.9" fill="#000" fill-opacity=".62"/>
<circle cx="242" cy="356.7" r="1.9" fill="#000" fill-opacity=".62"/>
<circle cx="242" cy="397.7" r="1.9" fill="#000" fill-opacity=".62"/>
<circle cx="438.4" cy="112.1" r="1.9" fill="#000" fill-opacity=".62"/>
<circle cx="438.4" cy="134.1" r="1.9" fill="#000" fill-opacity=".62"/>
<circle cx="438.4" cy="178" r="1.9" fill="#000" fill-opacity=".62"/>
<circle cx="438.4" cy="194.1" r="1.9" fill="#000" fill-opacity=".62"/>
<circle cx="438.4" cy="251.2" r="1.9" fill="#000" fill-opacity=".62"/>
<circle cx="438.4" cy="353.8" r="1.9" fill="#000" fill-opacity=".62"/>
<circle cx="438.4" cy="397.7" r="1.9" fill="#000" fill-opacity=".62"/>
<circle cx="438.4" cy="538.3" r="1.9" fill="#000" fill-opacity=".62"/>
<circle cx="673" cy="112.1" r="1.9" fill="#000" fill-opacity=".62"/>
<circle cx="673" cy="134.1" r="1.9" fill="#000" fill-opacity=".62"/>
<circle cx="673" cy="178" r="1.9" fill="#000" fill-opacity=".62"/>
<circle cx="673" cy="191.2" r="1.9" fill="#000" fill-opacity=".62"/>
<circle cx="673" cy="251.2" r="1.9" fill="#000" fill-opacity=".62"/>
<circle cx="673" cy="346.4" r="1.9" fill="#000" fill-opacity=".62"/>
<circle cx="673" cy="397.7" r="1.9" fill="#000" fill-opacity=".62"/>
<circle cx="673" cy="544.1" r="1.9" fill="#000" fill-opacity=".62"/>
<circle cx="904.2" cy="112.1" r="1.9" fill="#000" fill-opacity=".62"/>
<circle cx="904.2" cy="134.1" r="1.9" fill="#000" fill-opacity=".62"/>
<circle cx="904.2" cy="179.5" r="1.9" fill="#000" fill-opacity=".62"/>
<circle cx="904.2" cy="251.2" r="1.9" fill="#000" fill-opacity=".62"/>
<circle cx="904.2" cy="339.1" r="1.9" fill="#000" fill-opacity=".62"/>
<circle cx="904.2" cy="397.7" r="1.9" fill="#000" fill-opacity=".62"/>
<circle cx="904.2" cy="544.1" r="1.9" fill="#000" fill-opacity=".62"/>
<circle cx="1163" cy="112.1" r="1.9" fill="#000" fill-opacity=".62"/>
<circle cx="1163" cy="134.1" r="1.9" fill="#000" fill-opacity=".62"/>
<circle cx="1163" cy="182.4" r="1.9" fill="#000" fill-opacity=".62"/>
<circle cx="1163" cy="251.2" r="1.9" fill="#000" fill-opacity=".62"/>
<circle cx="1163" cy="298.1" r="1.9" fill="#000" fill-opacity=".62"/>
<circle cx="1163" cy="397.7" r="1.9" fill="#000" fill-opacity=".62"/>
<circle cx="1163" cy="544.1" r="1.9" fill="#000" fill-opacity=".62"/>
<circle cx="1394.3" cy="112.1" r="1.9" fill="#000" fill-opacity=".62"/>
<circle cx="1394.3" cy="134.1" r="1.9" fill="#000" fill-opacity=".62"/>
<circle cx="1394.3" cy="175.1" r="1.9" fill="#000" fill-opacity=".62"/>
<circle cx="1394.3" cy="397.7" r="1.9" fill="#000" fill-opacity=".62"/>
<circle cx="1394.3" cy="427" r="1.9" fill="#000" fill-opacity=".62"/>
<circle cx="1525.5" cy="112.1" r="1.9" fill="#000" fill-opacity=".62"/>
<circle cx="1525.5" cy="134.1" r="1.9" fill="#000" fill-opacity=".62"/>
<circle cx="1525.5" cy="153.1" r="1.9" fill="#000" fill-opacity=".62"/>
<circle cx="1525.5" cy="178" r="1.9" fill="#000" fill-opacity=".62"/>
<text x="159.5" y="671.5" font-size="55.5" fill="#fff" stroke="#fff" stroke-width=".9" textLength="355.5" lengthAdjust="spacingAndGlyphs">Cape Bathurst</text>
<rect x="139.6" y="104.8" width="1401.7" height="585.8" fill="none" stroke="#000" stroke-width="3.2"/>
<text x="121.6" y="113" font-size="25" text-anchor="end" font-weight="bold" font-style="italic" fill="#000">0</text>
<text x="121.6" y="259.4" font-size="25" text-anchor="end" font-weight="bold" font-style="italic" fill="#000">100</text>
<text x="121.6" y="405.9" font-size="25" text-anchor="end" font-weight="bold" font-style="italic" fill="#000">200</text>
<text x="121.6" y="552.4" font-size="25" text-anchor="end" font-weight="bold" font-style="italic" fill="#000">300</text>
<text x="121.6" y="698.8" font-size="25" text-anchor="end" font-weight="bold" font-style="italic" fill="#000">400</text>
<text x="140.1" y="731" font-size="25" text-anchor="middle" font-weight="bold" font-style="italic" fill="#000">0</text>
<text x="543.1" y="731" font-size="25" text-anchor="middle" font-weight="bold" font-style="italic" fill="#000">50</text>
<text x="946.1" y="731" font-size="25" text-anchor="middle" font-weight="bold" font-style="italic" fill="#000">100</text>
<text x="1349.1" y="731" font-size="25" text-anchor="middle" font-weight="bold" font-style="italic" fill="#000">150</text>
<path d="M138.1 104.8h-8M138.1 178h-4.5M138.1 251.2h-8M138.1 324.5h-4.5M138.1 397.7h-8M138.1 470.9h-4.5M138.1 544.1h-8M138.1 617.4h-4.5M138.1 690.6h-8M139.6 692.1v8M341.1 692.1v4.5M542.6 692.1v8M744.1 692.1v4.5M945.6 692.1v8M1147.1 692.1v4.5M1348.6 692.1v8" stroke="#777" stroke-width="1.4" fill="none"/>
<text x="840.4" y="766.1" font-size="31" text-anchor="middle" font-weight="bold" font-style="italic" fill="#000">Section Distance [km]</text>
<text transform="translate(47.1 398.7) rotate(-90)" font-size="31" text-anchor="middle" font-weight="bold" font-style="italic">Depth [m]</text>
<text x="1532.3" y="80.3" font-size="33" text-anchor="end" font-weight="bold" font-style="italic" letter-spacing=".9">Omega<tspan font-size="16" dy="4.5" dx="-1">A</tspan><tspan dy="-4.5" dx="-1">(P,T,ALK,DIC)</tspan></text>
<path d="M1567.3 107.8L1567.3 104.5L1575.3 103L1585.2 96.6L1588.2 95.8L1591.2 96.6L1601.2 103L1609.2 104.5L1609.2 689.4L1601.2 692.6L1591.2 700.2L1588.2 701.2L1585.2 700.2L1575.3 692.6L1567.3 689.4Z" fill="url(#cbg0)" stroke="#6a5a50" stroke-opacity=".55" stroke-width="1"/>
<text x="1618.5" y="113.1" font-size="24" text-anchor="start" font-weight="bold" font-style="italic" fill="#000">1.6</text>
<text x="1618.5" y="230.3" font-size="24" text-anchor="start" font-weight="bold" font-style="italic" fill="#000">1.4</text>
<text x="1618.5" y="347.4" font-size="24" text-anchor="start" font-weight="bold" font-style="italic" fill="#000">1.2</text>
<text x="1618.5" y="464.6" font-size="24" text-anchor="start" font-weight="bold" font-style="italic" fill="#000">1</text>
<text x="1618.5" y="581.7" font-size="24" text-anchor="start" font-weight="bold" font-style="italic" fill="#000">0.8</text>
<text x="1618.5" y="698.9" font-size="24" text-anchor="start" font-weight="bold" font-style="italic" fill="#000">0.6</text>
<path d="M1567.3 222h8.5M1609.2 222h-8.5M1567.3 339.1h8.5M1609.2 339.1h-8.5M1567.3 456.3h8.5M1609.2 456.3h-8.5M1567.3 573.4h8.5M1609.2 573.4h-8.5" stroke="#000" stroke-opacity=".5" stroke-width="2.2" fill="none"/>
<text transform="translate(1563 686.6) rotate(-90)" font-size="15.2" font-weight="bold" font-style="italic" textLength="176" lengthAdjust="spacingAndGlyphs">Ocean Data View / DIVA</text>
</g>
<g id="section2">
<path d="M130.2 1441.8L130.2 1006.4L139.5 1016.3L149.2 1032.6L155.7 1052.3L162.2 1068.6L175.2 1078.5L184.9 1091.6L201.2 1101.4L217.4 1111.1L236.9 1117.7L249.9 1127.6L269.4 1137.3L288.8 1150.5L308.3 1163.6L324.5 1176.7L340.8 1193L353.8 1209.3L366.8 1225.8L379.7 1242.1L392.7 1255.2L405.7 1268.3L425.2 1267.6L444.7 1265.7L457.7 1271.5L470.6 1284.7L483.6 1294.5L490.1 1307.5L499.9 1324L516.1 1333.8L532.3 1345.2L548.6 1348.5L558.3 1355L571.3 1350.2L582.7 1341.9L594 1346.9L603 1350.2L619.2 1356.6L632.2 1346.9L645.2 1338.7L664.7 1333.1L684.2 1337.1L697.1 1343.6L710.1 1363.2L719.9 1376.3L729.6 1389.4L742.6 1396L752.3 1409.1L762.1 1410.7L771.8 1402.5L778.3 1414L791.3 1412.3L804.3 1399.3L817.3 1386.2L823.8 1373.1L828.6 1330.5L840 1307.5L846.5 1284.7L856.2 1258.4L869.2 1245.4L888.7 1235.6L904.9 1225.8L921.2 1215.9L937.4 1210.3L950.4 1211L963.4 1219.2L976.4 1238.9L989.4 1252L1002.3 1271.5L1015.3 1284.7L1025.1 1307.5L1038.1 1333.8L1051 1360L1060.8 1389.4L1073 1412.3L1086 1435.3L1092.5 1440.1L1102.2 1436.9L1111.9 1418.8L1124.9 1392.7L1137.9 1366.5L1150.9 1340.3L1160.6 1307.5L1167.1 1278.1L1176.9 1255.2L1186.6 1247L1199.6 1240.5L1215.8 1240.5L1232.1 1245.4L1245.1 1240.5L1258.1 1225.8L1271 1209.3L1284 1193L1293.8 1176.7L1303.5 1150.5L1310 1127.6L1319.7 1104.6L1329.5 1078.5L1339.2 1058.8L1345.7 1035.9L1355.5 1016.3L1368.4 996.6L1384.7 970.4L1397.7 947.5L1410.6 931.2L1423.6 919.7L1433.4 908.2L1446.4 885.3L1456.1 869L1464.2 854.2L1541.6 854.2L1541.6 1441.8Z" fill="#3b3b3b"/>
<circle cx="181.7" cy="858.9" r="1.9" fill="#000" fill-opacity=".62"/>
<circle cx="181.7" cy="877.1" r="1.9" fill="#000" fill-opacity=".62"/>
<circle cx="181.7" cy="891.8" r="1.9" fill="#000" fill-opacity=".62"/>
<circle cx="181.7" cy="913" r="1.9" fill="#000" fill-opacity=".62"/>
<circle cx="181.7" cy="972.9" r="1.9" fill="#000" fill-opacity=".62"/>
<circle cx="181.7" cy="1015.2" r="1.9" fill="#000" fill-opacity=".62"/>
<circle cx="658.2" cy="858.9" r="1.9" fill="#000" fill-opacity=".62"/>
<circle cx="658.2" cy="877.1" r="1.9" fill="#000" fill-opacity=".62"/>
<circle cx="658.2" cy="900" r="1.9" fill="#000" fill-opacity=".62"/>
<circle cx="658.2" cy="913" r="1.9" fill="#000" fill-opacity=".62"/>
<circle cx="658.2" cy="971.7" r="1.9" fill="#000" fill-opacity=".62"/>
<circle cx="658.2" cy="1032.8" r="1.9" fill="#000" fill-opacity=".62"/>
<circle cx="658.2" cy="1091.6" r="1.9" fill="#000" fill-opacity=".62"/>
<circle cx="1089.2" cy="857.7" r="1.9" fill="#000" fill-opacity=".62"/>
<circle cx="1089.2" cy="877.1" r="1.9" fill="#000" fill-opacity=".62"/>
<circle cx="1089.2" cy="900" r="1.9" fill="#000" fill-opacity=".62"/>
<circle cx="1089.2" cy="913" r="1.9" fill="#000" fill-opacity=".62"/>
<circle cx="1089.2" cy="971.7" r="1.9" fill="#000" fill-opacity=".62"/>
<circle cx="1089.2" cy="1032.8" r="1.9" fill="#000" fill-opacity=".62"/>
<circle cx="1089.2" cy="1091.6" r="1.9" fill="#000" fill-opacity=".62"/>
<circle cx="1089.2" cy="1209.1" r="1.9" fill="#000" fill-opacity=".62"/>
<circle cx="1417.1" cy="858.9" r="1.9" fill="#000" fill-opacity=".62"/>
<circle cx="1417.1" cy="877.1" r="1.9" fill="#000" fill-opacity=".62"/>
<circle cx="1417.1" cy="898.4" r="1.9" fill="#000" fill-opacity=".62"/>
<circle cx="1417.1" cy="913" r="1.9" fill="#000" fill-opacity=".62"/>
<path id="redwedge" d="M130.2 854.2H245L236 856.2L130.2 862.2Z" fill="#d5202c"/>
<text x="144.5" y="1428" font-size="55.5" fill="#fff" stroke="#fff" stroke-width=".9" textLength="568" lengthAdjust="spacingAndGlyphs">Dolphin and Union Strait</text>
<rect x="130.2" y="854.2" width="1411.4" height="587.6" fill="none" stroke="#000" stroke-width="3.2"/>
<text x="112.2" y="862.4" font-size="25" text-anchor="end" font-weight="bold" font-style="italic" fill="#000">0</text>
<text x="112.2" y="979.9" font-size="25" text-anchor="end" font-weight="bold" font-style="italic" fill="#000">100</text>
<text x="112.2" y="1097.4" font-size="25" text-anchor="end" font-weight="bold" font-style="italic" fill="#000">200</text>
<text x="112.2" y="1215" font-size="25" text-anchor="end" font-weight="bold" font-style="italic" fill="#000">300</text>
<text x="112.2" y="1332.5" font-size="25" text-anchor="end" font-weight="bold" font-style="italic" fill="#000">400</text>
<text x="112.2" y="1450" font-size="25" text-anchor="end" font-weight="bold" font-style="italic" fill="#000">500</text>
<text x="130.7" y="1482.2" font-size="25" text-anchor="middle" font-weight="bold" font-style="italic" fill="#000">0</text>
<text x="632.7" y="1482.2" font-size="25" text-anchor="middle" font-weight="bold" font-style="italic" fill="#000">50</text>
<text x="1134.7" y="1482.2" font-size="25" text-anchor="middle" font-weight="bold" font-style="italic" fill="#000">100</text>
<path d="M128.7 854.2h-8M128.7 913h-4.5M128.7 971.7h-8M128.7 1030.5h-4.5M128.7 1089.2h-8M128.7 1148h-4.5M128.7 1206.8h-8M128.7 1265.5h-4.5M128.7 1324.3h-8M128.7 1383h-4.5M128.7 1441.8h-8M130.2 1443.3v8M381.2 1443.3v4.5M632.2 1443.3v8M883.2 1443.3v4.5M1134.2 1443.3v8M1385.2 1443.3v4.5" stroke="#777" stroke-width="1.4" fill="none"/>
<text x="835.9" y="1517.3" font-size="31" text-anchor="middle" font-weight="bold" font-style="italic" fill="#000">Section Distance [km]</text>
<text transform="translate(37.7 1149) rotate(-90)" font-size="31" text-anchor="middle" font-weight="bold" font-style="italic">Depth [m]</text>
<text x="1532.6" y="829.7" font-size="33" text-anchor="end" font-weight="bold" font-style="italic" letter-spacing=".9">Omega<tspan font-size="16" dy="4.5" dx="-1">A</tspan><tspan dy="-4.5" dx="-1">(P,T,ALK,DIC)</tspan></text>
<path d="M1567.3 857.2L1567.3 853.9L1575.3 852.4L1585.2 846L1588.2 845.2L1591.2 846L1601.2 852.4L1609.2 853.9L1609.2 1440.6L1601.2 1443.8L1591.2 1451.4L1588.2 1452.4L1585.2 1451.4L1575.3 1443.8L1567.3 1440.6Z" fill="url(#cbg1)" stroke="#6a5a50" stroke-opacity=".55" stroke-width="1"/>
<text x="1618.5" y="862.5" font-size="24" text-anchor="start" font-weight="bold" font-style="italic" fill="#000">1.6</text>
<text x="1618.5" y="980" font-size="24" text-anchor="start" font-weight="bold" font-style="italic" fill="#000">1.4</text>
<text x="1618.5" y="1097.5" font-size="24" text-anchor="start" font-weight="bold" font-style="italic" fill="#000">1.2</text>
<text x="1618.5" y="1215.1" font-size="24" text-anchor="start" font-weight="bold" font-style="italic" fill="#000">1</text>
<text x="1618.5" y="1332.6" font-size="24" text-anchor="start" font-weight="bold" font-style="italic" fill="#000">0.8</text>
<text x="1618.5" y="1450.1" font-size="24" text-anchor="start" font-weight="bold" font-style="italic" fill="#000">0.6</text>
<path d="M1567.3 971.7h8.5M1609.2 971.7h-8.5M1567.3 1089.2h8.5M1609.2 1089.2h-8.5M1567.3 1206.8h8.5M1609.2 1206.8h-8.5M1567.3 1324.3h8.5M1609.2 1324.3h-8.5" stroke="#000" stroke-opacity=".5" stroke-width="2.2" fill="none"/>
<text transform="translate(1563 1437.8) rotate(-90)" font-size="15.2" font-weight="bold" font-style="italic" textLength="176" lengthAdjust="spacingAndGlyphs">Ocean Data View / DIVA</text>
</g>
<g id="section3">
<path d="M140.2 2181L140.2 1893.1L156 1899.5L172.2 1907.7L194.9 1915.9L214.4 1921.7L237.1 1925L292.3 1925.6L357.3 1927.2L389.7 1932.1L422.2 1935.4L435.2 1938L451.4 1932.1L467.7 1930.5L496.9 1925L529.4 1923L565.1 1925L578.1 1935.4L594.3 1943.5L609.7 1951.6L619.5 1961.4L642.2 1966.3L645.5 1974.4L674.7 1974.4L681.2 1985.8L707.1 1982.5L713.6 1980.9L720.1 1990L742.9 1984.2L762.3 1989L775.3 1984.8L794.8 1985.8L811 1977.7L833.8 1971.2L850 1961.4L869.5 1963.1L885.7 1959.2L895.5 1971.2L911.7 1974.4L924.7 1984.2L937.7 1993.9L950.6 1997.1L970.1 2007L989.6 2011.9L1005.8 2020L1028.6 2026.5L1038.3 2036.2L1054.5 2042.7L1070.8 2045.9L1092.5 2047.6L1118.4 2045.9L1154.2 2049.2L1160.6 2059L1170.4 2071.4L1175.3 2057.4L1181.8 2057.4L1186.6 2065.5L1199.6 2068.8L1204.5 2052.4L1212.6 2051.8L1215.8 2059L1228.8 2060.7L1233.7 2065.5L1241.8 2063.9L1248.3 2049.2L1258.1 2048.5L1275.9 2054.2L1280.8 2024.8L1310 2022.6L1316.5 1993.9L1342.5 1989L1349 1965.3L1381.4 1964L1387.9 1945.1L1413.9 1943.5L1420.4 1917.5L1448 1914.3L1456.1 1884.9L1485.3 1885.9L1495.1 1849.1L1521 1851.7L1527.5 1815L1541.5 1811.8L1541.5 2181Z" fill="#3b3b3b"/>
<circle cx="244.6" cy="1606.7" r="1.9" fill="#000" fill-opacity=".62"/>
<circle cx="244.6" cy="1637.9" r="1.9" fill="#000" fill-opacity=".62"/>
<circle cx="244.6" cy="1688.5" r="1.9" fill="#000" fill-opacity=".62"/>
<circle cx="244.6" cy="1886.1" r="1.9" fill="#000" fill-opacity=".62"/>
<circle cx="244.6" cy="1903.8" r="1.9" fill="#000" fill-opacity=".62"/>
<circle cx="969.2" cy="1606.7" r="1.9" fill="#000" fill-opacity=".62"/>
<circle cx="969.2" cy="1635.9" r="1.9" fill="#000" fill-opacity=".62"/>
<circle cx="969.2" cy="1694.3" r="1.9" fill="#000" fill-opacity=".62"/>
<circle cx="969.2" cy="1886.5" r="1.9" fill="#000" fill-opacity=".62"/>
<circle cx="969.2" cy="1988.3" r="1.9" fill="#000" fill-opacity=".62"/>
<circle cx="1416.2" cy="1606.7" r="1.9" fill="#000" fill-opacity=".62"/>
<circle cx="1416.2" cy="1636.7" r="1.9" fill="#000" fill-opacity=".62"/>
<circle cx="1416.2" cy="1679.9" r="1.9" fill="#000" fill-opacity=".62"/>
<circle cx="1416.2" cy="1694.3" r="1.9" fill="#000" fill-opacity=".62"/>
<circle cx="1416.2" cy="1792.8" r="1.9" fill="#000" fill-opacity=".62"/>
<circle cx="1416.2" cy="1876.2" r="1.9" fill="#000" fill-opacity=".62"/>
<circle cx="1433.4" cy="1606.7" r="1.9" fill="#000" fill-opacity=".62"/>
<circle cx="1433.4" cy="1635.9" r="1.9" fill="#000" fill-opacity=".62"/>
<circle cx="1433.4" cy="1694.3" r="1.9" fill="#000" fill-opacity=".62"/>
<circle cx="1433.4" cy="1791.7" r="1.9" fill="#000" fill-opacity=".62"/>
<circle cx="1442.5" cy="1606.7" r="1.9" fill="#000" fill-opacity=".62"/>
<circle cx="1442.5" cy="1635.9" r="1.9" fill="#000" fill-opacity=".62"/>
<circle cx="1442.5" cy="1694.3" r="1.9" fill="#000" fill-opacity=".62"/>
<circle cx="1442.5" cy="1791.7" r="1.9" fill="#000" fill-opacity=".62"/>
<circle cx="1442.5" cy="1906.5" r="1.9" fill="#000" fill-opacity=".62"/>
<text x="161.5" y="2125" font-size="55.5" fill="#fff" stroke="#fff" stroke-width=".9" textLength="256.5" lengthAdjust="spacingAndGlyphs">Minto Inlet</text>
<rect x="140.2" y="1597" width="1401.3" height="584" fill="none" stroke="#000" stroke-width="3.2"/>
<text x="122.2" y="1605.2" font-size="25" text-anchor="end" font-weight="bold" font-style="italic" fill="#000">0</text>
<text x="122.2" y="1702.5" font-size="25" text-anchor="end" font-weight="bold" font-style="italic" fill="#000">50</text>
<text x="122.2" y="1799.9" font-size="25" text-anchor="end" font-weight="bold" font-style="italic" fill="#000">100</text>
<text x="122.2" y="1897.2" font-size="25" text-anchor="end" font-weight="bold" font-style="italic" fill="#000">150</text>
<text x="122.2" y="1994.5" font-size="25" text-anchor="end" font-weight="bold" font-style="italic" fill="#000">200</text>
<text x="122.2" y="2091.9" font-size="25" text-anchor="end" font-weight="bold" font-style="italic" fill="#000">250</text>
<text x="122.2" y="2189.2" font-size="25" text-anchor="end" font-weight="bold" font-style="italic" fill="#000">300</text>
<text x="140.7" y="2221.4" font-size="25" text-anchor="middle" font-weight="bold" font-style="italic" fill="#000">0</text>
<text x="453.3" y="2221.4" font-size="25" text-anchor="middle" font-weight="bold" font-style="italic" fill="#000">20</text>
<text x="765.9" y="2221.4" font-size="25" text-anchor="middle" font-weight="bold" font-style="italic" fill="#000">40</text>
<text x="1078.5" y="2221.4" font-size="25" text-anchor="middle" font-weight="bold" font-style="italic" fill="#000">60</text>
<text x="1391.1" y="2221.4" font-size="25" text-anchor="middle" font-weight="bold" font-style="italic" fill="#000">80</text>
<path d="M138.7 1597h-8M138.7 1645.7h-4.5M138.7 1694.3h-8M138.7 1743h-4.5M138.7 1791.7h-8M138.7 1840.3h-4.5M138.7 1889h-8M138.7 1937.7h-4.5M138.7 1986.3h-8M138.7 2035h-4.5M138.7 2083.7h-8M138.7 2132.3h-4.5M138.7 2181h-8M140.2 2182.5v8M296.5 2182.5v4.5M452.8 2182.5v8M609.1 2182.5v4.5M765.4 2182.5v8M921.7 2182.5v4.5M1078 2182.5v8M1234.3 2182.5v4.5M1390.6 2182.5v8" stroke="#777" stroke-width="1.4" fill="none"/>
<text x="840.9" y="2256.5" font-size="31" text-anchor="middle" font-weight="bold" font-style="italic" fill="#000">Section Distance [km]</text>
<text transform="translate(47.7 1890) rotate(-90)" font-size="31" text-anchor="middle" font-weight="bold" font-style="italic">Depth [m]</text>
<text x="1532.5" y="1572.5" font-size="33" text-anchor="end" font-weight="bold" font-style="italic" letter-spacing=".9">Omega<tspan font-size="16" dy="4.5" dx="-1">A</tspan><tspan dy="-4.5" dx="-1">(P,T,ALK,DIC)</tspan></text>
<path d="M1567.3 1600L1567.3 1596.7L1575.3 1595.2L1585.2 1588.8L1588.2 1588L1591.2 1588.8L1601.2 1595.2L1609.2 1596.7L1609.2 2179.8L1601.2 2183L1591.2 2190.6L1588.2 2191.6L1585.2 2190.6L1575.3 2183L1567.3 2179.8Z" fill="url(#cbg2)" stroke="#6a5a50" stroke-opacity=".55" stroke-width="1"/>
<text x="1618.5" y="1605.3" font-size="24" text-anchor="start" font-weight="bold" font-style="italic" fill="#000">1.6</text>
<text x="1618.5" y="1722.1" font-size="24" text-anchor="start" font-weight="bold" font-style="italic" fill="#000">1.4</text>
<text x="1618.5" y="1838.9" font-size="24" text-anchor="start" font-weight="bold" font-style="italic" fill="#000">1.2</text>
<text x="1618.5" y="1955.7" font-size="24" text-anchor="start" font-weight="bold" font-style="italic" fill="#000">1</text>
<text x="1618.5" y="2072.5" font-size="24" text-anchor="start" font-weight="bold" font-style="italic" fill="#000">0.8</text>
<text x="1618.5" y="2189.3" font-size="24" text-anchor="start" font-weight="bold" font-style="italic" fill="#000">0.6</text>
<path d="M1567.3 1713.8h8.5M1609.2 1713.8h-8.5M1567.3 1830.6h8.5M1609.2 1830.6h-8.5M1567.3 1947.4h8.5M1609.2 1947.4h-8.5M1567.3 2064.2h8.5M1609.2 2064.2h-8.5" stroke="#000" stroke-opacity=".5" stroke-width="2.2" fill="none"/>
<text transform="translate(1563 2177) rotate(-90)" font-size="15.2" font-weight="bold" font-style="italic" textLength="176" lengthAdjust="spacingAndGlyphs">Ocean Data View / DIVA</text>
</g>
<g id="profile1">
<text x="1815.2" y="82.7" font-size="30" text-anchor="middle" font-weight="normal" font-style="normal" fill="#000">0</text>
<text x="1944.2" y="82.7" font-size="30" text-anchor="middle" font-weight="normal" font-style="normal" fill="#000">2</text>
<text x="2073.2" y="82.7" font-size="30" text-anchor="middle" font-weight="normal" font-style="normal" fill="#000">4</text>
<text x="2202.3" y="82.7" font-size="30" text-anchor="middle" font-weight="normal" font-style="normal" fill="#000">6</text>
<text x="2331.3" y="82.7" font-size="30" text-anchor="middle" font-weight="normal" font-style="normal" fill="#000">8</text>
<text x="2460.3" y="82.7" font-size="30" text-anchor="middle" font-weight="normal" font-style="normal" fill="#000">10</text>
<text x="1785.7" y="117.5" font-size="30" text-anchor="end" font-weight="normal" font-style="normal" fill="#000">0</text>
<text x="1785.7" y="301.8" font-size="30" text-anchor="end" font-weight="normal" font-style="normal" fill="#000">100</text>
<text x="1785.7" y="486.1" font-size="30" text-anchor="end" font-weight="normal" font-style="normal" fill="#000">200</text>
<text x="1785.7" y="670.4" font-size="30" text-anchor="end" font-weight="normal" font-style="normal" fill="#000">300</text>
<path d="M1815.2 108.5V754.1H2460.3V108.5H1815.2M1815.2 108.5v-11.5M1944.2 108.5v-11.5M2073.2 108.5v-11.5M2202.3 108.5v-11.5M2331.3 108.5v-11.5M2460.3 108.5v-11.5M1815.2 108.5h-14.5M1815.2 292.8h-14.5M1815.2 477.1h-14.5M1815.2 661.4h-14.5" fill="none" stroke="#000" stroke-width="2.8"/>
<circle cx="1901" cy="108.5" r="9.3"/>
<circle cx="1940.3" cy="108.5" r="9.3"/>
<circle cx="2108.1" cy="200.7" r="9.3"/>
<circle cx="2417.1" cy="200.7" r="9.3"/>
<circle cx="1924.2" cy="292.8" r="9.3"/>
<circle cx="2141.6" cy="292.8" r="9.3"/>
<circle cx="1835.2" cy="384.9" r="9.3"/>
<circle cx="1836.5" cy="477.1" r="9.3"/>
<circle cx="1821.7" cy="661.4" r="9.3"/>
<text x="2452.5" y="732.5" font-size="40.5" text-anchor="end" letter-spacing=".7">Cape Bathurst</text>
<text transform="translate(1703.7 430.3) rotate(-90)" font-size="37.5" text-anchor="middle" letter-spacing="-1">Depth (m)</text>
<text x="2138.2" y="38" font-size="37" text-anchor="middle" letter-spacing="-.3"><tspan font-style="italic">Limacina helicina</tspan> (Ind m<tspan font-size="24" dy="-14">-3</tspan><tspan dy="14">)</tspan></text>
</g>
<g id="profile2">
<text x="1818" y="809.4" font-size="30" text-anchor="middle" font-weight="normal" font-style="normal" fill="#000">0</text>
<text x="1946.8" y="809.4" font-size="30" text-anchor="middle" font-weight="normal" font-style="normal" fill="#000">2</text>
<text x="2075.6" y="809.4" font-size="30" text-anchor="middle" font-weight="normal" font-style="normal" fill="#000">4</text>
<text x="2204.4" y="809.4" font-size="30" text-anchor="middle" font-weight="normal" font-style="normal" fill="#000">6</text>
<text x="2333.2" y="809.4" font-size="30" text-anchor="middle" font-weight="normal" font-style="normal" fill="#000">8</text>
<text x="2462" y="809.4" font-size="30" text-anchor="middle" font-weight="normal" font-style="normal" fill="#000">10</text>
<text x="1788.5" y="844.2" font-size="30" text-anchor="end" font-weight="normal" font-style="normal" fill="#000">0</text>
<text x="1788.5" y="1029.1" font-size="30" text-anchor="end" font-weight="normal" font-style="normal" fill="#000">100</text>
<text x="1788.5" y="1214" font-size="30" text-anchor="end" font-weight="normal" font-style="normal" fill="#000">200</text>
<text x="1788.5" y="1398.9" font-size="30" text-anchor="end" font-weight="normal" font-style="normal" fill="#000">300</text>
<path d="M1818 835.2V1480.7H2462V835.2H1818M1818 835.2v-11.5M1946.8 835.2v-11.5M2075.6 835.2v-11.5M2204.4 835.2v-11.5M2333.2 835.2v-11.5M2462 835.2v-11.5M1818 835.2h-14.5M1818 1020.1h-14.5M1818 1205h-14.5M1818 1389.9h-14.5" fill="none" stroke="#000" stroke-width="2.8"/>
<circle cx="1846.3" cy="835.2" r="9.3"/>
<circle cx="1936.5" cy="835.2" r="9.3"/>
<circle cx="1907.5" cy="927.7" r="9.3"/>
<circle cx="2067.2" cy="927.7" r="9.3"/>
<circle cx="2001.5" cy="1020.1" r="9.3"/>
<circle cx="2028.6" cy="1020.1" r="9.3"/>
<circle cx="1850.8" cy="1112.6" r="9.3"/>
<circle cx="1851.5" cy="1205" r="9.3"/>
<circle cx="1818" cy="1389.9" r="9.3"/>
<text x="2448.3" y="1461.2" font-size="40.5" text-anchor="end" letter-spacing=".7">Dolphin and Union Strait</text>
<text transform="translate(1706.5 1157) rotate(-90)" font-size="37.5" text-anchor="middle" letter-spacing="-1">Depth (m)</text>
</g>
<g id="profile3">
<text x="1815" y="1537.6" font-size="30" text-anchor="middle" font-weight="normal" font-style="normal" fill="#000">0</text>
<text x="1943.9" y="1537.6" font-size="30" text-anchor="middle" font-weight="normal" font-style="normal" fill="#000">2</text>
<text x="2072.9" y="1537.6" font-size="30" text-anchor="middle" font-weight="normal" font-style="normal" fill="#000">4</text>
<text x="2201.8" y="1537.6" font-size="30" text-anchor="middle" font-weight="normal" font-style="normal" fill="#000">6</text>
<text x="2330.8" y="1537.6" font-size="30" text-anchor="middle" font-weight="normal" font-style="normal" fill="#000">8</text>
<text x="2459.7" y="1537.6" font-size="30" text-anchor="middle" font-weight="normal" font-style="normal" fill="#000">10</text>
<text x="1785.5" y="1572.4" font-size="30" text-anchor="end" font-weight="normal" font-style="normal" fill="#000">0</text>
<text x="1785.5" y="1701.4" font-size="30" text-anchor="end" font-weight="normal" font-style="normal" fill="#000">50</text>
<text x="1785.5" y="1830.3" font-size="30" text-anchor="end" font-weight="normal" font-style="normal" fill="#000">100</text>
<text x="1785.5" y="1959.2" font-size="30" text-anchor="end" font-weight="normal" font-style="normal" fill="#000">150</text>
<text x="1785.5" y="2088.2" font-size="30" text-anchor="end" font-weight="normal" font-style="normal" fill="#000">200</text>
<text x="1785.5" y="2217.2" font-size="30" text-anchor="end" font-weight="normal" font-style="normal" fill="#000">250</text>
<path d="M1815 1563.4V2208.3H2459.7V1563.4H1815M1815 1563.4v-11.5M1943.9 1563.4v-11.5M2072.9 1563.4v-11.5M2201.8 1563.4v-11.5M2330.8 1563.4v-11.5M2459.7 1563.4v-11.5M1815 1563.4h-14.5M1815 1692.4h-14.5M1815 1821.3h-14.5M1815 1950.2h-14.5M1815 2079.2h-14.5M1815 2208.2h-14.5" fill="none" stroke="#000" stroke-width="2.8"/>
<circle cx="1837.6" cy="1563.4" r="9.3"/>
<circle cx="1857.6" cy="1563.4" r="9.3"/>
<circle cx="1839.5" cy="1627.9" r="9.3"/>
<circle cx="1923.3" cy="1692.4" r="9.3"/>
<circle cx="2160.6" cy="1692.4" r="9.3"/>
<circle cx="2096.7" cy="1821.3" r="9.3"/>
<circle cx="2147" cy="1821.3" r="9.3"/>
<circle cx="1898.8" cy="1950.2" r="9.3"/>
<circle cx="1956.8" cy="1950.2" r="9.3"/>
<circle cx="1828.5" cy="2079.2" r="9.3"/>
<text x="2440.3" y="2178.5" font-size="40.5" text-anchor="end" letter-spacing=".7">Minto Inlet</text>
<text transform="translate(1703.5 1884.9) rotate(-90)" font-size="37.5" text-anchor="middle" letter-spacing="-1">Depth (m)</text>
</g>
</svg></body></html>
